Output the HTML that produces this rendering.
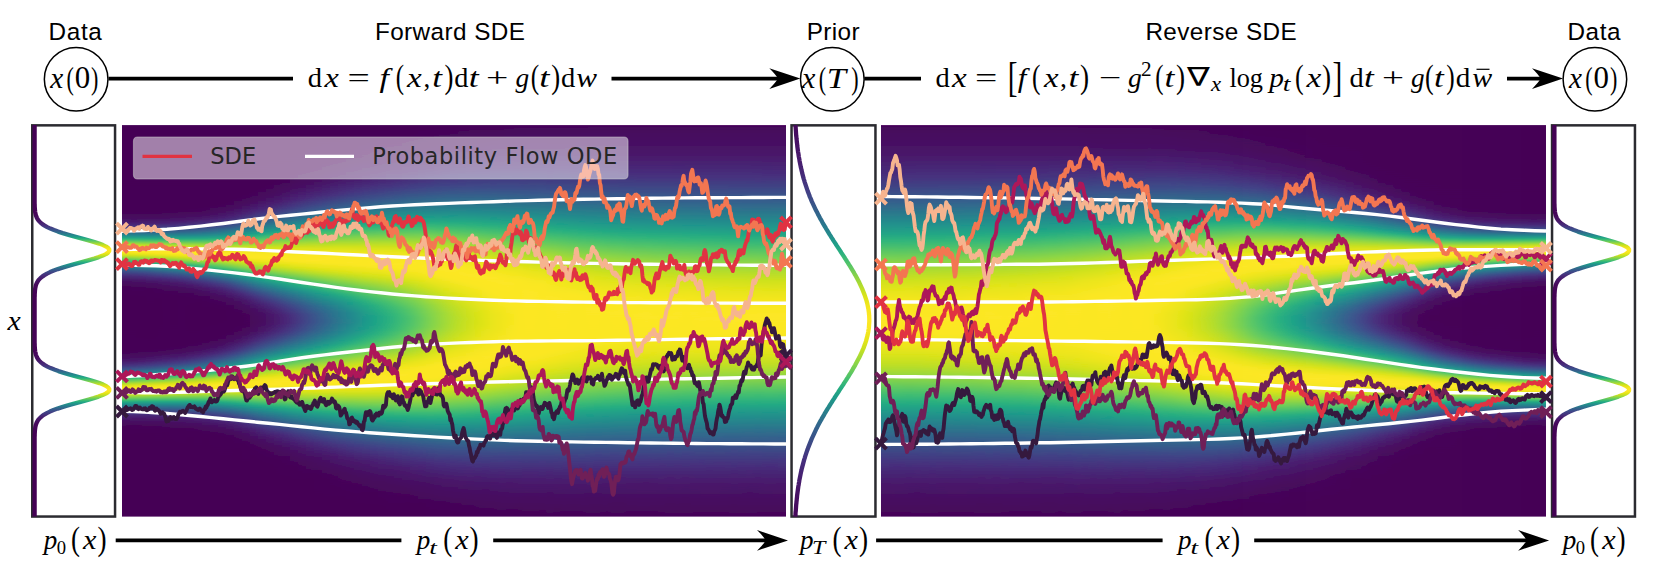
<!DOCTYPE html>
<html><head><meta charset="utf-8"><title>Score-based generative modeling through SDEs</title><style>html,body{margin:0;padding:0;background:#fff}
svg{display:block}
text{fill:#000}
.hv{font-family:"Liberation Sans",sans-serif;font-size:24.3px}
.dj{font-family:"DejaVu Sans",sans-serif;font-size:22.5px;fill:#262626}
.r{font-family:"Liberation Serif",serif}
.dv{font-family:"DejaVu Serif","DejaVu Sans",serif}
.ds{font-family:"DejaVu Sans",sans-serif}
.i{font-family:"Liberation Serif",serif;font-style:italic}</style></head><body>
<svg width="1668" height="580" viewBox="0 0 1668 580">
<defs>
<linearGradient id="h0" x1="0" y1="0" x2="0" y2="1"><stop offset="0" stop-color="#440154"/><stop offset="0.22" stop-color="#440256"/><stop offset="0.235" stop-color="#460a5d"/><stop offset="0.25" stop-color="#482071"/><stop offset="0.26" stop-color="#443a83"/><stop offset="0.276" stop-color="#2c728e"/><stop offset="0.286" stop-color="#1f9f88"/><stop offset="0.291" stop-color="#34b679"/><stop offset="0.296" stop-color="#60ca60"/><stop offset="0.301" stop-color="#95d840"/><stop offset="0.306" stop-color="#c8e020"/><stop offset="0.311" stop-color="#eae51a"/><stop offset="0.317" stop-color="#fbe723"/><stop offset="0.322" stop-color="#fde725"/><stop offset="0.327" stop-color="#efe51c"/><stop offset="0.332" stop-color="#d0e11c"/><stop offset="0.337" stop-color="#a0da39"/><stop offset="0.342" stop-color="#6ccd5a"/><stop offset="0.347" stop-color="#3bbb75"/><stop offset="0.352" stop-color="#20a386"/><stop offset="0.357" stop-color="#228d8d"/><stop offset="0.373" stop-color="#3c4f8a"/><stop offset="0.383" stop-color="#472e7c"/><stop offset="0.393" stop-color="#48186a"/><stop offset="0.408" stop-color="#46075a"/><stop offset="0.439" stop-color="#440154"/><stop offset="0.577" stop-color="#440256"/><stop offset="0.592" stop-color="#460b5e"/><stop offset="0.608" stop-color="#482374"/><stop offset="0.618" stop-color="#423f85"/><stop offset="0.633" stop-color="#2a788e"/><stop offset="0.638" stop-color="#218f8d"/><stop offset="0.643" stop-color="#21a685"/><stop offset="0.648" stop-color="#3fbc73"/><stop offset="0.654" stop-color="#70cf57"/><stop offset="0.659" stop-color="#a5db36"/><stop offset="0.664" stop-color="#d2e21b"/><stop offset="0.669" stop-color="#f1e51d"/><stop offset="0.674" stop-color="#fde725"/><stop offset="0.679" stop-color="#fbe723"/><stop offset="0.684" stop-color="#e7e419"/><stop offset="0.689" stop-color="#c2df23"/><stop offset="0.694" stop-color="#90d743"/><stop offset="0.7" stop-color="#5cc863"/><stop offset="0.705" stop-color="#2fb47c"/><stop offset="0.71" stop-color="#1e9d89"/><stop offset="0.72" stop-color="#2d718e"/><stop offset="0.73" stop-color="#3e4989"/><stop offset="0.74" stop-color="#472a7a"/><stop offset="0.756" stop-color="#470e61"/><stop offset="0.776" stop-color="#440256"/><stop offset="1" stop-color="#440154"/></linearGradient>
<linearGradient id="h1" x1="0" y1="0" x2="0" y2="1"><stop offset="0" stop-color="#440154"/><stop offset="0.22" stop-color="#440256"/><stop offset="0.235" stop-color="#460a5d"/><stop offset="0.25" stop-color="#482071"/><stop offset="0.26" stop-color="#443a83"/><stop offset="0.276" stop-color="#2c728e"/><stop offset="0.286" stop-color="#1f9f88"/><stop offset="0.291" stop-color="#34b679"/><stop offset="0.296" stop-color="#60ca60"/><stop offset="0.301" stop-color="#95d840"/><stop offset="0.306" stop-color="#c8e020"/><stop offset="0.311" stop-color="#eae51a"/><stop offset="0.317" stop-color="#fbe723"/><stop offset="0.322" stop-color="#fde725"/><stop offset="0.327" stop-color="#efe51c"/><stop offset="0.332" stop-color="#d0e11c"/><stop offset="0.337" stop-color="#a0da39"/><stop offset="0.342" stop-color="#6ccd5a"/><stop offset="0.347" stop-color="#3bbb75"/><stop offset="0.352" stop-color="#20a386"/><stop offset="0.357" stop-color="#228d8d"/><stop offset="0.373" stop-color="#3c4f8a"/><stop offset="0.383" stop-color="#472e7c"/><stop offset="0.393" stop-color="#48186a"/><stop offset="0.408" stop-color="#46075a"/><stop offset="0.439" stop-color="#440154"/><stop offset="0.577" stop-color="#440256"/><stop offset="0.592" stop-color="#460b5e"/><stop offset="0.608" stop-color="#482374"/><stop offset="0.618" stop-color="#423f85"/><stop offset="0.633" stop-color="#2a788e"/><stop offset="0.638" stop-color="#218f8d"/><stop offset="0.643" stop-color="#21a685"/><stop offset="0.648" stop-color="#3fbc73"/><stop offset="0.654" stop-color="#70cf57"/><stop offset="0.659" stop-color="#a5db36"/><stop offset="0.664" stop-color="#d2e21b"/><stop offset="0.669" stop-color="#f1e51d"/><stop offset="0.674" stop-color="#fde725"/><stop offset="0.679" stop-color="#fbe723"/><stop offset="0.684" stop-color="#e7e419"/><stop offset="0.689" stop-color="#c2df23"/><stop offset="0.694" stop-color="#90d743"/><stop offset="0.7" stop-color="#5cc863"/><stop offset="0.705" stop-color="#2fb47c"/><stop offset="0.71" stop-color="#1e9d89"/><stop offset="0.72" stop-color="#2d718e"/><stop offset="0.73" stop-color="#3e4989"/><stop offset="0.74" stop-color="#472a7a"/><stop offset="0.756" stop-color="#470e61"/><stop offset="0.776" stop-color="#440256"/><stop offset="1" stop-color="#440154"/></linearGradient>
<linearGradient id="h2" x1="0" y1="0" x2="0" y2="1"><stop offset="0" stop-color="#440154"/><stop offset="0.22" stop-color="#440256"/><stop offset="0.235" stop-color="#460a5d"/><stop offset="0.25" stop-color="#481f70"/><stop offset="0.26" stop-color="#443983"/><stop offset="0.271" stop-color="#365d8d"/><stop offset="0.281" stop-color="#24878e"/><stop offset="0.286" stop-color="#1f9e89"/><stop offset="0.291" stop-color="#31b57b"/><stop offset="0.296" stop-color="#5ec962"/><stop offset="0.301" stop-color="#93d741"/><stop offset="0.306" stop-color="#c5e021"/><stop offset="0.311" stop-color="#e7e419"/><stop offset="0.317" stop-color="#fbe723"/><stop offset="0.322" stop-color="#fde725"/><stop offset="0.327" stop-color="#efe51c"/><stop offset="0.332" stop-color="#d2e21b"/><stop offset="0.337" stop-color="#a2da37"/><stop offset="0.342" stop-color="#6ece58"/><stop offset="0.347" stop-color="#3dbc74"/><stop offset="0.352" stop-color="#21a585"/><stop offset="0.357" stop-color="#218e8d"/><stop offset="0.373" stop-color="#3c508b"/><stop offset="0.383" stop-color="#472f7d"/><stop offset="0.393" stop-color="#48186a"/><stop offset="0.408" stop-color="#46075a"/><stop offset="0.439" stop-color="#440154"/><stop offset="0.577" stop-color="#440256"/><stop offset="0.597" stop-color="#471164"/><stop offset="0.613" stop-color="#46307e"/><stop offset="0.623" stop-color="#3b528b"/><stop offset="0.638" stop-color="#21908d"/><stop offset="0.643" stop-color="#22a785"/><stop offset="0.648" stop-color="#42be71"/><stop offset="0.654" stop-color="#73d056"/><stop offset="0.659" stop-color="#a8db34"/><stop offset="0.664" stop-color="#d5e21a"/><stop offset="0.669" stop-color="#f1e51d"/><stop offset="0.674" stop-color="#fde725"/><stop offset="0.679" stop-color="#fbe723"/><stop offset="0.684" stop-color="#e5e419"/><stop offset="0.689" stop-color="#c0df25"/><stop offset="0.694" stop-color="#8ed645"/><stop offset="0.7" stop-color="#58c765"/><stop offset="0.705" stop-color="#2eb37c"/><stop offset="0.71" stop-color="#1e9c89"/><stop offset="0.72" stop-color="#2d708e"/><stop offset="0.73" stop-color="#3f4889"/><stop offset="0.74" stop-color="#482979"/><stop offset="0.756" stop-color="#470e61"/><stop offset="0.771" stop-color="#450457"/><stop offset="0.827" stop-color="#440154"/><stop offset="1" stop-color="#440154"/></linearGradient>
<linearGradient id="h3" x1="0" y1="0" x2="0" y2="1"><stop offset="0" stop-color="#440154"/><stop offset="0.22" stop-color="#440256"/><stop offset="0.24" stop-color="#470e61"/><stop offset="0.255" stop-color="#472a7a"/><stop offset="0.266" stop-color="#3e4989"/><stop offset="0.281" stop-color="#25858e"/><stop offset="0.286" stop-color="#1e9c89"/><stop offset="0.291" stop-color="#2eb37c"/><stop offset="0.296" stop-color="#5ac864"/><stop offset="0.301" stop-color="#8ed645"/><stop offset="0.306" stop-color="#c0df25"/><stop offset="0.311" stop-color="#e5e419"/><stop offset="0.317" stop-color="#fbe723"/><stop offset="0.322" stop-color="#fde725"/><stop offset="0.327" stop-color="#f1e51d"/><stop offset="0.332" stop-color="#d5e21a"/><stop offset="0.337" stop-color="#aadc32"/><stop offset="0.342" stop-color="#75d054"/><stop offset="0.347" stop-color="#44bf70"/><stop offset="0.352" stop-color="#23a983"/><stop offset="0.357" stop-color="#20928c"/><stop offset="0.373" stop-color="#3a538b"/><stop offset="0.383" stop-color="#46327e"/><stop offset="0.398" stop-color="#471365"/><stop offset="0.414" stop-color="#450559"/><stop offset="0.444" stop-color="#440154"/><stop offset="0.572" stop-color="#440256"/><stop offset="0.587" stop-color="#46085c"/><stop offset="0.603" stop-color="#481b6d"/><stop offset="0.613" stop-color="#46337f"/><stop offset="0.623" stop-color="#3a548c"/><stop offset="0.633" stop-color="#287d8e"/><stop offset="0.638" stop-color="#20938c"/><stop offset="0.643" stop-color="#25ab82"/><stop offset="0.648" stop-color="#48c16e"/><stop offset="0.654" stop-color="#7ad151"/><stop offset="0.659" stop-color="#b0dd2f"/><stop offset="0.664" stop-color="#dae319"/><stop offset="0.669" stop-color="#f4e61e"/><stop offset="0.674" stop-color="#fde725"/><stop offset="0.679" stop-color="#f8e621"/><stop offset="0.684" stop-color="#e2e418"/><stop offset="0.689" stop-color="#bade28"/><stop offset="0.694" stop-color="#89d548"/><stop offset="0.7" stop-color="#54c568"/><stop offset="0.705" stop-color="#2cb17e"/><stop offset="0.71" stop-color="#1f9a8a"/><stop offset="0.72" stop-color="#2e6e8e"/><stop offset="0.73" stop-color="#3f4788"/><stop offset="0.74" stop-color="#482979"/><stop offset="0.751" stop-color="#481668"/><stop offset="0.766" stop-color="#450559"/><stop offset="0.797" stop-color="#440154"/><stop offset="1" stop-color="#440154"/></linearGradient>
<linearGradient id="h4" x1="0" y1="0" x2="0" y2="1"><stop offset="0" stop-color="#440154"/><stop offset="0.22" stop-color="#440256"/><stop offset="0.235" stop-color="#460a5d"/><stop offset="0.25" stop-color="#481f70"/><stop offset="0.26" stop-color="#443983"/><stop offset="0.271" stop-color="#365c8d"/><stop offset="0.281" stop-color="#25848e"/><stop offset="0.286" stop-color="#1e9b8a"/><stop offset="0.291" stop-color="#2db27d"/><stop offset="0.296" stop-color="#56c667"/><stop offset="0.301" stop-color="#8bd646"/><stop offset="0.306" stop-color="#bddf26"/><stop offset="0.311" stop-color="#e2e418"/><stop offset="0.317" stop-color="#f8e621"/><stop offset="0.322" stop-color="#fde725"/><stop offset="0.327" stop-color="#f4e61e"/><stop offset="0.332" stop-color="#dae319"/><stop offset="0.337" stop-color="#b2dd2d"/><stop offset="0.342" stop-color="#7fd34e"/><stop offset="0.347" stop-color="#4cc26c"/><stop offset="0.352" stop-color="#26ad81"/><stop offset="0.357" stop-color="#1f958b"/><stop offset="0.368" stop-color="#2f6b8e"/><stop offset="0.378" stop-color="#404588"/><stop offset="0.388" stop-color="#482878"/><stop offset="0.398" stop-color="#481467"/><stop offset="0.414" stop-color="#450559"/><stop offset="0.444" stop-color="#440154"/><stop offset="0.572" stop-color="#440256"/><stop offset="0.592" stop-color="#470e61"/><stop offset="0.603" stop-color="#481d6f"/><stop offset="0.613" stop-color="#453781"/><stop offset="0.623" stop-color="#38598c"/><stop offset="0.633" stop-color="#26828e"/><stop offset="0.638" stop-color="#1f988b"/><stop offset="0.643" stop-color="#29af7f"/><stop offset="0.648" stop-color="#50c46a"/><stop offset="0.654" stop-color="#84d44b"/><stop offset="0.659" stop-color="#b5de2b"/><stop offset="0.664" stop-color="#dfe318"/><stop offset="0.669" stop-color="#f6e620"/><stop offset="0.674" stop-color="#fde725"/><stop offset="0.679" stop-color="#f6e620"/><stop offset="0.684" stop-color="#dfe318"/><stop offset="0.689" stop-color="#b8de29"/><stop offset="0.694" stop-color="#84d44b"/><stop offset="0.7" stop-color="#52c569"/><stop offset="0.705" stop-color="#29af7f"/><stop offset="0.71" stop-color="#1f998a"/><stop offset="0.72" stop-color="#2e6e8e"/><stop offset="0.73" stop-color="#3f4788"/><stop offset="0.74" stop-color="#482979"/><stop offset="0.751" stop-color="#481668"/><stop offset="0.766" stop-color="#46075a"/><stop offset="0.791" stop-color="#440154"/><stop offset="1" stop-color="#440154"/></linearGradient>
<linearGradient id="h5" x1="0" y1="0" x2="0" y2="1"><stop offset="0" stop-color="#440154"/><stop offset="0.22" stop-color="#440256"/><stop offset="0.235" stop-color="#460a5d"/><stop offset="0.25" stop-color="#482071"/><stop offset="0.26" stop-color="#443983"/><stop offset="0.271" stop-color="#365c8d"/><stop offset="0.281" stop-color="#25848e"/><stop offset="0.286" stop-color="#1f9a8a"/><stop offset="0.291" stop-color="#2cb17e"/><stop offset="0.296" stop-color="#54c568"/><stop offset="0.301" stop-color="#86d549"/><stop offset="0.306" stop-color="#b8de29"/><stop offset="0.311" stop-color="#dfe318"/><stop offset="0.317" stop-color="#f6e620"/><stop offset="0.322" stop-color="#fde725"/><stop offset="0.327" stop-color="#f6e620"/><stop offset="0.332" stop-color="#dfe318"/><stop offset="0.337" stop-color="#bade28"/><stop offset="0.342" stop-color="#89d548"/><stop offset="0.347" stop-color="#54c568"/><stop offset="0.352" stop-color="#2cb17e"/><stop offset="0.357" stop-color="#1e9b8a"/><stop offset="0.368" stop-color="#2d708e"/><stop offset="0.378" stop-color="#3e4989"/><stop offset="0.388" stop-color="#472c7a"/><stop offset="0.403" stop-color="#471063"/><stop offset="0.419" stop-color="#450457"/><stop offset="0.5" stop-color="#440154"/><stop offset="0.572" stop-color="#440256"/><stop offset="0.587" stop-color="#460b5e"/><stop offset="0.603" stop-color="#482173"/><stop offset="0.613" stop-color="#443b84"/><stop offset="0.628" stop-color="#2c718e"/><stop offset="0.638" stop-color="#1e9d89"/><stop offset="0.643" stop-color="#2fb47c"/><stop offset="0.648" stop-color="#5ac864"/><stop offset="0.654" stop-color="#8ed645"/><stop offset="0.659" stop-color="#bddf26"/><stop offset="0.664" stop-color="#e2e418"/><stop offset="0.669" stop-color="#f8e621"/><stop offset="0.674" stop-color="#fde725"/><stop offset="0.679" stop-color="#f6e620"/><stop offset="0.684" stop-color="#dde318"/><stop offset="0.689" stop-color="#b2dd2d"/><stop offset="0.694" stop-color="#81d34d"/><stop offset="0.7" stop-color="#4ec36b"/><stop offset="0.705" stop-color="#28ae80"/><stop offset="0.71" stop-color="#1f988b"/><stop offset="0.72" stop-color="#2e6e8e"/><stop offset="0.73" stop-color="#3f4889"/><stop offset="0.74" stop-color="#472a7a"/><stop offset="0.751" stop-color="#481668"/><stop offset="0.766" stop-color="#46075a"/><stop offset="0.791" stop-color="#440154"/><stop offset="1" stop-color="#440154"/></linearGradient>
<linearGradient id="h6" x1="0" y1="0" x2="0" y2="1"><stop offset="0" stop-color="#440154"/><stop offset="0.22" stop-color="#440256"/><stop offset="0.235" stop-color="#460b5e"/><stop offset="0.25" stop-color="#482071"/><stop offset="0.26" stop-color="#443a83"/><stop offset="0.276" stop-color="#2d708e"/><stop offset="0.286" stop-color="#1f9a8a"/><stop offset="0.291" stop-color="#2ab07f"/><stop offset="0.296" stop-color="#52c569"/><stop offset="0.301" stop-color="#84d44b"/><stop offset="0.306" stop-color="#b5de2b"/><stop offset="0.311" stop-color="#dde318"/><stop offset="0.317" stop-color="#f4e61e"/><stop offset="0.322" stop-color="#fde725"/><stop offset="0.327" stop-color="#f8e621"/><stop offset="0.332" stop-color="#e5e419"/><stop offset="0.337" stop-color="#c2df23"/><stop offset="0.342" stop-color="#93d741"/><stop offset="0.347" stop-color="#5ec962"/><stop offset="0.352" stop-color="#34b679"/><stop offset="0.357" stop-color="#1fa188"/><stop offset="0.368" stop-color="#2b758e"/><stop offset="0.383" stop-color="#423f85"/><stop offset="0.393" stop-color="#482475"/><stop offset="0.403" stop-color="#471365"/><stop offset="0.419" stop-color="#450559"/><stop offset="0.449" stop-color="#440154"/><stop offset="0.567" stop-color="#440256"/><stop offset="0.582" stop-color="#46085c"/><stop offset="0.597" stop-color="#481b6d"/><stop offset="0.613" stop-color="#424086"/><stop offset="0.628" stop-color="#2a778e"/><stop offset="0.633" stop-color="#228d8d"/><stop offset="0.638" stop-color="#1fa287"/><stop offset="0.643" stop-color="#37b878"/><stop offset="0.648" stop-color="#63cb5f"/><stop offset="0.654" stop-color="#98d83e"/><stop offset="0.659" stop-color="#c5e021"/><stop offset="0.664" stop-color="#e7e419"/><stop offset="0.669" stop-color="#fbe723"/><stop offset="0.674" stop-color="#fde725"/><stop offset="0.679" stop-color="#f4e61e"/><stop offset="0.684" stop-color="#d8e219"/><stop offset="0.689" stop-color="#b0dd2f"/><stop offset="0.694" stop-color="#7fd34e"/><stop offset="0.7" stop-color="#4cc26c"/><stop offset="0.705" stop-color="#28ae80"/><stop offset="0.71" stop-color="#1f988b"/><stop offset="0.72" stop-color="#2e6e8e"/><stop offset="0.735" stop-color="#443983"/><stop offset="0.745" stop-color="#482071"/><stop offset="0.761" stop-color="#460b5e"/><stop offset="0.776" stop-color="#440256"/><stop offset="1" stop-color="#440154"/></linearGradient>
<linearGradient id="h7" x1="0" y1="0" x2="0" y2="1"><stop offset="0" stop-color="#440154"/><stop offset="0.214" stop-color="#440256"/><stop offset="0.235" stop-color="#460b5e"/><stop offset="0.25" stop-color="#482173"/><stop offset="0.26" stop-color="#443b84"/><stop offset="0.276" stop-color="#2d718e"/><stop offset="0.286" stop-color="#1f9a8a"/><stop offset="0.291" stop-color="#29af7f"/><stop offset="0.296" stop-color="#50c46a"/><stop offset="0.306" stop-color="#b0dd2f"/><stop offset="0.311" stop-color="#d8e219"/><stop offset="0.317" stop-color="#f4e61e"/><stop offset="0.322" stop-color="#fde725"/><stop offset="0.327" stop-color="#fbe723"/><stop offset="0.332" stop-color="#eae51a"/><stop offset="0.337" stop-color="#c8e020"/><stop offset="0.342" stop-color="#9dd93b"/><stop offset="0.347" stop-color="#69cd5b"/><stop offset="0.352" stop-color="#3dbc74"/><stop offset="0.357" stop-color="#21a685"/><stop offset="0.363" stop-color="#21918c"/><stop offset="0.378" stop-color="#39558c"/><stop offset="0.388" stop-color="#453581"/><stop offset="0.398" stop-color="#481d6f"/><stop offset="0.414" stop-color="#460a5d"/><stop offset="0.434" stop-color="#440256"/><stop offset="0.567" stop-color="#440256"/><stop offset="0.582" stop-color="#460a5d"/><stop offset="0.603" stop-color="#482979"/><stop offset="0.613" stop-color="#404688"/><stop offset="0.628" stop-color="#277e8e"/><stop offset="0.633" stop-color="#20928c"/><stop offset="0.638" stop-color="#22a884"/><stop offset="0.643" stop-color="#40bd72"/><stop offset="0.648" stop-color="#6ece58"/><stop offset="0.659" stop-color="#cde11d"/><stop offset="0.664" stop-color="#ece51b"/><stop offset="0.669" stop-color="#fbe723"/><stop offset="0.674" stop-color="#fde725"/><stop offset="0.679" stop-color="#f1e51d"/><stop offset="0.684" stop-color="#d5e21a"/><stop offset="0.689" stop-color="#addc30"/><stop offset="0.694" stop-color="#7ad151"/><stop offset="0.7" stop-color="#4ac16d"/><stop offset="0.705" stop-color="#27ad81"/><stop offset="0.71" stop-color="#1f978b"/><stop offset="0.72" stop-color="#2e6e8e"/><stop offset="0.735" stop-color="#443a83"/><stop offset="0.745" stop-color="#482173"/><stop offset="0.761" stop-color="#460b5e"/><stop offset="0.786" stop-color="#440154"/><stop offset="1" stop-color="#440154"/></linearGradient>
<linearGradient id="h8" x1="0" y1="0" x2="0" y2="1"><stop offset="0" stop-color="#440154"/><stop offset="0.214" stop-color="#440256"/><stop offset="0.23" stop-color="#46085c"/><stop offset="0.245" stop-color="#481a6c"/><stop offset="0.255" stop-color="#472e7c"/><stop offset="0.266" stop-color="#3d4d8a"/><stop offset="0.281" stop-color="#25848e"/><stop offset="0.286" stop-color="#1f998a"/><stop offset="0.291" stop-color="#29af7f"/><stop offset="0.296" stop-color="#4ec36b"/><stop offset="0.306" stop-color="#addc30"/><stop offset="0.311" stop-color="#d5e21a"/><stop offset="0.317" stop-color="#f1e51d"/><stop offset="0.322" stop-color="#fde725"/><stop offset="0.327" stop-color="#fde725"/><stop offset="0.332" stop-color="#efe51c"/><stop offset="0.337" stop-color="#d0e11c"/><stop offset="0.342" stop-color="#a5db36"/><stop offset="0.347" stop-color="#75d054"/><stop offset="0.352" stop-color="#46c06f"/><stop offset="0.357" stop-color="#25ac82"/><stop offset="0.363" stop-color="#1f968b"/><stop offset="0.378" stop-color="#365c8d"/><stop offset="0.388" stop-color="#443a83"/><stop offset="0.403" stop-color="#48186a"/><stop offset="0.424" stop-color="#450559"/><stop offset="0.454" stop-color="#440154"/><stop offset="0.562" stop-color="#440256"/><stop offset="0.577" stop-color="#46085c"/><stop offset="0.592" stop-color="#481a6c"/><stop offset="0.608" stop-color="#443b84"/><stop offset="0.623" stop-color="#2d708e"/><stop offset="0.633" stop-color="#1f998a"/><stop offset="0.638" stop-color="#28ae80"/><stop offset="0.643" stop-color="#4cc26c"/><stop offset="0.654" stop-color="#aadc32"/><stop offset="0.659" stop-color="#d5e21a"/><stop offset="0.664" stop-color="#efe51c"/><stop offset="0.669" stop-color="#fde725"/><stop offset="0.674" stop-color="#fde725"/><stop offset="0.679" stop-color="#efe51c"/><stop offset="0.684" stop-color="#d2e21b"/><stop offset="0.689" stop-color="#a8db34"/><stop offset="0.694" stop-color="#77d153"/><stop offset="0.7" stop-color="#48c16e"/><stop offset="0.705" stop-color="#26ad81"/><stop offset="0.71" stop-color="#1f978b"/><stop offset="0.72" stop-color="#2e6f8e"/><stop offset="0.735" stop-color="#443b84"/><stop offset="0.745" stop-color="#482374"/><stop offset="0.761" stop-color="#470d60"/><stop offset="0.776" stop-color="#450457"/><stop offset="0.832" stop-color="#440154"/><stop offset="1" stop-color="#440154"/></linearGradient>
<linearGradient id="h9" x1="0" y1="0" x2="0" y2="1"><stop offset="0" stop-color="#440154"/><stop offset="0.214" stop-color="#440256"/><stop offset="0.235" stop-color="#470e61"/><stop offset="0.245" stop-color="#481b6d"/><stop offset="0.26" stop-color="#433e85"/><stop offset="0.276" stop-color="#2c718e"/><stop offset="0.286" stop-color="#1f9a8a"/><stop offset="0.291" stop-color="#28ae80"/><stop offset="0.296" stop-color="#4cc26c"/><stop offset="0.306" stop-color="#aadc32"/><stop offset="0.311" stop-color="#d2e21b"/><stop offset="0.317" stop-color="#efe51c"/><stop offset="0.322" stop-color="#fde725"/><stop offset="0.327" stop-color="#fde725"/><stop offset="0.332" stop-color="#f1e51d"/><stop offset="0.337" stop-color="#d8e219"/><stop offset="0.342" stop-color="#b0dd2f"/><stop offset="0.347" stop-color="#81d34d"/><stop offset="0.352" stop-color="#52c569"/><stop offset="0.357" stop-color="#2db27d"/><stop offset="0.363" stop-color="#1e9d89"/><stop offset="0.373" stop-color="#2b748e"/><stop offset="0.388" stop-color="#424086"/><stop offset="0.403" stop-color="#481c6e"/><stop offset="0.419" stop-color="#460a5d"/><stop offset="0.439" stop-color="#440256"/><stop offset="0.562" stop-color="#440256"/><stop offset="0.577" stop-color="#460a5d"/><stop offset="0.592" stop-color="#481d6f"/><stop offset="0.608" stop-color="#414287"/><stop offset="0.623" stop-color="#2a768e"/><stop offset="0.633" stop-color="#1fa088"/><stop offset="0.638" stop-color="#2fb47c"/><stop offset="0.643" stop-color="#56c667"/><stop offset="0.648" stop-color="#86d549"/><stop offset="0.654" stop-color="#b5de2b"/><stop offset="0.659" stop-color="#dae319"/><stop offset="0.664" stop-color="#f4e61e"/><stop offset="0.669" stop-color="#fde725"/><stop offset="0.674" stop-color="#fbe723"/><stop offset="0.679" stop-color="#ece51b"/><stop offset="0.684" stop-color="#cde11d"/><stop offset="0.689" stop-color="#a5db36"/><stop offset="0.7" stop-color="#48c16e"/><stop offset="0.705" stop-color="#26ad81"/><stop offset="0.71" stop-color="#1f978b"/><stop offset="0.725" stop-color="#355e8d"/><stop offset="0.74" stop-color="#472f7d"/><stop offset="0.756" stop-color="#471365"/><stop offset="0.776" stop-color="#450457"/><stop offset="0.858" stop-color="#440154"/><stop offset="1" stop-color="#440154"/></linearGradient>
<linearGradient id="h10" x1="0" y1="0" x2="0" y2="1"><stop offset="0" stop-color="#440154"/><stop offset="0.209" stop-color="#440256"/><stop offset="0.225" stop-color="#46075a"/><stop offset="0.245" stop-color="#481d6f"/><stop offset="0.26" stop-color="#424186"/><stop offset="0.276" stop-color="#2c738e"/><stop offset="0.286" stop-color="#1e9b8a"/><stop offset="0.291" stop-color="#29af7f"/><stop offset="0.296" stop-color="#4cc26c"/><stop offset="0.306" stop-color="#a5db36"/><stop offset="0.311" stop-color="#d0e11c"/><stop offset="0.317" stop-color="#ece51b"/><stop offset="0.322" stop-color="#fbe723"/><stop offset="0.327" stop-color="#fde725"/><stop offset="0.332" stop-color="#f4e61e"/><stop offset="0.337" stop-color="#dfe318"/><stop offset="0.342" stop-color="#bade28"/><stop offset="0.352" stop-color="#60ca60"/><stop offset="0.357" stop-color="#37b878"/><stop offset="0.363" stop-color="#20a486"/><stop offset="0.368" stop-color="#21908d"/><stop offset="0.383" stop-color="#38598c"/><stop offset="0.398" stop-color="#472d7b"/><stop offset="0.408" stop-color="#481a6c"/><stop offset="0.429" stop-color="#450559"/><stop offset="0.47" stop-color="#440154"/><stop offset="0.557" stop-color="#440256"/><stop offset="0.577" stop-color="#470d60"/><stop offset="0.592" stop-color="#482374"/><stop offset="0.608" stop-color="#3e4989"/><stop offset="0.623" stop-color="#277e8e"/><stop offset="0.628" stop-color="#20928c"/><stop offset="0.633" stop-color="#21a685"/><stop offset="0.638" stop-color="#3aba76"/><stop offset="0.643" stop-color="#65cb5e"/><stop offset="0.654" stop-color="#c0df25"/><stop offset="0.659" stop-color="#e2e418"/><stop offset="0.664" stop-color="#f6e620"/><stop offset="0.669" stop-color="#fde725"/><stop offset="0.674" stop-color="#fbe723"/><stop offset="0.679" stop-color="#eae51a"/><stop offset="0.684" stop-color="#cae11f"/><stop offset="0.689" stop-color="#a2da37"/><stop offset="0.7" stop-color="#46c06f"/><stop offset="0.705" stop-color="#26ad81"/><stop offset="0.71" stop-color="#1f988b"/><stop offset="0.725" stop-color="#34608d"/><stop offset="0.74" stop-color="#46327e"/><stop offset="0.751" stop-color="#481c6e"/><stop offset="0.771" stop-color="#46075a"/><stop offset="0.802" stop-color="#440154"/><stop offset="1" stop-color="#440154"/></linearGradient>
<linearGradient id="h11" x1="0" y1="0" x2="0" y2="1"><stop offset="0" stop-color="#440154"/><stop offset="0.209" stop-color="#440256"/><stop offset="0.225" stop-color="#46085c"/><stop offset="0.24" stop-color="#48186a"/><stop offset="0.255" stop-color="#453781"/><stop offset="0.271" stop-color="#32658e"/><stop offset="0.281" stop-color="#23888e"/><stop offset="0.286" stop-color="#1e9c89"/><stop offset="0.291" stop-color="#2ab07f"/><stop offset="0.296" stop-color="#4cc26c"/><stop offset="0.306" stop-color="#a5db36"/><stop offset="0.311" stop-color="#cde11d"/><stop offset="0.317" stop-color="#eae51a"/><stop offset="0.322" stop-color="#f8e621"/><stop offset="0.327" stop-color="#fde725"/><stop offset="0.332" stop-color="#f8e621"/><stop offset="0.337" stop-color="#e5e419"/><stop offset="0.342" stop-color="#c5e021"/><stop offset="0.347" stop-color="#9dd93b"/><stop offset="0.352" stop-color="#6ece58"/><stop offset="0.357" stop-color="#44bf70"/><stop offset="0.363" stop-color="#26ad81"/><stop offset="0.368" stop-color="#1f988b"/><stop offset="0.383" stop-color="#34618d"/><stop offset="0.398" stop-color="#463480"/><stop offset="0.414" stop-color="#481769"/><stop offset="0.429" stop-color="#46085c"/><stop offset="0.454" stop-color="#440154"/><stop offset="0.551" stop-color="#440256"/><stop offset="0.567" stop-color="#46085c"/><stop offset="0.582" stop-color="#48186a"/><stop offset="0.592" stop-color="#482979"/><stop offset="0.608" stop-color="#3b528b"/><stop offset="0.623" stop-color="#24878e"/><stop offset="0.628" stop-color="#1e9b8a"/><stop offset="0.633" stop-color="#28ae80"/><stop offset="0.638" stop-color="#48c16e"/><stop offset="0.648" stop-color="#a0da39"/><stop offset="0.654" stop-color="#cae11f"/><stop offset="0.659" stop-color="#e7e419"/><stop offset="0.664" stop-color="#f8e621"/><stop offset="0.669" stop-color="#fde725"/><stop offset="0.674" stop-color="#f8e621"/><stop offset="0.679" stop-color="#e7e419"/><stop offset="0.684" stop-color="#c8e020"/><stop offset="0.689" stop-color="#a0da39"/><stop offset="0.7" stop-color="#48c16e"/><stop offset="0.705" stop-color="#28ae80"/><stop offset="0.71" stop-color="#1f9a8a"/><stop offset="0.72" stop-color="#2b748e"/><stop offset="0.735" stop-color="#414287"/><stop offset="0.745" stop-color="#482979"/><stop offset="0.761" stop-color="#471164"/><stop offset="0.781" stop-color="#450457"/><stop offset="0.863" stop-color="#440154"/><stop offset="1" stop-color="#440154"/></linearGradient>
<linearGradient id="h12" x1="0" y1="0" x2="0" y2="1"><stop offset="0" stop-color="#440154"/><stop offset="0.204" stop-color="#440256"/><stop offset="0.22" stop-color="#46075a"/><stop offset="0.235" stop-color="#481467"/><stop offset="0.25" stop-color="#472e7c"/><stop offset="0.266" stop-color="#38588c"/><stop offset="0.281" stop-color="#228b8d"/><stop offset="0.286" stop-color="#1f9e89"/><stop offset="0.291" stop-color="#2cb17e"/><stop offset="0.296" stop-color="#4ec36b"/><stop offset="0.306" stop-color="#a2da37"/><stop offset="0.311" stop-color="#cae11f"/><stop offset="0.317" stop-color="#e7e419"/><stop offset="0.322" stop-color="#f8e621"/><stop offset="0.327" stop-color="#fde725"/><stop offset="0.332" stop-color="#fbe723"/><stop offset="0.337" stop-color="#eae51a"/><stop offset="0.342" stop-color="#d0e11c"/><stop offset="0.347" stop-color="#aadc32"/><stop offset="0.357" stop-color="#54c568"/><stop offset="0.363" stop-color="#31b57b"/><stop offset="0.368" stop-color="#1fa187"/><stop offset="0.373" stop-color="#218f8d"/><stop offset="0.388" stop-color="#375b8d"/><stop offset="0.403" stop-color="#46307e"/><stop offset="0.419" stop-color="#481668"/><stop offset="0.439" stop-color="#450559"/><stop offset="0.48" stop-color="#440154"/><stop offset="0.551" stop-color="#450457"/><stop offset="0.572" stop-color="#471063"/><stop offset="0.587" stop-color="#482677"/><stop offset="0.603" stop-color="#3d4d8a"/><stop offset="0.618" stop-color="#277e8e"/><stop offset="0.623" stop-color="#21918c"/><stop offset="0.628" stop-color="#20a386"/><stop offset="0.633" stop-color="#34b679"/><stop offset="0.638" stop-color="#58c765"/><stop offset="0.648" stop-color="#addc30"/><stop offset="0.654" stop-color="#d2e21b"/><stop offset="0.659" stop-color="#ece51b"/><stop offset="0.664" stop-color="#fbe723"/><stop offset="0.669" stop-color="#fde725"/><stop offset="0.674" stop-color="#f6e620"/><stop offset="0.679" stop-color="#e5e419"/><stop offset="0.684" stop-color="#c5e021"/><stop offset="0.694" stop-color="#73d056"/><stop offset="0.7" stop-color="#4ac16d"/><stop offset="0.705" stop-color="#29af7f"/><stop offset="0.71" stop-color="#1e9c89"/><stop offset="0.72" stop-color="#2a778e"/><stop offset="0.735" stop-color="#3f4788"/><stop offset="0.751" stop-color="#482374"/><stop offset="0.771" stop-color="#460a5d"/><stop offset="0.802" stop-color="#440154"/><stop offset="1" stop-color="#440154"/></linearGradient>
<linearGradient id="h13" x1="0" y1="0" x2="0" y2="1"><stop offset="0" stop-color="#440154"/><stop offset="0.204" stop-color="#440256"/><stop offset="0.23" stop-color="#471164"/><stop offset="0.245" stop-color="#482878"/><stop offset="0.26" stop-color="#3d4d8a"/><stop offset="0.276" stop-color="#287d8e"/><stop offset="0.286" stop-color="#1fa188"/><stop offset="0.291" stop-color="#2eb37c"/><stop offset="0.296" stop-color="#50c46a"/><stop offset="0.306" stop-color="#a2da37"/><stop offset="0.311" stop-color="#c8e020"/><stop offset="0.317" stop-color="#e5e419"/><stop offset="0.322" stop-color="#f6e620"/><stop offset="0.327" stop-color="#fde725"/><stop offset="0.332" stop-color="#fbe723"/><stop offset="0.337" stop-color="#efe51c"/><stop offset="0.342" stop-color="#d8e219"/><stop offset="0.347" stop-color="#b8de29"/><stop offset="0.357" stop-color="#65cb5e"/><stop offset="0.363" stop-color="#3fbc73"/><stop offset="0.368" stop-color="#25ab82"/><stop offset="0.373" stop-color="#1f988b"/><stop offset="0.388" stop-color="#32658e"/><stop offset="0.403" stop-color="#443983"/><stop offset="0.419" stop-color="#481c6e"/><stop offset="0.439" stop-color="#46085c"/><stop offset="0.47" stop-color="#440154"/><stop offset="0.546" stop-color="#450457"/><stop offset="0.567" stop-color="#471063"/><stop offset="0.582" stop-color="#482576"/><stop offset="0.597" stop-color="#3f4889"/><stop offset="0.613" stop-color="#2a768e"/><stop offset="0.623" stop-color="#1f9a8a"/><stop offset="0.628" stop-color="#26ad81"/><stop offset="0.633" stop-color="#42be71"/><stop offset="0.643" stop-color="#93d741"/><stop offset="0.648" stop-color="#bade28"/><stop offset="0.654" stop-color="#dae319"/><stop offset="0.659" stop-color="#f1e51d"/><stop offset="0.664" stop-color="#fde725"/><stop offset="0.669" stop-color="#fde725"/><stop offset="0.674" stop-color="#f6e620"/><stop offset="0.679" stop-color="#e2e418"/><stop offset="0.684" stop-color="#c5e021"/><stop offset="0.694" stop-color="#73d056"/><stop offset="0.7" stop-color="#4cc26c"/><stop offset="0.705" stop-color="#2cb17e"/><stop offset="0.71" stop-color="#1f9f88"/><stop offset="0.72" stop-color="#297b8e"/><stop offset="0.735" stop-color="#3e4c8a"/><stop offset="0.751" stop-color="#482878"/><stop offset="0.766" stop-color="#471164"/><stop offset="0.786" stop-color="#450457"/><stop offset="0.868" stop-color="#440154"/><stop offset="1" stop-color="#440154"/></linearGradient>
<linearGradient id="h14" x1="0" y1="0" x2="0" y2="1"><stop offset="0" stop-color="#440154"/><stop offset="0.199" stop-color="#440256"/><stop offset="0.22" stop-color="#460b5e"/><stop offset="0.24" stop-color="#482475"/><stop offset="0.255" stop-color="#404588"/><stop offset="0.276" stop-color="#26818e"/><stop offset="0.281" stop-color="#20928c"/><stop offset="0.286" stop-color="#20a386"/><stop offset="0.291" stop-color="#31b57b"/><stop offset="0.296" stop-color="#52c569"/><stop offset="0.306" stop-color="#a2da37"/><stop offset="0.311" stop-color="#c5e021"/><stop offset="0.317" stop-color="#e2e418"/><stop offset="0.322" stop-color="#f4e61e"/><stop offset="0.327" stop-color="#fde725"/><stop offset="0.332" stop-color="#fde725"/><stop offset="0.337" stop-color="#f4e61e"/><stop offset="0.342" stop-color="#dfe318"/><stop offset="0.347" stop-color="#c2df23"/><stop offset="0.357" stop-color="#75d054"/><stop offset="0.363" stop-color="#50c46a"/><stop offset="0.368" stop-color="#2fb47c"/><stop offset="0.373" stop-color="#1fa287"/><stop offset="0.378" stop-color="#21918c"/><stop offset="0.393" stop-color="#34608d"/><stop offset="0.408" stop-color="#453781"/><stop offset="0.424" stop-color="#481b6d"/><stop offset="0.444" stop-color="#46085c"/><stop offset="0.475" stop-color="#440154"/><stop offset="0.541" stop-color="#450457"/><stop offset="0.562" stop-color="#471063"/><stop offset="0.582" stop-color="#472d7b"/><stop offset="0.597" stop-color="#3b528b"/><stop offset="0.613" stop-color="#26818e"/><stop offset="0.618" stop-color="#20928c"/><stop offset="0.623" stop-color="#20a486"/><stop offset="0.628" stop-color="#32b67a"/><stop offset="0.633" stop-color="#52c569"/><stop offset="0.643" stop-color="#a2da37"/><stop offset="0.648" stop-color="#c8e020"/><stop offset="0.654" stop-color="#e2e418"/><stop offset="0.659" stop-color="#f6e620"/><stop offset="0.664" stop-color="#fde725"/><stop offset="0.669" stop-color="#fde725"/><stop offset="0.674" stop-color="#f4e61e"/><stop offset="0.679" stop-color="#dfe318"/><stop offset="0.684" stop-color="#c2df23"/><stop offset="0.694" stop-color="#75d054"/><stop offset="0.7" stop-color="#4ec36b"/><stop offset="0.705" stop-color="#2eb37c"/><stop offset="0.71" stop-color="#1fa187"/><stop offset="0.72" stop-color="#277f8e"/><stop offset="0.74" stop-color="#414487"/><stop offset="0.756" stop-color="#482374"/><stop offset="0.776" stop-color="#460b5e"/><stop offset="0.797" stop-color="#440256"/><stop offset="1" stop-color="#440154"/></linearGradient>
<linearGradient id="h15" x1="0" y1="0" x2="0" y2="1"><stop offset="0" stop-color="#440154"/><stop offset="0.194" stop-color="#440256"/><stop offset="0.214" stop-color="#460b5e"/><stop offset="0.235" stop-color="#482173"/><stop offset="0.25" stop-color="#423f85"/><stop offset="0.266" stop-color="#31688e"/><stop offset="0.281" stop-color="#1f978b"/><stop offset="0.286" stop-color="#22a884"/><stop offset="0.291" stop-color="#37b878"/><stop offset="0.296" stop-color="#56c667"/><stop offset="0.306" stop-color="#a2da37"/><stop offset="0.311" stop-color="#c5e021"/><stop offset="0.317" stop-color="#dfe318"/><stop offset="0.322" stop-color="#f4e61e"/><stop offset="0.327" stop-color="#fde725"/><stop offset="0.332" stop-color="#fde725"/><stop offset="0.337" stop-color="#f6e620"/><stop offset="0.342" stop-color="#e7e419"/><stop offset="0.347" stop-color="#d0e11c"/><stop offset="0.352" stop-color="#b0dd2f"/><stop offset="0.363" stop-color="#63cb5f"/><stop offset="0.368" stop-color="#3fbc73"/><stop offset="0.373" stop-color="#26ad81"/><stop offset="0.378" stop-color="#1e9c89"/><stop offset="0.393" stop-color="#2e6d8e"/><stop offset="0.408" stop-color="#414487"/><stop offset="0.424" stop-color="#482475"/><stop offset="0.444" stop-color="#470d60"/><stop offset="0.47" stop-color="#440256"/><stop offset="0.526" stop-color="#440256"/><stop offset="0.551" stop-color="#470d60"/><stop offset="0.572" stop-color="#482576"/><stop offset="0.587" stop-color="#404588"/><stop offset="0.608" stop-color="#287d8e"/><stop offset="0.618" stop-color="#1f9e89"/><stop offset="0.623" stop-color="#28ae80"/><stop offset="0.628" stop-color="#42be71"/><stop offset="0.638" stop-color="#8ed645"/><stop offset="0.643" stop-color="#b2dd2d"/><stop offset="0.648" stop-color="#d2e21b"/><stop offset="0.654" stop-color="#eae51a"/><stop offset="0.659" stop-color="#f8e621"/><stop offset="0.664" stop-color="#fde725"/><stop offset="0.669" stop-color="#fbe723"/><stop offset="0.674" stop-color="#f1e51d"/><stop offset="0.679" stop-color="#dde318"/><stop offset="0.684" stop-color="#c2df23"/><stop offset="0.689" stop-color="#a0da39"/><stop offset="0.7" stop-color="#54c568"/><stop offset="0.705" stop-color="#34b679"/><stop offset="0.71" stop-color="#21a685"/><stop offset="0.715" stop-color="#1f958b"/><stop offset="0.73" stop-color="#31668e"/><stop offset="0.745" stop-color="#433e85"/><stop offset="0.761" stop-color="#482071"/><stop offset="0.781" stop-color="#460b5e"/><stop offset="0.802" stop-color="#440256"/><stop offset="1" stop-color="#440154"/></linearGradient>
<linearGradient id="h16" x1="0" y1="0" x2="0" y2="1"><stop offset="0" stop-color="#440154"/><stop offset="0.184" stop-color="#440256"/><stop offset="0.209" stop-color="#470d60"/><stop offset="0.23" stop-color="#482173"/><stop offset="0.245" stop-color="#433d84"/><stop offset="0.26" stop-color="#33628d"/><stop offset="0.276" stop-color="#218e8d"/><stop offset="0.281" stop-color="#1e9d89"/><stop offset="0.286" stop-color="#26ad81"/><stop offset="0.291" stop-color="#3dbc74"/><stop offset="0.301" stop-color="#81d34d"/><stop offset="0.311" stop-color="#c5e021"/><stop offset="0.317" stop-color="#dfe318"/><stop offset="0.322" stop-color="#f1e51d"/><stop offset="0.327" stop-color="#fbe723"/><stop offset="0.337" stop-color="#fbe723"/><stop offset="0.342" stop-color="#efe51c"/><stop offset="0.347" stop-color="#dae319"/><stop offset="0.352" stop-color="#bddf26"/><stop offset="0.363" stop-color="#7ad151"/><stop offset="0.368" stop-color="#56c667"/><stop offset="0.373" stop-color="#37b878"/><stop offset="0.378" stop-color="#23a983"/><stop offset="0.383" stop-color="#1f998a"/><stop offset="0.398" stop-color="#2e6d8e"/><stop offset="0.414" stop-color="#404688"/><stop offset="0.429" stop-color="#482677"/><stop offset="0.454" stop-color="#460b5e"/><stop offset="0.49" stop-color="#440154"/><stop offset="0.531" stop-color="#46075a"/><stop offset="0.551" stop-color="#481467"/><stop offset="0.572" stop-color="#46307e"/><stop offset="0.587" stop-color="#3a538b"/><stop offset="0.608" stop-color="#228b8d"/><stop offset="0.613" stop-color="#1e9b8a"/><stop offset="0.618" stop-color="#25ab82"/><stop offset="0.623" stop-color="#3aba76"/><stop offset="0.628" stop-color="#58c765"/><stop offset="0.638" stop-color="#a0da39"/><stop offset="0.643" stop-color="#c2df23"/><stop offset="0.648" stop-color="#dde318"/><stop offset="0.654" stop-color="#efe51c"/><stop offset="0.659" stop-color="#fbe723"/><stop offset="0.669" stop-color="#fbe723"/><stop offset="0.674" stop-color="#f1e51d"/><stop offset="0.679" stop-color="#dde318"/><stop offset="0.684" stop-color="#c2df23"/><stop offset="0.694" stop-color="#7fd34e"/><stop offset="0.7" stop-color="#5ac864"/><stop offset="0.705" stop-color="#3bbb75"/><stop offset="0.71" stop-color="#25ac82"/><stop offset="0.715" stop-color="#1e9c89"/><stop offset="0.73" stop-color="#2e6f8e"/><stop offset="0.751" stop-color="#443b84"/><stop offset="0.766" stop-color="#482071"/><stop offset="0.791" stop-color="#46085c"/><stop offset="0.832" stop-color="#440154"/><stop offset="1" stop-color="#440154"/></linearGradient>
<linearGradient id="h17" x1="0" y1="0" x2="0" y2="1"><stop offset="0" stop-color="#440154"/><stop offset="0.174" stop-color="#440256"/><stop offset="0.199" stop-color="#460a5d"/><stop offset="0.225" stop-color="#482374"/><stop offset="0.24" stop-color="#433d84"/><stop offset="0.26" stop-color="#2f6c8e"/><stop offset="0.276" stop-color="#1f958b"/><stop offset="0.281" stop-color="#20a486"/><stop offset="0.286" stop-color="#2eb37c"/><stop offset="0.291" stop-color="#46c06f"/><stop offset="0.301" stop-color="#89d548"/><stop offset="0.311" stop-color="#c8e020"/><stop offset="0.317" stop-color="#dfe318"/><stop offset="0.322" stop-color="#f1e51d"/><stop offset="0.327" stop-color="#fbe723"/><stop offset="0.337" stop-color="#fbe723"/><stop offset="0.342" stop-color="#f4e61e"/><stop offset="0.347" stop-color="#e2e418"/><stop offset="0.352" stop-color="#cde11d"/><stop offset="0.363" stop-color="#8ed645"/><stop offset="0.373" stop-color="#4cc26c"/><stop offset="0.378" stop-color="#32b67a"/><stop offset="0.383" stop-color="#22a785"/><stop offset="0.388" stop-color="#1f988b"/><stop offset="0.408" stop-color="#34618d"/><stop offset="0.429" stop-color="#463480"/><stop offset="0.449" stop-color="#481769"/><stop offset="0.475" stop-color="#46075a"/><stop offset="0.511" stop-color="#450457"/><stop offset="0.536" stop-color="#470e61"/><stop offset="0.557" stop-color="#482475"/><stop offset="0.577" stop-color="#3e4a89"/><stop offset="0.597" stop-color="#287d8e"/><stop offset="0.608" stop-color="#1f998a"/><stop offset="0.613" stop-color="#22a884"/><stop offset="0.618" stop-color="#34b679"/><stop offset="0.628" stop-color="#70cf57"/><stop offset="0.638" stop-color="#b2dd2d"/><stop offset="0.643" stop-color="#d0e11c"/><stop offset="0.648" stop-color="#e5e419"/><stop offset="0.654" stop-color="#f4e61e"/><stop offset="0.659" stop-color="#fde725"/><stop offset="0.669" stop-color="#fbe723"/><stop offset="0.674" stop-color="#efe51c"/><stop offset="0.679" stop-color="#dde318"/><stop offset="0.684" stop-color="#c5e021"/><stop offset="0.7" stop-color="#63cb5f"/><stop offset="0.705" stop-color="#44bf70"/><stop offset="0.71" stop-color="#2cb17e"/><stop offset="0.715" stop-color="#1fa287"/><stop offset="0.725" stop-color="#25858e"/><stop offset="0.745" stop-color="#3b518b"/><stop offset="0.766" stop-color="#482979"/><stop offset="0.786" stop-color="#471164"/><stop offset="0.812" stop-color="#450457"/><stop offset="0.924" stop-color="#440154"/><stop offset="1" stop-color="#440154"/></linearGradient>
<linearGradient id="h18" x1="0" y1="0" x2="0" y2="1"><stop offset="0" stop-color="#440154"/><stop offset="0.168" stop-color="#440256"/><stop offset="0.194" stop-color="#460b5e"/><stop offset="0.22" stop-color="#482475"/><stop offset="0.24" stop-color="#404688"/><stop offset="0.266" stop-color="#26828e"/><stop offset="0.276" stop-color="#1e9d89"/><stop offset="0.281" stop-color="#24aa83"/><stop offset="0.286" stop-color="#35b779"/><stop offset="0.296" stop-color="#6ece58"/><stop offset="0.306" stop-color="#addc30"/><stop offset="0.311" stop-color="#c8e020"/><stop offset="0.317" stop-color="#dfe318"/><stop offset="0.322" stop-color="#efe51c"/><stop offset="0.327" stop-color="#f8e621"/><stop offset="0.337" stop-color="#fde725"/><stop offset="0.342" stop-color="#f6e620"/><stop offset="0.347" stop-color="#eae51a"/><stop offset="0.352" stop-color="#d8e219"/><stop offset="0.357" stop-color="#c0df25"/><stop offset="0.373" stop-color="#63cb5f"/><stop offset="0.383" stop-color="#2eb37c"/><stop offset="0.388" stop-color="#21a585"/><stop offset="0.393" stop-color="#1f978b"/><stop offset="0.414" stop-color="#32648e"/><stop offset="0.434" stop-color="#443983"/><stop offset="0.449" stop-color="#482173"/><stop offset="0.475" stop-color="#460b5e"/><stop offset="0.505" stop-color="#46075a"/><stop offset="0.526" stop-color="#470e61"/><stop offset="0.551" stop-color="#482979"/><stop offset="0.572" stop-color="#3d4e8a"/><stop offset="0.597" stop-color="#228b8d"/><stop offset="0.603" stop-color="#1f998a"/><stop offset="0.608" stop-color="#22a785"/><stop offset="0.613" stop-color="#31b57b"/><stop offset="0.618" stop-color="#48c16e"/><stop offset="0.628" stop-color="#86d549"/><stop offset="0.638" stop-color="#c2df23"/><stop offset="0.643" stop-color="#dae319"/><stop offset="0.648" stop-color="#ece51b"/><stop offset="0.654" stop-color="#f8e621"/><stop offset="0.664" stop-color="#fde725"/><stop offset="0.669" stop-color="#f8e621"/><stop offset="0.674" stop-color="#efe51c"/><stop offset="0.679" stop-color="#dde318"/><stop offset="0.684" stop-color="#c5e021"/><stop offset="0.694" stop-color="#8bd646"/><stop offset="0.705" stop-color="#4ec36b"/><stop offset="0.71" stop-color="#34b679"/><stop offset="0.715" stop-color="#23a983"/><stop offset="0.72" stop-color="#1e9b8a"/><stop offset="0.74" stop-color="#31678e"/><stop offset="0.761" stop-color="#443b84"/><stop offset="0.781" stop-color="#481c6e"/><stop offset="0.807" stop-color="#46085c"/><stop offset="0.848" stop-color="#440154"/><stop offset="1" stop-color="#440154"/></linearGradient>
<linearGradient id="h19" x1="0" y1="0" x2="0" y2="1"><stop offset="0" stop-color="#440154"/><stop offset="0.158" stop-color="#440256"/><stop offset="0.189" stop-color="#470d60"/><stop offset="0.214" stop-color="#482576"/><stop offset="0.235" stop-color="#404688"/><stop offset="0.26" stop-color="#287d8e"/><stop offset="0.271" stop-color="#1f968b"/><stop offset="0.276" stop-color="#20a386"/><stop offset="0.281" stop-color="#2ab07f"/><stop offset="0.291" stop-color="#58c765"/><stop offset="0.306" stop-color="#b0dd2f"/><stop offset="0.311" stop-color="#cae11f"/><stop offset="0.317" stop-color="#dfe318"/><stop offset="0.322" stop-color="#efe51c"/><stop offset="0.327" stop-color="#f8e621"/><stop offset="0.337" stop-color="#fde725"/><stop offset="0.342" stop-color="#f8e621"/><stop offset="0.347" stop-color="#efe51c"/><stop offset="0.352" stop-color="#dfe318"/><stop offset="0.357" stop-color="#cae11f"/><stop offset="0.368" stop-color="#95d840"/><stop offset="0.378" stop-color="#5ac864"/><stop offset="0.388" stop-color="#2cb17e"/><stop offset="0.393" stop-color="#20a486"/><stop offset="0.398" stop-color="#1f978b"/><stop offset="0.419" stop-color="#31678e"/><stop offset="0.439" stop-color="#433d84"/><stop offset="0.46" stop-color="#482071"/><stop offset="0.48" stop-color="#471063"/><stop offset="0.5" stop-color="#460b5e"/><stop offset="0.526" stop-color="#481769"/><stop offset="0.546" stop-color="#472e7c"/><stop offset="0.567" stop-color="#3b528b"/><stop offset="0.592" stop-color="#228b8d"/><stop offset="0.597" stop-color="#1f988b"/><stop offset="0.603" stop-color="#21a585"/><stop offset="0.608" stop-color="#2db27d"/><stop offset="0.613" stop-color="#42be71"/><stop offset="0.628" stop-color="#98d83e"/><stop offset="0.633" stop-color="#b5de2b"/><stop offset="0.638" stop-color="#cde11d"/><stop offset="0.643" stop-color="#e2e418"/><stop offset="0.648" stop-color="#f1e51d"/><stop offset="0.654" stop-color="#fbe723"/><stop offset="0.664" stop-color="#fde725"/><stop offset="0.669" stop-color="#f8e621"/><stop offset="0.679" stop-color="#dde318"/><stop offset="0.684" stop-color="#c8e020"/><stop offset="0.7" stop-color="#73d056"/><stop offset="0.71" stop-color="#3bbb75"/><stop offset="0.715" stop-color="#28ae80"/><stop offset="0.72" stop-color="#1fa187"/><stop offset="0.73" stop-color="#23888e"/><stop offset="0.756" stop-color="#3c4f8a"/><stop offset="0.776" stop-color="#472c7a"/><stop offset="0.802" stop-color="#471164"/><stop offset="0.822" stop-color="#46075a"/><stop offset="0.868" stop-color="#440154"/><stop offset="1" stop-color="#440154"/></linearGradient>
<linearGradient id="h20" x1="0" y1="0" x2="0" y2="1"><stop offset="0" stop-color="#440154"/><stop offset="0.148" stop-color="#440256"/><stop offset="0.179" stop-color="#460b5e"/><stop offset="0.204" stop-color="#482071"/><stop offset="0.225" stop-color="#443b84"/><stop offset="0.25" stop-color="#2e6d8e"/><stop offset="0.271" stop-color="#1e9c89"/><stop offset="0.276" stop-color="#22a884"/><stop offset="0.281" stop-color="#31b57b"/><stop offset="0.286" stop-color="#46c06f"/><stop offset="0.301" stop-color="#98d83e"/><stop offset="0.311" stop-color="#cae11f"/><stop offset="0.317" stop-color="#dfe318"/><stop offset="0.327" stop-color="#f8e621"/><stop offset="0.337" stop-color="#fde725"/><stop offset="0.347" stop-color="#f4e61e"/><stop offset="0.352" stop-color="#e7e419"/><stop offset="0.357" stop-color="#d5e21a"/><stop offset="0.363" stop-color="#c0df25"/><stop offset="0.378" stop-color="#6ece58"/><stop offset="0.388" stop-color="#3aba76"/><stop offset="0.393" stop-color="#28ae80"/><stop offset="0.398" stop-color="#1fa287"/><stop offset="0.408" stop-color="#238a8d"/><stop offset="0.434" stop-color="#3a538b"/><stop offset="0.454" stop-color="#46307e"/><stop offset="0.475" stop-color="#481b6d"/><stop offset="0.5" stop-color="#471365"/><stop offset="0.521" stop-color="#481b6d"/><stop offset="0.541" stop-color="#46327e"/><stop offset="0.567" stop-color="#355f8d"/><stop offset="0.592" stop-color="#1f978b"/><stop offset="0.597" stop-color="#20a386"/><stop offset="0.603" stop-color="#29af7f"/><stop offset="0.613" stop-color="#54c568"/><stop offset="0.628" stop-color="#a8db34"/><stop offset="0.633" stop-color="#c2df23"/><stop offset="0.638" stop-color="#d8e219"/><stop offset="0.643" stop-color="#e7e419"/><stop offset="0.648" stop-color="#f4e61e"/><stop offset="0.659" stop-color="#fde725"/><stop offset="0.664" stop-color="#fde725"/><stop offset="0.674" stop-color="#ece51b"/><stop offset="0.679" stop-color="#dde318"/><stop offset="0.684" stop-color="#c8e020"/><stop offset="0.694" stop-color="#95d840"/><stop offset="0.705" stop-color="#5cc863"/><stop offset="0.715" stop-color="#2eb37c"/><stop offset="0.72" stop-color="#22a785"/><stop offset="0.725" stop-color="#1e9b8a"/><stop offset="0.745" stop-color="#2f6c8e"/><stop offset="0.771" stop-color="#443b84"/><stop offset="0.797" stop-color="#481a6c"/><stop offset="0.827" stop-color="#46075a"/><stop offset="0.878" stop-color="#440154"/><stop offset="1" stop-color="#440154"/></linearGradient>
<linearGradient id="h21" x1="0" y1="0" x2="0" y2="1"><stop offset="0" stop-color="#440154"/><stop offset="0.138" stop-color="#440256"/><stop offset="0.174" stop-color="#470d60"/><stop offset="0.199" stop-color="#482071"/><stop offset="0.225" stop-color="#414487"/><stop offset="0.255" stop-color="#277f8e"/><stop offset="0.266" stop-color="#1f958b"/><stop offset="0.271" stop-color="#1fa187"/><stop offset="0.276" stop-color="#27ad81"/><stop offset="0.281" stop-color="#37b878"/><stop offset="0.296" stop-color="#81d34d"/><stop offset="0.306" stop-color="#b5de2b"/><stop offset="0.311" stop-color="#cae11f"/><stop offset="0.317" stop-color="#dfe318"/><stop offset="0.327" stop-color="#f6e620"/><stop offset="0.332" stop-color="#fde725"/><stop offset="0.342" stop-color="#fde725"/><stop offset="0.352" stop-color="#ece51b"/><stop offset="0.357" stop-color="#dde318"/><stop offset="0.363" stop-color="#cae11f"/><stop offset="0.378" stop-color="#7fd34e"/><stop offset="0.388" stop-color="#4ac16d"/><stop offset="0.398" stop-color="#25ac82"/><stop offset="0.403" stop-color="#1fa188"/><stop offset="0.419" stop-color="#277e8e"/><stop offset="0.449" stop-color="#414487"/><stop offset="0.47" stop-color="#482979"/><stop offset="0.485" stop-color="#481d6f"/><stop offset="0.505" stop-color="#481c6e"/><stop offset="0.531" stop-color="#472f7d"/><stop offset="0.557" stop-color="#39568c"/><stop offset="0.582" stop-color="#238a8d"/><stop offset="0.592" stop-color="#1fa187"/><stop offset="0.597" stop-color="#27ad81"/><stop offset="0.603" stop-color="#37b878"/><stop offset="0.618" stop-color="#81d34d"/><stop offset="0.628" stop-color="#b5de2b"/><stop offset="0.633" stop-color="#cae11f"/><stop offset="0.638" stop-color="#dfe318"/><stop offset="0.648" stop-color="#f6e620"/><stop offset="0.654" stop-color="#fde725"/><stop offset="0.664" stop-color="#fde725"/><stop offset="0.674" stop-color="#ece51b"/><stop offset="0.679" stop-color="#dde318"/><stop offset="0.684" stop-color="#cae11f"/><stop offset="0.7" stop-color="#7fd34e"/><stop offset="0.71" stop-color="#4ac16d"/><stop offset="0.72" stop-color="#25ac82"/><stop offset="0.725" stop-color="#1fa188"/><stop offset="0.74" stop-color="#277e8e"/><stop offset="0.766" stop-color="#3e4c8a"/><stop offset="0.791" stop-color="#482576"/><stop offset="0.822" stop-color="#470d60"/><stop offset="0.858" stop-color="#440256"/><stop offset="1" stop-color="#440154"/></linearGradient>
<linearGradient id="h22" x1="0" y1="0" x2="0" y2="1"><stop offset="0" stop-color="#440154"/><stop offset="0.133" stop-color="#440256"/><stop offset="0.163" stop-color="#460b5e"/><stop offset="0.194" stop-color="#482173"/><stop offset="0.22" stop-color="#414287"/><stop offset="0.25" stop-color="#297b8e"/><stop offset="0.266" stop-color="#1e9b8a"/><stop offset="0.271" stop-color="#21a685"/><stop offset="0.276" stop-color="#2cb17e"/><stop offset="0.281" stop-color="#3dbc74"/><stop offset="0.296" stop-color="#86d549"/><stop offset="0.306" stop-color="#b8de29"/><stop offset="0.311" stop-color="#cde11d"/><stop offset="0.317" stop-color="#dfe318"/><stop offset="0.327" stop-color="#f6e620"/><stop offset="0.342" stop-color="#fde725"/><stop offset="0.347" stop-color="#f8e621"/><stop offset="0.357" stop-color="#e2e418"/><stop offset="0.363" stop-color="#d2e21b"/><stop offset="0.373" stop-color="#a8db34"/><stop offset="0.388" stop-color="#5cc863"/><stop offset="0.398" stop-color="#31b57b"/><stop offset="0.403" stop-color="#24aa83"/><stop offset="0.408" stop-color="#1f9f88"/><stop offset="0.429" stop-color="#2b748e"/><stop offset="0.46" stop-color="#424086"/><stop offset="0.485" stop-color="#482878"/><stop offset="0.505" stop-color="#482677"/><stop offset="0.526" stop-color="#463480"/><stop offset="0.551" stop-color="#375a8c"/><stop offset="0.582" stop-color="#1f948c"/><stop offset="0.587" stop-color="#1fa088"/><stop offset="0.592" stop-color="#25ab82"/><stop offset="0.597" stop-color="#32b67a"/><stop offset="0.608" stop-color="#5ec962"/><stop offset="0.623" stop-color="#aadc32"/><stop offset="0.633" stop-color="#d5e21a"/><stop offset="0.638" stop-color="#e5e419"/><stop offset="0.643" stop-color="#f1e51d"/><stop offset="0.654" stop-color="#fde725"/><stop offset="0.669" stop-color="#f6e620"/><stop offset="0.679" stop-color="#dde318"/><stop offset="0.684" stop-color="#cae11f"/><stop offset="0.7" stop-color="#84d44b"/><stop offset="0.715" stop-color="#3bbb75"/><stop offset="0.72" stop-color="#2ab07f"/><stop offset="0.725" stop-color="#21a585"/><stop offset="0.735" stop-color="#218f8d"/><stop offset="0.766" stop-color="#3a538b"/><stop offset="0.791" stop-color="#472c7a"/><stop offset="0.822" stop-color="#471164"/><stop offset="0.848" stop-color="#450559"/><stop offset="0.914" stop-color="#440154"/><stop offset="1" stop-color="#440154"/></linearGradient>
<linearGradient id="h23" x1="0" y1="0" x2="0" y2="1"><stop offset="0" stop-color="#440154"/><stop offset="0.123" stop-color="#440256"/><stop offset="0.158" stop-color="#470d60"/><stop offset="0.189" stop-color="#482374"/><stop offset="0.209" stop-color="#443a83"/><stop offset="0.235" stop-color="#32658e"/><stop offset="0.26" stop-color="#1f968b"/><stop offset="0.266" stop-color="#1fa188"/><stop offset="0.271" stop-color="#25ac82"/><stop offset="0.276" stop-color="#32b67a"/><stop offset="0.286" stop-color="#5ac864"/><stop offset="0.301" stop-color="#a2da37"/><stop offset="0.306" stop-color="#bade28"/><stop offset="0.311" stop-color="#cde11d"/><stop offset="0.317" stop-color="#dfe318"/><stop offset="0.327" stop-color="#f6e620"/><stop offset="0.342" stop-color="#fde725"/><stop offset="0.352" stop-color="#f4e61e"/><stop offset="0.363" stop-color="#dae319"/><stop offset="0.368" stop-color="#c8e020"/><stop offset="0.388" stop-color="#6ccd5a"/><stop offset="0.398" stop-color="#3fbc73"/><stop offset="0.408" stop-color="#22a884"/><stop offset="0.414" stop-color="#1f9e89"/><stop offset="0.434" stop-color="#2b758e"/><stop offset="0.465" stop-color="#404688"/><stop offset="0.485" stop-color="#463480"/><stop offset="0.505" stop-color="#46327e"/><stop offset="0.531" stop-color="#404688"/><stop offset="0.567" stop-color="#27808e"/><stop offset="0.582" stop-color="#1f9f88"/><stop offset="0.587" stop-color="#23a983"/><stop offset="0.597" stop-color="#40bd72"/><stop offset="0.613" stop-color="#86d549"/><stop offset="0.628" stop-color="#cae11f"/><stop offset="0.633" stop-color="#dae319"/><stop offset="0.638" stop-color="#eae51a"/><stop offset="0.648" stop-color="#fbe723"/><stop offset="0.664" stop-color="#fbe723"/><stop offset="0.674" stop-color="#eae51a"/><stop offset="0.679" stop-color="#dde318"/><stop offset="0.684" stop-color="#cde11d"/><stop offset="0.705" stop-color="#70cf57"/><stop offset="0.715" stop-color="#42be71"/><stop offset="0.725" stop-color="#24aa83"/><stop offset="0.73" stop-color="#1fa088"/><stop offset="0.751" stop-color="#2a768e"/><stop offset="0.781" stop-color="#424186"/><stop offset="0.807" stop-color="#482173"/><stop offset="0.837" stop-color="#470d60"/><stop offset="0.873" stop-color="#440256"/><stop offset="1" stop-color="#440154"/></linearGradient>
<linearGradient id="h24" x1="0" y1="0" x2="0" y2="1"><stop offset="0" stop-color="#440154"/><stop offset="0.112" stop-color="#440256"/><stop offset="0.158" stop-color="#471063"/><stop offset="0.189" stop-color="#482878"/><stop offset="0.214" stop-color="#3e4989"/><stop offset="0.25" stop-color="#24878e"/><stop offset="0.26" stop-color="#1e9b8a"/><stop offset="0.266" stop-color="#21a585"/><stop offset="0.271" stop-color="#29af7f"/><stop offset="0.281" stop-color="#4cc26c"/><stop offset="0.296" stop-color="#90d743"/><stop offset="0.311" stop-color="#d0e11c"/><stop offset="0.317" stop-color="#dfe318"/><stop offset="0.322" stop-color="#ece51b"/><stop offset="0.332" stop-color="#fbe723"/><stop offset="0.347" stop-color="#fbe723"/><stop offset="0.352" stop-color="#f6e620"/><stop offset="0.363" stop-color="#dfe318"/><stop offset="0.368" stop-color="#d0e11c"/><stop offset="0.378" stop-color="#a8db34"/><stop offset="0.398" stop-color="#4ec36b"/><stop offset="0.408" stop-color="#2ab07f"/><stop offset="0.414" stop-color="#22a785"/><stop offset="0.424" stop-color="#20928c"/><stop offset="0.454" stop-color="#34608d"/><stop offset="0.48" stop-color="#414487"/><stop offset="0.5" stop-color="#433e85"/><stop offset="0.521" stop-color="#3f4889"/><stop offset="0.546" stop-color="#31688e"/><stop offset="0.572" stop-color="#20938c"/><stop offset="0.577" stop-color="#1f9e89"/><stop offset="0.582" stop-color="#22a884"/><stop offset="0.592" stop-color="#3bbb75"/><stop offset="0.608" stop-color="#7cd250"/><stop offset="0.623" stop-color="#c0df25"/><stop offset="0.628" stop-color="#d2e21b"/><stop offset="0.633" stop-color="#e2e418"/><stop offset="0.643" stop-color="#f6e620"/><stop offset="0.659" stop-color="#fde725"/><stop offset="0.669" stop-color="#f4e61e"/><stop offset="0.679" stop-color="#dde318"/><stop offset="0.684" stop-color="#cde11d"/><stop offset="0.694" stop-color="#a5db36"/><stop offset="0.71" stop-color="#5ec962"/><stop offset="0.72" stop-color="#37b878"/><stop offset="0.725" stop-color="#28ae80"/><stop offset="0.73" stop-color="#20a486"/><stop offset="0.74" stop-color="#21908d"/><stop offset="0.771" stop-color="#38598c"/><stop offset="0.797" stop-color="#46337f"/><stop offset="0.827" stop-color="#481668"/><stop offset="0.863" stop-color="#46075a"/><stop offset="0.919" stop-color="#440154"/><stop offset="1" stop-color="#440154"/></linearGradient>
<linearGradient id="h25" x1="0" y1="0" x2="0" y2="1"><stop offset="0" stop-color="#440154"/><stop offset="0.112" stop-color="#450457"/><stop offset="0.148" stop-color="#470e61"/><stop offset="0.184" stop-color="#482878"/><stop offset="0.214" stop-color="#3c508b"/><stop offset="0.25" stop-color="#228c8d"/><stop offset="0.26" stop-color="#1fa088"/><stop offset="0.266" stop-color="#24aa83"/><stop offset="0.271" stop-color="#2eb37c"/><stop offset="0.286" stop-color="#67cc5c"/><stop offset="0.301" stop-color="#aadc32"/><stop offset="0.311" stop-color="#d0e11c"/><stop offset="0.317" stop-color="#dfe318"/><stop offset="0.332" stop-color="#fbe723"/><stop offset="0.347" stop-color="#fde725"/><stop offset="0.363" stop-color="#e5e419"/><stop offset="0.368" stop-color="#d8e219"/><stop offset="0.378" stop-color="#b2dd2d"/><stop offset="0.398" stop-color="#5cc863"/><stop offset="0.408" stop-color="#37b878"/><stop offset="0.419" stop-color="#21a585"/><stop offset="0.429" stop-color="#20928c"/><stop offset="0.46" stop-color="#32648e"/><stop offset="0.485" stop-color="#3d4e8a"/><stop offset="0.505" stop-color="#3e4c8a"/><stop offset="0.526" stop-color="#375a8c"/><stop offset="0.557" stop-color="#26828e"/><stop offset="0.572" stop-color="#1e9d89"/><stop offset="0.577" stop-color="#21a685"/><stop offset="0.587" stop-color="#38b977"/><stop offset="0.603" stop-color="#73d056"/><stop offset="0.618" stop-color="#b5de2b"/><stop offset="0.628" stop-color="#d8e219"/><stop offset="0.633" stop-color="#e5e419"/><stop offset="0.638" stop-color="#f1e51d"/><stop offset="0.648" stop-color="#fde725"/><stop offset="0.664" stop-color="#fbe723"/><stop offset="0.674" stop-color="#eae51a"/><stop offset="0.679" stop-color="#dde318"/><stop offset="0.684" stop-color="#cde11d"/><stop offset="0.694" stop-color="#a8db34"/><stop offset="0.715" stop-color="#50c46a"/><stop offset="0.725" stop-color="#2db27d"/><stop offset="0.73" stop-color="#23a983"/><stop offset="0.735" stop-color="#1f9f88"/><stop offset="0.756" stop-color="#29798e"/><stop offset="0.786" stop-color="#3f4788"/><stop offset="0.817" stop-color="#482374"/><stop offset="0.858" stop-color="#460a5d"/><stop offset="0.909" stop-color="#440154"/><stop offset="1" stop-color="#440154"/></linearGradient>
<linearGradient id="h26" x1="0" y1="0" x2="0" y2="1"><stop offset="0" stop-color="#440154"/><stop offset="0.107" stop-color="#450457"/><stop offset="0.138" stop-color="#470d60"/><stop offset="0.168" stop-color="#481f70"/><stop offset="0.199" stop-color="#424086"/><stop offset="0.235" stop-color="#2a768e"/><stop offset="0.255" stop-color="#1f9a8a"/><stop offset="0.26" stop-color="#20a486"/><stop offset="0.266" stop-color="#27ad81"/><stop offset="0.276" stop-color="#44bf70"/><stop offset="0.291" stop-color="#81d34d"/><stop offset="0.306" stop-color="#c0df25"/><stop offset="0.317" stop-color="#dfe318"/><stop offset="0.332" stop-color="#fbe723"/><stop offset="0.347" stop-color="#fde725"/><stop offset="0.363" stop-color="#eae51a"/><stop offset="0.368" stop-color="#dde318"/><stop offset="0.378" stop-color="#bddf26"/><stop offset="0.398" stop-color="#69cd5b"/><stop offset="0.408" stop-color="#42be71"/><stop offset="0.419" stop-color="#27ad81"/><stop offset="0.429" stop-color="#1e9c89"/><stop offset="0.46" stop-color="#2d708e"/><stop offset="0.48" stop-color="#365d8d"/><stop offset="0.5" stop-color="#38588c"/><stop offset="0.521" stop-color="#34618d"/><stop offset="0.546" stop-color="#287d8e"/><stop offset="0.567" stop-color="#1e9d89"/><stop offset="0.572" stop-color="#21a585"/><stop offset="0.577" stop-color="#28ae80"/><stop offset="0.587" stop-color="#44bf70"/><stop offset="0.608" stop-color="#95d840"/><stop offset="0.623" stop-color="#d0e11c"/><stop offset="0.633" stop-color="#eae51a"/><stop offset="0.638" stop-color="#f4e61e"/><stop offset="0.648" stop-color="#fde725"/><stop offset="0.659" stop-color="#fde725"/><stop offset="0.669" stop-color="#f4e61e"/><stop offset="0.679" stop-color="#dde318"/><stop offset="0.684" stop-color="#d0e11c"/><stop offset="0.7" stop-color="#95d840"/><stop offset="0.715" stop-color="#56c667"/><stop offset="0.725" stop-color="#32b67a"/><stop offset="0.73" stop-color="#26ad81"/><stop offset="0.735" stop-color="#20a386"/><stop offset="0.745" stop-color="#21918c"/><stop offset="0.781" stop-color="#39558c"/><stop offset="0.812" stop-color="#472d7b"/><stop offset="0.848" stop-color="#471164"/><stop offset="0.888" stop-color="#450457"/><stop offset="1" stop-color="#440154"/></linearGradient>
<linearGradient id="h27" x1="0" y1="0" x2="0" y2="1"><stop offset="0" stop-color="#440154"/><stop offset="0.097" stop-color="#450457"/><stop offset="0.138" stop-color="#471063"/><stop offset="0.179" stop-color="#472d7b"/><stop offset="0.209" stop-color="#3a548c"/><stop offset="0.245" stop-color="#228c8d"/><stop offset="0.255" stop-color="#1f9f88"/><stop offset="0.26" stop-color="#22a785"/><stop offset="0.266" stop-color="#2ab07f"/><stop offset="0.276" stop-color="#4ac16d"/><stop offset="0.296" stop-color="#9bd93c"/><stop offset="0.311" stop-color="#d0e11c"/><stop offset="0.317" stop-color="#dfe318"/><stop offset="0.327" stop-color="#f4e61e"/><stop offset="0.337" stop-color="#fde725"/><stop offset="0.352" stop-color="#fbe723"/><stop offset="0.368" stop-color="#e2e418"/><stop offset="0.373" stop-color="#d5e21a"/><stop offset="0.383" stop-color="#b2dd2d"/><stop offset="0.403" stop-color="#63cb5f"/><stop offset="0.414" stop-color="#3fbc73"/><stop offset="0.424" stop-color="#26ad81"/><stop offset="0.434" stop-color="#1e9c89"/><stop offset="0.465" stop-color="#2b748e"/><stop offset="0.485" stop-color="#31668e"/><stop offset="0.505" stop-color="#32648e"/><stop offset="0.531" stop-color="#2b748e"/><stop offset="0.562" stop-color="#1e9d89"/><stop offset="0.572" stop-color="#27ad81"/><stop offset="0.582" stop-color="#40bd72"/><stop offset="0.597" stop-color="#77d153"/><stop offset="0.613" stop-color="#b5de2b"/><stop offset="0.623" stop-color="#d5e21a"/><stop offset="0.633" stop-color="#ece51b"/><stop offset="0.638" stop-color="#f6e620"/><stop offset="0.654" stop-color="#fde725"/><stop offset="0.664" stop-color="#f8e621"/><stop offset="0.674" stop-color="#eae51a"/><stop offset="0.684" stop-color="#d0e11c"/><stop offset="0.694" stop-color="#addc30"/><stop offset="0.715" stop-color="#5ac864"/><stop offset="0.725" stop-color="#37b878"/><stop offset="0.73" stop-color="#29af7f"/><stop offset="0.74" stop-color="#1f9e89"/><stop offset="0.766" stop-color="#2c728e"/><stop offset="0.797" stop-color="#404588"/><stop offset="0.827" stop-color="#482374"/><stop offset="0.863" stop-color="#470d60"/><stop offset="0.909" stop-color="#440256"/><stop offset="1" stop-color="#440154"/></linearGradient>
<linearGradient id="h28" x1="0" y1="0" x2="0" y2="1"><stop offset="0" stop-color="#440154"/><stop offset="0.092" stop-color="#450457"/><stop offset="0.138" stop-color="#471365"/><stop offset="0.179" stop-color="#46327e"/><stop offset="0.214" stop-color="#34618d"/><stop offset="0.245" stop-color="#21918c"/><stop offset="0.255" stop-color="#1fa287"/><stop offset="0.26" stop-color="#25ab82"/><stop offset="0.271" stop-color="#3dbc74"/><stop offset="0.291" stop-color="#89d548"/><stop offset="0.306" stop-color="#c2df23"/><stop offset="0.311" stop-color="#d2e21b"/><stop offset="0.322" stop-color="#eae51a"/><stop offset="0.337" stop-color="#fde725"/><stop offset="0.352" stop-color="#fbe723"/><stop offset="0.363" stop-color="#efe51c"/><stop offset="0.373" stop-color="#dae319"/><stop offset="0.383" stop-color="#bade28"/><stop offset="0.398" stop-color="#84d44b"/><stop offset="0.414" stop-color="#4cc26c"/><stop offset="0.424" stop-color="#2fb47c"/><stop offset="0.434" stop-color="#21a585"/><stop offset="0.449" stop-color="#21908d"/><stop offset="0.475" stop-color="#2a768e"/><stop offset="0.5" stop-color="#2e6f8e"/><stop offset="0.521" stop-color="#2a778e"/><stop offset="0.541" stop-color="#238a8d"/><stop offset="0.557" stop-color="#1f9e89"/><stop offset="0.567" stop-color="#27ad81"/><stop offset="0.577" stop-color="#3dbc74"/><stop offset="0.587" stop-color="#5ec962"/><stop offset="0.608" stop-color="#aadc32"/><stop offset="0.618" stop-color="#cde11d"/><stop offset="0.628" stop-color="#e7e419"/><stop offset="0.643" stop-color="#fbe723"/><stop offset="0.659" stop-color="#fde725"/><stop offset="0.674" stop-color="#eae51a"/><stop offset="0.684" stop-color="#d0e11c"/><stop offset="0.7" stop-color="#9bd93c"/><stop offset="0.72" stop-color="#4cc26c"/><stop offset="0.73" stop-color="#2eb37c"/><stop offset="0.735" stop-color="#24aa83"/><stop offset="0.745" stop-color="#1f988b"/><stop offset="0.776" stop-color="#31678e"/><stop offset="0.807" stop-color="#433d84"/><stop offset="0.842" stop-color="#481b6d"/><stop offset="0.888" stop-color="#46075a"/><stop offset="0.965" stop-color="#440154"/><stop offset="1" stop-color="#440154"/></linearGradient>
<linearGradient id="h29" x1="0" y1="0" x2="0" y2="1"><stop offset="0" stop-color="#440154"/><stop offset="0.087" stop-color="#450457"/><stop offset="0.133" stop-color="#471365"/><stop offset="0.174" stop-color="#46327e"/><stop offset="0.209" stop-color="#355e8d"/><stop offset="0.245" stop-color="#1f948c"/><stop offset="0.255" stop-color="#21a585"/><stop offset="0.266" stop-color="#32b67a"/><stop offset="0.276" stop-color="#52c569"/><stop offset="0.301" stop-color="#b2dd2d"/><stop offset="0.311" stop-color="#d2e21b"/><stop offset="0.322" stop-color="#eae51a"/><stop offset="0.337" stop-color="#fde725"/><stop offset="0.357" stop-color="#f8e621"/><stop offset="0.373" stop-color="#dfe318"/><stop offset="0.378" stop-color="#d2e21b"/><stop offset="0.393" stop-color="#a0da39"/><stop offset="0.414" stop-color="#58c765"/><stop offset="0.429" stop-color="#2fb47c"/><stop offset="0.439" stop-color="#21a685"/><stop offset="0.454" stop-color="#20938c"/><stop offset="0.48" stop-color="#277e8e"/><stop offset="0.505" stop-color="#297b8e"/><stop offset="0.531" stop-color="#23898e"/><stop offset="0.551" stop-color="#1fa088"/><stop offset="0.562" stop-color="#27ad81"/><stop offset="0.572" stop-color="#3bbb75"/><stop offset="0.587" stop-color="#6ccd5a"/><stop offset="0.613" stop-color="#c5e021"/><stop offset="0.623" stop-color="#dfe318"/><stop offset="0.638" stop-color="#f8e621"/><stop offset="0.648" stop-color="#fde725"/><stop offset="0.664" stop-color="#f8e621"/><stop offset="0.679" stop-color="#dde318"/><stop offset="0.689" stop-color="#c0df25"/><stop offset="0.705" stop-color="#89d548"/><stop offset="0.72" stop-color="#50c46a"/><stop offset="0.73" stop-color="#31b57b"/><stop offset="0.74" stop-color="#20a486"/><stop offset="0.751" stop-color="#20938c"/><stop offset="0.786" stop-color="#365d8d"/><stop offset="0.817" stop-color="#453781"/><stop offset="0.848" stop-color="#481c6e"/><stop offset="0.888" stop-color="#46085c"/><stop offset="0.96" stop-color="#440154"/><stop offset="1" stop-color="#440154"/></linearGradient>
<linearGradient id="h30" x1="0" y1="0" x2="0" y2="1"><stop offset="0" stop-color="#440154"/><stop offset="0.077" stop-color="#450457"/><stop offset="0.133" stop-color="#481668"/><stop offset="0.168" stop-color="#46307e"/><stop offset="0.204" stop-color="#375b8d"/><stop offset="0.24" stop-color="#21908d"/><stop offset="0.25" stop-color="#1fa088"/><stop offset="0.26" stop-color="#2ab07f"/><stop offset="0.276" stop-color="#56c667"/><stop offset="0.296" stop-color="#a0da39"/><stop offset="0.311" stop-color="#d2e21b"/><stop offset="0.322" stop-color="#eae51a"/><stop offset="0.332" stop-color="#f8e621"/><stop offset="0.352" stop-color="#fde725"/><stop offset="0.368" stop-color="#ece51b"/><stop offset="0.378" stop-color="#d8e219"/><stop offset="0.388" stop-color="#bade28"/><stop offset="0.414" stop-color="#65cb5e"/><stop offset="0.429" stop-color="#3aba76"/><stop offset="0.439" stop-color="#27ad81"/><stop offset="0.454" stop-color="#1e9c89"/><stop offset="0.48" stop-color="#23888e"/><stop offset="0.505" stop-color="#25858e"/><stop offset="0.531" stop-color="#20938c"/><stop offset="0.546" stop-color="#1fa287"/><stop offset="0.557" stop-color="#28ae80"/><stop offset="0.572" stop-color="#48c16e"/><stop offset="0.587" stop-color="#77d153"/><stop offset="0.608" stop-color="#bddf26"/><stop offset="0.618" stop-color="#d8e219"/><stop offset="0.623" stop-color="#e5e419"/><stop offset="0.638" stop-color="#f8e621"/><stop offset="0.648" stop-color="#fde725"/><stop offset="0.664" stop-color="#f6e620"/><stop offset="0.669" stop-color="#f1e51d"/><stop offset="0.679" stop-color="#dde318"/><stop offset="0.689" stop-color="#c2df23"/><stop offset="0.715" stop-color="#67cc5c"/><stop offset="0.725" stop-color="#44bf70"/><stop offset="0.735" stop-color="#29af7f"/><stop offset="0.745" stop-color="#1f9f88"/><stop offset="0.776" stop-color="#2d708e"/><stop offset="0.812" stop-color="#424086"/><stop offset="0.853" stop-color="#481b6d"/><stop offset="0.894" stop-color="#46085c"/><stop offset="0.97" stop-color="#440154"/><stop offset="1" stop-color="#440154"/></linearGradient>
<linearGradient id="h31" x1="0" y1="0" x2="0" y2="1"><stop offset="0" stop-color="#440154"/><stop offset="0.082" stop-color="#450559"/><stop offset="0.133" stop-color="#48186a"/><stop offset="0.174" stop-color="#443983"/><stop offset="0.209" stop-color="#31668e"/><stop offset="0.245" stop-color="#1f9a8a"/><stop offset="0.255" stop-color="#25ab82"/><stop offset="0.266" stop-color="#3aba76"/><stop offset="0.286" stop-color="#7fd34e"/><stop offset="0.306" stop-color="#c2df23"/><stop offset="0.311" stop-color="#d2e21b"/><stop offset="0.322" stop-color="#e7e419"/><stop offset="0.327" stop-color="#f1e51d"/><stop offset="0.342" stop-color="#fde725"/><stop offset="0.357" stop-color="#fbe723"/><stop offset="0.373" stop-color="#e7e419"/><stop offset="0.383" stop-color="#d0e11c"/><stop offset="0.398" stop-color="#a5db36"/><stop offset="0.424" stop-color="#54c568"/><stop offset="0.439" stop-color="#31b57b"/><stop offset="0.454" stop-color="#21a585"/><stop offset="0.48" stop-color="#20928c"/><stop offset="0.5" stop-color="#218f8d"/><stop offset="0.526" stop-color="#1f988b"/><stop offset="0.541" stop-color="#21a585"/><stop offset="0.557" stop-color="#32b67a"/><stop offset="0.567" stop-color="#48c16e"/><stop offset="0.592" stop-color="#95d840"/><stop offset="0.608" stop-color="#c5e021"/><stop offset="0.618" stop-color="#dde318"/><stop offset="0.633" stop-color="#f6e620"/><stop offset="0.648" stop-color="#fde725"/><stop offset="0.664" stop-color="#f6e620"/><stop offset="0.679" stop-color="#dde318"/><stop offset="0.689" stop-color="#c2df23"/><stop offset="0.715" stop-color="#69cd5b"/><stop offset="0.73" stop-color="#38b977"/><stop offset="0.74" stop-color="#24aa83"/><stop offset="0.751" stop-color="#1f9a8a"/><stop offset="0.786" stop-color="#32658e"/><stop offset="0.822" stop-color="#443983"/><stop offset="0.863" stop-color="#48186a"/><stop offset="0.909" stop-color="#46075a"/><stop offset="0.985" stop-color="#440154"/><stop offset="1" stop-color="#440154"/></linearGradient>
<linearGradient id="h32" x1="0" y1="0" x2="0" y2="1"><stop offset="0" stop-color="#440154"/><stop offset="0.082" stop-color="#46075a"/><stop offset="0.133" stop-color="#481b6d"/><stop offset="0.168" stop-color="#453882"/><stop offset="0.204" stop-color="#33638d"/><stop offset="0.24" stop-color="#1f958b"/><stop offset="0.25" stop-color="#21a585"/><stop offset="0.26" stop-color="#31b57b"/><stop offset="0.276" stop-color="#5cc863"/><stop offset="0.301" stop-color="#b5de2b"/><stop offset="0.311" stop-color="#d2e21b"/><stop offset="0.322" stop-color="#e7e419"/><stop offset="0.337" stop-color="#fbe723"/><stop offset="0.357" stop-color="#fbe723"/><stop offset="0.368" stop-color="#f1e51d"/><stop offset="0.378" stop-color="#e2e418"/><stop offset="0.388" stop-color="#cae11f"/><stop offset="0.419" stop-color="#70cf57"/><stop offset="0.434" stop-color="#48c16e"/><stop offset="0.449" stop-color="#2cb17e"/><stop offset="0.465" stop-color="#20a486"/><stop offset="0.495" stop-color="#1f988b"/><stop offset="0.521" stop-color="#1f9e89"/><stop offset="0.536" stop-color="#23a983"/><stop offset="0.551" stop-color="#34b679"/><stop offset="0.562" stop-color="#48c16e"/><stop offset="0.577" stop-color="#70cf57"/><stop offset="0.603" stop-color="#bddf26"/><stop offset="0.613" stop-color="#d8e219"/><stop offset="0.628" stop-color="#f1e51d"/><stop offset="0.638" stop-color="#fbe723"/><stop offset="0.659" stop-color="#fbe723"/><stop offset="0.674" stop-color="#e7e419"/><stop offset="0.684" stop-color="#d0e11c"/><stop offset="0.7" stop-color="#a2da37"/><stop offset="0.725" stop-color="#4ac16d"/><stop offset="0.74" stop-color="#25ac82"/><stop offset="0.751" stop-color="#1e9c89"/><stop offset="0.781" stop-color="#2d708e"/><stop offset="0.822" stop-color="#433d84"/><stop offset="0.858" stop-color="#481d6f"/><stop offset="0.899" stop-color="#460b5e"/><stop offset="0.945" stop-color="#440256"/><stop offset="1" stop-color="#440154"/></linearGradient>
<linearGradient id="h33" x1="0" y1="0" x2="0" y2="1"><stop offset="0" stop-color="#440154"/><stop offset="0.077" stop-color="#46075a"/><stop offset="0.123" stop-color="#48186a"/><stop offset="0.153" stop-color="#472d7b"/><stop offset="0.189" stop-color="#3b528b"/><stop offset="0.235" stop-color="#21908d"/><stop offset="0.245" stop-color="#1fa088"/><stop offset="0.255" stop-color="#28ae80"/><stop offset="0.266" stop-color="#3fbc73"/><stop offset="0.291" stop-color="#93d741"/><stop offset="0.306" stop-color="#c2df23"/><stop offset="0.317" stop-color="#dde318"/><stop offset="0.332" stop-color="#f6e620"/><stop offset="0.347" stop-color="#fde725"/><stop offset="0.357" stop-color="#fde725"/><stop offset="0.373" stop-color="#ece51b"/><stop offset="0.383" stop-color="#dae319"/><stop offset="0.393" stop-color="#c2df23"/><stop offset="0.424" stop-color="#6ece58"/><stop offset="0.439" stop-color="#48c16e"/><stop offset="0.46" stop-color="#29af7f"/><stop offset="0.485" stop-color="#1fa287"/><stop offset="0.511" stop-color="#1fa287"/><stop offset="0.531" stop-color="#26ad81"/><stop offset="0.546" stop-color="#37b878"/><stop offset="0.567" stop-color="#60ca60"/><stop offset="0.603" stop-color="#c5e021"/><stop offset="0.613" stop-color="#dde318"/><stop offset="0.623" stop-color="#efe51c"/><stop offset="0.638" stop-color="#fde725"/><stop offset="0.654" stop-color="#fde725"/><stop offset="0.669" stop-color="#efe51c"/><stop offset="0.679" stop-color="#dae319"/><stop offset="0.689" stop-color="#c2df23"/><stop offset="0.715" stop-color="#6ece58"/><stop offset="0.73" stop-color="#3fbc73"/><stop offset="0.74" stop-color="#27ad81"/><stop offset="0.751" stop-color="#1f9f88"/><stop offset="0.781" stop-color="#2c728e"/><stop offset="0.822" stop-color="#424086"/><stop offset="0.858" stop-color="#482071"/><stop offset="0.899" stop-color="#470d60"/><stop offset="0.939" stop-color="#450457"/><stop offset="1" stop-color="#440154"/></linearGradient>
<linearGradient id="h34" x1="0" y1="0" x2="0" y2="1"><stop offset="0" stop-color="#440154"/><stop offset="0.077" stop-color="#46085c"/><stop offset="0.128" stop-color="#481c6e"/><stop offset="0.168" stop-color="#433e85"/><stop offset="0.209" stop-color="#2e6f8e"/><stop offset="0.24" stop-color="#1f9a8a"/><stop offset="0.25" stop-color="#23a983"/><stop offset="0.26" stop-color="#35b779"/><stop offset="0.276" stop-color="#60ca60"/><stop offset="0.301" stop-color="#b5de2b"/><stop offset="0.311" stop-color="#d0e11c"/><stop offset="0.322" stop-color="#e7e419"/><stop offset="0.342" stop-color="#fde725"/><stop offset="0.363" stop-color="#fbe723"/><stop offset="0.383" stop-color="#dfe318"/><stop offset="0.393" stop-color="#cae11f"/><stop offset="0.429" stop-color="#6ccd5a"/><stop offset="0.444" stop-color="#4ac16d"/><stop offset="0.465" stop-color="#2eb37c"/><stop offset="0.49" stop-color="#23a983"/><stop offset="0.516" stop-color="#25ac82"/><stop offset="0.536" stop-color="#34b679"/><stop offset="0.557" stop-color="#56c667"/><stop offset="0.582" stop-color="#95d840"/><stop offset="0.597" stop-color="#c0df25"/><stop offset="0.608" stop-color="#d8e219"/><stop offset="0.623" stop-color="#f1e51d"/><stop offset="0.638" stop-color="#fde725"/><stop offset="0.654" stop-color="#fde725"/><stop offset="0.669" stop-color="#ece51b"/><stop offset="0.679" stop-color="#dae319"/><stop offset="0.689" stop-color="#c2df23"/><stop offset="0.715" stop-color="#70cf57"/><stop offset="0.73" stop-color="#40bd72"/><stop offset="0.74" stop-color="#29af7f"/><stop offset="0.751" stop-color="#1fa188"/><stop offset="0.776" stop-color="#287c8e"/><stop offset="0.822" stop-color="#414487"/><stop offset="0.858" stop-color="#482374"/><stop offset="0.909" stop-color="#460a5d"/><stop offset="0.98" stop-color="#440154"/><stop offset="1" stop-color="#440154"/></linearGradient>
<linearGradient id="h35" x1="0" y1="0" x2="0" y2="1"><stop offset="0" stop-color="#440154"/><stop offset="0.071" stop-color="#46085c"/><stop offset="0.112" stop-color="#481769"/><stop offset="0.153" stop-color="#46327e"/><stop offset="0.189" stop-color="#38598c"/><stop offset="0.235" stop-color="#1f948c"/><stop offset="0.245" stop-color="#1fa287"/><stop offset="0.255" stop-color="#2cb17e"/><stop offset="0.271" stop-color="#54c568"/><stop offset="0.301" stop-color="#b5de2b"/><stop offset="0.311" stop-color="#d0e11c"/><stop offset="0.322" stop-color="#e5e419"/><stop offset="0.337" stop-color="#f8e621"/><stop offset="0.357" stop-color="#fde725"/><stop offset="0.368" stop-color="#f8e621"/><stop offset="0.383" stop-color="#e5e419"/><stop offset="0.393" stop-color="#d0e11c"/><stop offset="0.424" stop-color="#86d549"/><stop offset="0.434" stop-color="#6ccd5a"/><stop offset="0.454" stop-color="#46c06f"/><stop offset="0.475" stop-color="#31b57b"/><stop offset="0.495" stop-color="#2ab07f"/><stop offset="0.516" stop-color="#2eb37c"/><stop offset="0.536" stop-color="#40bd72"/><stop offset="0.557" stop-color="#63cb5f"/><stop offset="0.597" stop-color="#c5e021"/><stop offset="0.608" stop-color="#dde318"/><stop offset="0.628" stop-color="#f8e621"/><stop offset="0.648" stop-color="#fde725"/><stop offset="0.664" stop-color="#f4e61e"/><stop offset="0.679" stop-color="#dae319"/><stop offset="0.689" stop-color="#c2df23"/><stop offset="0.715" stop-color="#70cf57"/><stop offset="0.735" stop-color="#35b779"/><stop offset="0.745" stop-color="#24aa83"/><stop offset="0.756" stop-color="#1e9b8a"/><stop offset="0.791" stop-color="#2f6b8e"/><stop offset="0.832" stop-color="#443b84"/><stop offset="0.873" stop-color="#481b6d"/><stop offset="0.919" stop-color="#46085c"/><stop offset="1" stop-color="#440154"/></linearGradient>
<linearGradient id="h36" x1="0" y1="0" x2="0" y2="1"><stop offset="0" stop-color="#440154"/><stop offset="0.071" stop-color="#46085c"/><stop offset="0.123" stop-color="#481d6f"/><stop offset="0.158" stop-color="#443983"/><stop offset="0.199" stop-color="#31678e"/><stop offset="0.235" stop-color="#1f968b"/><stop offset="0.245" stop-color="#20a486"/><stop offset="0.255" stop-color="#2eb37c"/><stop offset="0.271" stop-color="#54c568"/><stop offset="0.296" stop-color="#a5db36"/><stop offset="0.311" stop-color="#d0e11c"/><stop offset="0.322" stop-color="#e5e419"/><stop offset="0.337" stop-color="#f8e621"/><stop offset="0.357" stop-color="#fde725"/><stop offset="0.368" stop-color="#f8e621"/><stop offset="0.383" stop-color="#e7e419"/><stop offset="0.398" stop-color="#cde11d"/><stop offset="0.439" stop-color="#6ece58"/><stop offset="0.465" stop-color="#46c06f"/><stop offset="0.485" stop-color="#38b977"/><stop offset="0.505" stop-color="#37b878"/><stop offset="0.521" stop-color="#3dbc74"/><stop offset="0.546" stop-color="#5cc863"/><stop offset="0.567" stop-color="#86d549"/><stop offset="0.592" stop-color="#c2df23"/><stop offset="0.608" stop-color="#dfe318"/><stop offset="0.613" stop-color="#eae51a"/><stop offset="0.623" stop-color="#f6e620"/><stop offset="0.638" stop-color="#fde725"/><stop offset="0.654" stop-color="#fbe723"/><stop offset="0.669" stop-color="#ece51b"/><stop offset="0.679" stop-color="#d8e219"/><stop offset="0.689" stop-color="#c0df25"/><stop offset="0.72" stop-color="#63cb5f"/><stop offset="0.735" stop-color="#37b878"/><stop offset="0.745" stop-color="#25ab82"/><stop offset="0.756" stop-color="#1e9d89"/><stop offset="0.791" stop-color="#2e6d8e"/><stop offset="0.832" stop-color="#433e85"/><stop offset="0.873" stop-color="#481d6f"/><stop offset="0.924" stop-color="#46085c"/><stop offset="1" stop-color="#440154"/></linearGradient>
<linearGradient id="h37" x1="0" y1="0" x2="0" y2="1"><stop offset="0" stop-color="#440154"/><stop offset="0.071" stop-color="#460a5d"/><stop offset="0.123" stop-color="#482071"/><stop offset="0.158" stop-color="#433d84"/><stop offset="0.204" stop-color="#2d708e"/><stop offset="0.235" stop-color="#1f978b"/><stop offset="0.245" stop-color="#21a585"/><stop offset="0.255" stop-color="#2fb47c"/><stop offset="0.271" stop-color="#56c667"/><stop offset="0.301" stop-color="#b2dd2d"/><stop offset="0.311" stop-color="#cde11d"/><stop offset="0.322" stop-color="#e2e418"/><stop offset="0.337" stop-color="#f6e620"/><stop offset="0.352" stop-color="#fde725"/><stop offset="0.368" stop-color="#fbe723"/><stop offset="0.388" stop-color="#e5e419"/><stop offset="0.403" stop-color="#cae11f"/><stop offset="0.444" stop-color="#73d056"/><stop offset="0.47" stop-color="#50c46a"/><stop offset="0.495" stop-color="#42be71"/><stop offset="0.521" stop-color="#4cc26c"/><stop offset="0.541" stop-color="#63cb5f"/><stop offset="0.572" stop-color="#9dd93b"/><stop offset="0.592" stop-color="#cae11f"/><stop offset="0.608" stop-color="#e5e419"/><stop offset="0.618" stop-color="#f4e61e"/><stop offset="0.638" stop-color="#fde725"/><stop offset="0.654" stop-color="#fbe723"/><stop offset="0.669" stop-color="#eae51a"/><stop offset="0.679" stop-color="#d8e219"/><stop offset="0.689" stop-color="#c0df25"/><stop offset="0.72" stop-color="#63cb5f"/><stop offset="0.735" stop-color="#38b977"/><stop offset="0.745" stop-color="#25ac82"/><stop offset="0.756" stop-color="#1f9e89"/><stop offset="0.791" stop-color="#2e6f8e"/><stop offset="0.832" stop-color="#424086"/><stop offset="0.878" stop-color="#481c6e"/><stop offset="0.934" stop-color="#46075a"/><stop offset="1" stop-color="#440154"/></linearGradient>
<linearGradient id="h38" x1="0" y1="0" x2="0" y2="1"><stop offset="0" stop-color="#440154"/><stop offset="0.066" stop-color="#460a5d"/><stop offset="0.123" stop-color="#482173"/><stop offset="0.163" stop-color="#414487"/><stop offset="0.214" stop-color="#277e8e"/><stop offset="0.24" stop-color="#1fa088"/><stop offset="0.25" stop-color="#27ad81"/><stop offset="0.26" stop-color="#3bbb75"/><stop offset="0.276" stop-color="#65cb5e"/><stop offset="0.306" stop-color="#c0df25"/><stop offset="0.317" stop-color="#d8e219"/><stop offset="0.327" stop-color="#eae51a"/><stop offset="0.337" stop-color="#f6e620"/><stop offset="0.352" stop-color="#fde725"/><stop offset="0.373" stop-color="#f8e621"/><stop offset="0.383" stop-color="#efe51c"/><stop offset="0.398" stop-color="#dae319"/><stop offset="0.419" stop-color="#b5de2b"/><stop offset="0.449" stop-color="#7ad151"/><stop offset="0.47" stop-color="#60ca60"/><stop offset="0.49" stop-color="#54c568"/><stop offset="0.511" stop-color="#56c667"/><stop offset="0.536" stop-color="#6ccd5a"/><stop offset="0.557" stop-color="#8ed645"/><stop offset="0.592" stop-color="#d2e21b"/><stop offset="0.603" stop-color="#e5e419"/><stop offset="0.618" stop-color="#f6e620"/><stop offset="0.633" stop-color="#fde725"/><stop offset="0.654" stop-color="#f8e621"/><stop offset="0.669" stop-color="#e7e419"/><stop offset="0.679" stop-color="#d5e21a"/><stop offset="0.694" stop-color="#b0dd2f"/><stop offset="0.725" stop-color="#54c568"/><stop offset="0.74" stop-color="#2fb47c"/><stop offset="0.751" stop-color="#21a685"/><stop offset="0.766" stop-color="#20928c"/><stop offset="0.817" stop-color="#3a538b"/><stop offset="0.858" stop-color="#472d7b"/><stop offset="0.899" stop-color="#481467"/><stop offset="0.95" stop-color="#450559"/><stop offset="1" stop-color="#440154"/></linearGradient>
<linearGradient id="h39" x1="0" y1="0" x2="0" y2="1"><stop offset="0" stop-color="#440256"/><stop offset="0.061" stop-color="#460a5d"/><stop offset="0.112" stop-color="#481d6f"/><stop offset="0.158" stop-color="#424186"/><stop offset="0.209" stop-color="#29798e"/><stop offset="0.235" stop-color="#1f9a8a"/><stop offset="0.245" stop-color="#22a785"/><stop offset="0.26" stop-color="#3bbb75"/><stop offset="0.281" stop-color="#73d056"/><stop offset="0.306" stop-color="#bddf26"/><stop offset="0.322" stop-color="#dde318"/><stop offset="0.327" stop-color="#e7e419"/><stop offset="0.342" stop-color="#f8e621"/><stop offset="0.363" stop-color="#fde725"/><stop offset="0.383" stop-color="#f4e61e"/><stop offset="0.398" stop-color="#e2e418"/><stop offset="0.414" stop-color="#cae11f"/><stop offset="0.449" stop-color="#8bd646"/><stop offset="0.47" stop-color="#73d056"/><stop offset="0.495" stop-color="#67cc5c"/><stop offset="0.516" stop-color="#6ccd5a"/><stop offset="0.541" stop-color="#86d549"/><stop offset="0.572" stop-color="#b8de29"/><stop offset="0.587" stop-color="#d2e21b"/><stop offset="0.603" stop-color="#eae51a"/><stop offset="0.623" stop-color="#fbe723"/><stop offset="0.648" stop-color="#fbe723"/><stop offset="0.659" stop-color="#f4e61e"/><stop offset="0.674" stop-color="#dde318"/><stop offset="0.684" stop-color="#c8e020"/><stop offset="0.71" stop-color="#81d34d"/><stop offset="0.73" stop-color="#46c06f"/><stop offset="0.745" stop-color="#27ad81"/><stop offset="0.756" stop-color="#1fa088"/><stop offset="0.786" stop-color="#29798e"/><stop offset="0.832" stop-color="#404688"/><stop offset="0.868" stop-color="#482677"/><stop offset="0.914" stop-color="#471063"/><stop offset="0.965" stop-color="#450457"/><stop offset="1" stop-color="#440154"/></linearGradient>
<linearGradient id="h40" x1="0" y1="0" x2="0" y2="1"><stop offset="0" stop-color="#440256"/><stop offset="0.056" stop-color="#460a5d"/><stop offset="0.107" stop-color="#481c6e"/><stop offset="0.148" stop-color="#443a83"/><stop offset="0.194" stop-color="#30698e"/><stop offset="0.235" stop-color="#1e9b8a"/><stop offset="0.245" stop-color="#22a884"/><stop offset="0.26" stop-color="#3bbb75"/><stop offset="0.281" stop-color="#73d056"/><stop offset="0.311" stop-color="#c5e021"/><stop offset="0.322" stop-color="#dae319"/><stop offset="0.337" stop-color="#f1e51d"/><stop offset="0.352" stop-color="#fde725"/><stop offset="0.378" stop-color="#fbe723"/><stop offset="0.398" stop-color="#eae51a"/><stop offset="0.414" stop-color="#d5e21a"/><stop offset="0.46" stop-color="#90d743"/><stop offset="0.475" stop-color="#84d44b"/><stop offset="0.495" stop-color="#7cd250"/><stop offset="0.516" stop-color="#81d34d"/><stop offset="0.541" stop-color="#98d83e"/><stop offset="0.582" stop-color="#d5e21a"/><stop offset="0.597" stop-color="#eae51a"/><stop offset="0.618" stop-color="#fbe723"/><stop offset="0.643" stop-color="#fbe723"/><stop offset="0.659" stop-color="#f1e51d"/><stop offset="0.674" stop-color="#dae319"/><stop offset="0.689" stop-color="#b8de29"/><stop offset="0.715" stop-color="#70cf57"/><stop offset="0.735" stop-color="#3aba76"/><stop offset="0.751" stop-color="#22a785"/><stop offset="0.766" stop-color="#20938c"/><stop offset="0.817" stop-color="#38588c"/><stop offset="0.863" stop-color="#472d7b"/><stop offset="0.909" stop-color="#471365"/><stop offset="0.96" stop-color="#450559"/><stop offset="1" stop-color="#440256"/></linearGradient>
<linearGradient id="h41" x1="0" y1="0" x2="0" y2="1"><stop offset="0" stop-color="#440256"/><stop offset="0.066" stop-color="#470d60"/><stop offset="0.123" stop-color="#482878"/><stop offset="0.168" stop-color="#3c4f8a"/><stop offset="0.22" stop-color="#23888e"/><stop offset="0.24" stop-color="#1fa187"/><stop offset="0.25" stop-color="#28ae80"/><stop offset="0.266" stop-color="#46c06f"/><stop offset="0.296" stop-color="#9bd93c"/><stop offset="0.317" stop-color="#cde11d"/><stop offset="0.332" stop-color="#e7e419"/><stop offset="0.347" stop-color="#f8e621"/><stop offset="0.368" stop-color="#fde725"/><stop offset="0.383" stop-color="#fbe723"/><stop offset="0.408" stop-color="#e5e419"/><stop offset="0.429" stop-color="#cae11f"/><stop offset="0.46" stop-color="#a2da37"/><stop offset="0.48" stop-color="#93d741"/><stop offset="0.505" stop-color="#90d743"/><stop offset="0.516" stop-color="#93d741"/><stop offset="0.551" stop-color="#b5de2b"/><stop offset="0.572" stop-color="#d2e21b"/><stop offset="0.592" stop-color="#eae51a"/><stop offset="0.613" stop-color="#fbe723"/><stop offset="0.643" stop-color="#fbe723"/><stop offset="0.654" stop-color="#f4e61e"/><stop offset="0.669" stop-color="#dfe318"/><stop offset="0.684" stop-color="#c0df25"/><stop offset="0.694" stop-color="#a8db34"/><stop offset="0.725" stop-color="#52c569"/><stop offset="0.74" stop-color="#2fb47c"/><stop offset="0.751" stop-color="#22a785"/><stop offset="0.766" stop-color="#1f948c"/><stop offset="0.817" stop-color="#375a8c"/><stop offset="0.863" stop-color="#472f7d"/><stop offset="0.909" stop-color="#481467"/><stop offset="0.965" stop-color="#450559"/><stop offset="1" stop-color="#440256"/></linearGradient>
<linearGradient id="h42" x1="0" y1="0" x2="0" y2="1"><stop offset="0" stop-color="#440256"/><stop offset="0.061" stop-color="#470d60"/><stop offset="0.112" stop-color="#482374"/><stop offset="0.153" stop-color="#414287"/><stop offset="0.209" stop-color="#287d8e"/><stop offset="0.235" stop-color="#1e9b8a"/><stop offset="0.25" stop-color="#27ad81"/><stop offset="0.266" stop-color="#44bf70"/><stop offset="0.296" stop-color="#95d840"/><stop offset="0.301" stop-color="#a5db36"/><stop offset="0.322" stop-color="#d2e21b"/><stop offset="0.332" stop-color="#e5e419"/><stop offset="0.347" stop-color="#f6e620"/><stop offset="0.368" stop-color="#fde725"/><stop offset="0.388" stop-color="#fbe723"/><stop offset="0.419" stop-color="#e2e418"/><stop offset="0.444" stop-color="#c5e021"/><stop offset="0.449" stop-color="#bddf26"/><stop offset="0.48" stop-color="#a5db36"/><stop offset="0.505" stop-color="#a2da37"/><stop offset="0.521" stop-color="#a8db34"/><stop offset="0.567" stop-color="#d5e21a"/><stop offset="0.587" stop-color="#ece51b"/><stop offset="0.613" stop-color="#fde725"/><stop offset="0.638" stop-color="#fbe723"/><stop offset="0.659" stop-color="#eae51a"/><stop offset="0.674" stop-color="#d2e21b"/><stop offset="0.689" stop-color="#b0dd2f"/><stop offset="0.72" stop-color="#5ec962"/><stop offset="0.735" stop-color="#38b977"/><stop offset="0.751" stop-color="#22a785"/><stop offset="0.766" stop-color="#1f948c"/><stop offset="0.817" stop-color="#375b8d"/><stop offset="0.863" stop-color="#46307e"/><stop offset="0.909" stop-color="#481668"/><stop offset="0.965" stop-color="#450559"/><stop offset="1" stop-color="#440256"/></linearGradient>
<linearGradient id="h43" x1="0" y1="0" x2="0" y2="1"><stop offset="0" stop-color="#440256"/><stop offset="0.051" stop-color="#460b5e"/><stop offset="0.102" stop-color="#481f70"/><stop offset="0.143" stop-color="#443a83"/><stop offset="0.189" stop-color="#31678e"/><stop offset="0.23" stop-color="#1f948c"/><stop offset="0.245" stop-color="#22a785"/><stop offset="0.255" stop-color="#2eb37c"/><stop offset="0.271" stop-color="#50c46a"/><stop offset="0.301" stop-color="#a0da39"/><stop offset="0.317" stop-color="#c5e021"/><stop offset="0.332" stop-color="#dfe318"/><stop offset="0.347" stop-color="#f4e61e"/><stop offset="0.368" stop-color="#fde725"/><stop offset="0.393" stop-color="#fbe723"/><stop offset="0.429" stop-color="#dfe318"/><stop offset="0.465" stop-color="#bddf26"/><stop offset="0.49" stop-color="#b2dd2d"/><stop offset="0.516" stop-color="#b5de2b"/><stop offset="0.551" stop-color="#d0e11c"/><stop offset="0.577" stop-color="#eae51a"/><stop offset="0.608" stop-color="#fde725"/><stop offset="0.633" stop-color="#fbe723"/><stop offset="0.648" stop-color="#f1e51d"/><stop offset="0.664" stop-color="#dfe318"/><stop offset="0.679" stop-color="#c2df23"/><stop offset="0.715" stop-color="#67cc5c"/><stop offset="0.735" stop-color="#37b878"/><stop offset="0.751" stop-color="#22a785"/><stop offset="0.766" stop-color="#1f948c"/><stop offset="0.817" stop-color="#365c8d"/><stop offset="0.863" stop-color="#46327e"/><stop offset="0.914" stop-color="#481467"/><stop offset="0.97" stop-color="#450559"/><stop offset="1" stop-color="#440256"/></linearGradient>
<linearGradient id="h44" x1="0" y1="0" x2="0" y2="1"><stop offset="0" stop-color="#450457"/><stop offset="0.056" stop-color="#470d60"/><stop offset="0.102" stop-color="#481f70"/><stop offset="0.153" stop-color="#414487"/><stop offset="0.209" stop-color="#287d8e"/><stop offset="0.24" stop-color="#1fa188"/><stop offset="0.25" stop-color="#26ad81"/><stop offset="0.271" stop-color="#4cc26c"/><stop offset="0.301" stop-color="#9bd93c"/><stop offset="0.317" stop-color="#c0df25"/><stop offset="0.332" stop-color="#dde318"/><stop offset="0.357" stop-color="#f8e621"/><stop offset="0.378" stop-color="#fde725"/><stop offset="0.398" stop-color="#fbe723"/><stop offset="0.434" stop-color="#e2e418"/><stop offset="0.47" stop-color="#c8e020"/><stop offset="0.495" stop-color="#c0df25"/><stop offset="0.521" stop-color="#c5e021"/><stop offset="0.551" stop-color="#dae319"/><stop offset="0.582" stop-color="#f1e51d"/><stop offset="0.608" stop-color="#fde725"/><stop offset="0.633" stop-color="#fbe723"/><stop offset="0.654" stop-color="#eae51a"/><stop offset="0.669" stop-color="#d2e21b"/><stop offset="0.694" stop-color="#9bd93c"/><stop offset="0.725" stop-color="#4cc26c"/><stop offset="0.74" stop-color="#2db27d"/><stop offset="0.751" stop-color="#21a685"/><stop offset="0.766" stop-color="#20938c"/><stop offset="0.822" stop-color="#38588c"/><stop offset="0.868" stop-color="#472f7d"/><stop offset="0.914" stop-color="#481668"/><stop offset="0.965" stop-color="#46075a"/><stop offset="1" stop-color="#440256"/></linearGradient>
<linearGradient id="h45" x1="0" y1="0" x2="0" y2="1"><stop offset="0" stop-color="#450457"/><stop offset="0.061" stop-color="#470e61"/><stop offset="0.117" stop-color="#482979"/><stop offset="0.163" stop-color="#3d4e8a"/><stop offset="0.22" stop-color="#23888e"/><stop offset="0.24" stop-color="#1fa088"/><stop offset="0.255" stop-color="#2cb17e"/><stop offset="0.276" stop-color="#56c667"/><stop offset="0.311" stop-color="#b0dd2f"/><stop offset="0.327" stop-color="#d0e11c"/><stop offset="0.342" stop-color="#e7e419"/><stop offset="0.363" stop-color="#f8e621"/><stop offset="0.383" stop-color="#fde725"/><stop offset="0.403" stop-color="#fbe723"/><stop offset="0.439" stop-color="#e7e419"/><stop offset="0.47" stop-color="#d2e21b"/><stop offset="0.495" stop-color="#cde11d"/><stop offset="0.516" stop-color="#d0e11c"/><stop offset="0.531" stop-color="#d5e21a"/><stop offset="0.567" stop-color="#ece51b"/><stop offset="0.597" stop-color="#fde725"/><stop offset="0.628" stop-color="#fbe723"/><stop offset="0.648" stop-color="#ece51b"/><stop offset="0.664" stop-color="#d8e219"/><stop offset="0.679" stop-color="#bade28"/><stop offset="0.715" stop-color="#60ca60"/><stop offset="0.735" stop-color="#34b679"/><stop offset="0.751" stop-color="#21a585"/><stop offset="0.771" stop-color="#218e8d"/><stop offset="0.832" stop-color="#3d4e8a"/><stop offset="0.878" stop-color="#482979"/><stop offset="0.924" stop-color="#471365"/><stop offset="0.975" stop-color="#450559"/><stop offset="1" stop-color="#450457"/></linearGradient>
<linearGradient id="h46" x1="0" y1="0" x2="0" y2="1"><stop offset="0" stop-color="#450457"/><stop offset="0.056" stop-color="#470e61"/><stop offset="0.112" stop-color="#482677"/><stop offset="0.158" stop-color="#3e4a89"/><stop offset="0.22" stop-color="#23888e"/><stop offset="0.24" stop-color="#1f9f88"/><stop offset="0.255" stop-color="#2ab07f"/><stop offset="0.271" stop-color="#46c06f"/><stop offset="0.301" stop-color="#90d743"/><stop offset="0.322" stop-color="#c0df25"/><stop offset="0.337" stop-color="#dae319"/><stop offset="0.352" stop-color="#efe51c"/><stop offset="0.378" stop-color="#fde725"/><stop offset="0.408" stop-color="#fbe723"/><stop offset="0.429" stop-color="#f1e51d"/><stop offset="0.48" stop-color="#dae319"/><stop offset="0.505" stop-color="#d8e219"/><stop offset="0.541" stop-color="#e5e419"/><stop offset="0.577" stop-color="#f8e621"/><stop offset="0.608" stop-color="#fde725"/><stop offset="0.628" stop-color="#f8e621"/><stop offset="0.654" stop-color="#e2e418"/><stop offset="0.669" stop-color="#c8e020"/><stop offset="0.674" stop-color="#c0df25"/><stop offset="0.7" stop-color="#84d44b"/><stop offset="0.72" stop-color="#52c569"/><stop offset="0.74" stop-color="#29af7f"/><stop offset="0.756" stop-color="#1f9f88"/><stop offset="0.797" stop-color="#2c718e"/><stop offset="0.848" stop-color="#424086"/><stop offset="0.899" stop-color="#481d6f"/><stop offset="0.96" stop-color="#46085c"/><stop offset="1" stop-color="#450457"/></linearGradient>
<linearGradient id="h47" x1="0" y1="0" x2="0" y2="1"><stop offset="0" stop-color="#450457"/><stop offset="0.066" stop-color="#471164"/><stop offset="0.123" stop-color="#472e7c"/><stop offset="0.174" stop-color="#38598c"/><stop offset="0.23" stop-color="#20928c"/><stop offset="0.245" stop-color="#20a386"/><stop offset="0.255" stop-color="#28ae80"/><stop offset="0.276" stop-color="#4ec36b"/><stop offset="0.311" stop-color="#a2da37"/><stop offset="0.327" stop-color="#c5e021"/><stop offset="0.342" stop-color="#dde318"/><stop offset="0.363" stop-color="#f4e61e"/><stop offset="0.388" stop-color="#fde725"/><stop offset="0.419" stop-color="#fbe723"/><stop offset="0.475" stop-color="#e5e419"/><stop offset="0.511" stop-color="#e2e418"/><stop offset="0.551" stop-color="#f1e51d"/><stop offset="0.592" stop-color="#fde725"/><stop offset="0.618" stop-color="#fbe723"/><stop offset="0.638" stop-color="#efe51c"/><stop offset="0.654" stop-color="#dde318"/><stop offset="0.669" stop-color="#c2df23"/><stop offset="0.7" stop-color="#7fd34e"/><stop offset="0.72" stop-color="#4ec36b"/><stop offset="0.735" stop-color="#2fb47c"/><stop offset="0.751" stop-color="#20a386"/><stop offset="0.771" stop-color="#228c8d"/><stop offset="0.832" stop-color="#3c4f8a"/><stop offset="0.878" stop-color="#472a7a"/><stop offset="0.929" stop-color="#471164"/><stop offset="0.985" stop-color="#450559"/><stop offset="1" stop-color="#450457"/></linearGradient>
<linearGradient id="h48" x1="0" y1="0" x2="0" y2="1"><stop offset="0" stop-color="#450457"/><stop offset="0.061" stop-color="#471164"/><stop offset="0.107" stop-color="#482576"/><stop offset="0.153" stop-color="#404688"/><stop offset="0.214" stop-color="#26818e"/><stop offset="0.24" stop-color="#1e9d89"/><stop offset="0.255" stop-color="#27ad81"/><stop offset="0.276" stop-color="#4ac16d"/><stop offset="0.311" stop-color="#9dd93b"/><stop offset="0.322" stop-color="#b5de2b"/><stop offset="0.342" stop-color="#d8e219"/><stop offset="0.363" stop-color="#efe51c"/><stop offset="0.388" stop-color="#fde725"/><stop offset="0.429" stop-color="#fbe723"/><stop offset="0.485" stop-color="#eae51a"/><stop offset="0.526" stop-color="#ece51b"/><stop offset="0.582" stop-color="#fde725"/><stop offset="0.613" stop-color="#fbe723"/><stop offset="0.633" stop-color="#efe51c"/><stop offset="0.654" stop-color="#d8e219"/><stop offset="0.669" stop-color="#bddf26"/><stop offset="0.689" stop-color="#90d743"/><stop offset="0.725" stop-color="#3fbc73"/><stop offset="0.74" stop-color="#26ad81"/><stop offset="0.756" stop-color="#1e9c89"/><stop offset="0.802" stop-color="#2f6c8e"/><stop offset="0.853" stop-color="#433d84"/><stop offset="0.909" stop-color="#481a6c"/><stop offset="0.965" stop-color="#46085c"/><stop offset="1" stop-color="#450457"/></linearGradient>
<linearGradient id="h49" x1="0" y1="0" x2="0" y2="1"><stop offset="0" stop-color="#450457"/><stop offset="0.061" stop-color="#471164"/><stop offset="0.112" stop-color="#482878"/><stop offset="0.163" stop-color="#3c4f8a"/><stop offset="0.225" stop-color="#228b8d"/><stop offset="0.245" stop-color="#1fa188"/><stop offset="0.26" stop-color="#2cb17e"/><stop offset="0.281" stop-color="#52c569"/><stop offset="0.317" stop-color="#a2da37"/><stop offset="0.337" stop-color="#cae11f"/><stop offset="0.352" stop-color="#e2e418"/><stop offset="0.373" stop-color="#f4e61e"/><stop offset="0.398" stop-color="#fde725"/><stop offset="0.439" stop-color="#fbe723"/><stop offset="0.48" stop-color="#f1e51d"/><stop offset="0.521" stop-color="#f1e51d"/><stop offset="0.577" stop-color="#fde725"/><stop offset="0.608" stop-color="#fbe723"/><stop offset="0.633" stop-color="#ece51b"/><stop offset="0.648" stop-color="#dae319"/><stop offset="0.664" stop-color="#c0df25"/><stop offset="0.689" stop-color="#8bd646"/><stop offset="0.72" stop-color="#46c06f"/><stop offset="0.735" stop-color="#2cb17e"/><stop offset="0.751" stop-color="#1fa188"/><stop offset="0.781" stop-color="#27808e"/><stop offset="0.842" stop-color="#404688"/><stop offset="0.888" stop-color="#482576"/><stop offset="0.939" stop-color="#471063"/><stop offset="0.991" stop-color="#450559"/><stop offset="1" stop-color="#450457"/></linearGradient>
<linearGradient id="h50" x1="0" y1="0" x2="0" y2="1"><stop offset="0" stop-color="#450559"/><stop offset="0.056" stop-color="#471063"/><stop offset="0.112" stop-color="#482878"/><stop offset="0.163" stop-color="#3c4f8a"/><stop offset="0.225" stop-color="#238a8d"/><stop offset="0.245" stop-color="#1fa088"/><stop offset="0.26" stop-color="#29af7f"/><stop offset="0.281" stop-color="#4ec36b"/><stop offset="0.317" stop-color="#9dd93b"/><stop offset="0.337" stop-color="#c5e021"/><stop offset="0.352" stop-color="#dde318"/><stop offset="0.378" stop-color="#f4e61e"/><stop offset="0.403" stop-color="#fde725"/><stop offset="0.449" stop-color="#fbe723"/><stop offset="0.495" stop-color="#f4e61e"/><stop offset="0.577" stop-color="#fde725"/><stop offset="0.603" stop-color="#fbe723"/><stop offset="0.628" stop-color="#ece51b"/><stop offset="0.648" stop-color="#d5e21a"/><stop offset="0.669" stop-color="#b2dd2d"/><stop offset="0.705" stop-color="#63cb5f"/><stop offset="0.725" stop-color="#38b977"/><stop offset="0.74" stop-color="#24aa83"/><stop offset="0.756" stop-color="#1f9a8a"/><stop offset="0.807" stop-color="#31668e"/><stop offset="0.858" stop-color="#443983"/><stop offset="0.914" stop-color="#48186a"/><stop offset="0.985" stop-color="#450559"/><stop offset="1" stop-color="#450457"/></linearGradient>
<linearGradient id="h51" x1="0" y1="0" x2="0" y2="1"><stop offset="0" stop-color="#450559"/><stop offset="0.056" stop-color="#471063"/><stop offset="0.107" stop-color="#482576"/><stop offset="0.158" stop-color="#3e4a89"/><stop offset="0.225" stop-color="#23898e"/><stop offset="0.245" stop-color="#1f9f88"/><stop offset="0.26" stop-color="#28ae80"/><stop offset="0.276" stop-color="#40bd72"/><stop offset="0.296" stop-color="#6ccd5a"/><stop offset="0.332" stop-color="#b8de29"/><stop offset="0.352" stop-color="#d8e219"/><stop offset="0.373" stop-color="#efe51c"/><stop offset="0.398" stop-color="#fbe723"/><stop offset="0.465" stop-color="#fbe723"/><stop offset="0.541" stop-color="#fbe723"/><stop offset="0.597" stop-color="#fbe723"/><stop offset="0.628" stop-color="#eae51a"/><stop offset="0.648" stop-color="#d0e11c"/><stop offset="0.674" stop-color="#a2da37"/><stop offset="0.715" stop-color="#4ac16d"/><stop offset="0.735" stop-color="#27ad81"/><stop offset="0.751" stop-color="#1f9e89"/><stop offset="0.797" stop-color="#2e6f8e"/><stop offset="0.853" stop-color="#433d84"/><stop offset="0.909" stop-color="#481b6d"/><stop offset="0.975" stop-color="#46075a"/><stop offset="1" stop-color="#450457"/></linearGradient>
<linearGradient id="h52" x1="0" y1="0" x2="0" y2="1"><stop offset="0" stop-color="#450559"/><stop offset="0.066" stop-color="#471365"/><stop offset="0.128" stop-color="#46327e"/><stop offset="0.179" stop-color="#365c8d"/><stop offset="0.235" stop-color="#20928c"/><stop offset="0.25" stop-color="#1fa287"/><stop offset="0.266" stop-color="#2db27d"/><stop offset="0.286" stop-color="#52c569"/><stop offset="0.327" stop-color="#a8db34"/><stop offset="0.342" stop-color="#c5e021"/><stop offset="0.357" stop-color="#dae319"/><stop offset="0.368" stop-color="#e7e419"/><stop offset="0.393" stop-color="#f8e621"/><stop offset="0.424" stop-color="#fde725"/><stop offset="0.592" stop-color="#fbe723"/><stop offset="0.613" stop-color="#f1e51d"/><stop offset="0.638" stop-color="#dae319"/><stop offset="0.648" stop-color="#cde11d"/><stop offset="0.679" stop-color="#93d741"/><stop offset="0.715" stop-color="#46c06f"/><stop offset="0.73" stop-color="#2cb17e"/><stop offset="0.745" stop-color="#1fa187"/><stop offset="0.776" stop-color="#26828e"/><stop offset="0.837" stop-color="#3e4989"/><stop offset="0.888" stop-color="#482576"/><stop offset="0.95" stop-color="#470d60"/><stop offset="1" stop-color="#450457"/></linearGradient>
<linearGradient id="h53" x1="0" y1="0" x2="0" y2="1"><stop offset="0" stop-color="#450559"/><stop offset="0.061" stop-color="#471164"/><stop offset="0.117" stop-color="#472c7a"/><stop offset="0.174" stop-color="#39568c"/><stop offset="0.235" stop-color="#20928c"/><stop offset="0.255" stop-color="#21a685"/><stop offset="0.271" stop-color="#32b67a"/><stop offset="0.301" stop-color="#6ece58"/><stop offset="0.327" stop-color="#a5db36"/><stop offset="0.352" stop-color="#d0e11c"/><stop offset="0.373" stop-color="#e7e419"/><stop offset="0.398" stop-color="#f8e621"/><stop offset="0.429" stop-color="#fde725"/><stop offset="0.587" stop-color="#fbe723"/><stop offset="0.608" stop-color="#f4e61e"/><stop offset="0.633" stop-color="#dde318"/><stop offset="0.654" stop-color="#c0df25"/><stop offset="0.689" stop-color="#77d153"/><stop offset="0.715" stop-color="#42be71"/><stop offset="0.73" stop-color="#2ab07f"/><stop offset="0.745" stop-color="#1fa188"/><stop offset="0.776" stop-color="#26828e"/><stop offset="0.837" stop-color="#3e4989"/><stop offset="0.888" stop-color="#482576"/><stop offset="0.95" stop-color="#470d60"/><stop offset="1" stop-color="#450457"/></linearGradient>
<linearGradient id="h54" x1="0" y1="0" x2="0" y2="1"><stop offset="0" stop-color="#450559"/><stop offset="0.061" stop-color="#471164"/><stop offset="0.117" stop-color="#472c7a"/><stop offset="0.168" stop-color="#3b528b"/><stop offset="0.235" stop-color="#21908d"/><stop offset="0.255" stop-color="#21a585"/><stop offset="0.271" stop-color="#2fb47c"/><stop offset="0.296" stop-color="#5ec962"/><stop offset="0.327" stop-color="#a0da39"/><stop offset="0.357" stop-color="#d2e21b"/><stop offset="0.378" stop-color="#eae51a"/><stop offset="0.408" stop-color="#fbe723"/><stop offset="0.582" stop-color="#fbe723"/><stop offset="0.603" stop-color="#f4e61e"/><stop offset="0.628" stop-color="#dfe318"/><stop offset="0.643" stop-color="#cae11f"/><stop offset="0.664" stop-color="#a8db34"/><stop offset="0.705" stop-color="#54c568"/><stop offset="0.72" stop-color="#37b878"/><stop offset="0.735" stop-color="#24aa83"/><stop offset="0.751" stop-color="#1f9a8a"/><stop offset="0.802" stop-color="#31688e"/><stop offset="0.858" stop-color="#443983"/><stop offset="0.909" stop-color="#481b6d"/><stop offset="0.97" stop-color="#46085c"/><stop offset="1" stop-color="#450457"/></linearGradient>
<linearGradient id="h55" x1="0" y1="0" x2="0" y2="1"><stop offset="0" stop-color="#450559"/><stop offset="0.061" stop-color="#471164"/><stop offset="0.123" stop-color="#472e7c"/><stop offset="0.174" stop-color="#39558c"/><stop offset="0.235" stop-color="#218f8d"/><stop offset="0.255" stop-color="#20a386"/><stop offset="0.271" stop-color="#2eb37c"/><stop offset="0.291" stop-color="#50c46a"/><stop offset="0.332" stop-color="#a5db36"/><stop offset="0.352" stop-color="#c8e020"/><stop offset="0.373" stop-color="#dfe318"/><stop offset="0.398" stop-color="#f4e61e"/><stop offset="0.439" stop-color="#fde725"/><stop offset="0.577" stop-color="#fbe723"/><stop offset="0.603" stop-color="#f1e51d"/><stop offset="0.628" stop-color="#dae319"/><stop offset="0.648" stop-color="#bddf26"/><stop offset="0.664" stop-color="#a2da37"/><stop offset="0.705" stop-color="#50c46a"/><stop offset="0.725" stop-color="#2db27d"/><stop offset="0.74" stop-color="#20a386"/><stop offset="0.761" stop-color="#218f8d"/><stop offset="0.827" stop-color="#3b518b"/><stop offset="0.883" stop-color="#482878"/><stop offset="0.945" stop-color="#470e61"/><stop offset="1" stop-color="#450559"/></linearGradient>
<linearGradient id="h56" x1="0" y1="0" x2="0" y2="1"><stop offset="0" stop-color="#450559"/><stop offset="0.056" stop-color="#471063"/><stop offset="0.112" stop-color="#482878"/><stop offset="0.168" stop-color="#3b518b"/><stop offset="0.235" stop-color="#218e8d"/><stop offset="0.255" stop-color="#1fa287"/><stop offset="0.271" stop-color="#2cb17e"/><stop offset="0.286" stop-color="#44bf70"/><stop offset="0.327" stop-color="#95d840"/><stop offset="0.357" stop-color="#cae11f"/><stop offset="0.378" stop-color="#e2e418"/><stop offset="0.403" stop-color="#f4e61e"/><stop offset="0.444" stop-color="#fde725"/><stop offset="0.572" stop-color="#fbe723"/><stop offset="0.603" stop-color="#efe51c"/><stop offset="0.628" stop-color="#d8e219"/><stop offset="0.648" stop-color="#bade28"/><stop offset="0.674" stop-color="#8bd646"/><stop offset="0.71" stop-color="#42be71"/><stop offset="0.73" stop-color="#25ac82"/><stop offset="0.745" stop-color="#1e9d89"/><stop offset="0.791" stop-color="#2d708e"/><stop offset="0.853" stop-color="#433d84"/><stop offset="0.909" stop-color="#481b6d"/><stop offset="0.98" stop-color="#46075a"/><stop offset="1" stop-color="#450559"/></linearGradient>
<linearGradient id="h57" x1="0" y1="0" x2="0" y2="1"><stop offset="0" stop-color="#450559"/><stop offset="0.056" stop-color="#471063"/><stop offset="0.112" stop-color="#482878"/><stop offset="0.168" stop-color="#3c508b"/><stop offset="0.235" stop-color="#228d8d"/><stop offset="0.255" stop-color="#1fa188"/><stop offset="0.271" stop-color="#29af7f"/><stop offset="0.301" stop-color="#5cc863"/><stop offset="0.342" stop-color="#addc30"/><stop offset="0.368" stop-color="#d2e21b"/><stop offset="0.393" stop-color="#eae51a"/><stop offset="0.419" stop-color="#f8e621"/><stop offset="0.46" stop-color="#fde725"/><stop offset="0.567" stop-color="#fbe723"/><stop offset="0.597" stop-color="#efe51c"/><stop offset="0.623" stop-color="#d8e219"/><stop offset="0.638" stop-color="#c5e021"/><stop offset="0.669" stop-color="#90d743"/><stop offset="0.71" stop-color="#3fbc73"/><stop offset="0.73" stop-color="#24aa83"/><stop offset="0.751" stop-color="#1f968b"/><stop offset="0.812" stop-color="#365d8d"/><stop offset="0.863" stop-color="#463480"/><stop offset="0.924" stop-color="#481668"/><stop offset="0.991" stop-color="#450559"/><stop offset="1" stop-color="#450559"/></linearGradient>
<linearGradient id="h58" x1="0" y1="0" x2="0" y2="1"><stop offset="0" stop-color="#450559"/><stop offset="0.056" stop-color="#471063"/><stop offset="0.117" stop-color="#472a7a"/><stop offset="0.174" stop-color="#3a548c"/><stop offset="0.24" stop-color="#21918c"/><stop offset="0.26" stop-color="#20a486"/><stop offset="0.281" stop-color="#35b779"/><stop offset="0.322" stop-color="#81d34d"/><stop offset="0.352" stop-color="#bade28"/><stop offset="0.373" stop-color="#d5e21a"/><stop offset="0.398" stop-color="#ece51b"/><stop offset="0.434" stop-color="#fbe723"/><stop offset="0.562" stop-color="#fbe723"/><stop offset="0.597" stop-color="#ece51b"/><stop offset="0.623" stop-color="#d5e21a"/><stop offset="0.648" stop-color="#b0dd2f"/><stop offset="0.669" stop-color="#8bd646"/><stop offset="0.705" stop-color="#46c06f"/><stop offset="0.725" stop-color="#27ad81"/><stop offset="0.74" stop-color="#1f9f88"/><stop offset="0.786" stop-color="#2c738e"/><stop offset="0.848" stop-color="#423f85"/><stop offset="0.904" stop-color="#481d6f"/><stop offset="0.97" stop-color="#46085c"/><stop offset="1" stop-color="#450559"/></linearGradient>
<linearGradient id="h59" x1="0" y1="0" x2="0" y2="1"><stop offset="0" stop-color="#450559"/><stop offset="0.071" stop-color="#481668"/><stop offset="0.133" stop-color="#463480"/><stop offset="0.189" stop-color="#34618d"/><stop offset="0.245" stop-color="#1f948c"/><stop offset="0.266" stop-color="#22a884"/><stop offset="0.281" stop-color="#34b679"/><stop offset="0.301" stop-color="#56c667"/><stop offset="0.342" stop-color="#a5db36"/><stop offset="0.373" stop-color="#d2e21b"/><stop offset="0.398" stop-color="#eae51a"/><stop offset="0.439" stop-color="#fbe723"/><stop offset="0.557" stop-color="#fbe723"/><stop offset="0.597" stop-color="#eae51a"/><stop offset="0.618" stop-color="#d8e219"/><stop offset="0.638" stop-color="#bddf26"/><stop offset="0.669" stop-color="#86d549"/><stop offset="0.71" stop-color="#3aba76"/><stop offset="0.73" stop-color="#22a785"/><stop offset="0.751" stop-color="#20938c"/><stop offset="0.817" stop-color="#38588c"/><stop offset="0.873" stop-color="#472e7c"/><stop offset="0.924" stop-color="#481668"/><stop offset="0.991" stop-color="#450559"/><stop offset="1" stop-color="#450559"/></linearGradient>
<linearGradient id="h60" x1="0" y1="0" x2="0" y2="1"><stop offset="0" stop-color="#450559"/><stop offset="0.071" stop-color="#481668"/><stop offset="0.133" stop-color="#463480"/><stop offset="0.189" stop-color="#34608d"/><stop offset="0.245" stop-color="#20938c"/><stop offset="0.266" stop-color="#22a785"/><stop offset="0.281" stop-color="#31b57b"/><stop offset="0.322" stop-color="#7ad151"/><stop offset="0.357" stop-color="#bade28"/><stop offset="0.378" stop-color="#d5e21a"/><stop offset="0.403" stop-color="#eae51a"/><stop offset="0.419" stop-color="#f4e61e"/><stop offset="0.47" stop-color="#fde725"/><stop offset="0.551" stop-color="#fbe723"/><stop offset="0.597" stop-color="#e7e419"/><stop offset="0.618" stop-color="#d5e21a"/><stop offset="0.643" stop-color="#b0dd2f"/><stop offset="0.679" stop-color="#70cf57"/><stop offset="0.705" stop-color="#40bd72"/><stop offset="0.725" stop-color="#25ab82"/><stop offset="0.74" stop-color="#1e9d89"/><stop offset="0.791" stop-color="#2e6d8e"/><stop offset="0.848" stop-color="#423f85"/><stop offset="0.894" stop-color="#482374"/><stop offset="0.95" stop-color="#470d60"/><stop offset="1" stop-color="#450559"/></linearGradient>
<linearGradient id="h61" x1="0" y1="0" x2="0" y2="1"><stop offset="0" stop-color="#450559"/><stop offset="0.071" stop-color="#481668"/><stop offset="0.133" stop-color="#463480"/><stop offset="0.189" stop-color="#34608d"/><stop offset="0.25" stop-color="#1f978b"/><stop offset="0.266" stop-color="#21a585"/><stop offset="0.286" stop-color="#37b878"/><stop offset="0.311" stop-color="#63cb5f"/><stop offset="0.342" stop-color="#9dd93b"/><stop offset="0.373" stop-color="#cae11f"/><stop offset="0.388" stop-color="#dde318"/><stop offset="0.424" stop-color="#f4e61e"/><stop offset="0.47" stop-color="#fde725"/><stop offset="0.546" stop-color="#fbe723"/><stop offset="0.582" stop-color="#efe51c"/><stop offset="0.613" stop-color="#d8e219"/><stop offset="0.633" stop-color="#bddf26"/><stop offset="0.659" stop-color="#93d741"/><stop offset="0.7" stop-color="#46c06f"/><stop offset="0.72" stop-color="#28ae80"/><stop offset="0.735" stop-color="#1fa188"/><stop offset="0.776" stop-color="#297a8e"/><stop offset="0.842" stop-color="#414287"/><stop offset="0.894" stop-color="#482173"/><stop offset="0.96" stop-color="#460b5e"/><stop offset="1" stop-color="#450559"/></linearGradient>
<linearGradient id="h62" x1="0" y1="0" x2="0" y2="1"><stop offset="0" stop-color="#450559"/><stop offset="0.071" stop-color="#481668"/><stop offset="0.138" stop-color="#453781"/><stop offset="0.189" stop-color="#355f8d"/><stop offset="0.25" stop-color="#1f968b"/><stop offset="0.271" stop-color="#23a983"/><stop offset="0.296" stop-color="#44bf70"/><stop offset="0.337" stop-color="#90d743"/><stop offset="0.368" stop-color="#c2df23"/><stop offset="0.388" stop-color="#dae319"/><stop offset="0.414" stop-color="#ece51b"/><stop offset="0.449" stop-color="#fbe723"/><stop offset="0.546" stop-color="#fbe723"/><stop offset="0.592" stop-color="#e7e419"/><stop offset="0.613" stop-color="#d5e21a"/><stop offset="0.638" stop-color="#b2dd2d"/><stop offset="0.684" stop-color="#60ca60"/><stop offset="0.705" stop-color="#3bbb75"/><stop offset="0.725" stop-color="#23a983"/><stop offset="0.745" stop-color="#1f958b"/><stop offset="0.812" stop-color="#375b8d"/><stop offset="0.868" stop-color="#46307e"/><stop offset="0.919" stop-color="#481769"/><stop offset="0.991" stop-color="#450559"/><stop offset="1" stop-color="#450559"/></linearGradient>
<linearGradient id="h63" x1="0" y1="0" x2="0" y2="1"><stop offset="0" stop-color="#450559"/><stop offset="0.071" stop-color="#481668"/><stop offset="0.138" stop-color="#453781"/><stop offset="0.194" stop-color="#33638d"/><stop offset="0.25" stop-color="#1f958b"/><stop offset="0.271" stop-color="#22a884"/><stop offset="0.291" stop-color="#3aba76"/><stop offset="0.332" stop-color="#84d44b"/><stop offset="0.352" stop-color="#a8db34"/><stop offset="0.378" stop-color="#cde11d"/><stop offset="0.403" stop-color="#e5e419"/><stop offset="0.434" stop-color="#f6e620"/><stop offset="0.48" stop-color="#fde725"/><stop offset="0.541" stop-color="#fbe723"/><stop offset="0.577" stop-color="#efe51c"/><stop offset="0.608" stop-color="#d8e219"/><stop offset="0.628" stop-color="#c0df25"/><stop offset="0.664" stop-color="#84d44b"/><stop offset="0.7" stop-color="#42be71"/><stop offset="0.72" stop-color="#26ad81"/><stop offset="0.735" stop-color="#1f9f88"/><stop offset="0.781" stop-color="#2b748e"/><stop offset="0.842" stop-color="#424186"/><stop offset="0.899" stop-color="#481f70"/><stop offset="0.965" stop-color="#460a5d"/><stop offset="1" stop-color="#450559"/></linearGradient>
<linearGradient id="h64" x1="0" y1="0" x2="0" y2="1"><stop offset="0" stop-color="#450559"/><stop offset="0.071" stop-color="#481668"/><stop offset="0.123" stop-color="#472d7b"/><stop offset="0.179" stop-color="#39558c"/><stop offset="0.245" stop-color="#21908d"/><stop offset="0.266" stop-color="#1fa287"/><stop offset="0.281" stop-color="#2ab07f"/><stop offset="0.306" stop-color="#52c569"/><stop offset="0.347" stop-color="#9dd93b"/><stop offset="0.378" stop-color="#cae11f"/><stop offset="0.403" stop-color="#e5e419"/><stop offset="0.429" stop-color="#f4e61e"/><stop offset="0.475" stop-color="#fde725"/><stop offset="0.541" stop-color="#fbe723"/><stop offset="0.587" stop-color="#e7e419"/><stop offset="0.613" stop-color="#d0e11c"/><stop offset="0.638" stop-color="#addc30"/><stop offset="0.679" stop-color="#65cb5e"/><stop offset="0.705" stop-color="#38b977"/><stop offset="0.72" stop-color="#25ac82"/><stop offset="0.735" stop-color="#1f9e89"/><stop offset="0.786" stop-color="#2e6f8e"/><stop offset="0.848" stop-color="#433e85"/><stop offset="0.899" stop-color="#481f70"/><stop offset="0.965" stop-color="#460a5d"/><stop offset="1" stop-color="#450559"/></linearGradient>
<linearGradient id="h65" x1="0" y1="0" x2="0" y2="1"><stop offset="0" stop-color="#450559"/><stop offset="0.071" stop-color="#481668"/><stop offset="0.123" stop-color="#472d7b"/><stop offset="0.179" stop-color="#39558c"/><stop offset="0.245" stop-color="#218f8d"/><stop offset="0.266" stop-color="#1fa287"/><stop offset="0.286" stop-color="#2fb47c"/><stop offset="0.322" stop-color="#6ccd5a"/><stop offset="0.347" stop-color="#9bd93c"/><stop offset="0.383" stop-color="#d0e11c"/><stop offset="0.414" stop-color="#eae51a"/><stop offset="0.454" stop-color="#fbe723"/><stop offset="0.541" stop-color="#fbe723"/><stop offset="0.582" stop-color="#eae51a"/><stop offset="0.608" stop-color="#d2e21b"/><stop offset="0.628" stop-color="#bade28"/><stop offset="0.664" stop-color="#7fd34e"/><stop offset="0.7" stop-color="#3fbc73"/><stop offset="0.72" stop-color="#25ab82"/><stop offset="0.74" stop-color="#1f988b"/><stop offset="0.802" stop-color="#33628d"/><stop offset="0.863" stop-color="#46337f"/><stop offset="0.919" stop-color="#481769"/><stop offset="0.991" stop-color="#450559"/><stop offset="1" stop-color="#450559"/></linearGradient>
<linearGradient id="h66" x1="0" y1="0" x2="0" y2="1"><stop offset="0" stop-color="#450559"/><stop offset="0.071" stop-color="#481668"/><stop offset="0.128" stop-color="#472f7d"/><stop offset="0.184" stop-color="#38598c"/><stop offset="0.25" stop-color="#20938c"/><stop offset="0.271" stop-color="#21a685"/><stop offset="0.291" stop-color="#35b779"/><stop offset="0.332" stop-color="#7cd250"/><stop offset="0.363" stop-color="#b2dd2d"/><stop offset="0.388" stop-color="#d2e21b"/><stop offset="0.408" stop-color="#e5e419"/><stop offset="0.439" stop-color="#f6e620"/><stop offset="0.485" stop-color="#fde725"/><stop offset="0.536" stop-color="#fbe723"/><stop offset="0.572" stop-color="#efe51c"/><stop offset="0.603" stop-color="#d8e219"/><stop offset="0.623" stop-color="#c0df25"/><stop offset="0.664" stop-color="#7cd250"/><stop offset="0.7" stop-color="#3dbc74"/><stop offset="0.72" stop-color="#24aa83"/><stop offset="0.74" stop-color="#1f978b"/><stop offset="0.802" stop-color="#34618d"/><stop offset="0.858" stop-color="#453581"/><stop offset="0.919" stop-color="#481769"/><stop offset="0.991" stop-color="#450559"/><stop offset="1" stop-color="#450559"/></linearGradient>
<linearGradient id="h67" x1="0" y1="0" x2="0" y2="1"><stop offset="0" stop-color="#450559"/><stop offset="0.071" stop-color="#481668"/><stop offset="0.128" stop-color="#472f7d"/><stop offset="0.184" stop-color="#38598c"/><stop offset="0.25" stop-color="#20928c"/><stop offset="0.271" stop-color="#21a585"/><stop offset="0.286" stop-color="#2eb37c"/><stop offset="0.306" stop-color="#4ec36b"/><stop offset="0.352" stop-color="#a0da39"/><stop offset="0.378" stop-color="#c5e021"/><stop offset="0.393" stop-color="#d8e219"/><stop offset="0.429" stop-color="#f1e51d"/><stop offset="0.48" stop-color="#fde725"/><stop offset="0.536" stop-color="#fbe723"/><stop offset="0.567" stop-color="#f1e51d"/><stop offset="0.592" stop-color="#dfe318"/><stop offset="0.618" stop-color="#c5e021"/><stop offset="0.643" stop-color="#a0da39"/><stop offset="0.694" stop-color="#44bf70"/><stop offset="0.715" stop-color="#27ad81"/><stop offset="0.735" stop-color="#1e9c89"/><stop offset="0.791" stop-color="#30698e"/><stop offset="0.853" stop-color="#443983"/><stop offset="0.914" stop-color="#48186a"/><stop offset="0.991" stop-color="#450559"/><stop offset="1" stop-color="#450559"/></linearGradient>
<linearGradient id="h68" x1="0" y1="0" x2="0" y2="1"><stop offset="0" stop-color="#450559"/><stop offset="0.071" stop-color="#481668"/><stop offset="0.128" stop-color="#472f7d"/><stop offset="0.184" stop-color="#38598c"/><stop offset="0.25" stop-color="#20928c"/><stop offset="0.271" stop-color="#20a486"/><stop offset="0.286" stop-color="#2db27d"/><stop offset="0.311" stop-color="#54c568"/><stop offset="0.352" stop-color="#9dd93b"/><stop offset="0.383" stop-color="#cae11f"/><stop offset="0.408" stop-color="#e2e418"/><stop offset="0.449" stop-color="#f8e621"/><stop offset="0.49" stop-color="#fde725"/><stop offset="0.536" stop-color="#fbe723"/><stop offset="0.582" stop-color="#e7e419"/><stop offset="0.608" stop-color="#d0e11c"/><stop offset="0.633" stop-color="#addc30"/><stop offset="0.654" stop-color="#8bd646"/><stop offset="0.7" stop-color="#3aba76"/><stop offset="0.72" stop-color="#23a983"/><stop offset="0.74" stop-color="#1f968b"/><stop offset="0.807" stop-color="#365c8d"/><stop offset="0.863" stop-color="#46337f"/><stop offset="0.919" stop-color="#481769"/><stop offset="0.991" stop-color="#450559"/><stop offset="1" stop-color="#450559"/></linearGradient>
<linearGradient id="h69" x1="0" y1="0" x2="0" y2="1"><stop offset="0" stop-color="#450559"/><stop offset="0.071" stop-color="#481668"/><stop offset="0.128" stop-color="#472f7d"/><stop offset="0.184" stop-color="#38598c"/><stop offset="0.25" stop-color="#20928c"/><stop offset="0.271" stop-color="#20a486"/><stop offset="0.291" stop-color="#32b67a"/><stop offset="0.332" stop-color="#77d153"/><stop offset="0.363" stop-color="#addc30"/><stop offset="0.393" stop-color="#d5e21a"/><stop offset="0.419" stop-color="#eae51a"/><stop offset="0.46" stop-color="#fbe723"/><stop offset="0.536" stop-color="#fbe723"/><stop offset="0.577" stop-color="#eae51a"/><stop offset="0.603" stop-color="#d2e21b"/><stop offset="0.623" stop-color="#bade28"/><stop offset="0.633" stop-color="#addc30"/><stop offset="0.679" stop-color="#5cc863"/><stop offset="0.705" stop-color="#32b67a"/><stop offset="0.72" stop-color="#22a884"/><stop offset="0.74" stop-color="#1f958b"/><stop offset="0.807" stop-color="#365c8d"/><stop offset="0.868" stop-color="#472f7d"/><stop offset="0.924" stop-color="#481668"/><stop offset="0.985" stop-color="#46075a"/><stop offset="1" stop-color="#450559"/></linearGradient>
<linearGradient id="h70" x1="0" y1="0" x2="0" y2="1"><stop offset="0" stop-color="#450559"/><stop offset="0.071" stop-color="#481668"/><stop offset="0.128" stop-color="#472f7d"/><stop offset="0.184" stop-color="#38588c"/><stop offset="0.25" stop-color="#21918c"/><stop offset="0.271" stop-color="#20a386"/><stop offset="0.286" stop-color="#2cb17e"/><stop offset="0.301" stop-color="#40bd72"/><stop offset="0.347" stop-color="#93d741"/><stop offset="0.383" stop-color="#c8e020"/><stop offset="0.408" stop-color="#e2e418"/><stop offset="0.449" stop-color="#f8e621"/><stop offset="0.49" stop-color="#fde725"/><stop offset="0.536" stop-color="#fbe723"/><stop offset="0.572" stop-color="#ece51b"/><stop offset="0.597" stop-color="#d8e219"/><stop offset="0.623" stop-color="#bade28"/><stop offset="0.659" stop-color="#7fd34e"/><stop offset="0.7" stop-color="#38b977"/><stop offset="0.715" stop-color="#26ad81"/><stop offset="0.73" stop-color="#1f9f88"/><stop offset="0.781" stop-color="#2d718e"/><stop offset="0.842" stop-color="#424086"/><stop offset="0.899" stop-color="#481f70"/><stop offset="0.965" stop-color="#460a5d"/><stop offset="1" stop-color="#450559"/></linearGradient>
<linearGradient id="h71" x1="0" y1="0" x2="0" y2="1"><stop offset="0" stop-color="#450559"/><stop offset="0.071" stop-color="#481668"/><stop offset="0.128" stop-color="#472f7d"/><stop offset="0.184" stop-color="#38588c"/><stop offset="0.25" stop-color="#21918c"/><stop offset="0.271" stop-color="#20a386"/><stop offset="0.291" stop-color="#31b57b"/><stop offset="0.317" stop-color="#5ac864"/><stop offset="0.363" stop-color="#aadc32"/><stop offset="0.393" stop-color="#d2e21b"/><stop offset="0.419" stop-color="#e7e419"/><stop offset="0.444" stop-color="#f6e620"/><stop offset="0.48" stop-color="#fde725"/><stop offset="0.536" stop-color="#fbe723"/><stop offset="0.572" stop-color="#ece51b"/><stop offset="0.597" stop-color="#d8e219"/><stop offset="0.618" stop-color="#c0df25"/><stop offset="0.664" stop-color="#75d054"/><stop offset="0.7" stop-color="#37b878"/><stop offset="0.72" stop-color="#22a785"/><stop offset="0.74" stop-color="#1f948c"/><stop offset="0.807" stop-color="#365c8d"/><stop offset="0.868" stop-color="#472f7d"/><stop offset="0.924" stop-color="#481668"/><stop offset="0.985" stop-color="#46075a"/><stop offset="1" stop-color="#450559"/></linearGradient>
<linearGradient id="h72" x1="0" y1="0" x2="0" y2="1"><stop offset="0" stop-color="#450559"/><stop offset="0.071" stop-color="#481668"/><stop offset="0.133" stop-color="#46327e"/><stop offset="0.189" stop-color="#365c8d"/><stop offset="0.255" stop-color="#1f948c"/><stop offset="0.276" stop-color="#22a785"/><stop offset="0.296" stop-color="#37b878"/><stop offset="0.342" stop-color="#86d549"/><stop offset="0.378" stop-color="#c0df25"/><stop offset="0.398" stop-color="#d8e219"/><stop offset="0.434" stop-color="#f1e51d"/><stop offset="0.465" stop-color="#fbe723"/><stop offset="0.536" stop-color="#fbe723"/><stop offset="0.567" stop-color="#efe51c"/><stop offset="0.592" stop-color="#dae319"/><stop offset="0.618" stop-color="#bddf26"/><stop offset="0.643" stop-color="#98d83e"/><stop offset="0.689" stop-color="#46c06f"/><stop offset="0.71" stop-color="#29af7f"/><stop offset="0.73" stop-color="#1f9e89"/><stop offset="0.781" stop-color="#2d718e"/><stop offset="0.842" stop-color="#424086"/><stop offset="0.899" stop-color="#481f70"/><stop offset="0.965" stop-color="#460a5d"/><stop offset="1" stop-color="#450559"/></linearGradient>
<linearGradient id="h73" x1="0" y1="0" x2="0" y2="1"><stop offset="0" stop-color="#450559"/><stop offset="0.071" stop-color="#481668"/><stop offset="0.133" stop-color="#46327e"/><stop offset="0.189" stop-color="#365c8d"/><stop offset="0.255" stop-color="#1f948c"/><stop offset="0.276" stop-color="#22a785"/><stop offset="0.291" stop-color="#2fb47c"/><stop offset="0.317" stop-color="#58c765"/><stop offset="0.368" stop-color="#b0dd2f"/><stop offset="0.393" stop-color="#d0e11c"/><stop offset="0.419" stop-color="#e7e419"/><stop offset="0.439" stop-color="#f4e61e"/><stop offset="0.48" stop-color="#fde725"/><stop offset="0.531" stop-color="#fbe723"/><stop offset="0.577" stop-color="#e7e419"/><stop offset="0.603" stop-color="#d0e11c"/><stop offset="0.633" stop-color="#a8db34"/><stop offset="0.679" stop-color="#56c667"/><stop offset="0.705" stop-color="#2fb47c"/><stop offset="0.72" stop-color="#21a685"/><stop offset="0.74" stop-color="#20938c"/><stop offset="0.812" stop-color="#39568c"/><stop offset="0.868" stop-color="#472f7d"/><stop offset="0.919" stop-color="#481769"/><stop offset="0.985" stop-color="#46075a"/><stop offset="1" stop-color="#450559"/></linearGradient>
<linearGradient id="h74" x1="0" y1="0" x2="0" y2="1"><stop offset="0" stop-color="#450559"/><stop offset="0.071" stop-color="#481668"/><stop offset="0.133" stop-color="#46327e"/><stop offset="0.189" stop-color="#375b8d"/><stop offset="0.255" stop-color="#1f948c"/><stop offset="0.276" stop-color="#21a685"/><stop offset="0.296" stop-color="#35b779"/><stop offset="0.337" stop-color="#7ad151"/><stop offset="0.357" stop-color="#9dd93b"/><stop offset="0.388" stop-color="#cae11f"/><stop offset="0.414" stop-color="#e2e418"/><stop offset="0.454" stop-color="#f8e621"/><stop offset="0.495" stop-color="#fde725"/><stop offset="0.531" stop-color="#fbe723"/><stop offset="0.577" stop-color="#e7e419"/><stop offset="0.603" stop-color="#d0e11c"/><stop offset="0.628" stop-color="#addc30"/><stop offset="0.664" stop-color="#70cf57"/><stop offset="0.694" stop-color="#3bbb75"/><stop offset="0.715" stop-color="#24aa83"/><stop offset="0.735" stop-color="#1f988b"/><stop offset="0.797" stop-color="#33638d"/><stop offset="0.858" stop-color="#453581"/><stop offset="0.919" stop-color="#481769"/><stop offset="0.985" stop-color="#46075a"/><stop offset="1" stop-color="#450559"/></linearGradient>
<linearGradient id="h75" x1="0" y1="0" x2="0" y2="1"><stop offset="0" stop-color="#450559"/><stop offset="0.071" stop-color="#481668"/><stop offset="0.133" stop-color="#46327e"/><stop offset="0.189" stop-color="#375b8d"/><stop offset="0.255" stop-color="#20938c"/><stop offset="0.276" stop-color="#21a685"/><stop offset="0.291" stop-color="#2eb37c"/><stop offset="0.311" stop-color="#4cc26c"/><stop offset="0.357" stop-color="#9dd93b"/><stop offset="0.383" stop-color="#c2df23"/><stop offset="0.403" stop-color="#dae319"/><stop offset="0.439" stop-color="#f1e51d"/><stop offset="0.475" stop-color="#fde725"/><stop offset="0.531" stop-color="#fbe723"/><stop offset="0.572" stop-color="#eae51a"/><stop offset="0.597" stop-color="#d2e21b"/><stop offset="0.618" stop-color="#bade28"/><stop offset="0.633" stop-color="#a5db36"/><stop offset="0.679" stop-color="#54c568"/><stop offset="0.705" stop-color="#2eb37c"/><stop offset="0.72" stop-color="#21a585"/><stop offset="0.745" stop-color="#218f8d"/><stop offset="0.817" stop-color="#3b528b"/><stop offset="0.873" stop-color="#472c7a"/><stop offset="0.924" stop-color="#481668"/><stop offset="0.985" stop-color="#46075a"/><stop offset="1" stop-color="#450559"/></linearGradient>
<linearGradient id="h76" x1="0" y1="0" x2="0" y2="1"><stop offset="0" stop-color="#450559"/><stop offset="0.071" stop-color="#481668"/><stop offset="0.133" stop-color="#46327e"/><stop offset="0.189" stop-color="#375b8d"/><stop offset="0.255" stop-color="#20938c"/><stop offset="0.276" stop-color="#21a585"/><stop offset="0.296" stop-color="#34b679"/><stop offset="0.337" stop-color="#77d153"/><stop offset="0.368" stop-color="#addc30"/><stop offset="0.393" stop-color="#cde11d"/><stop offset="0.419" stop-color="#e5e419"/><stop offset="0.454" stop-color="#f8e621"/><stop offset="0.495" stop-color="#fde725"/><stop offset="0.531" stop-color="#fbe723"/><stop offset="0.572" stop-color="#eae51a"/><stop offset="0.597" stop-color="#d2e21b"/><stop offset="0.623" stop-color="#b2dd2d"/><stop offset="0.659" stop-color="#77d153"/><stop offset="0.694" stop-color="#3aba76"/><stop offset="0.715" stop-color="#24aa83"/><stop offset="0.735" stop-color="#1f978b"/><stop offset="0.802" stop-color="#355f8d"/><stop offset="0.863" stop-color="#46327e"/><stop offset="0.919" stop-color="#481769"/><stop offset="0.985" stop-color="#46075a"/><stop offset="1" stop-color="#450559"/></linearGradient>
<linearGradient id="h77" x1="0" y1="0" x2="0" y2="1"><stop offset="0" stop-color="#450559"/><stop offset="0.071" stop-color="#481668"/><stop offset="0.133" stop-color="#46327e"/><stop offset="0.189" stop-color="#375b8d"/><stop offset="0.255" stop-color="#20928c"/><stop offset="0.276" stop-color="#21a585"/><stop offset="0.291" stop-color="#2db27d"/><stop offset="0.311" stop-color="#4ac16d"/><stop offset="0.357" stop-color="#9bd93c"/><stop offset="0.388" stop-color="#c8e020"/><stop offset="0.414" stop-color="#e2e418"/><stop offset="0.454" stop-color="#f8e621"/><stop offset="0.495" stop-color="#fde725"/><stop offset="0.531" stop-color="#fbe723"/><stop offset="0.567" stop-color="#ece51b"/><stop offset="0.592" stop-color="#d8e219"/><stop offset="0.613" stop-color="#c0df25"/><stop offset="0.648" stop-color="#89d548"/><stop offset="0.694" stop-color="#3aba76"/><stop offset="0.715" stop-color="#23a983"/><stop offset="0.735" stop-color="#1f978b"/><stop offset="0.802" stop-color="#355e8d"/><stop offset="0.863" stop-color="#46327e"/><stop offset="0.919" stop-color="#481769"/><stop offset="0.985" stop-color="#46075a"/><stop offset="1" stop-color="#450559"/></linearGradient>
<linearGradient id="h78" x1="0" y1="0" x2="0" y2="1"><stop offset="0" stop-color="#450559"/><stop offset="0.071" stop-color="#481668"/><stop offset="0.133" stop-color="#46327e"/><stop offset="0.189" stop-color="#375b8d"/><stop offset="0.255" stop-color="#20928c"/><stop offset="0.276" stop-color="#20a486"/><stop offset="0.296" stop-color="#32b67a"/><stop offset="0.327" stop-color="#65cb5e"/><stop offset="0.373" stop-color="#b2dd2d"/><stop offset="0.398" stop-color="#d2e21b"/><stop offset="0.424" stop-color="#e7e419"/><stop offset="0.454" stop-color="#f8e621"/><stop offset="0.495" stop-color="#fde725"/><stop offset="0.531" stop-color="#fbe723"/><stop offset="0.567" stop-color="#ece51b"/><stop offset="0.592" stop-color="#d8e219"/><stop offset="0.618" stop-color="#b8de29"/><stop offset="0.633" stop-color="#a2da37"/><stop offset="0.684" stop-color="#4ac16d"/><stop offset="0.705" stop-color="#2cb17e"/><stop offset="0.725" stop-color="#1fa088"/><stop offset="0.766" stop-color="#287c8e"/><stop offset="0.837" stop-color="#414287"/><stop offset="0.894" stop-color="#482173"/><stop offset="0.96" stop-color="#460b5e"/><stop offset="1" stop-color="#450559"/></linearGradient>
<linearGradient id="h79" x1="0" y1="0" x2="0" y2="1"><stop offset="0" stop-color="#450559"/><stop offset="0.071" stop-color="#481668"/><stop offset="0.133" stop-color="#46327e"/><stop offset="0.194" stop-color="#355e8d"/><stop offset="0.26" stop-color="#1f978b"/><stop offset="0.281" stop-color="#23a983"/><stop offset="0.296" stop-color="#32b67a"/><stop offset="0.337" stop-color="#75d054"/><stop offset="0.368" stop-color="#aadc32"/><stop offset="0.398" stop-color="#d2e21b"/><stop offset="0.424" stop-color="#e7e419"/><stop offset="0.454" stop-color="#f8e621"/><stop offset="0.495" stop-color="#fde725"/><stop offset="0.531" stop-color="#fbe723"/><stop offset="0.562" stop-color="#efe51c"/><stop offset="0.587" stop-color="#dae319"/><stop offset="0.613" stop-color="#c0df25"/><stop offset="0.659" stop-color="#75d054"/><stop offset="0.694" stop-color="#38b977"/><stop offset="0.715" stop-color="#22a884"/><stop offset="0.735" stop-color="#1f968b"/><stop offset="0.802" stop-color="#355e8d"/><stop offset="0.863" stop-color="#46327e"/><stop offset="0.919" stop-color="#481769"/><stop offset="0.985" stop-color="#46075a"/><stop offset="1" stop-color="#450559"/></linearGradient>
<linearGradient id="h80" x1="0" y1="0" x2="0" y2="1"><stop offset="0" stop-color="#450559"/><stop offset="0.071" stop-color="#481668"/><stop offset="0.133" stop-color="#46327e"/><stop offset="0.194" stop-color="#355e8d"/><stop offset="0.26" stop-color="#1f968b"/><stop offset="0.281" stop-color="#23a983"/><stop offset="0.301" stop-color="#38b977"/><stop offset="0.347" stop-color="#86d549"/><stop offset="0.383" stop-color="#c0df25"/><stop offset="0.414" stop-color="#dfe318"/><stop offset="0.449" stop-color="#f6e620"/><stop offset="0.485" stop-color="#fde725"/><stop offset="0.531" stop-color="#fbe723"/><stop offset="0.562" stop-color="#efe51c"/><stop offset="0.587" stop-color="#dae319"/><stop offset="0.613" stop-color="#bddf26"/><stop offset="0.638" stop-color="#98d83e"/><stop offset="0.684" stop-color="#48c16e"/><stop offset="0.705" stop-color="#2cb17e"/><stop offset="0.72" stop-color="#20a386"/><stop offset="0.745" stop-color="#228d8d"/><stop offset="0.822" stop-color="#3d4e8a"/><stop offset="0.878" stop-color="#482979"/><stop offset="0.939" stop-color="#471063"/><stop offset="1" stop-color="#450559"/></linearGradient>
<linearGradient id="h81" x1="0" y1="0" x2="0" y2="1"><stop offset="0" stop-color="#450559"/><stop offset="0.071" stop-color="#481668"/><stop offset="0.138" stop-color="#463480"/><stop offset="0.194" stop-color="#355e8d"/><stop offset="0.26" stop-color="#1f968b"/><stop offset="0.281" stop-color="#22a884"/><stop offset="0.301" stop-color="#38b977"/><stop offset="0.332" stop-color="#6ccd5a"/><stop offset="0.368" stop-color="#a8db34"/><stop offset="0.393" stop-color="#cae11f"/><stop offset="0.419" stop-color="#e5e419"/><stop offset="0.449" stop-color="#f6e620"/><stop offset="0.485" stop-color="#fde725"/><stop offset="0.531" stop-color="#fbe723"/><stop offset="0.562" stop-color="#efe51c"/><stop offset="0.587" stop-color="#dae319"/><stop offset="0.613" stop-color="#bddf26"/><stop offset="0.638" stop-color="#98d83e"/><stop offset="0.689" stop-color="#3fbc73"/><stop offset="0.71" stop-color="#26ad81"/><stop offset="0.725" stop-color="#1f9f88"/><stop offset="0.776" stop-color="#2c728e"/><stop offset="0.842" stop-color="#423f85"/><stop offset="0.904" stop-color="#481c6e"/><stop offset="0.975" stop-color="#46085c"/><stop offset="1" stop-color="#450559"/></linearGradient>
<linearGradient id="h82" x1="0" y1="0" x2="0" y2="1"><stop offset="0" stop-color="#450559"/><stop offset="0.071" stop-color="#481668"/><stop offset="0.128" stop-color="#472e7c"/><stop offset="0.189" stop-color="#375a8c"/><stop offset="0.255" stop-color="#20928c"/><stop offset="0.276" stop-color="#20a386"/><stop offset="0.296" stop-color="#31b57b"/><stop offset="0.322" stop-color="#58c765"/><stop offset="0.368" stop-color="#a8db34"/><stop offset="0.393" stop-color="#cae11f"/><stop offset="0.419" stop-color="#e2e418"/><stop offset="0.444" stop-color="#f4e61e"/><stop offset="0.485" stop-color="#fde725"/><stop offset="0.531" stop-color="#fbe723"/><stop offset="0.557" stop-color="#f1e51d"/><stop offset="0.587" stop-color="#dae319"/><stop offset="0.613" stop-color="#bddf26"/><stop offset="0.633" stop-color="#a0da39"/><stop offset="0.679" stop-color="#50c46a"/><stop offset="0.7" stop-color="#31b57b"/><stop offset="0.715" stop-color="#22a884"/><stop offset="0.735" stop-color="#1f958b"/><stop offset="0.807" stop-color="#375a8c"/><stop offset="0.868" stop-color="#472e7c"/><stop offset="0.924" stop-color="#481668"/><stop offset="0.985" stop-color="#46075a"/><stop offset="1" stop-color="#450559"/></linearGradient>
<linearGradient id="h83" x1="0" y1="0" x2="0" y2="1"><stop offset="0" stop-color="#450559"/><stop offset="0.071" stop-color="#481668"/><stop offset="0.128" stop-color="#472e7c"/><stop offset="0.189" stop-color="#375a8c"/><stop offset="0.255" stop-color="#20928c"/><stop offset="0.276" stop-color="#20a386"/><stop offset="0.296" stop-color="#31b57b"/><stop offset="0.337" stop-color="#73d056"/><stop offset="0.373" stop-color="#b0dd2f"/><stop offset="0.398" stop-color="#d0e11c"/><stop offset="0.424" stop-color="#e7e419"/><stop offset="0.449" stop-color="#f6e620"/><stop offset="0.485" stop-color="#fde725"/><stop offset="0.531" stop-color="#fbe723"/><stop offset="0.557" stop-color="#f1e51d"/><stop offset="0.587" stop-color="#dae319"/><stop offset="0.613" stop-color="#bddf26"/><stop offset="0.628" stop-color="#a8db34"/><stop offset="0.674" stop-color="#58c765"/><stop offset="0.7" stop-color="#31b57b"/><stop offset="0.715" stop-color="#22a884"/><stop offset="0.735" stop-color="#1f958b"/><stop offset="0.807" stop-color="#375a8c"/><stop offset="0.868" stop-color="#472e7c"/><stop offset="0.924" stop-color="#481668"/><stop offset="0.985" stop-color="#46075a"/><stop offset="1" stop-color="#450559"/></linearGradient>
<linearGradient id="h84" x1="0" y1="0" x2="0" y2="1"><stop offset="0" stop-color="#450559"/><stop offset="0.071" stop-color="#481668"/><stop offset="0.128" stop-color="#472e7c"/><stop offset="0.189" stop-color="#375a8c"/><stop offset="0.255" stop-color="#20928c"/><stop offset="0.276" stop-color="#20a386"/><stop offset="0.296" stop-color="#31b57b"/><stop offset="0.337" stop-color="#73d056"/><stop offset="0.373" stop-color="#b0dd2f"/><stop offset="0.398" stop-color="#d0e11c"/><stop offset="0.424" stop-color="#e7e419"/><stop offset="0.449" stop-color="#f6e620"/><stop offset="0.485" stop-color="#fde725"/><stop offset="0.531" stop-color="#fbe723"/><stop offset="0.557" stop-color="#f1e51d"/><stop offset="0.587" stop-color="#dae319"/><stop offset="0.613" stop-color="#bddf26"/><stop offset="0.659" stop-color="#73d056"/><stop offset="0.689" stop-color="#3fbc73"/><stop offset="0.71" stop-color="#25ac82"/><stop offset="0.73" stop-color="#1f9a8a"/><stop offset="0.791" stop-color="#31668e"/><stop offset="0.853" stop-color="#453882"/><stop offset="0.919" stop-color="#481769"/><stop offset="0.985" stop-color="#46075a"/><stop offset="1" stop-color="#450559"/></linearGradient>
<linearGradient id="h85" x1="0" y1="0" x2="0" y2="1"><stop offset="0" stop-color="#450559"/><stop offset="0.071" stop-color="#481668"/><stop offset="0.128" stop-color="#472e7c"/><stop offset="0.189" stop-color="#375a8c"/><stop offset="0.255" stop-color="#20928c"/><stop offset="0.276" stop-color="#20a386"/><stop offset="0.296" stop-color="#31b57b"/><stop offset="0.337" stop-color="#73d056"/><stop offset="0.373" stop-color="#b0dd2f"/><stop offset="0.403" stop-color="#d5e21a"/><stop offset="0.429" stop-color="#eae51a"/><stop offset="0.449" stop-color="#f6e620"/><stop offset="0.485" stop-color="#fde725"/><stop offset="0.531" stop-color="#fbe723"/><stop offset="0.557" stop-color="#f1e51d"/><stop offset="0.587" stop-color="#dae319"/><stop offset="0.613" stop-color="#bddf26"/><stop offset="0.659" stop-color="#73d056"/><stop offset="0.689" stop-color="#3fbc73"/><stop offset="0.71" stop-color="#25ac82"/><stop offset="0.73" stop-color="#1f9a8a"/><stop offset="0.791" stop-color="#31668e"/><stop offset="0.853" stop-color="#453882"/><stop offset="0.919" stop-color="#481769"/><stop offset="0.985" stop-color="#46075a"/><stop offset="1" stop-color="#450559"/></linearGradient>
<linearGradient id="h86" x1="0" y1="0" x2="0" y2="1"><stop offset="0" stop-color="#450559"/><stop offset="0.071" stop-color="#481668"/><stop offset="0.128" stop-color="#472e7c"/><stop offset="0.189" stop-color="#375a8c"/><stop offset="0.255" stop-color="#20928c"/><stop offset="0.276" stop-color="#20a386"/><stop offset="0.296" stop-color="#31b57b"/><stop offset="0.337" stop-color="#73d056"/><stop offset="0.373" stop-color="#b0dd2f"/><stop offset="0.403" stop-color="#d5e21a"/><stop offset="0.429" stop-color="#eae51a"/><stop offset="0.449" stop-color="#f6e620"/><stop offset="0.485" stop-color="#fde725"/><stop offset="0.531" stop-color="#fbe723"/><stop offset="0.557" stop-color="#f1e51d"/><stop offset="0.587" stop-color="#dae319"/><stop offset="0.613" stop-color="#bddf26"/><stop offset="0.659" stop-color="#73d056"/><stop offset="0.689" stop-color="#3fbc73"/><stop offset="0.71" stop-color="#25ac82"/><stop offset="0.73" stop-color="#1f9a8a"/><stop offset="0.791" stop-color="#31668e"/><stop offset="0.853" stop-color="#453882"/><stop offset="0.919" stop-color="#481769"/><stop offset="0.985" stop-color="#46075a"/><stop offset="1" stop-color="#450559"/></linearGradient>
<clipPath id="cl"><rect x="122" y="125.1" width="664" height="391.7"/></clipPath>
<filter id="bl" x="-5%" y="-5%" width="110%" height="110%"><feGaussianBlur stdDeviation="5 0"/></filter>
<g id="heat"><g clip-path="url(#cl)"><g filter="url(#bl)"><rect x="106" y="125.1" width="8.5" height="391.7" fill="url(#h0)"/><rect x="114" y="125.1" width="8.5" height="391.7" fill="url(#h1)"/><rect x="122" y="125.1" width="8.5" height="391.7" fill="url(#h2)"/><rect x="130" y="125.1" width="8.5" height="391.7" fill="url(#h3)"/><rect x="138" y="125.1" width="8.5" height="391.7" fill="url(#h4)"/><rect x="146" y="125.1" width="8.5" height="391.7" fill="url(#h5)"/><rect x="154" y="125.1" width="8.5" height="391.7" fill="url(#h6)"/><rect x="162" y="125.1" width="8.5" height="391.7" fill="url(#h7)"/><rect x="170" y="125.1" width="8.5" height="391.7" fill="url(#h8)"/><rect x="178" y="125.1" width="8.5" height="391.7" fill="url(#h9)"/><rect x="186" y="125.1" width="8.5" height="391.7" fill="url(#h10)"/><rect x="194" y="125.1" width="8.5" height="391.7" fill="url(#h11)"/><rect x="202" y="125.1" width="8.5" height="391.7" fill="url(#h12)"/><rect x="210" y="125.1" width="8.5" height="391.7" fill="url(#h13)"/><rect x="218" y="125.1" width="8.5" height="391.7" fill="url(#h14)"/><rect x="226" y="125.1" width="8.5" height="391.7" fill="url(#h15)"/><rect x="234" y="125.1" width="8.5" height="391.7" fill="url(#h16)"/><rect x="242" y="125.1" width="8.5" height="391.7" fill="url(#h17)"/><rect x="250" y="125.1" width="8.5" height="391.7" fill="url(#h18)"/><rect x="258" y="125.1" width="8.5" height="391.7" fill="url(#h19)"/><rect x="266" y="125.1" width="8.5" height="391.7" fill="url(#h20)"/><rect x="274" y="125.1" width="8.5" height="391.7" fill="url(#h21)"/><rect x="282" y="125.1" width="8.5" height="391.7" fill="url(#h22)"/><rect x="290" y="125.1" width="8.5" height="391.7" fill="url(#h23)"/><rect x="298" y="125.1" width="8.5" height="391.7" fill="url(#h24)"/><rect x="306" y="125.1" width="8.5" height="391.7" fill="url(#h25)"/><rect x="314" y="125.1" width="8.5" height="391.7" fill="url(#h26)"/><rect x="322" y="125.1" width="8.5" height="391.7" fill="url(#h27)"/><rect x="330" y="125.1" width="8.5" height="391.7" fill="url(#h28)"/><rect x="338" y="125.1" width="8.5" height="391.7" fill="url(#h29)"/><rect x="346" y="125.1" width="8.5" height="391.7" fill="url(#h30)"/><rect x="354" y="125.1" width="8.5" height="391.7" fill="url(#h31)"/><rect x="362" y="125.1" width="8.5" height="391.7" fill="url(#h32)"/><rect x="370" y="125.1" width="8.5" height="391.7" fill="url(#h33)"/><rect x="378" y="125.1" width="8.5" height="391.7" fill="url(#h34)"/><rect x="386" y="125.1" width="8.5" height="391.7" fill="url(#h35)"/><rect x="394" y="125.1" width="8.5" height="391.7" fill="url(#h36)"/><rect x="402" y="125.1" width="8.5" height="391.7" fill="url(#h37)"/><rect x="410" y="125.1" width="8.5" height="391.7" fill="url(#h38)"/><rect x="418" y="125.1" width="8.5" height="391.7" fill="url(#h39)"/><rect x="426" y="125.1" width="8.5" height="391.7" fill="url(#h40)"/><rect x="434" y="125.1" width="8.5" height="391.7" fill="url(#h41)"/><rect x="442" y="125.1" width="8.5" height="391.7" fill="url(#h42)"/><rect x="450" y="125.1" width="8.5" height="391.7" fill="url(#h43)"/><rect x="458" y="125.1" width="8.5" height="391.7" fill="url(#h44)"/><rect x="466" y="125.1" width="8.5" height="391.7" fill="url(#h45)"/><rect x="474" y="125.1" width="8.5" height="391.7" fill="url(#h46)"/><rect x="482" y="125.1" width="8.5" height="391.7" fill="url(#h47)"/><rect x="490" y="125.1" width="8.5" height="391.7" fill="url(#h48)"/><rect x="498" y="125.1" width="8.5" height="391.7" fill="url(#h49)"/><rect x="506" y="125.1" width="8.5" height="391.7" fill="url(#h50)"/><rect x="514" y="125.1" width="8.5" height="391.7" fill="url(#h51)"/><rect x="522" y="125.1" width="8.5" height="391.7" fill="url(#h52)"/><rect x="530" y="125.1" width="8.5" height="391.7" fill="url(#h53)"/><rect x="538" y="125.1" width="8.5" height="391.7" fill="url(#h54)"/><rect x="546" y="125.1" width="8.5" height="391.7" fill="url(#h55)"/><rect x="554" y="125.1" width="8.5" height="391.7" fill="url(#h56)"/><rect x="562" y="125.1" width="8.5" height="391.7" fill="url(#h57)"/><rect x="570" y="125.1" width="8.5" height="391.7" fill="url(#h58)"/><rect x="578" y="125.1" width="8.5" height="391.7" fill="url(#h59)"/><rect x="586" y="125.1" width="8.5" height="391.7" fill="url(#h60)"/><rect x="594" y="125.1" width="8.5" height="391.7" fill="url(#h61)"/><rect x="602" y="125.1" width="8.5" height="391.7" fill="url(#h62)"/><rect x="610" y="125.1" width="8.5" height="391.7" fill="url(#h63)"/><rect x="618" y="125.1" width="8.5" height="391.7" fill="url(#h64)"/><rect x="626" y="125.1" width="8.5" height="391.7" fill="url(#h65)"/><rect x="634" y="125.1" width="8.5" height="391.7" fill="url(#h66)"/><rect x="642" y="125.1" width="8.5" height="391.7" fill="url(#h67)"/><rect x="650" y="125.1" width="8.5" height="391.7" fill="url(#h68)"/><rect x="658" y="125.1" width="8.5" height="391.7" fill="url(#h69)"/><rect x="666" y="125.1" width="8.5" height="391.7" fill="url(#h70)"/><rect x="674" y="125.1" width="8.5" height="391.7" fill="url(#h71)"/><rect x="682" y="125.1" width="8.5" height="391.7" fill="url(#h72)"/><rect x="690" y="125.1" width="8.5" height="391.7" fill="url(#h73)"/><rect x="698" y="125.1" width="8.5" height="391.7" fill="url(#h74)"/><rect x="706" y="125.1" width="8.5" height="391.7" fill="url(#h75)"/><rect x="714" y="125.1" width="8.5" height="391.7" fill="url(#h76)"/><rect x="722" y="125.1" width="8.5" height="391.7" fill="url(#h77)"/><rect x="730" y="125.1" width="8.5" height="391.7" fill="url(#h78)"/><rect x="738" y="125.1" width="8.5" height="391.7" fill="url(#h79)"/><rect x="746" y="125.1" width="8.5" height="391.7" fill="url(#h80)"/><rect x="754" y="125.1" width="8.5" height="391.7" fill="url(#h81)"/><rect x="762" y="125.1" width="8.5" height="391.7" fill="url(#h82)"/><rect x="770" y="125.1" width="8.5" height="391.7" fill="url(#h83)"/><rect x="778" y="125.1" width="8.5" height="391.7" fill="url(#h84)"/><rect x="786" y="125.1" width="8.5" height="391.7" fill="url(#h85)"/><rect x="794" y="125.1" width="8.5" height="391.7" fill="url(#h86)"/></g></g></g>
<linearGradient id="g0" gradientUnits="userSpaceOnUse" x1="0" y1="125.1" x2="0" y2="516.8"><stop offset="0.0000" stop-color="#440154"/><stop offset="0.2259" stop-color="#450457"/><stop offset="0.2451" stop-color="#481769"/><stop offset="0.2566" stop-color="#472f7d"/><stop offset="0.2681" stop-color="#3a548c"/><stop offset="0.2834" stop-color="#20938c"/><stop offset="0.2872" stop-color="#21a585"/><stop offset="0.2910" stop-color="#34b679"/><stop offset="0.2949" stop-color="#54c568"/><stop offset="0.3025" stop-color="#a2da37"/><stop offset="0.3064" stop-color="#c8e020"/><stop offset="0.3102" stop-color="#e2e418"/><stop offset="0.3140" stop-color="#f6e620"/><stop offset="0.3178" stop-color="#fde725"/><stop offset="0.3217" stop-color="#fde725"/><stop offset="0.3255" stop-color="#f4e61e"/><stop offset="0.3293" stop-color="#e2e418"/><stop offset="0.3332" stop-color="#c5e021"/><stop offset="0.3408" stop-color="#7ad151"/><stop offset="0.3447" stop-color="#52c569"/><stop offset="0.3485" stop-color="#32b67a"/><stop offset="0.3523" stop-color="#20a486"/><stop offset="0.3561" stop-color="#20928c"/><stop offset="0.3715" stop-color="#3a538b"/><stop offset="0.3829" stop-color="#472e7c"/><stop offset="0.3944" stop-color="#481769"/><stop offset="0.4098" stop-color="#46075a"/><stop offset="0.4366" stop-color="#440154"/><stop offset="0.5782" stop-color="#450457"/><stop offset="0.5974" stop-color="#471164"/><stop offset="0.6127" stop-color="#472f7d"/><stop offset="0.6242" stop-color="#39558c"/><stop offset="0.6395" stop-color="#1f948c"/><stop offset="0.6433" stop-color="#21a685"/><stop offset="0.6472" stop-color="#35b779"/><stop offset="0.6548" stop-color="#7fd34e"/><stop offset="0.6625" stop-color="#cae11f"/><stop offset="0.6663" stop-color="#e5e419"/><stop offset="0.6702" stop-color="#f6e620"/><stop offset="0.6740" stop-color="#fde725"/><stop offset="0.6778" stop-color="#fde725"/><stop offset="0.6816" stop-color="#f4e61e"/><stop offset="0.6855" stop-color="#dfe318"/><stop offset="0.6893" stop-color="#c2df23"/><stop offset="0.6970" stop-color="#75d054"/><stop offset="0.7046" stop-color="#2fb47c"/><stop offset="0.7085" stop-color="#1fa287"/><stop offset="0.7161" stop-color="#26818e"/><stop offset="0.7314" stop-color="#404588"/><stop offset="0.7467" stop-color="#481c6e"/><stop offset="0.7621" stop-color="#46085c"/><stop offset="0.7889" stop-color="#440154"/><stop offset="0.9995" stop-color="#440154"/></linearGradient>
<linearGradient id="gT" gradientUnits="userSpaceOnUse" x1="0" y1="125.1" x2="0" y2="516.8"><stop offset="0.0000" stop-color="#46085c"/><stop offset="0.0919" stop-color="#481c6e"/><stop offset="0.1685" stop-color="#433e85"/><stop offset="0.2566" stop-color="#29798e"/><stop offset="0.3064" stop-color="#1fa088"/><stop offset="0.3293" stop-color="#2db27d"/><stop offset="0.3561" stop-color="#54c568"/><stop offset="0.4098" stop-color="#b2dd2d"/><stop offset="0.4366" stop-color="#dae319"/><stop offset="0.4634" stop-color="#f4e61e"/><stop offset="0.4902" stop-color="#fde725"/><stop offset="0.5170" stop-color="#fbe723"/><stop offset="0.5476" stop-color="#e7e419"/><stop offset="0.5706" stop-color="#cae11f"/><stop offset="0.6051" stop-color="#90d743"/><stop offset="0.6472" stop-color="#46c06f"/><stop offset="0.6702" stop-color="#28ae80"/><stop offset="0.6931" stop-color="#1e9c89"/><stop offset="0.7697" stop-color="#33638d"/><stop offset="0.8540" stop-color="#46307e"/><stop offset="0.9344" stop-color="#471365"/><stop offset="0.9995" stop-color="#46075a"/></linearGradient>
<linearGradient id="g1" gradientUnits="userSpaceOnUse" x1="0" y1="125.1" x2="0" y2="516.8"><stop offset="0.0000" stop-color="#440154"/><stop offset="0.2259" stop-color="#450457"/><stop offset="0.2451" stop-color="#481769"/><stop offset="0.2566" stop-color="#472f7d"/><stop offset="0.2681" stop-color="#3a548c"/><stop offset="0.2834" stop-color="#20938c"/><stop offset="0.2872" stop-color="#21a585"/><stop offset="0.2910" stop-color="#34b679"/><stop offset="0.2949" stop-color="#54c568"/><stop offset="0.3025" stop-color="#a2da37"/><stop offset="0.3064" stop-color="#c8e020"/><stop offset="0.3102" stop-color="#e2e418"/><stop offset="0.3140" stop-color="#f6e620"/><stop offset="0.3178" stop-color="#fde725"/><stop offset="0.3217" stop-color="#fde725"/><stop offset="0.3255" stop-color="#f4e61e"/><stop offset="0.3293" stop-color="#e2e418"/><stop offset="0.3332" stop-color="#c5e021"/><stop offset="0.3408" stop-color="#7ad151"/><stop offset="0.3447" stop-color="#52c569"/><stop offset="0.3485" stop-color="#32b67a"/><stop offset="0.3523" stop-color="#20a486"/><stop offset="0.3561" stop-color="#20928c"/><stop offset="0.3715" stop-color="#3a538b"/><stop offset="0.3829" stop-color="#472e7c"/><stop offset="0.3944" stop-color="#481769"/><stop offset="0.4098" stop-color="#46075a"/><stop offset="0.4366" stop-color="#440154"/><stop offset="0.5782" stop-color="#450457"/><stop offset="0.5974" stop-color="#471164"/><stop offset="0.6127" stop-color="#472f7d"/><stop offset="0.6242" stop-color="#39558c"/><stop offset="0.6395" stop-color="#1f948c"/><stop offset="0.6433" stop-color="#21a685"/><stop offset="0.6472" stop-color="#35b779"/><stop offset="0.6548" stop-color="#7fd34e"/><stop offset="0.6625" stop-color="#cae11f"/><stop offset="0.6663" stop-color="#e5e419"/><stop offset="0.6702" stop-color="#f6e620"/><stop offset="0.6740" stop-color="#fde725"/><stop offset="0.6778" stop-color="#fde725"/><stop offset="0.6816" stop-color="#f4e61e"/><stop offset="0.6855" stop-color="#dfe318"/><stop offset="0.6893" stop-color="#c2df23"/><stop offset="0.6970" stop-color="#75d054"/><stop offset="0.7046" stop-color="#2fb47c"/><stop offset="0.7085" stop-color="#1fa287"/><stop offset="0.7161" stop-color="#26818e"/><stop offset="0.7314" stop-color="#404588"/><stop offset="0.7467" stop-color="#481c6e"/><stop offset="0.7621" stop-color="#46085c"/><stop offset="0.7889" stop-color="#440154"/><stop offset="0.9995" stop-color="#440154"/></linearGradient>
</defs>
<use href="#heat"/>
<use href="#heat" transform="translate(1668.18 0) scale(-1.00151 1)"/>
<path d="M122.0,231.2 133.3,230.9 144.5,230.5 155.8,229.9 167.0,229.3 178.3,228.4 189.5,227.3 200.8,226.1 212.0,224.8 223.3,223.5 234.5,222.0 245.8,220.5 257.1,219.0 268.3,217.6 279.6,216.4 290.8,215.2 302.1,214.1 313.3,213.0 324.6,211.8 335.8,210.7 347.1,209.6 358.3,208.6 369.6,207.7 380.8,206.8 392.1,206.0 403.4,205.4 414.6,204.8 425.9,204.3 437.1,203.8 448.4,203.4 459.6,202.9 470.9,202.5 482.1,202.1 493.4,201.7 504.6,201.3 515.9,200.9 527.2,200.6 538.4,200.3 549.7,200.0 560.9,199.8 572.2,199.5 583.4,199.3 594.7,199.1 605.9,198.9 617.2,198.7 628.4,198.6 639.7,198.4 650.9,198.3 662.2,198.1 673.5,198.0 684.7,197.9 696.0,197.8 707.2,197.8 718.5,197.7 729.7,197.6 741.0,197.6 752.2,197.5 763.5,197.5 774.7,197.4 786.0,197.4" fill="none" stroke="#fff" stroke-width="3.4"/>
<path d="M122.0,249.5 133.3,249.2 144.5,249.0 155.8,248.9 167.0,248.8 178.3,248.8 189.5,248.8 200.8,248.9 212.0,249.0 223.3,249.1 234.5,249.2 245.8,249.5 257.1,250.0 268.3,250.6 279.6,251.1 290.8,251.7 302.1,252.2 313.3,252.8 324.6,253.3 335.8,253.9 347.1,254.5 358.3,255.0 369.6,255.6 380.8,256.2 392.1,256.8 403.4,257.3 414.6,257.8 425.9,258.3 437.1,258.8 448.4,259.2 459.6,259.6 470.9,260.0 482.1,260.4 493.4,260.8 504.6,261.2 515.9,261.5 527.2,261.8 538.4,262.1 549.7,262.4 560.9,262.7 572.2,263.0 583.4,263.2 594.7,263.4 605.9,263.6 617.2,263.8 628.4,264.0 639.7,264.1 650.9,264.3 662.2,264.4 673.5,264.5 684.7,264.7 696.0,264.8 707.2,264.9 718.5,264.9 729.7,265.0 741.0,265.1 752.2,265.2 763.5,265.2 774.7,265.3 786.0,265.3" fill="none" stroke="#fff" stroke-width="3.4"/>
<path d="M122.0,265.3 133.3,265.4 144.5,265.5 155.8,265.8 167.0,266.3 178.3,267.0 189.5,268.1 200.8,269.2 212.0,270.4 223.3,271.6 234.5,272.9 245.8,274.3 257.1,275.8 268.3,277.4 279.6,279.0 290.8,280.8 302.1,282.5 313.3,284.1 324.6,285.8 335.8,287.4 347.1,288.9 358.3,290.3 369.6,291.6 380.8,292.8 392.1,294.0 403.4,295.0 414.6,295.9 425.9,296.7 437.1,297.4 448.4,298.1 459.6,298.7 470.9,299.2 482.1,299.7 493.4,300.2 504.6,300.6 515.9,300.9 527.2,301.2 538.4,301.4 549.7,301.6 560.9,301.8 572.2,302.0 583.4,302.1 594.7,302.2 605.9,302.4 617.2,302.5 628.4,302.6 639.7,302.6 650.9,302.7 662.2,302.8 673.5,302.9 684.7,302.9 696.0,303.0 707.2,303.0 718.5,303.1 729.7,303.1 741.0,303.2 752.2,303.2 763.5,303.2 774.7,303.3 786.0,303.3" fill="none" stroke="#fff" stroke-width="3.4"/>
<path d="M122.0,376.7 133.3,376.1 144.5,375.5 155.8,374.8 167.0,374.0 178.3,373.1 189.5,372.2 200.8,371.2 212.0,370.0 223.3,368.8 234.5,367.5 245.8,366.2 257.1,364.7 268.3,363.0 279.6,361.3 290.8,359.5 302.1,357.8 313.3,356.3 324.6,354.9 335.8,353.5 347.1,352.3 358.3,351.0 369.6,349.8 380.8,348.5 392.1,347.3 403.4,346.2 414.6,345.4 425.9,344.6 437.1,344.0 448.4,343.4 459.6,342.9 470.9,342.5 482.1,342.1 493.4,341.7 504.6,341.4 515.9,341.2 527.2,341.1 538.4,341.0 549.7,340.9 560.9,340.8 572.2,340.7 583.4,340.7 594.7,340.6 605.9,340.4 617.2,340.3 628.4,340.1 639.7,339.9 650.9,339.8 662.2,339.6 673.5,339.4 684.7,339.2 696.0,339.1 707.2,338.9 718.5,338.8 729.7,338.6 741.0,338.5 752.2,338.4 763.5,338.2 774.7,338.1 786.0,338.0" fill="none" stroke="#fff" stroke-width="3.4"/>
<path d="M122.0,392.3 133.3,392.6 144.5,392.8 155.8,392.7 167.0,392.6 178.3,392.3 189.5,392.0 200.8,391.6 212.0,391.2 223.3,390.8 234.5,390.5 245.8,390.2 257.1,389.8 268.3,389.5 279.6,389.1 290.8,388.8 302.1,388.4 313.3,388.0 324.6,387.5 335.8,387.1 347.1,386.6 358.3,386.1 369.6,385.7 380.8,385.3 392.1,384.9 403.4,384.5 414.6,384.2 425.9,383.8 437.1,383.5 448.4,383.2 459.6,382.9 470.9,382.6 482.1,382.3 493.4,382.0 504.6,381.8 515.9,381.5 527.2,381.3 538.4,381.1 549.7,380.9 560.9,380.7 572.2,380.5 583.4,380.3 594.7,380.1 605.9,379.9 617.2,379.7 628.4,379.6 639.7,379.4 650.9,379.2 662.2,379.1 673.5,378.9 684.7,378.7 696.0,378.6 707.2,378.4 718.5,378.2 729.7,378.0 741.0,377.8 752.2,377.6 763.5,377.4 774.7,377.2 786.0,377.0" fill="none" stroke="#fff" stroke-width="3.4"/>
<path d="M122.0,411.2 133.3,411.5 144.5,412.0 155.8,412.7 167.0,413.5 178.3,414.5 189.5,415.5 200.8,416.5 212.0,417.6 223.3,418.7 234.5,419.9 245.8,421.0 257.1,422.2 268.3,423.3 279.6,424.4 290.8,425.6 302.1,426.7 313.3,427.9 324.6,429.1 335.8,430.1 347.1,431.0 358.3,431.9 369.6,432.7 380.8,433.5 392.1,434.3 403.4,435.0 414.6,435.7 425.9,436.4 437.1,437.1 448.4,437.7 459.6,438.3 470.9,438.9 482.1,439.4 493.4,439.9 504.6,440.4 515.9,440.7 527.2,441.0 538.4,441.3 549.7,441.5 560.9,441.7 572.2,441.9 583.4,442.1 594.7,442.2 605.9,442.4 617.2,442.5 628.4,442.7 639.7,442.9 650.9,443.0 662.2,443.1 673.5,443.3 684.7,443.4 696.0,443.5 707.2,443.6 718.5,443.6 729.7,443.7 741.0,443.8 752.2,443.9 763.5,443.9 774.7,444.0 786.0,444.0" fill="none" stroke="#fff" stroke-width="3.4"/>
<path d="M881.0,196.5 892.3,196.6 903.5,196.7 914.8,196.8 926.1,196.9 937.4,197.0 948.6,197.2 959.9,197.3 971.2,197.5 982.4,197.6 993.7,197.8 1005.0,197.9 1016.3,198.1 1027.5,198.3 1038.8,198.5 1050.1,198.7 1061.3,198.9 1072.6,199.1 1083.9,199.3 1095.2,199.6 1106.4,199.8 1117.7,200.1 1129.0,200.4 1140.2,200.6 1151.5,200.8 1162.8,201.0 1174.1,201.2 1185.3,201.4 1196.6,201.7 1207.9,201.9 1219.1,202.3 1230.4,202.7 1241.7,203.1 1252.9,203.7 1264.2,204.3 1275.5,205.2 1286.8,206.6 1298.0,207.8 1309.3,208.8 1320.6,209.8 1331.8,210.7 1343.1,211.6 1354.4,212.5 1365.7,213.5 1376.9,214.6 1388.2,215.9 1399.5,217.3 1410.7,218.8 1422.0,220.3 1433.3,221.8 1444.6,223.2 1455.8,224.6 1467.1,225.8 1478.4,227.1 1489.6,228.2 1500.9,229.1 1512.2,229.7 1523.5,230.3 1534.7,230.7 1546.0,231.0" fill="none" stroke="#fff" stroke-width="3.4"/>
<path d="M881.0,264.8 892.3,264.8 903.5,264.8 914.8,264.8 926.1,264.7 937.4,264.7 948.6,264.7 959.9,264.6 971.2,264.6 982.4,264.5 993.7,264.5 1005.0,264.4 1016.3,264.3 1027.5,264.3 1038.8,264.2 1050.1,264.0 1061.3,263.8 1072.6,263.5 1083.9,263.2 1095.2,262.9 1106.4,262.5 1117.7,262.1 1129.0,261.7 1140.2,261.3 1151.5,261.0 1162.8,260.6 1174.1,260.2 1185.3,259.9 1196.6,259.5 1207.9,259.1 1219.1,258.7 1230.4,258.3 1241.7,257.9 1252.9,257.5 1264.2,257.1 1275.5,256.6 1286.8,256.2 1298.0,255.7 1309.3,255.1 1320.6,254.5 1331.8,253.8 1343.1,253.2 1354.4,252.6 1365.7,252.1 1376.9,251.7 1388.2,251.3 1399.5,250.9 1410.7,250.5 1422.0,250.2 1433.3,250.0 1444.6,249.8 1455.8,249.7 1467.1,249.7 1478.4,249.7 1489.6,249.7 1500.9,249.7 1512.2,249.7 1523.5,249.7 1534.7,249.7 1546.0,249.7" fill="none" stroke="#fff" stroke-width="3.4"/>
<path d="M881.0,302.0 892.3,302.0 903.5,302.0 914.8,302.0 926.1,302.0 937.4,302.0 948.6,302.0 959.9,302.0 971.2,302.0 982.4,302.0 993.7,302.0 1005.0,302.0 1016.3,302.0 1027.5,302.0 1038.8,302.0 1050.1,302.0 1061.3,301.9 1072.6,301.8 1083.9,301.6 1095.2,301.4 1106.4,301.3 1117.7,301.1 1129.0,300.9 1140.2,300.7 1151.5,300.5 1162.8,300.3 1174.1,300.1 1185.3,299.9 1196.6,299.7 1207.9,299.4 1219.1,298.9 1230.4,298.3 1241.7,297.4 1252.9,296.5 1264.2,295.1 1275.5,293.4 1286.8,291.7 1298.0,290.1 1309.3,288.5 1320.6,287.0 1331.8,285.5 1343.1,284.0 1354.4,282.7 1365.7,281.3 1376.9,279.8 1388.2,278.2 1399.5,276.4 1410.7,274.7 1422.0,273.1 1433.3,271.6 1444.6,270.1 1455.8,268.8 1467.1,267.8 1478.4,266.9 1489.6,266.1 1500.9,265.4 1512.2,264.8 1523.5,264.2 1534.7,263.7 1546.0,263.3" fill="none" stroke="#fff" stroke-width="3.4"/>
<path d="M881.0,339.5 892.3,339.6 903.5,339.7 914.8,339.7 926.1,339.8 937.4,339.9 948.6,340.0 959.9,340.1 971.2,340.2 982.4,340.3 993.7,340.4 1005.0,340.5 1016.3,340.6 1027.5,340.7 1038.8,340.8 1050.1,341.0 1061.3,341.1 1072.6,341.2 1083.9,341.3 1095.2,341.5 1106.4,341.6 1117.7,341.7 1129.0,341.9 1140.2,342.1 1151.5,342.2 1162.8,342.4 1174.1,342.6 1185.3,342.7 1196.6,343.0 1207.9,343.2 1219.1,343.6 1230.4,344.1 1241.7,344.8 1252.9,345.5 1264.2,346.4 1275.5,347.5 1286.8,348.6 1298.0,349.9 1309.3,351.2 1320.6,352.7 1331.8,354.2 1343.1,355.8 1354.4,357.5 1365.7,359.2 1376.9,360.9 1388.2,362.6 1399.5,364.4 1410.7,366.0 1422.0,367.6 1433.3,369.0 1444.6,370.4 1455.8,371.7 1467.1,373.0 1478.4,374.3 1489.6,375.4 1500.9,376.3 1512.2,377.0 1523.5,377.6 1534.7,378.0 1546.0,378.3" fill="none" stroke="#fff" stroke-width="3.4"/>
<path d="M881.0,376.5 892.3,376.6 903.5,376.7 914.8,376.8 926.1,376.9 937.4,377.0 948.6,377.1 959.9,377.2 971.2,377.4 982.4,377.5 993.7,377.7 1005.0,377.8 1016.3,378.0 1027.5,378.2 1038.8,378.4 1050.1,378.6 1061.3,378.8 1072.6,379.0 1083.9,379.2 1095.2,379.5 1106.4,379.7 1117.7,380.0 1129.0,380.3 1140.2,380.6 1151.5,380.8 1162.8,381.1 1174.1,381.4 1185.3,381.7 1196.6,382.0 1207.9,382.3 1219.1,382.7 1230.4,383.2 1241.7,383.8 1252.9,384.4 1264.2,385.1 1275.5,385.7 1286.8,386.3 1298.0,386.9 1309.3,387.5 1320.6,388.1 1331.8,388.7 1343.1,389.3 1354.4,389.8 1365.7,390.3 1376.9,390.7 1388.2,391.1 1399.5,391.5 1410.7,391.8 1422.0,392.1 1433.3,392.3 1444.6,392.6 1455.8,392.8 1467.1,392.9 1478.4,393.1 1489.6,393.3 1500.9,393.4 1512.2,393.5 1523.5,393.7 1534.7,393.7 1546.0,393.8" fill="none" stroke="#fff" stroke-width="3.4"/>
<path d="M881.0,444.5 892.3,444.4 903.5,444.4 914.8,444.3 926.1,444.2 937.4,444.1 948.6,444.0 959.9,443.9 971.2,443.7 982.4,443.6 993.7,443.5 1005.0,443.3 1016.3,443.2 1027.5,443.0 1038.8,442.8 1050.1,442.7 1061.3,442.5 1072.6,442.2 1083.9,442.0 1095.2,441.7 1106.4,441.5 1117.7,441.2 1129.0,441.0 1140.2,440.7 1151.5,440.5 1162.8,440.3 1174.1,440.1 1185.3,439.9 1196.6,439.6 1207.9,439.4 1219.1,439.0 1230.4,438.5 1241.7,437.9 1252.9,437.2 1264.2,436.3 1275.5,435.3 1286.8,434.1 1298.0,433.0 1309.3,431.7 1320.6,430.5 1331.8,429.2 1343.1,428.1 1354.4,427.0 1365.7,425.9 1376.9,424.8 1388.2,423.7 1399.5,422.5 1410.7,421.4 1422.0,420.1 1433.3,418.7 1444.6,417.2 1455.8,415.8 1467.1,414.5 1478.4,413.3 1489.6,412.2 1500.9,411.3 1512.2,410.6 1523.5,410.1 1534.7,409.6 1546.0,409.3" fill="none" stroke="#fff" stroke-width="3.4"/>
<path d="M122.0,411.5 122.7,412.2 123.3,412.2 124.0,411.7 124.7,410.7 125.3,409.5 126.0,409.2 126.7,410.2 127.3,410.0 128.0,409.2 128.6,409.1 129.3,408.8 130.0,408.9 130.6,408.3 131.3,409.1 132.0,410.0 132.6,409.7 133.3,409.6 134.0,408.4 134.6,407.3 135.3,405.9 136.0,406.0 136.6,406.1 137.3,407.4 138.0,409.0 138.6,409.2 139.3,407.9 139.9,407.6 140.6,408.4 141.3,409.0 141.9,408.9 142.6,409.4 143.3,409.4 143.9,408.6 144.6,409.3 145.3,408.4 145.9,409.1 146.6,410.2 147.3,410.2 147.9,409.8 148.6,409.4 149.3,408.6 149.9,407.6 150.6,407.4 151.2,408.2 151.9,406.2 152.6,406.4 153.2,406.7 153.9,407.7 154.6,410.3 155.2,410.8 155.9,409.0 156.6,408.6 157.2,409.4 157.9,409.7 158.6,410.4 159.2,410.9 159.9,412.2 160.6,413.8 161.2,412.9 161.9,412.8 162.5,412.3 163.2,413.4 163.9,413.4 164.5,414.7 165.2,416.3 165.9,419.2 166.5,421.5 167.2,421.2 167.9,420.5 168.5,421.0 169.2,418.9 169.9,417.9 170.5,417.0 171.2,418.2 171.8,418.7 172.5,418.4 173.2,417.3 173.8,417.1 174.5,418.7 175.2,419.0 175.8,419.1 176.5,419.0 177.2,417.8 177.8,416.6 178.5,413.8 179.2,413.1 179.8,411.9 180.5,412.6 181.2,412.2 181.8,411.3 182.5,411.4 183.1,410.8 183.8,411.9 184.5,412.1 185.1,412.9 185.8,411.3 186.5,410.7 187.1,408.9 187.8,407.1 188.5,406.6 189.1,405.2 189.8,404.9 190.5,407.1 191.1,406.8 191.8,406.6 192.5,407.2 193.1,407.4 193.8,406.9 194.4,406.4 195.1,407.6 195.8,408.8 196.4,408.7 197.1,409.5 197.8,410.0 198.4,409.1 199.1,409.3 199.8,408.5 200.4,409.9 201.1,410.4 201.8,411.5 202.4,411.4 203.1,412.3 203.8,410.2 204.4,409.1 205.1,409.3 205.7,406.5 206.4,407.6 207.1,405.3 207.7,405.3 208.4,402.5 209.1,401.3 209.7,400.4 210.4,398.4 211.1,400.4 211.7,402.3 212.4,401.8 213.1,400.6 213.7,400.4 214.4,400.1 215.1,401.4 215.7,401.1 216.4,401.5 217.0,401.0 217.7,399.4 218.4,396.5 219.0,396.4 219.7,395.0 220.4,394.9 221.0,393.8 221.7,392.6 222.4,391.9 223.0,391.6 223.7,391.6 224.4,390.8 225.0,388.8 225.7,385.8 226.4,384.0 227.0,385.5 227.7,383.7 228.3,380.6 229.0,379.1 229.7,379.4 230.3,378.4 231.0,379.1 231.7,378.7 232.3,376.5 233.0,377.7 233.7,378.2 234.3,379.1 235.0,377.7 235.7,377.7 236.3,377.9 237.0,379.4 237.7,380.2 238.3,380.1 239.0,383.6 239.6,384.5 240.3,386.7 241.0,388.1 241.6,389.2 242.3,389.6 243.0,391.1 243.6,391.3 244.3,392.5 245.0,394.1 245.6,397.6 246.3,400.4 247.0,400.6 247.6,399.2 248.3,396.3 249.0,397.0 249.6,397.8 250.3,396.6 250.9,395.8 251.6,394.9 252.3,393.9 252.9,393.5 253.6,391.1 254.3,391.8 254.9,388.3 255.6,388.1 256.3,387.2 256.9,388.4 257.6,391.6 258.3,394.0 258.9,392.3 259.6,389.0 260.3,389.3 260.9,387.4 261.6,388.0 262.2,390.2 262.9,389.3 263.6,386.8 264.2,386.2 264.9,385.1 265.6,385.8 266.2,388.3 266.9,390.5 267.6,391.5 268.2,393.4 268.9,394.0 269.6,392.9 270.2,394.2 270.9,393.9 271.5,394.2 272.2,393.1 272.9,393.3 273.5,392.9 274.2,392.3 274.9,392.8 275.5,391.8 276.2,391.8 276.9,391.3 277.5,393.3 278.2,391.4 278.9,393.4 279.5,393.9 280.2,394.0 280.9,391.8 281.5,391.6 282.2,394.2 282.8,395.2 283.5,396.5 284.2,397.4 284.8,399.5 285.5,398.9 286.2,394.8 286.8,394.6 287.5,393.5 288.2,391.2 288.8,392.5 289.5,396.0 290.2,397.4 290.8,396.6 291.5,396.4 292.2,398.1 292.8,398.3 293.5,398.5 294.1,399.5 294.8,400.1 295.5,401.3 296.1,401.8 296.8,402.5 297.5,401.4 298.1,403.1 298.8,402.1 299.5,404.7 300.1,403.4 300.8,404.6 301.5,403.9 302.1,401.9 302.8,404.1 303.5,407.1 304.1,407.5 304.8,409.9 305.4,411.0 306.1,406.3 306.8,405.9 307.4,406.1 308.1,408.0 308.8,407.2 309.4,407.4 310.1,407.2 310.8,409.0 311.4,408.2 312.1,405.8 312.8,405.2 313.4,403.1 314.1,402.3 314.8,400.5 315.4,402.7 316.1,404.9 316.7,405.9 317.4,406.7 318.1,404.8 318.7,402.8 319.4,400.3 320.1,398.7 320.7,397.7 321.4,400.5 322.1,401.5 322.7,401.7 323.4,399.9 324.1,399.0 324.7,401.7 325.4,404.0 326.1,405.2 326.7,404.8 327.4,402.8 328.0,401.7 328.7,403.8 329.4,403.3 330.0,402.9 330.7,401.2 331.4,400.4 332.0,398.6 332.7,399.9 333.4,400.7 334.0,402.4 334.7,401.3 335.4,403.1 336.0,408.1 336.7,408.5 337.4,406.5 338.0,405.6 338.7,406.3 339.3,407.3 340.0,410.9 340.7,415.6 341.3,414.7 342.0,413.8 342.7,411.5 343.3,412.2 344.0,409.7 344.7,408.8 345.3,412.0 346.0,412.5 346.7,415.5 347.3,418.3 348.0,418.9 348.7,420.2 349.3,424.4 350.0,423.9 350.6,421.7 351.3,418.1 352.0,417.6 352.6,419.3 353.3,421.0 354.0,420.3 354.6,421.7 355.3,422.1 356.0,422.7 356.6,421.6 357.3,422.4 358.0,423.9 358.6,424.8 359.3,425.5 359.9,426.4 360.6,425.2 361.3,425.6 361.9,429.6 362.6,430.1 363.3,427.7 363.9,421.7 364.6,420.6 365.3,415.8 365.9,412.2 366.6,413.5 367.3,415.3 367.9,415.0 368.6,411.7 369.3,412.0 369.9,411.1 370.6,412.2 371.2,416.7 371.9,419.8 372.6,420.5 373.2,419.6 373.9,417.9 374.6,417.7 375.2,414.6 375.9,416.1 376.6,413.6 377.2,415.0 377.9,415.1 378.6,415.4 379.2,412.8 379.9,412.7 380.6,412.4 381.2,413.8 381.9,412.9 382.5,410.2 383.2,405.6 383.9,407.8 384.5,407.2 385.2,406.3 385.9,405.0 386.5,398.0 387.2,393.8 387.9,392.2 388.5,392.5 389.2,392.0 389.9,394.5 390.5,396.0 391.2,394.5 391.9,395.2 392.5,397.8 393.2,398.3 393.8,394.2 394.5,396.3 395.2,397.8 395.8,400.4 396.5,398.8 397.2,398.2 397.8,396.2 398.5,402.3 399.2,402.4 399.8,404.5 400.5,401.7 401.2,399.7 401.8,396.3 402.5,397.0 403.2,402.4 403.8,402.0 404.5,405.2 405.1,405.8 405.8,405.3 406.5,406.4 407.1,408.3 407.8,409.9 408.5,407.9 409.1,405.1 409.8,402.5 410.5,398.8 411.1,394.4 411.8,394.2 412.5,395.6 413.1,392.9 413.8,392.9 414.5,392.1 415.1,389.4 415.8,389.6 416.4,387.9 417.1,392.2 417.8,392.9 418.4,394.6 419.1,393.7 419.8,389.8 420.4,391.4 421.1,391.5 421.8,394.0 422.4,394.8 423.1,395.7 423.8,399.9 424.4,402.9 425.1,406.3 425.8,405.4 426.4,406.1 427.1,401.6 427.7,401.8 428.4,399.9 429.1,397.8 429.7,399.1 430.4,403.0 431.1,399.8 431.7,397.4 432.4,392.9 433.1,389.3 433.7,389.4 434.4,389.5 435.1,391.4 435.7,394.3 436.4,393.8 437.1,394.5 437.7,392.4 438.4,390.1 439.0,387.6 439.7,393.3 440.4,394.4 441.0,395.6 441.7,395.7 442.4,396.6 443.0,398.5 443.7,405.2 444.4,406.4 445.0,405.6 445.7,405.8 446.4,403.8 447.0,406.8 447.7,410.8 448.4,412.5 449.0,413.6 449.7,414.6 450.3,420.3 451.0,418.8 451.7,422.8 452.3,424.4 453.0,430.3 453.7,433.8 454.3,437.2 455.0,437.2 455.7,435.5 456.3,439.3 457.0,441.8 457.7,442.5 458.3,442.4 459.0,439.1 459.6,439.1 460.3,438.4 461.0,437.8 461.6,436.0 462.3,432.2 463.0,429.7 463.6,428.1 464.3,430.8 465.0,436.0 465.6,437.5 466.3,438.6 467.0,440.0 467.6,440.8 468.3,441.1 469.0,445.7 469.6,447.6 470.3,452.1 470.9,454.0 471.6,458.1 472.3,460.9 472.9,461.6 473.6,458.9 474.3,458.5 474.9,457.6 475.6,456.1 476.3,455.3 476.9,451.7 477.6,452.5 478.3,449.6 478.9,448.1 479.6,448.4 480.3,444.8 480.9,445.1 481.6,444.9 482.2,445.1 482.9,445.0 483.6,445.7 484.2,442.9 484.9,442.4 485.6,440.4 486.2,440.4 486.9,436.8 487.6,436.1 488.2,436.8 488.9,437.7 489.6,438.0 490.2,438.5 490.9,433.7 491.6,433.6 492.2,434.5 492.9,435.1 493.5,435.3 494.2,432.9 494.9,432.1 495.5,434.2 496.2,436.6 496.9,437.9 497.5,434.1 498.2,432.4 498.9,433.6 499.5,434.9 500.2,434.9 500.9,429.4 501.5,429.5 502.2,428.1 502.9,423.0 503.5,423.2 504.2,418.3 504.8,412.6 505.5,408.5 506.2,409.2 506.8,407.9 507.5,408.8 508.2,412.6 508.8,415.7 509.5,414.1 510.2,412.6 510.8,410.4 511.5,409.2 512.2,409.3 512.8,409.3 513.5,408.8 514.2,410.4 514.8,408.1 515.5,406.8 516.1,407.4 516.8,406.9 517.5,408.4 518.1,407.9 518.8,406.1 519.5,405.4 520.1,403.3 520.8,399.8 521.5,401.3 522.1,400.5 522.8,401.7 523.5,398.7 524.1,399.3 524.8,398.8 525.5,397.1 526.1,392.3 526.8,392.2 527.4,394.5 528.1,395.9 528.8,394.3 529.4,394.5 530.1,394.4 530.8,388.0 531.4,387.4 532.1,389.3 532.8,391.7 533.4,396.9 534.1,401.1 534.8,402.8 535.4,404.1 536.1,406.0 536.8,405.7 537.4,406.8 538.1,409.7 538.7,413.5 539.4,410.5 540.1,407.8 540.7,407.0 541.4,409.0 542.1,407.3 542.7,408.9 543.4,405.9 544.1,404.8 544.7,402.8 545.4,403.2 546.1,405.0 546.7,403.9 547.4,404.5 548.1,407.9 548.7,406.4 549.4,403.0 550.0,405.4 550.7,408.6 551.4,412.6 552.0,413.2 552.7,417.4 553.4,416.8 554.0,419.2 554.7,415.7 555.4,413.1 556.0,412.3 556.7,411.3 557.4,412.7 558.0,412.9 558.7,409.3 559.3,409.0 560.0,406.4 560.7,406.7 561.3,403.1 562.0,399.8 562.7,399.7 563.3,401.3 564.0,403.3 564.7,400.9 565.3,398.7 566.0,398.4 566.7,394.7 567.3,390.4 568.0,389.3 568.7,390.8 569.3,388.7 570.0,385.1 570.6,381.2 571.3,380.8 572.0,376.4 572.6,374.4 573.3,375.4 574.0,378.1 574.6,379.8 575.3,383.0 576.0,381.9 576.6,381.9 577.3,379.5 578.0,383.4 578.6,383.7 579.3,382.8 580.0,381.3 580.6,380.0 581.3,381.0 581.9,378.1 582.6,377.2 583.3,376.8 583.9,380.9 584.6,380.0 585.3,377.9 585.9,377.5 586.6,381.5 587.3,379.1 587.9,377.3 588.6,377.6 589.3,377.7 589.9,378.3 590.6,377.3 591.3,380.7 591.9,383.6 592.6,383.6 593.2,384.4 593.9,379.6 594.6,379.9 595.2,378.6 595.9,377.8 596.6,378.3 597.2,377.4 597.9,375.7 598.6,378.5 599.2,378.4 599.9,380.0 600.6,378.9 601.2,378.5 601.9,373.7 602.6,378.1 603.2,380.8 603.9,382.4 604.5,385.8 605.2,384.8 605.9,382.7 606.5,380.6 607.2,379.0 607.9,376.9 608.5,378.7 609.2,375.0 609.9,377.4 610.5,375.3 611.2,377.9 611.9,379.7 612.5,378.8 613.2,378.0 613.9,376.5 614.5,376.9 615.2,375.2 615.8,373.8 616.5,374.0 617.2,375.2 617.8,377.5 618.5,378.7 619.2,375.2 619.8,374.7 620.5,371.7 621.2,369.7 621.8,368.2 622.5,369.2 623.2,371.3 623.8,372.9 624.5,372.2 625.2,370.8 625.8,376.2 626.5,378.6 627.1,380.6 627.8,382.7 628.5,384.8 629.1,384.3 629.8,385.7 630.5,390.9 631.1,395.2 631.8,399.9 632.5,405.1 633.1,403.0 633.8,403.0 634.5,402.5 635.1,407.4 635.8,404.9 636.5,403.7 637.1,400.8 637.8,400.4 638.4,401.5 639.1,404.9 639.8,401.9 640.4,401.9 641.1,398.9 641.8,395.6 642.4,394.9 643.1,391.4 643.8,385.7 644.4,384.8 645.1,381.1 645.8,378.8 646.4,377.4 647.1,377.8 647.7,381.8 648.4,381.6 649.1,378.7 649.7,375.4 650.4,372.8 651.1,369.1 651.7,370.0 652.4,368.1 653.1,364.1 653.7,364.9 654.4,364.8 655.1,364.2 655.7,364.2 656.4,364.5 657.1,364.8 657.7,366.5 658.4,367.7 659.0,367.8 659.7,368.9 660.4,365.7 661.0,366.8 661.7,368.1 662.4,370.3 663.0,368.9 663.7,371.4 664.4,369.3 665.0,363.7 665.7,358.2 666.4,356.7 667.0,356.6 667.7,354.5 668.4,354.4 669.0,352.8 669.7,354.3 670.3,353.6 671.0,353.0 671.7,355.0 672.3,359.8 673.0,358.8 673.7,358.9 674.3,357.6 675.0,359.3 675.7,356.7 676.3,356.5 677.0,356.4 677.7,354.0 678.3,351.7 679.0,351.7 679.7,349.5 680.3,349.8 681.0,353.1 681.6,357.6 682.3,360.5 683.0,357.9 683.6,357.1 684.3,359.7 685.0,363.7 685.6,365.9 686.3,366.2 687.0,368.2 687.6,368.2 688.3,366.0 689.0,364.7 689.6,367.7 690.3,368.3 691.0,371.7 691.6,371.7 692.3,375.4 692.9,374.9 693.6,376.0 694.3,381.4 694.9,383.3 695.6,382.6 696.3,383.5 696.9,384.9 697.6,386.1 698.3,383.8 698.9,382.3 699.6,386.1 700.3,390.8 700.9,392.3 701.6,396.0 702.3,397.0 702.9,402.8 703.6,404.0 704.2,409.5 704.9,415.5 705.6,418.8 706.2,420.9 706.9,423.3 707.6,428.8 708.2,429.0 708.9,430.4 709.6,432.0 710.2,433.3 710.9,432.3 711.6,432.2 712.2,433.2 712.9,434.5 713.6,434.5 714.2,431.4 714.9,430.1 715.5,428.5 716.2,422.5 716.9,418.5 717.5,416.4 718.2,411.1 718.9,408.1 719.5,404.6 720.2,407.1 720.9,411.4 721.5,415.8 722.2,415.2 722.9,416.9 723.5,417.3 724.2,417.5 724.9,422.0 725.5,419.9 726.2,421.6 726.8,418.8 727.5,418.8 728.2,415.9 728.8,412.4 729.5,409.8 730.2,407.8 730.8,405.3 731.5,404.4 732.2,403.6 732.8,397.8 733.5,398.8 734.2,397.2 734.8,396.7 735.5,395.4 736.2,397.9 736.8,395.7 737.5,393.9 738.1,391.8 738.8,392.4 739.5,385.8 740.1,385.8 740.8,382.6 741.5,379.9 742.1,381.2 742.8,379.3 743.5,374.3 744.1,371.7 744.8,372.5 745.5,373.5 746.1,370.0 746.8,366.9 747.4,366.0 748.1,362.5 748.8,365.0 749.4,365.2 750.1,365.4 750.8,365.6 751.4,368.0 752.1,369.4 752.8,369.0 753.4,367.6 754.1,369.7 754.8,367.2 755.4,366.6 756.1,366.4 756.8,364.8 757.4,366.0 758.1,359.7 758.7,356.9 759.4,353.3 760.1,355.1 760.7,355.4 761.4,346.0 762.1,339.0 762.7,335.7 763.4,332.9 764.1,329.8 764.7,325.6 765.4,323.0 766.1,321.0 766.7,318.4 767.4,322.4 768.1,320.0 768.7,323.3 769.4,323.1 770.0,326.0 770.7,327.6 771.4,328.3 772.0,332.2 772.7,331.3 773.4,330.1 774.0,328.2 774.7,331.4 775.4,335.3 776.0,338.7 776.7,338.0 777.4,338.1 778.0,336.8 778.7,336.0 779.4,340.2 780.0,345.5 780.7,346.9 781.3,345.1 782.0,343.8 782.7,344.4 783.3,344.5 784.0,348.8 784.7,350.5 785.3,354.4 786.0,355.6" fill="none" stroke="#35193e" stroke-width="3.9" stroke-linejoin="round"/>
<path d="M122.0,392.8 122.7,392.7 123.3,393.1 124.0,392.8 124.7,392.7 125.3,393.2 126.0,392.3 126.7,392.0 127.3,392.0 128.0,391.0 128.6,391.0 129.3,390.3 130.0,391.2 130.6,392.0 131.3,391.8 132.0,390.6 132.6,389.4 133.3,390.0 134.0,390.9 134.6,391.8 135.3,392.9 136.0,392.2 136.6,391.7 137.3,391.2 138.0,391.3 138.6,389.3 139.3,390.0 139.9,391.1 140.6,390.8 141.3,389.8 141.9,390.0 142.6,389.1 143.3,386.9 143.9,387.1 144.6,387.4 145.3,387.3 145.9,389.6 146.6,390.2 147.3,390.3 147.9,390.3 148.6,389.3 149.3,388.9 149.9,389.2 150.6,389.2 151.2,388.7 151.9,390.1 152.6,390.4 153.2,391.0 153.9,391.0 154.6,391.1 155.2,391.3 155.9,390.8 156.6,391.6 157.2,390.8 157.9,390.5 158.6,390.4 159.2,390.5 159.9,391.4 160.6,392.2 161.2,391.7 161.9,392.0 162.5,392.5 163.2,392.4 163.9,391.6 164.5,392.1 165.2,391.3 165.9,392.2 166.5,392.2 167.2,391.3 167.9,390.1 168.5,388.8 169.2,390.0 169.9,388.2 170.5,389.2 171.2,390.0 171.8,389.8 172.5,389.0 173.2,389.3 173.8,391.1 174.5,389.7 175.2,389.4 175.8,388.7 176.5,387.0 177.2,386.5 177.8,384.8 178.5,386.2 179.2,385.6 179.8,388.4 180.5,387.0 181.2,384.9 181.8,383.4 182.5,382.8 183.1,383.7 183.8,384.1 184.5,384.9 185.1,386.3 185.8,387.8 186.5,387.9 187.1,389.6 187.8,391.0 188.5,391.3 189.1,391.1 189.8,390.4 190.5,388.1 191.1,388.5 191.8,387.4 192.5,389.8 193.1,391.2 193.8,390.8 194.4,389.3 195.1,388.5 195.8,388.5 196.4,389.2 197.1,389.6 197.8,391.1 198.4,389.5 199.1,388.2 199.8,385.5 200.4,386.7 201.1,387.8 201.8,387.7 202.4,388.4 203.1,388.5 203.8,385.6 204.4,386.0 205.1,386.1 205.7,388.0 206.4,391.0 207.1,389.5 207.7,389.3 208.4,388.4 209.1,388.0 209.7,387.7 210.4,388.9 211.1,388.7 211.7,391.7 212.4,391.8 213.1,393.0 213.7,394.6 214.4,395.4 215.1,394.4 215.7,394.0 216.4,394.4 217.0,395.0 217.7,395.2 218.4,391.6 219.0,389.6 219.7,388.3 220.4,387.7 221.0,388.2 221.7,389.3 222.4,389.0 223.0,388.2 223.7,387.6 224.4,388.3 225.0,384.4 225.7,383.8 226.4,381.8 227.0,380.5 227.7,379.0 228.3,377.4 229.0,378.0 229.7,377.5 230.3,378.5 231.0,376.2 231.7,377.6 232.3,377.6 233.0,377.6 233.7,377.9 234.3,378.4 235.0,378.9 235.7,378.6 236.3,378.3 237.0,377.4 237.7,375.3 238.3,376.6 239.0,377.9 239.6,381.4 240.3,386.2 241.0,389.8 241.6,391.0 242.3,390.2 243.0,389.0 243.6,387.9 244.3,389.8 245.0,390.1 245.6,391.8 246.3,393.1 247.0,395.0 247.6,396.9 248.3,395.6 249.0,394.3 249.6,393.6 250.3,395.7 250.9,395.2 251.6,395.0 252.3,393.6 252.9,391.8 253.6,391.0 254.3,393.7 254.9,392.0 255.6,393.0 256.3,393.0 256.9,391.4 257.6,390.9 258.3,390.2 258.9,389.1 259.6,391.2 260.3,388.2 260.9,388.9 261.6,390.9 262.2,392.0 262.9,392.7 263.6,393.9 264.2,393.9 264.9,395.2 265.6,396.3 266.2,393.7 266.9,395.6 267.6,398.7 268.2,401.0 268.9,403.1 269.6,402.1 270.2,402.1 270.9,401.2 271.5,399.2 272.2,400.0 272.9,399.5 273.5,401.3 274.2,400.5 274.9,400.7 275.5,399.8 276.2,397.2 276.9,395.5 277.5,397.5 278.2,395.6 278.9,393.7 279.5,393.0 280.2,395.0 280.9,397.3 281.5,395.7 282.2,392.3 282.8,390.4 283.5,391.9 284.2,391.1 284.8,393.2 285.5,394.1 286.2,393.7 286.8,393.8 287.5,394.5 288.2,395.6 288.8,392.7 289.5,393.2 290.2,391.8 290.8,390.7 291.5,391.3 292.2,392.7 292.8,392.4 293.5,391.4 294.1,390.8 294.8,393.9 295.5,397.2 296.1,398.8 296.8,400.5 297.5,398.6 298.1,395.9 298.8,393.2 299.5,390.4 300.1,389.5 300.8,389.4 301.5,388.4 302.1,384.6 302.8,383.9 303.5,381.8 304.1,383.1 304.8,380.8 305.4,377.7 306.1,373.7 306.8,370.9 307.4,368.3 308.1,367.8 308.8,370.0 309.4,372.5 310.1,374.2 310.8,369.9 311.4,366.7 312.1,365.3 312.8,366.4 313.4,368.5 314.1,369.0 314.8,370.5 315.4,369.9 316.1,367.5 316.7,370.8 317.4,374.2 318.1,375.5 318.7,377.8 319.4,377.9 320.1,380.8 320.7,381.5 321.4,380.2 322.1,380.3 322.7,380.1 323.4,381.7 324.1,383.8 324.7,385.0 325.4,384.6 326.1,377.4 326.7,377.5 327.4,374.5 328.0,375.6 328.7,378.0 329.4,379.2 330.0,379.5 330.7,378.7 331.4,378.3 332.0,376.9 332.7,376.2 333.4,374.9 334.0,377.2 334.7,376.6 335.4,377.3 336.0,376.2 336.7,375.6 337.4,375.3 338.0,376.5 338.7,378.9 339.3,379.6 340.0,379.2 340.7,378.2 341.3,382.1 342.0,380.7 342.7,380.2 343.3,381.8 344.0,383.1 344.7,382.6 345.3,381.3 346.0,384.5 346.7,384.6 347.3,383.9 348.0,382.7 348.7,379.6 349.3,377.0 350.0,379.2 350.6,381.1 351.3,381.9 352.0,378.5 352.6,375.2 353.3,373.4 354.0,370.3 354.6,371.5 355.3,374.6 356.0,381.1 356.6,384.2 357.3,383.6 358.0,381.8 358.6,373.7 359.3,370.5 359.9,368.4 360.6,369.8 361.3,371.0 361.9,371.8 362.6,372.2 363.3,373.5 363.9,376.8 364.6,374.2 365.3,370.9 365.9,366.5 366.6,368.4 367.3,371.3 367.9,371.8 368.6,368.7 369.3,367.3 369.9,366.1 370.6,365.1 371.2,365.1 371.9,365.9 372.6,366.4 373.2,368.9 373.9,370.9 374.6,370.1 375.2,370.5 375.9,369.0 376.6,371.7 377.2,371.5 377.9,373.7 378.6,373.2 379.2,370.1 379.9,369.6 380.6,368.0 381.2,368.8 381.9,370.4 382.5,365.2 383.2,364.0 383.9,363.1 384.5,363.9 385.2,361.7 385.9,363.9 386.5,363.0 387.2,364.7 387.9,365.8 388.5,369.2 389.2,369.4 389.9,370.1 390.5,370.8 391.2,371.4 391.9,370.9 392.5,369.8 393.2,370.8 393.8,369.9 394.5,366.8 395.2,363.8 395.8,364.4 396.5,369.4 397.2,367.1 397.8,365.5 398.5,365.3 399.2,358.9 399.8,357.7 400.5,353.1 401.2,354.7 401.8,352.5 402.5,350.0 403.2,349.3 403.8,349.0 404.5,346.3 405.1,342.8 405.8,338.3 406.5,338.0 407.1,338.1 407.8,339.1 408.5,337.1 409.1,337.4 409.8,338.7 410.5,339.4 411.1,338.7 411.8,338.7 412.5,339.4 413.1,341.0 413.8,340.9 414.5,340.4 415.1,341.7 415.8,342.4 416.4,339.4 417.1,338.4 417.8,335.5 418.4,337.2 419.1,338.3 419.8,335.2 420.4,337.4 421.1,339.5 421.8,340.0 422.4,342.7 423.1,347.3 423.8,345.7 424.4,348.9 425.1,349.0 425.8,348.9 426.4,350.8 427.1,350.0 427.7,350.4 428.4,349.6 429.1,348.8 429.7,347.9 430.4,344.0 431.1,341.0 431.7,342.6 432.4,341.8 433.1,340.2 433.7,333.8 434.4,332.1 435.1,335.3 435.7,339.3 436.4,341.1 437.1,343.8 437.7,346.2 438.4,347.9 439.0,349.7 439.7,351.1 440.4,348.9 441.0,349.8 441.7,349.4 442.4,350.7 443.0,352.4 443.7,356.8 444.4,361.1 445.0,364.7 445.7,365.7 446.4,367.4 447.0,368.7 447.7,372.8 448.4,374.4 449.0,370.6 449.7,373.4 450.3,374.4 451.0,373.6 451.7,376.0 452.3,376.4 453.0,382.1 453.7,380.3 454.3,374.0 455.0,372.8 455.7,371.6 456.3,375.9 457.0,375.2 457.7,372.8 458.3,375.1 459.0,374.7 459.6,374.0 460.3,368.2 461.0,369.3 461.6,372.6 462.3,369.3 463.0,372.2 463.6,369.7 464.3,371.8 465.0,368.8 465.6,366.3 466.3,367.2 467.0,367.1 467.6,365.0 468.3,366.5 469.0,366.3 469.6,363.5 470.3,366.3 470.9,366.8 471.6,368.7 472.3,375.0 472.9,374.9 473.6,373.2 474.3,371.3 474.9,371.4 475.6,373.8 476.3,378.8 476.9,380.0 477.6,383.4 478.3,386.1 478.9,383.8 479.6,383.2 480.3,381.6 480.9,386.7 481.6,388.5 482.2,388.2 482.9,384.5 483.6,383.9 484.2,382.4 484.9,382.2 485.6,380.1 486.2,376.2 486.9,376.9 487.6,376.9 488.2,374.0 488.9,375.9 489.6,375.6 490.2,376.3 490.9,375.9 491.6,372.6 492.2,367.6 492.9,363.6 493.5,364.1 494.2,366.2 494.9,364.9 495.5,366.4 496.2,363.3 496.9,359.7 497.5,357.3 498.2,354.4 498.9,357.6 499.5,356.5 500.2,354.2 500.9,356.7 501.5,354.9 502.2,352.9 502.9,346.9 503.5,349.0 504.2,350.4 504.8,350.5 505.5,352.8 506.2,355.7 506.8,353.1 507.5,351.9 508.2,348.4 508.8,347.6 509.5,350.7 510.2,352.8 510.8,352.7 511.5,357.0 512.2,359.9 512.8,357.6 513.5,358.0 514.2,357.3 514.8,356.7 515.5,356.7 516.1,361.4 516.8,358.5 517.5,358.7 518.1,361.6 518.8,363.7 519.5,361.5 520.1,360.1 520.8,361.7 521.5,364.1 522.1,364.2 522.8,362.6 523.5,366.1 524.1,369.1 524.8,370.3 525.5,371.1 526.1,373.6 526.8,376.2 527.4,377.7 528.1,377.2 528.8,380.2 529.4,385.9 530.1,388.7 530.8,392.9 531.4,398.0 532.1,402.3 532.8,410.2 533.4,409.5 534.1,410.2 534.8,410.6 535.4,412.6 536.1,417.7 536.8,417.7 537.4,415.9 538.1,417.7 538.7,420.5 539.4,427.4 540.1,429.6 540.7,429.2 541.4,430.5 542.1,429.4 542.7,427.0 543.4,434.6 544.1,436.7 544.7,439.5 545.4,438.5 546.1,439.7 546.7,437.2 547.4,439.7 548.1,437.1 548.7,433.9 549.4,434.6 550.0,436.5 550.7,438.6 551.4,440.4 552.0,439.8 552.7,435.7 553.4,435.9 554.0,436.9 554.7,437.1 555.4,436.8 556.0,436.0 556.7,436.0 557.4,437.7 558.0,436.4 558.7,436.7 559.3,442.7 560.0,441.7 560.7,442.2 561.3,443.1 562.0,445.6 562.7,449.6 563.3,450.0 564.0,453.9 564.7,450.9 565.3,446.8 566.0,445.4 566.7,443.4 567.3,445.3 568.0,451.5 568.7,457.3 569.3,463.0 570.0,468.9 570.6,475.4 571.3,480.9 572.0,484.2 572.6,480.8 573.3,477.7 574.0,475.2 574.6,473.1 575.3,470.8 576.0,470.0 576.6,470.9 577.3,470.1 578.0,471.5 578.6,474.5 579.3,474.3 580.0,474.4 580.6,469.8 581.3,475.1 581.9,478.5 582.6,478.6 583.3,476.1 583.9,476.8 584.6,474.6 585.3,473.1 585.9,476.2 586.6,477.4 587.3,478.1 587.9,480.7 588.6,477.3 589.3,475.4 589.9,471.4 590.6,469.7 591.3,474.6 591.9,478.0 592.6,486.0 593.2,486.9 593.9,491.6 594.6,490.5 595.2,490.8 595.9,485.6 596.6,480.4 597.2,478.3 597.9,479.0 598.6,474.4 599.2,476.2 599.9,472.2 600.6,472.5 601.2,471.1 601.9,473.0 602.6,469.1 603.2,474.0 603.9,476.8 604.5,476.6 605.2,474.0 605.9,469.7 606.5,467.6 607.2,470.7 607.9,473.3 608.5,473.4 609.2,474.1 609.9,478.7 610.5,480.0 611.2,482.4 611.9,488.5 612.5,493.4 613.2,494.8 613.9,493.2 614.5,486.1 615.2,480.2 615.8,476.7 616.5,476.8 617.2,478.7 617.8,480.5 618.5,479.8 619.2,476.6 619.8,471.0 620.5,463.9 621.2,463.9 621.8,462.7 622.5,463.1 623.2,463.4 623.8,462.2 624.5,462.7 625.2,462.6 625.8,461.5 626.5,456.8 627.1,456.1 627.8,454.0 628.5,451.6 629.1,451.4 629.8,455.9 630.5,454.1 631.1,456.2 631.8,458.1 632.5,459.4 633.1,454.1 633.8,454.8 634.5,453.6 635.1,451.5 635.8,449.7 636.5,447.0 637.1,443.7 637.8,439.5 638.4,439.7 639.1,434.1 639.8,428.3 640.4,426.0 641.1,424.1 641.8,422.5 642.4,416.2 643.1,418.6 643.8,419.8 644.4,424.4 645.1,422.1 645.8,422.8 646.4,420.8 647.1,414.1 647.7,411.0 648.4,413.0 649.1,414.7 649.7,413.5 650.4,414.3 651.1,414.0 651.7,414.6 652.4,413.5 653.1,413.4 653.7,416.1 654.4,414.4 655.1,413.7 655.7,419.0 656.4,425.2 657.1,427.0 657.7,426.0 658.4,428.8 659.0,431.9 659.7,430.3 660.4,429.3 661.0,427.0 661.7,425.9 662.4,426.1 663.0,422.6 663.7,419.5 664.4,416.9 665.0,422.9 665.7,428.7 666.4,430.2 667.0,430.3 667.7,430.1 668.4,428.3 669.0,428.5 669.7,430.2 670.3,435.7 671.0,439.0 671.7,437.7 672.3,431.9 673.0,424.2 673.7,420.3 674.3,417.0 675.0,420.2 675.7,419.9 676.3,421.9 677.0,419.0 677.7,413.7 678.3,410.5 679.0,410.1 679.7,415.1 680.3,422.2 681.0,425.8 681.6,430.3 682.3,430.8 683.0,431.4 683.6,431.9 684.3,436.0 685.0,438.8 685.6,441.0 686.3,442.0 687.0,444.6 687.6,445.2 688.3,442.0 689.0,441.1 689.6,438.0 690.3,433.9 691.0,432.7 691.6,429.8 692.3,425.2 692.9,424.1 693.6,420.6 694.3,418.6 694.9,412.3 695.6,414.2 696.3,410.1 696.9,411.0 697.6,407.0 698.3,401.4 698.9,397.1 699.6,394.3 700.3,392.9 700.9,394.9 701.6,394.0 702.3,394.0 702.9,391.0 703.6,392.5 704.2,393.7 704.9,394.8 705.6,394.7 706.2,394.1 706.9,392.9 707.6,393.1 708.2,393.4 708.9,393.6 709.6,396.3 710.2,391.5 710.9,389.2 711.6,390.5 712.2,385.1 712.9,383.4 713.6,383.4 714.2,377.7 714.9,379.6 715.5,371.9 716.2,372.5 716.9,374.4 717.5,370.9 718.2,365.0 718.9,358.9 719.5,355.3 720.2,355.8 720.9,354.4 721.5,352.8 722.2,353.8 722.9,350.0 723.5,349.6 724.2,350.9 724.9,348.4 725.5,351.1 726.2,353.5 726.8,352.7 727.5,355.1 728.2,355.8 728.8,355.7 729.5,357.8 730.2,357.6 730.8,362.0 731.5,360.8 732.2,361.7 732.8,360.4 733.5,362.1 734.2,361.5 734.8,360.8 735.5,357.0 736.2,356.6 736.8,355.2 737.5,359.1 738.1,361.5 738.8,364.1 739.5,362.6 740.1,361.5 740.8,357.1 741.5,357.7 742.1,357.5 742.8,355.9 743.5,354.3 744.1,355.7 744.8,354.2 745.5,351.4 746.1,352.8 746.8,351.4 747.4,350.5 748.1,348.1 748.8,342.4 749.4,342.2 750.1,339.7 750.8,341.3 751.4,342.7 752.1,344.2 752.8,343.7 753.4,343.7 754.1,342.7 754.8,343.4 755.4,339.5 756.1,339.4 756.8,343.1 757.4,348.0 758.1,355.6 758.7,360.8 759.4,365.7 760.1,369.6 760.7,369.5 761.4,371.3 762.1,374.4 762.7,374.1 763.4,376.1 764.1,375.4 764.7,376.1 765.4,377.5 766.1,377.4 766.7,377.4 767.4,383.2 768.1,385.1 768.7,383.8 769.4,385.2 770.0,384.8 770.7,382.0 771.4,378.3 772.0,377.2 772.7,378.5 773.4,378.5 774.0,377.9 774.7,377.9 775.4,378.1 776.0,373.4 776.7,375.2 777.4,375.3 778.0,373.3 778.7,370.2 779.4,369.0 780.0,366.9 780.7,363.8 781.3,362.8 782.0,369.0 782.7,367.3 783.3,364.3 784.0,364.7 784.7,366.3 785.3,366.4 786.0,363.3" fill="none" stroke="#701f57" stroke-width="3.9" stroke-linejoin="round"/>
<path d="M122.0,376.3 122.7,375.9 123.3,375.1 124.0,375.3 124.7,375.1 125.3,375.3 126.0,374.3 126.7,374.5 127.3,374.2 128.0,374.0 128.6,373.8 129.3,373.5 130.0,372.5 130.6,371.5 131.3,371.8 132.0,371.9 132.6,372.1 133.3,372.6 134.0,373.9 134.6,374.6 135.3,374.9 136.0,374.1 136.6,373.2 137.3,372.5 138.0,372.5 138.6,372.9 139.3,373.1 139.9,373.3 140.6,373.5 141.3,373.9 141.9,374.5 142.6,375.4 143.3,375.4 143.9,374.5 144.6,374.8 145.3,375.2 145.9,375.7 146.6,376.0 147.3,378.1 147.9,377.2 148.6,376.3 149.3,375.3 149.9,373.7 150.6,373.7 151.2,375.8 151.9,376.9 152.6,377.0 153.2,376.8 153.9,376.6 154.6,377.2 155.2,376.9 155.9,376.0 156.6,375.5 157.2,375.8 157.9,376.4 158.6,376.8 159.2,374.8 159.9,374.8 160.6,376.4 161.2,377.5 161.9,377.6 162.5,377.2 163.2,378.0 163.9,376.9 164.5,376.5 165.2,375.0 165.9,375.2 166.5,376.7 167.2,374.9 167.9,375.2 168.5,373.8 169.2,371.3 169.9,369.7 170.5,369.3 171.2,370.3 171.8,369.4 172.5,371.0 173.2,373.6 173.8,374.1 174.5,374.1 175.2,373.7 175.8,372.3 176.5,372.0 177.2,371.1 177.8,371.4 178.5,373.6 179.2,374.5 179.8,375.0 180.5,376.2 181.2,373.9 181.8,371.8 182.5,370.9 183.1,370.9 183.8,372.1 184.5,372.4 185.1,374.9 185.8,376.6 186.5,377.1 187.1,376.0 187.8,375.7 188.5,375.9 189.1,374.8 189.8,375.2 190.5,376.4 191.1,375.6 191.8,376.3 192.5,376.3 193.1,374.8 193.8,374.1 194.4,372.0 195.1,371.7 195.8,369.6 196.4,369.9 197.1,369.3 197.8,369.7 198.4,369.5 199.1,368.2 199.8,370.6 200.4,369.7 201.1,371.4 201.8,371.9 202.4,373.7 203.1,375.3 203.8,375.2 204.4,374.9 205.1,372.3 205.7,372.1 206.4,371.2 207.1,369.8 207.7,368.1 208.4,367.0 209.1,368.0 209.7,365.5 210.4,365.1 211.1,363.9 211.7,365.8 212.4,365.9 213.1,366.8 213.7,366.4 214.4,367.2 215.1,368.5 215.7,368.5 216.4,369.2 217.0,368.8 217.7,370.0 218.4,371.9 219.0,372.1 219.7,374.6 220.4,372.7 221.0,370.5 221.7,368.7 222.4,368.7 223.0,369.4 223.7,369.8 224.4,370.3 225.0,371.4 225.7,370.7 226.4,368.2 227.0,367.1 227.7,370.5 228.3,369.8 229.0,370.1 229.7,371.8 230.3,371.4 231.0,370.0 231.7,369.5 232.3,369.9 233.0,370.4 233.7,368.0 234.3,368.3 235.0,367.5 235.7,368.3 236.3,370.1 237.0,370.0 237.7,368.8 238.3,369.9 239.0,373.6 239.6,375.0 240.3,375.4 241.0,378.7 241.6,378.3 242.3,380.4 243.0,380.3 243.6,380.6 244.3,381.3 245.0,382.6 245.6,382.2 246.3,382.1 247.0,380.3 247.6,380.5 248.3,379.1 249.0,378.6 249.6,376.0 250.3,374.4 250.9,375.5 251.6,375.7 252.3,377.0 252.9,377.2 253.6,375.3 254.3,371.5 254.9,372.4 255.6,373.1 256.3,375.1 256.9,372.1 257.6,369.5 258.3,366.2 258.9,365.3 259.6,366.6 260.3,367.6 260.9,367.9 261.6,369.0 262.2,370.0 262.9,369.5 263.6,369.0 264.2,368.0 264.9,363.7 265.6,361.5 266.2,362.0 266.9,360.9 267.6,362.2 268.2,363.8 268.9,365.4 269.6,368.2 270.2,368.5 270.9,366.8 271.5,364.4 272.2,365.1 272.9,365.1 273.5,364.1 274.2,366.4 274.9,368.2 275.5,365.5 276.2,366.7 276.9,367.6 277.5,366.9 278.2,368.7 278.9,366.9 279.5,367.1 280.2,367.3 280.9,368.1 281.5,369.4 282.2,367.6 282.8,366.9 283.5,368.1 284.2,370.5 284.8,372.0 285.5,374.6 286.2,374.3 286.8,372.2 287.5,371.3 288.2,371.7 288.8,371.7 289.5,373.5 290.2,376.8 290.8,375.9 291.5,376.6 292.2,379.3 292.8,379.3 293.5,377.5 294.1,375.4 294.8,375.7 295.5,376.4 296.1,376.3 296.8,376.9 297.5,379.7 298.1,381.9 298.8,379.1 299.5,378.1 300.1,377.2 300.8,377.3 301.5,376.2 302.1,373.8 302.8,372.5 303.5,369.4 304.1,369.2 304.8,369.5 305.4,371.9 306.1,372.0 306.8,372.6 307.4,371.6 308.1,370.6 308.8,372.5 309.4,372.7 310.1,374.7 310.8,375.0 311.4,378.8 312.1,379.4 312.8,380.1 313.4,379.8 314.1,380.2 314.8,381.3 315.4,381.8 316.1,384.5 316.7,385.7 317.4,385.0 318.1,384.9 318.7,382.6 319.4,380.5 320.1,379.2 320.7,378.0 321.4,378.5 322.1,379.8 322.7,379.6 323.4,376.6 324.1,372.3 324.7,370.5 325.4,369.3 326.1,370.2 326.7,368.6 327.4,367.0 328.0,366.7 328.7,364.8 329.4,363.5 330.0,365.5 330.7,368.1 331.4,369.1 332.0,368.0 332.7,363.7 333.4,363.1 334.0,364.7 334.7,366.9 335.4,368.7 336.0,370.3 336.7,371.5 337.4,371.9 338.0,372.7 338.7,373.1 339.3,370.6 340.0,367.7 340.7,363.3 341.3,361.3 342.0,364.2 342.7,367.3 343.3,368.5 344.0,371.6 344.7,372.9 345.3,371.5 346.0,369.7 346.7,368.3 347.3,371.7 348.0,369.7 348.7,372.3 349.3,375.1 350.0,375.3 350.6,375.4 351.3,373.2 352.0,371.9 352.6,370.6 353.3,369.6 354.0,370.2 354.6,372.9 355.3,374.3 356.0,376.5 356.6,375.9 357.3,375.4 358.0,372.4 358.6,374.3 359.3,375.9 359.9,375.2 360.6,376.8 361.3,373.8 361.9,372.4 362.6,374.0 363.3,371.7 363.9,370.5 364.6,366.7 365.3,361.7 365.9,358.6 366.6,357.0 367.3,359.0 367.9,360.3 368.6,361.2 369.3,360.7 369.9,357.4 370.6,356.8 371.2,351.9 371.9,346.6 372.6,345.6 373.2,344.8 373.9,346.3 374.6,351.8 375.2,357.1 375.9,356.4 376.6,355.4 377.2,353.2 377.9,354.3 378.6,355.6 379.2,359.2 379.9,360.9 380.6,359.5 381.2,359.7 381.9,357.2 382.5,358.1 383.2,359.3 383.9,361.2 384.5,359.0 385.2,361.6 385.9,364.1 386.5,364.2 387.2,364.4 387.9,361.3 388.5,362.7 389.2,360.9 389.9,362.2 390.5,364.8 391.2,370.1 391.9,371.8 392.5,373.5 393.2,371.2 393.8,369.0 394.5,371.0 395.2,372.9 395.8,371.4 396.5,371.4 397.2,372.4 397.8,377.6 398.5,382.3 399.2,386.0 399.8,383.0 400.5,382.4 401.2,383.1 401.8,385.6 402.5,386.6 403.2,386.8 403.8,389.1 404.5,392.1 405.1,393.1 405.8,392.0 406.5,396.6 407.1,394.2 407.8,395.9 408.5,396.5 409.1,392.6 409.8,391.5 410.5,389.5 411.1,389.7 411.8,388.7 412.5,390.4 413.1,388.4 413.8,384.8 414.5,384.7 415.1,383.4 415.8,382.0 416.4,386.0 417.1,383.7 417.8,383.7 418.4,383.3 419.1,380.5 419.8,374.5 420.4,378.3 421.1,379.6 421.8,382.0 422.4,383.1 423.1,384.0 423.8,382.5 424.4,383.6 425.1,388.3 425.8,391.3 426.4,394.9 427.1,391.9 427.7,392.4 428.4,388.9 429.1,390.6 429.7,390.2 430.4,391.7 431.1,392.8 431.7,393.6 432.4,392.1 433.1,394.1 433.7,390.6 434.4,387.8 435.1,388.1 435.7,388.4 436.4,389.7 437.1,391.2 437.7,390.6 438.4,391.1 439.0,390.8 439.7,390.7 440.4,383.9 441.0,382.8 441.7,381.9 442.4,380.8 443.0,380.5 443.7,379.9 444.4,382.1 445.0,384.9 445.7,379.2 446.4,376.9 447.0,379.7 447.7,380.3 448.4,383.0 449.0,384.0 449.7,382.3 450.3,378.5 451.0,376.7 451.7,377.1 452.3,377.3 453.0,379.4 453.7,383.7 454.3,382.6 455.0,383.9 455.7,387.3 456.3,391.6 457.0,390.1 457.7,393.5 458.3,392.4 459.0,390.4 459.6,385.0 460.3,385.0 461.0,382.4 461.6,386.4 462.3,387.9 463.0,390.2 463.6,387.8 464.3,391.1 465.0,391.0 465.6,392.6 466.3,390.4 467.0,393.8 467.6,394.8 468.3,391.7 469.0,389.8 469.6,389.1 470.3,391.6 470.9,391.9 471.6,395.2 472.3,393.1 472.9,391.4 473.6,391.8 474.3,389.0 474.9,389.9 475.6,393.2 476.3,394.5 476.9,393.7 477.6,398.0 478.3,397.8 478.9,399.8 479.6,400.6 480.3,401.7 480.9,401.3 481.6,405.4 482.2,411.7 482.9,412.2 483.6,416.0 484.2,414.1 484.9,411.5 485.6,412.1 486.2,413.8 486.9,417.4 487.6,420.1 488.2,422.2 488.9,427.0 489.6,432.3 490.2,431.9 490.9,427.0 491.6,428.5 492.2,427.8 492.9,427.8 493.5,426.8 494.2,430.5 494.9,431.0 495.5,431.0 496.2,426.3 496.9,423.0 497.5,420.7 498.2,419.2 498.9,419.5 499.5,418.5 500.2,422.7 500.9,421.1 501.5,418.2 502.2,417.9 502.9,415.0 503.5,417.5 504.2,419.5 504.8,418.7 505.5,421.5 506.2,421.2 506.8,422.2 507.5,420.9 508.2,416.4 508.8,414.3 509.5,413.6 510.2,415.4 510.8,418.4 511.5,413.5 512.2,409.4 512.8,404.1 513.5,406.2 514.2,405.3 514.8,404.6 515.5,402.7 516.1,404.8 516.8,404.8 517.5,406.0 518.1,401.0 518.8,402.2 519.5,401.4 520.1,402.3 520.8,403.6 521.5,402.0 522.1,400.2 522.8,401.4 523.5,401.6 524.1,400.7 524.8,399.2 525.5,396.8 526.1,395.6 526.8,395.1 527.4,394.3 528.1,397.4 528.8,393.2 529.4,391.0 530.1,393.6 530.8,392.5 531.4,389.4 532.1,391.5 532.8,391.6 533.4,387.9 534.1,388.6 534.8,385.7 535.4,382.3 536.1,382.2 536.8,381.8 537.4,380.5 538.1,378.5 538.7,375.5 539.4,375.0 540.1,374.8 540.7,375.2 541.4,373.6 542.1,370.8 542.7,370.1 543.4,371.2 544.1,377.7 544.7,382.2 545.4,383.7 546.1,386.5 546.7,382.6 547.4,382.6 548.1,380.8 548.7,382.4 549.4,384.1 550.0,383.5 550.7,385.9 551.4,384.7 552.0,384.5 552.7,385.1 553.4,392.3 554.0,391.6 554.7,390.7 555.4,388.3 556.0,391.7 556.7,389.1 557.4,386.5 558.0,388.2 558.7,387.2 559.3,393.8 560.0,398.0 560.7,399.3 561.3,399.6 562.0,398.8 562.7,398.5 563.3,401.6 564.0,405.4 564.7,407.7 565.3,409.9 566.0,410.1 566.7,412.4 567.3,409.9 568.0,410.0 568.7,413.0 569.3,416.4 570.0,417.2 570.6,415.8 571.3,417.4 572.0,418.8 572.6,410.9 573.3,405.9 574.0,402.2 574.6,401.8 575.3,396.2 576.0,394.5 576.6,392.0 577.3,396.4 578.0,395.7 578.6,394.1 579.3,391.5 580.0,392.4 580.6,391.7 581.3,387.6 581.9,387.2 582.6,383.4 583.3,380.1 583.9,375.9 584.6,371.7 585.3,368.5 585.9,364.5 586.6,364.4 587.3,365.1 587.9,362.4 588.6,357.9 589.3,357.1 589.9,351.5 590.6,345.5 591.3,345.1 591.9,344.8 592.6,349.1 593.2,351.1 593.9,353.1 594.6,356.6 595.2,360.0 595.9,358.7 596.6,357.3 597.2,354.7 597.9,353.0 598.6,355.5 599.2,358.0 599.9,357.1 600.6,355.9 601.2,354.9 601.9,357.1 602.6,355.9 603.2,358.4 603.9,356.5 604.5,357.1 605.2,360.6 605.9,362.5 606.5,359.2 607.2,356.4 607.9,357.1 608.5,355.0 609.2,351.9 609.9,351.1 610.5,350.8 611.2,353.5 611.9,357.6 612.5,359.9 613.2,362.4 613.9,363.2 614.5,361.2 615.2,359.2 615.8,361.2 616.5,356.8 617.2,358.6 617.8,358.6 618.5,357.8 619.2,357.7 619.8,357.4 620.5,359.7 621.2,358.7 621.8,359.2 622.5,358.8 623.2,363.0 623.8,364.1 624.5,361.4 625.2,358.6 625.8,354.4 626.5,351.2 627.1,350.9 627.8,356.4 628.5,357.1 629.1,362.8 629.8,367.8 630.5,369.5 631.1,372.7 631.8,374.9 632.5,378.0 633.1,381.5 633.8,378.3 634.5,379.8 635.1,377.6 635.8,380.1 636.5,380.1 637.1,383.5 637.8,385.9 638.4,390.4 639.1,387.9 639.8,383.3 640.4,381.7 641.1,381.7 641.8,383.6 642.4,376.2 643.1,376.8 643.8,381.3 644.4,382.9 645.1,387.5 645.8,397.2 646.4,403.3 647.1,402.3 647.7,403.8 648.4,405.4 649.1,402.2 649.7,397.7 650.4,394.2 651.1,391.2 651.7,389.0 652.4,387.9 653.1,384.7 653.7,385.6 654.4,382.9 655.1,377.7 655.7,378.7 656.4,380.6 657.1,381.0 657.7,378.8 658.4,375.1 659.0,377.0 659.7,373.5 660.4,373.0 661.0,371.6 661.7,367.5 662.4,368.4 663.0,359.3 663.7,357.9 664.4,359.5 665.0,361.4 665.7,364.0 666.4,365.5 667.0,365.2 667.7,370.0 668.4,370.5 669.0,372.3 669.7,373.8 670.3,375.7 671.0,379.7 671.7,382.8 672.3,384.0 673.0,384.5 673.7,387.8 674.3,387.1 675.0,387.6 675.7,387.8 676.3,384.1 677.0,382.3 677.7,378.5 678.3,373.2 679.0,374.6 679.7,372.6 680.3,372.8 681.0,369.3 681.6,369.4 682.3,368.5 683.0,368.4 683.6,370.2 684.3,366.5 685.0,364.8 685.6,362.4 686.3,353.5 687.0,348.8 687.6,347.1 688.3,346.9 689.0,343.8 689.6,343.9 690.3,342.3 691.0,336.7 691.6,335.8 692.3,336.9 692.9,335.9 693.6,331.9 694.3,333.8 694.9,335.9 695.6,335.7 696.3,336.4 696.9,336.6 697.6,341.4 698.3,346.2 698.9,345.9 699.6,343.4 700.3,337.4 700.9,337.1 701.6,338.6 702.3,336.4 702.9,340.6 703.6,339.4 704.2,338.7 704.9,341.5 705.6,344.5 706.2,347.4 706.9,350.8 707.6,354.2 708.2,358.1 708.9,360.1 709.6,360.9 710.2,360.9 710.9,363.7 711.6,366.0 712.2,363.1 712.9,363.2 713.6,363.3 714.2,362.7 714.9,362.8 715.5,362.9 716.2,362.8 716.9,362.3 717.5,361.2 718.2,363.1 718.9,360.1 719.5,359.4 720.2,361.2 720.9,358.6 721.5,350.0 722.2,346.1 722.9,342.0 723.5,340.8 724.2,343.5 724.9,345.3 725.5,345.3 726.2,347.3 726.8,348.1 727.5,347.8 728.2,347.8 728.8,347.7 729.5,345.7 730.2,344.1 730.8,343.0 731.5,342.0 732.2,339.2 732.8,343.7 733.5,343.6 734.2,343.8 734.8,342.8 735.5,342.3 736.2,342.1 736.8,341.2 737.5,338.9 738.1,340.1 738.8,338.4 739.5,338.8 740.1,332.6 740.8,328.4 741.5,331.6 742.1,333.2 742.8,334.0 743.5,335.0 744.1,332.3 744.8,332.1 745.5,326.3 746.1,324.1 746.8,322.2 747.4,323.7 748.1,327.0 748.8,325.0 749.4,328.0 750.1,326.5 750.8,325.2 751.4,322.4 752.1,326.6 752.8,326.6 753.4,325.4 754.1,324.7 754.8,324.2 755.4,330.0 756.1,332.8 756.8,339.6 757.4,341.3 758.1,338.3 758.7,339.7 759.4,337.9 760.1,337.2 760.7,341.4 761.4,341.5 762.1,341.7 762.7,337.4 763.4,330.9 764.1,330.4 764.7,328.3 765.4,331.3 766.1,332.3 766.7,332.5 767.4,334.9 768.1,336.8 768.7,336.4 769.4,339.2 770.0,340.1 770.7,342.9 771.4,341.3 772.0,342.2 772.7,344.3 773.4,345.0 774.0,346.0 774.7,348.1 775.4,351.4 776.0,351.6 776.7,352.3 777.4,355.5 778.0,356.2 778.7,352.9 779.4,352.5 780.0,354.9 780.7,354.9 781.3,358.5 782.0,359.3 782.7,360.6 783.3,359.4 784.0,358.6 784.7,358.3 785.3,359.6 786.0,361.9" fill="none" stroke="#ad1759" stroke-width="3.9" stroke-linejoin="round"/>
<path d="M122.0,264.2 122.7,263.6 123.3,264.3 124.0,264.5 124.7,264.9 125.3,265.0 126.0,265.7 126.7,264.8 127.3,264.6 128.0,263.5 128.6,264.7 129.3,263.6 130.0,264.5 130.6,265.2 131.3,266.1 132.0,266.0 132.6,265.7 133.3,263.8 134.0,262.1 134.6,262.6 135.3,261.7 136.0,263.0 136.6,263.0 137.3,263.4 138.0,264.0 138.6,264.9 139.3,264.8 139.9,263.6 140.6,261.8 141.3,261.2 141.9,261.4 142.6,262.4 143.3,262.7 143.9,262.0 144.6,260.4 145.3,260.7 145.9,261.3 146.6,260.8 147.3,261.4 147.9,262.6 148.6,262.8 149.3,263.2 149.9,263.0 150.6,260.8 151.2,260.4 151.9,260.5 152.6,261.5 153.2,261.1 153.9,260.5 154.6,260.0 155.2,259.9 155.9,260.3 156.6,260.3 157.2,260.6 157.9,260.4 158.6,260.8 159.2,261.2 159.9,261.2 160.6,262.5 161.2,260.1 161.9,259.9 162.5,260.3 163.2,261.2 163.9,260.3 164.5,260.3 165.2,261.4 165.9,262.0 166.5,261.5 167.2,262.6 167.9,262.4 168.5,264.2 169.2,264.2 169.9,266.2 170.5,266.0 171.2,264.6 171.8,263.9 172.5,263.1 173.2,263.4 173.8,264.1 174.5,263.1 175.2,263.5 175.8,262.8 176.5,263.2 177.2,265.4 177.8,264.2 178.5,266.0 179.2,267.7 179.8,265.9 180.5,263.9 181.2,262.4 181.8,263.8 182.5,264.6 183.1,265.3 183.8,266.1 184.5,265.6 185.1,266.5 185.8,267.5 186.5,269.6 187.1,268.9 187.8,269.4 188.5,268.9 189.1,268.2 189.8,270.2 190.5,271.5 191.1,271.3 191.8,271.8 192.5,270.3 193.1,268.9 193.8,270.2 194.4,270.5 195.1,271.8 195.8,272.6 196.4,275.9 197.1,277.2 197.8,276.1 198.4,274.3 199.1,272.4 199.8,272.3 200.4,272.0 201.1,273.2 201.8,272.6 202.4,272.3 203.1,271.1 203.8,270.0 204.4,268.8 205.1,268.9 205.7,268.4 206.4,266.6 207.1,263.4 207.7,261.8 208.4,261.6 209.1,258.1 209.7,257.3 210.4,257.0 211.1,256.3 211.7,254.8 212.4,256.0 213.1,257.3 213.7,256.6 214.4,259.1 215.1,260.4 215.7,258.3 216.4,259.0 217.0,256.2 217.7,255.0 218.4,253.1 219.0,253.0 219.7,251.8 220.4,252.8 221.0,255.5 221.7,257.3 222.4,257.9 223.0,259.5 223.7,257.7 224.4,258.8 225.0,258.0 225.7,258.5 226.4,258.2 227.0,258.9 227.7,259.4 228.3,258.2 229.0,257.2 229.7,258.0 230.3,258.4 231.0,257.3 231.7,255.9 232.3,254.8 233.0,255.2 233.7,256.2 234.3,258.0 235.0,258.6 235.7,259.4 236.3,257.5 237.0,253.9 237.7,254.4 238.3,254.4 239.0,256.2 239.6,257.4 240.3,259.4 241.0,258.4 241.6,258.8 242.3,258.7 243.0,257.3 243.6,256.0 244.3,256.7 245.0,257.8 245.6,258.9 246.3,261.7 247.0,261.7 247.6,262.5 248.3,262.5 249.0,263.6 249.6,263.5 250.3,263.3 250.9,266.7 251.6,265.2 252.3,266.0 252.9,268.0 253.6,270.0 254.3,271.2 254.9,272.7 255.6,273.5 256.3,273.3 256.9,273.6 257.6,273.1 258.3,272.2 258.9,272.6 259.6,271.3 260.3,271.5 260.9,271.4 261.6,272.4 262.2,273.9 262.9,274.4 263.6,272.5 264.2,269.9 264.9,267.6 265.6,266.9 266.2,267.6 266.9,269.6 267.6,269.8 268.2,270.7 268.9,268.6 269.6,266.2 270.2,265.5 270.9,265.2 271.5,262.5 272.2,260.5 272.9,261.6 273.5,260.9 274.2,257.9 274.9,259.9 275.5,260.2 276.2,259.6 276.9,260.6 277.5,258.0 278.2,259.5 278.9,257.1 279.5,256.0 280.2,255.8 280.9,253.9 281.5,255.1 282.2,251.9 282.8,250.7 283.5,250.4 284.2,249.5 284.8,248.2 285.5,246.1 286.2,248.4 286.8,248.1 287.5,248.1 288.2,248.1 288.8,247.1 289.5,247.1 290.2,247.8 290.8,247.1 291.5,244.8 292.2,242.6 292.8,239.3 293.5,239.2 294.1,236.5 294.8,240.0 295.5,241.9 296.1,243.0 296.8,240.6 297.5,238.5 298.1,237.5 298.8,235.8 299.5,234.9 300.1,234.3 300.8,236.8 301.5,235.5 302.1,235.4 302.8,232.3 303.5,232.2 304.1,233.1 304.8,232.1 305.4,231.1 306.1,232.4 306.8,232.2 307.4,232.6 308.1,227.8 308.8,229.3 309.4,231.2 310.1,229.2 310.8,226.6 311.4,228.0 312.1,225.9 312.8,223.7 313.4,223.2 314.1,222.9 314.8,224.8 315.4,225.1 316.1,227.0 316.7,229.3 317.4,229.0 318.1,224.4 318.7,224.3 319.4,223.8 320.1,221.1 320.7,223.1 321.4,220.2 322.1,225.2 322.7,224.6 323.4,227.1 324.1,225.6 324.7,222.6 325.4,221.3 326.1,220.7 326.7,219.8 327.4,221.7 328.0,221.3 328.7,224.2 329.4,227.4 330.0,227.4 330.7,226.0 331.4,223.6 332.0,225.6 332.7,226.8 333.4,225.6 334.0,222.4 334.7,223.9 335.4,220.8 336.0,220.3 336.7,219.0 337.4,216.1 338.0,215.2 338.7,213.5 339.3,215.2 340.0,220.0 340.7,220.3 341.3,223.2 342.0,225.2 342.7,224.0 343.3,220.5 344.0,221.8 344.7,221.5 345.3,221.8 346.0,221.4 346.7,220.0 347.3,219.3 348.0,219.2 348.7,220.4 349.3,217.7 350.0,215.6 350.6,215.5 351.3,212.1 352.0,209.1 352.6,210.9 353.3,215.9 354.0,217.2 354.6,216.6 355.3,218.5 356.0,215.7 356.6,215.0 357.3,218.6 358.0,220.5 358.6,218.1 359.3,216.0 359.9,218.3 360.6,218.0 361.3,216.2 361.9,217.5 362.6,219.0 363.3,218.4 363.9,221.2 364.6,220.5 365.3,218.0 365.9,215.4 366.6,217.0 367.3,218.6 367.9,222.3 368.6,223.4 369.3,225.4 369.9,224.7 370.6,223.5 371.2,219.8 371.9,217.0 372.6,217.7 373.2,222.6 373.9,220.7 374.6,218.7 375.2,218.7 375.9,217.2 376.6,216.3 377.2,218.3 377.9,219.8 378.6,220.2 379.2,221.5 379.9,222.6 380.6,221.8 381.2,221.6 381.9,223.5 382.5,226.6 383.2,228.6 383.9,227.4 384.5,226.7 385.2,226.3 385.9,223.4 386.5,222.0 387.2,225.6 387.9,230.0 388.5,234.3 389.2,235.7 389.9,233.7 390.5,232.1 391.2,229.1 391.9,226.0 392.5,223.5 393.2,221.4 393.8,222.0 394.5,217.9 395.2,216.3 395.8,216.1 396.5,219.5 397.2,221.3 397.8,221.0 398.5,222.8 399.2,221.6 399.8,218.3 400.5,220.8 401.2,221.7 401.8,225.6 402.5,226.6 403.2,226.7 403.8,225.5 404.5,221.9 405.1,222.7 405.8,222.1 406.5,222.4 407.1,221.6 407.8,218.5 408.5,216.4 409.1,217.2 409.8,221.3 410.5,220.7 411.1,223.1 411.8,226.0 412.5,225.5 413.1,222.7 413.8,219.5 414.5,220.6 415.1,222.6 415.8,221.1 416.4,218.3 417.1,216.8 417.8,219.7 418.4,219.2 419.1,219.2 419.8,220.2 420.4,217.7 421.1,218.5 421.8,220.7 422.4,220.3 423.1,220.9 423.8,222.9 424.4,226.2 425.1,230.1 425.8,235.8 426.4,241.0 427.1,241.4 427.7,241.6 428.4,244.7 429.1,249.4 429.7,253.5 430.4,251.2 431.1,252.2 431.7,253.8 432.4,255.3 433.1,258.7 433.7,262.4 434.4,267.0 435.1,264.9 435.7,265.2 436.4,265.6 437.1,264.2 437.7,266.0 438.4,265.3 439.0,263.1 439.7,262.8 440.4,264.5 441.0,262.1 441.7,261.7 442.4,258.6 443.0,255.0 443.7,253.2 444.4,254.8 445.0,253.1 445.7,250.1 446.4,254.8 447.0,257.1 447.7,259.0 448.4,256.7 449.0,259.2 449.7,260.6 450.3,265.0 451.0,268.0 451.7,266.1 452.3,260.8 453.0,256.9 453.7,254.9 454.3,252.6 455.0,252.5 455.7,247.8 456.3,245.3 457.0,246.6 457.7,252.1 458.3,251.0 459.0,253.5 459.6,258.5 460.3,259.3 461.0,262.5 461.6,258.1 462.3,256.7 463.0,251.8 463.6,251.1 464.3,253.2 465.0,254.7 465.6,259.3 466.3,260.4 467.0,258.2 467.6,256.7 468.3,253.4 469.0,253.7 469.6,258.4 470.3,257.5 470.9,258.4 471.6,257.0 472.3,259.0 472.9,260.0 473.6,260.0 474.3,256.7 474.9,256.4 475.6,260.9 476.3,263.6 476.9,267.5 477.6,268.3 478.3,265.6 478.9,268.7 479.6,271.7 480.3,273.0 480.9,273.6 481.6,272.8 482.2,270.5 482.9,271.1 483.6,272.4 484.2,268.8 484.9,267.6 485.6,263.9 486.2,261.8 486.9,263.0 487.6,263.9 488.2,265.6 488.9,268.5 489.6,269.3 490.2,266.8 490.9,265.4 491.6,267.5 492.2,267.0 492.9,265.8 493.5,265.5 494.2,266.4 494.9,267.1 495.5,268.3 496.2,266.5 496.9,264.5 497.5,263.6 498.2,262.8 498.9,258.9 499.5,258.0 500.2,254.6 500.9,256.5 501.5,258.2 502.2,261.5 502.9,262.6 503.5,262.0 504.2,263.8 504.8,264.3 505.5,265.2 506.2,260.7 506.8,254.1 507.5,250.4 508.2,251.1 508.8,249.9 509.5,252.5 510.2,254.5 510.8,247.2 511.5,243.1 512.2,237.5 512.8,234.2 513.5,229.6 514.2,227.7 514.8,231.0 515.5,233.5 516.1,233.1 516.8,229.8 517.5,229.6 518.1,229.6 518.8,233.1 519.5,233.5 520.1,234.4 520.8,232.1 521.5,234.8 522.1,239.9 522.8,240.2 523.5,236.3 524.1,239.4 524.8,238.7 525.5,233.0 526.1,230.7 526.8,231.7 527.4,233.3 528.1,238.1 528.8,241.6 529.4,243.2 530.1,240.1 530.8,238.1 531.4,239.7 532.1,242.7 532.8,243.4 533.4,244.9 534.1,248.7 534.8,247.4 535.4,247.2 536.1,249.0 536.8,250.6 537.4,250.8 538.1,248.5 538.7,252.7 539.4,252.7 540.1,255.4 540.7,256.1 541.4,257.5 542.1,261.2 542.7,260.9 543.4,263.6 544.1,264.5 544.7,264.5 545.4,266.4 546.1,265.6 546.7,267.9 547.4,267.5 548.1,265.3 548.7,265.1 549.4,265.9 550.0,266.3 550.7,268.3 551.4,271.5 552.0,272.5 552.7,274.4 553.4,272.4 554.0,273.2 554.7,276.3 555.4,279.0 556.0,279.9 556.7,277.5 557.4,274.7 558.0,274.1 558.7,272.3 559.3,271.1 560.0,275.3 560.7,274.9 561.3,279.5 562.0,276.3 562.7,276.3 563.3,273.0 564.0,272.1 564.7,269.8 565.3,269.6 566.0,270.1 566.7,269.5 567.3,270.6 568.0,271.7 568.7,269.7 569.3,270.4 570.0,272.2 570.6,273.9 571.3,280.6 572.0,277.2 572.6,277.0 573.3,273.8 574.0,272.3 574.6,269.2 575.3,273.8 576.0,272.9 576.6,276.4 577.3,279.1 578.0,277.2 578.6,277.5 579.3,279.5 580.0,280.1 580.6,279.4 581.3,279.8 581.9,276.5 582.6,275.4 583.3,277.4 583.9,278.4 584.6,275.6 585.3,274.2 585.9,275.8 586.6,278.0 587.3,283.3 587.9,285.1 588.6,287.2 589.3,286.6 589.9,287.5 590.6,290.5 591.3,286.7 591.9,288.1 592.6,288.6 593.2,292.0 593.9,297.1 594.6,298.7 595.2,296.5 595.9,295.1 596.6,295.0 597.2,302.9 597.9,299.2 598.6,301.4 599.2,301.5 599.9,304.8 600.6,306.0 601.2,304.1 601.9,309.7 602.6,308.5 603.2,309.1 603.9,305.3 604.5,300.8 605.2,297.9 605.9,297.8 606.5,299.7 607.2,298.0 607.9,297.8 608.5,294.6 609.2,292.4 609.9,292.6 610.5,294.6 611.2,294.4 611.9,293.9 612.5,294.3 613.2,294.1 613.9,291.8 614.5,294.0 615.2,292.2 615.8,293.6 616.5,293.4 617.2,294.2 617.8,288.9 618.5,292.2 619.2,291.7 619.8,287.3 620.5,285.4 621.2,287.7 621.8,287.2 622.5,282.3 623.2,279.7 623.8,279.3 624.5,273.8 625.2,269.4 625.8,267.0 626.5,270.2 627.1,269.7 627.8,271.7 628.5,269.8 629.1,268.5 629.8,271.3 630.5,273.2 631.1,267.9 631.8,265.1 632.5,262.1 633.1,259.8 633.8,261.3 634.5,263.8 635.1,263.4 635.8,262.1 636.5,261.2 637.1,261.4 637.8,260.0 638.4,260.7 639.1,261.5 639.8,264.8 640.4,266.7 641.1,265.2 641.8,268.3 642.4,275.2 643.1,281.1 643.8,279.8 644.4,281.9 645.1,281.9 645.8,282.2 646.4,282.9 647.1,282.7 647.7,284.3 648.4,283.0 649.1,283.5 649.7,284.8 650.4,288.2 651.1,289.5 651.7,292.5 652.4,290.3 653.1,290.8 653.7,287.6 654.4,281.1 655.1,277.3 655.7,275.6 656.4,273.4 657.1,273.6 657.7,278.4 658.4,278.0 659.0,275.6 659.7,271.5 660.4,268.8 661.0,267.1 661.7,264.3 662.4,262.1 663.0,265.1 663.7,268.9 664.4,268.1 665.0,268.6 665.7,269.6 666.4,266.8 667.0,267.6 667.7,267.3 668.4,267.8 669.0,266.4 669.7,260.9 670.3,255.7 671.0,257.1 671.7,258.4 672.3,259.6 673.0,260.5 673.7,263.4 674.3,261.6 675.0,263.0 675.7,260.9 676.3,262.2 677.0,268.5 677.7,267.6 678.3,268.1 679.0,265.4 679.7,265.8 680.3,269.4 681.0,269.4 681.6,268.1 682.3,268.3 683.0,269.8 683.6,267.9 684.3,264.9 685.0,269.8 685.6,273.4 686.3,275.1 687.0,273.8 687.6,273.2 688.3,273.2 689.0,271.4 689.6,274.5 690.3,276.8 691.0,277.3 691.6,275.1 692.3,271.7 692.9,271.7 693.6,272.1 694.3,270.8 694.9,266.7 695.6,266.3 696.3,267.8 696.9,271.2 697.6,270.9 698.3,267.5 698.9,265.9 699.6,265.4 700.3,260.6 700.9,258.5 701.6,258.0 702.3,259.5 702.9,260.1 703.6,256.0 704.2,251.8 704.9,250.0 705.6,252.5 706.2,257.6 706.9,263.1 707.6,265.2 708.2,267.0 708.9,271.4 709.6,268.3 710.2,265.2 710.9,259.1 711.6,257.3 712.2,257.1 712.9,254.2 713.6,257.1 714.2,255.5 714.9,255.1 715.5,253.9 716.2,253.4 716.9,257.4 717.5,256.7 718.2,256.5 718.9,251.9 719.5,251.0 720.2,250.6 720.9,251.4 721.5,249.8 722.2,249.9 722.9,252.0 723.5,251.8 724.2,251.5 724.9,251.2 725.5,256.6 726.2,259.1 726.8,260.3 727.5,262.0 728.2,262.8 728.8,262.9 729.5,265.2 730.2,266.3 730.8,267.2 731.5,267.6 732.2,269.6 732.8,271.1 733.5,267.0 734.2,264.7 734.8,264.8 735.5,261.5 736.2,262.0 736.8,259.0 737.5,260.0 738.1,255.5 738.8,251.3 739.5,250.2 740.1,255.1 740.8,254.0 741.5,250.2 742.1,250.9 742.8,250.4 743.5,253.4 744.1,249.7 744.8,246.5 745.5,244.0 746.1,242.4 746.8,240.1 747.4,240.7 748.1,236.4 748.8,231.6 749.4,228.8 750.1,228.2 750.8,228.0 751.4,224.8 752.1,219.5 752.8,220.1 753.4,219.7 754.1,223.8 754.8,221.2 755.4,224.9 756.1,222.3 756.8,221.7 757.4,219.6 758.1,218.7 758.7,218.6 759.4,220.1 760.1,222.6 760.7,223.4 761.4,226.5 762.1,227.1 762.7,228.0 763.4,231.2 764.1,232.7 764.7,233.3 765.4,232.6 766.1,231.4 766.7,231.3 767.4,229.3 768.1,232.3 768.7,235.3 769.4,237.5 770.0,235.9 770.7,234.9 771.4,237.0 772.0,240.3 772.7,241.8 773.4,239.5 774.0,235.8 774.7,237.1 775.4,233.4 776.0,233.6 776.7,235.2 777.4,232.5 778.0,234.2 778.7,232.0 779.4,229.8 780.0,226.2 780.7,223.7 781.3,227.3 782.0,226.7 782.7,229.5 783.3,228.4 784.0,230.0 784.7,229.5 785.3,225.3 786.0,222.4" fill="none" stroke="#e13342" stroke-width="3.9" stroke-linejoin="round"/>
<path d="M122.0,247.2 122.7,247.7 123.3,247.6 124.0,247.8 124.7,248.3 125.3,247.5 126.0,246.8 126.7,246.9 127.3,247.5 128.0,247.0 128.6,247.4 129.3,247.7 130.0,247.7 130.6,247.9 131.3,247.6 132.0,246.8 132.6,245.4 133.3,245.2 134.0,245.4 134.6,246.8 135.3,246.4 136.0,246.4 136.6,246.7 137.3,247.8 138.0,248.3 138.6,248.8 139.3,250.2 139.9,250.0 140.6,249.6 141.3,248.2 141.9,248.2 142.6,247.7 143.3,248.8 143.9,248.5 144.6,248.8 145.3,249.0 145.9,249.4 146.6,247.5 147.3,248.2 147.9,248.1 148.6,248.4 149.3,247.9 149.9,247.6 150.6,246.7 151.2,245.4 151.9,246.2 152.6,246.7 153.2,245.2 153.9,245.1 154.6,246.6 155.2,246.9 155.9,245.9 156.6,247.0 157.2,246.3 157.9,245.8 158.6,244.9 159.2,244.1 159.9,244.5 160.6,244.6 161.2,244.5 161.9,245.2 162.5,246.5 163.2,246.4 163.9,246.8 164.5,247.0 165.2,247.3 165.9,248.3 166.5,247.6 167.2,248.6 167.9,248.8 168.5,248.6 169.2,248.7 169.9,248.9 170.5,249.2 171.2,248.9 171.8,248.6 172.5,248.1 173.2,250.2 173.8,251.0 174.5,250.8 175.2,250.6 175.8,250.6 176.5,249.4 177.2,248.1 177.8,249.2 178.5,248.6 179.2,248.6 179.8,247.1 180.5,246.7 181.2,247.9 181.8,247.6 182.5,248.0 183.1,248.5 183.8,248.0 184.5,248.6 185.1,248.5 185.8,249.6 186.5,249.6 187.1,252.4 187.8,252.3 188.5,252.1 189.1,252.8 189.8,251.7 190.5,251.0 191.1,249.8 191.8,249.5 192.5,249.6 193.1,249.7 193.8,249.8 194.4,248.8 195.1,249.0 195.8,248.4 196.4,247.7 197.1,248.8 197.8,250.6 198.4,251.8 199.1,251.9 199.8,253.5 200.4,253.2 201.1,253.6 201.8,254.1 202.4,254.0 203.1,254.6 203.8,254.7 204.4,257.6 205.1,257.0 205.7,255.5 206.4,255.5 207.1,254.6 207.7,254.9 208.4,252.6 209.1,251.2 209.7,254.5 210.4,253.6 211.1,252.2 211.7,250.4 212.4,250.5 213.1,247.7 213.7,247.5 214.4,246.9 215.1,248.0 215.7,248.3 216.4,247.5 217.0,246.8 217.7,245.2 218.4,247.7 219.0,246.7 219.7,246.6 220.4,248.8 221.0,248.9 221.7,249.6 222.4,248.7 223.0,248.2 223.7,246.7 224.4,244.2 225.0,244.7 225.7,243.3 226.4,240.8 227.0,239.0 227.7,238.6 228.3,237.4 229.0,238.2 229.7,238.8 230.3,241.2 231.0,240.9 231.7,242.0 232.3,239.6 233.0,238.4 233.7,238.1 234.3,239.3 235.0,240.0 235.7,240.0 236.3,238.1 237.0,236.3 237.7,236.0 238.3,237.5 239.0,239.6 239.6,241.8 240.3,243.3 241.0,239.9 241.6,238.2 242.3,236.9 243.0,236.7 243.6,238.2 244.3,239.3 245.0,239.1 245.6,238.7 246.3,239.7 247.0,238.6 247.6,237.8 248.3,238.1 249.0,237.9 249.6,239.4 250.3,240.6 250.9,242.6 251.6,242.4 252.3,241.2 252.9,241.3 253.6,238.7 254.3,239.9 254.9,240.7 255.6,240.7 256.3,241.0 256.9,243.4 257.6,244.0 258.3,244.7 258.9,247.2 259.6,247.5 260.3,248.0 260.9,247.2 261.6,245.8 262.2,245.6 262.9,245.7 263.6,247.3 264.2,244.8 264.9,243.5 265.6,243.1 266.2,241.3 266.9,241.0 267.6,240.2 268.2,240.4 268.9,241.0 269.6,242.5 270.2,242.1 270.9,239.4 271.5,237.4 272.2,237.3 272.9,239.2 273.5,236.9 274.2,237.6 274.9,235.2 275.5,235.3 276.2,234.8 276.9,235.6 277.5,237.3 278.2,238.0 278.9,235.4 279.5,234.6 280.2,235.2 280.9,234.3 281.5,234.2 282.2,233.1 282.8,236.3 283.5,237.2 284.2,236.6 284.8,235.7 285.5,233.9 286.2,232.7 286.8,233.2 287.5,232.7 288.2,234.0 288.8,235.7 289.5,234.1 290.2,234.9 290.8,237.3 291.5,240.1 292.2,236.7 292.8,234.0 293.5,235.0 294.1,234.9 294.8,233.6 295.5,234.5 296.1,234.8 296.8,233.0 297.5,234.4 298.1,234.7 298.8,236.0 299.5,237.5 300.1,237.8 300.8,235.8 301.5,232.4 302.1,228.5 302.8,226.3 303.5,226.7 304.1,226.9 304.8,229.2 305.4,228.3 306.1,224.1 306.8,224.4 307.4,224.6 308.1,222.8 308.8,219.8 309.4,221.0 310.1,221.7 310.8,221.1 311.4,220.9 312.1,221.6 312.8,221.0 313.4,219.4 314.1,219.7 314.8,219.3 315.4,220.0 316.1,217.9 316.7,222.2 317.4,221.0 318.1,220.6 318.7,218.5 319.4,219.4 320.1,217.4 320.7,218.4 321.4,218.0 322.1,220.1 322.7,217.7 323.4,216.7 324.1,215.0 324.7,217.6 325.4,214.3 326.1,213.8 326.7,211.8 327.4,211.4 328.0,212.8 328.7,213.4 329.4,214.4 330.0,214.2 330.7,212.7 331.4,212.1 332.0,210.3 332.7,210.8 333.4,211.3 334.0,211.3 334.7,212.3 335.4,212.2 336.0,213.6 336.7,216.4 337.4,212.8 338.0,214.3 338.7,214.6 339.3,214.6 340.0,212.6 340.7,213.0 341.3,214.7 342.0,215.4 342.7,214.8 343.3,215.2 344.0,215.4 344.7,216.7 345.3,216.8 346.0,215.0 346.7,214.2 347.3,215.5 348.0,217.8 348.7,217.6 349.3,218.5 350.0,215.2 350.6,212.3 351.3,211.7 352.0,211.1 352.6,211.0 353.3,206.1 354.0,205.0 354.6,202.8 355.3,202.8 356.0,203.8 356.6,205.7 357.3,204.1 358.0,208.2 358.6,206.7 359.3,208.9 359.9,212.0 360.6,212.6 361.3,213.6 361.9,211.8 362.6,213.2 363.3,213.2 363.9,211.4 364.6,213.2 365.3,212.2 365.9,210.9 366.6,213.1 367.3,215.3 367.9,219.7 368.6,222.3 369.3,220.1 369.9,219.7 370.6,217.6 371.2,217.4 371.9,216.4 372.6,218.0 373.2,220.2 373.9,219.2 374.6,217.5 375.2,218.5 375.9,219.8 376.6,220.7 377.2,222.2 377.9,222.2 378.6,221.7 379.2,217.8 379.9,220.1 380.6,218.3 381.2,217.4 381.9,212.7 382.5,215.4 383.2,220.8 383.9,218.7 384.5,222.4 385.2,224.0 385.9,224.0 386.5,222.4 387.2,225.9 387.9,227.3 388.5,228.6 389.2,229.1 389.9,228.6 390.5,232.4 391.2,232.0 391.9,236.1 392.5,233.3 393.2,232.2 393.8,229.3 394.5,232.7 395.2,230.4 395.8,228.4 396.5,229.9 397.2,230.9 397.8,236.9 398.5,242.5 399.2,245.7 399.8,246.9 400.5,242.1 401.2,238.5 401.8,237.4 402.5,238.2 403.2,238.8 403.8,240.4 404.5,241.2 405.1,244.0 405.8,244.9 406.5,245.4 407.1,246.1 407.8,249.9 408.5,250.2 409.1,252.0 409.8,247.8 410.5,249.5 411.1,250.3 411.8,251.9 412.5,252.0 413.1,252.6 413.8,255.2 414.5,255.0 415.1,252.4 415.8,251.9 416.4,254.0 417.1,254.8 417.8,253.3 418.4,251.0 419.1,249.9 419.8,246.8 420.4,247.0 421.1,243.6 421.8,242.3 422.4,239.8 423.1,242.3 423.8,244.5 424.4,242.9 425.1,245.1 425.8,246.6 426.4,242.9 427.1,240.6 427.7,240.2 428.4,238.6 429.1,242.4 429.7,244.4 430.4,247.0 431.1,245.5 431.7,242.9 432.4,243.1 433.1,245.9 433.7,247.9 434.4,246.9 435.1,243.2 435.7,240.6 436.4,239.8 437.1,239.1 437.7,239.3 438.4,238.0 439.0,238.8 439.7,238.7 440.4,240.8 441.0,242.1 441.7,240.8 442.4,242.9 443.0,242.7 443.7,240.9 444.4,237.9 445.0,235.0 445.7,232.7 446.4,228.4 447.0,230.0 447.7,233.7 448.4,233.9 449.0,236.5 449.7,237.4 450.3,238.3 451.0,238.1 451.7,238.6 452.3,241.0 453.0,237.5 453.7,240.2 454.3,241.6 455.0,238.8 455.7,241.4 456.3,241.3 457.0,241.7 457.7,242.3 458.3,243.3 459.0,243.3 459.6,243.4 460.3,243.0 461.0,246.5 461.6,251.5 462.3,252.0 463.0,251.7 463.6,250.7 464.3,249.4 465.0,247.4 465.6,247.3 466.3,253.5 467.0,257.7 467.6,254.7 468.3,251.4 469.0,249.6 469.6,250.0 470.3,251.3 470.9,250.5 471.6,248.1 472.3,248.5 472.9,249.2 473.6,248.5 474.3,248.0 474.9,250.5 475.6,251.4 476.3,248.5 476.9,249.0 477.6,246.8 478.3,251.2 478.9,251.5 479.6,250.6 480.3,250.0 480.9,253.1 481.6,248.6 482.2,249.9 482.9,255.0 483.6,252.6 484.2,253.0 484.9,251.5 485.6,254.4 486.2,250.2 486.9,246.1 487.6,243.8 488.2,244.7 488.9,246.0 489.6,246.6 490.2,246.7 490.9,247.1 491.6,248.0 492.2,246.1 492.9,244.6 493.5,248.5 494.2,250.3 494.9,249.0 495.5,247.2 496.2,247.0 496.9,244.7 497.5,247.9 498.2,246.4 498.9,244.7 499.5,247.2 500.2,240.9 500.9,242.5 501.5,240.2 502.2,240.4 502.9,239.1 503.5,237.9 504.2,237.4 504.8,235.5 505.5,234.4 506.2,232.9 506.8,234.3 507.5,233.2 508.2,233.8 508.8,228.0 509.5,226.6 510.2,224.9 510.8,225.4 511.5,229.7 512.2,231.3 512.8,227.6 513.5,226.4 514.2,219.5 514.8,221.3 515.5,223.0 516.1,220.0 516.8,218.1 517.5,216.2 518.1,221.7 518.8,222.3 519.5,226.3 520.1,227.6 520.8,224.2 521.5,221.4 522.1,223.2 522.8,223.0 523.5,222.0 524.1,219.5 524.8,215.8 525.5,215.7 526.1,215.1 526.8,213.5 527.4,213.9 528.1,219.3 528.8,223.0 529.4,222.2 530.1,220.3 530.8,219.8 531.4,222.1 532.1,223.0 532.8,222.9 533.4,225.1 534.1,229.9 534.8,238.0 535.4,238.8 536.1,238.6 536.8,242.4 537.4,242.7 538.1,241.2 538.7,244.6 539.4,245.5 540.1,243.9 540.7,238.4 541.4,237.9 542.1,236.3 542.7,239.0 543.4,236.6 544.1,234.0 544.7,228.6 545.4,225.5 546.1,222.1 546.7,221.1 547.4,222.1 548.1,219.8 548.7,216.2 549.4,217.6 550.0,215.7 550.7,213.9 551.4,213.0 552.0,213.1 552.7,212.2 553.4,209.1 554.0,207.2 554.7,201.4 555.4,196.9 556.0,194.0 556.7,192.8 557.4,191.8 558.0,190.8 558.7,189.6 559.3,189.3 560.0,187.9 560.7,190.5 561.3,194.1 562.0,193.6 562.7,196.0 563.3,196.2 564.0,196.1 564.7,192.1 565.3,192.3 566.0,194.6 566.7,201.3 567.3,201.3 568.0,200.9 568.7,201.1 569.3,204.1 570.0,209.0 570.6,204.9 571.3,198.9 572.0,200.8 572.6,201.6 573.3,199.9 574.0,199.8 574.6,199.4 575.3,193.3 576.0,192.2 576.6,192.9 577.3,189.3 578.0,186.7 578.6,187.6 579.3,185.6 580.0,180.5 580.6,176.8 581.3,174.4 581.9,177.0 582.6,175.2 583.3,176.6 583.9,170.6 584.6,167.3 585.3,165.0 585.9,166.3 586.6,170.3 587.3,176.3 587.9,179.6 588.6,177.8 589.3,174.5 589.9,172.4 590.6,170.2 591.3,165.8 591.9,163.2 592.6,160.6 593.2,163.3 593.9,166.4 594.6,169.0 595.2,168.9 595.9,168.3 596.6,166.0 597.2,166.2 597.9,169.0 598.6,174.4 599.2,174.6 599.9,183.2 600.6,185.1 601.2,191.6 601.9,197.4 602.6,196.1 603.2,198.0 603.9,202.3 604.5,198.5 605.2,201.6 605.9,202.3 606.5,204.1 607.2,207.8 607.9,205.4 608.5,207.7 609.2,207.5 609.9,209.6 610.5,213.0 611.2,220.3 611.9,217.9 612.5,216.5 613.2,214.9 613.9,211.9 614.5,210.0 615.2,211.1 615.8,208.8 616.5,208.2 617.2,205.6 617.8,209.7 618.5,204.9 619.2,203.6 619.8,203.8 620.5,208.2 621.2,211.8 621.8,214.8 622.5,221.4 623.2,221.7 623.8,216.0 624.5,209.4 625.2,208.5 625.8,207.8 626.5,204.4 627.1,199.6 627.8,194.9 628.5,198.9 629.1,197.8 629.8,196.5 630.5,197.5 631.1,203.1 631.8,206.1 632.5,201.8 633.1,199.8 633.8,196.4 634.5,195.7 635.1,194.8 635.8,195.6 636.5,194.6 637.1,195.2 637.8,196.5 638.4,196.1 639.1,197.1 639.8,200.4 640.4,204.6 641.1,208.8 641.8,210.7 642.4,206.3 643.1,205.2 643.8,204.8 644.4,206.6 645.1,204.9 645.8,202.1 646.4,197.9 647.1,200.2 647.7,201.5 648.4,201.3 649.1,205.2 649.7,208.1 650.4,210.6 651.1,208.8 651.7,208.2 652.4,209.5 653.1,212.7 653.7,213.8 654.4,218.4 655.1,218.8 655.7,217.7 656.4,214.9 657.1,215.4 657.7,217.1 658.4,218.8 659.0,222.9 659.7,220.9 660.4,219.9 661.0,221.4 661.7,223.5 662.4,219.8 663.0,216.3 663.7,217.8 664.4,218.4 665.0,219.6 665.7,214.7 666.4,217.6 667.0,217.8 667.7,218.8 668.4,216.3 669.0,212.7 669.7,211.0 670.3,212.4 671.0,217.4 671.7,216.2 672.3,217.7 673.0,216.9 673.7,216.9 674.3,211.6 675.0,208.0 675.7,207.3 676.3,204.2 677.0,198.2 677.7,196.5 678.3,198.0 679.0,195.6 679.7,191.0 680.3,188.9 681.0,185.3 681.6,186.0 682.3,183.1 683.0,178.3 683.6,175.8 684.3,181.0 685.0,182.3 685.6,184.4 686.3,185.3 687.0,184.5 687.6,188.6 688.3,191.4 689.0,192.4 689.6,187.6 690.3,182.0 691.0,173.8 691.6,171.9 692.3,169.8 692.9,173.8 693.6,179.3 694.3,181.5 694.9,180.4 695.6,179.9 696.3,181.1 696.9,178.2 697.6,177.7 698.3,177.4 698.9,179.8 699.6,184.6 700.3,183.5 700.9,183.2 701.6,187.7 702.3,192.9 702.9,192.5 703.6,191.4 704.2,188.2 704.9,184.3 705.6,180.5 706.2,182.7 706.9,186.0 707.6,191.1 708.2,195.4 708.9,199.1 709.6,200.7 710.2,201.5 710.9,208.1 711.6,208.9 712.2,211.6 712.9,216.3 713.6,215.3 714.2,215.1 714.9,215.0 715.5,210.5 716.2,206.4 716.9,206.0 717.5,211.1 718.2,214.5 718.9,214.7 719.5,213.0 720.2,207.9 720.9,207.6 721.5,208.3 722.2,205.4 722.9,205.7 723.5,205.7 724.2,205.2 724.9,203.5 725.5,200.7 726.2,198.6 726.8,200.5 727.5,204.2 728.2,206.9 728.8,206.8 729.5,206.5 730.2,213.8 730.8,213.0 731.5,218.1 732.2,219.6 732.8,221.8 733.5,223.1 734.2,226.4 734.8,227.3 735.5,226.8 736.2,227.4 736.8,226.4 737.5,231.1 738.1,236.4 738.8,230.5 739.5,227.8 740.1,227.4 740.8,226.8 741.5,227.1 742.1,227.5 742.8,227.8 743.5,227.7 744.1,228.5 744.8,226.9 745.5,227.2 746.1,225.7 746.8,227.4 747.4,225.1 748.1,226.3 748.8,229.5 749.4,230.5 750.1,228.2 750.8,227.3 751.4,226.4 752.1,224.5 752.8,226.3 753.4,226.7 754.1,222.1 754.8,223.4 755.4,223.3 756.1,222.8 756.8,228.7 757.4,230.3 758.1,229.1 758.7,226.5 759.4,225.9 760.1,225.5 760.7,225.7 761.4,225.1 762.1,226.3 762.7,233.9 763.4,236.2 764.1,241.5 764.7,243.0 765.4,244.1 766.1,243.2 766.7,245.0 767.4,247.6 768.1,250.8 768.7,253.5 769.4,252.8 770.0,255.3 770.7,258.0 771.4,260.3 772.0,260.7 772.7,260.5 773.4,263.5 774.0,262.2 774.7,260.8 775.4,261.8 776.0,265.9 776.7,268.3 777.4,267.9 778.0,267.5 778.7,267.7 779.4,269.3 780.0,269.6 780.7,264.2 781.3,259.9 782.0,253.6 782.7,256.8 783.3,260.7 784.0,264.4 784.7,263.7 785.3,264.0 786.0,261.8" fill="none" stroke="#f37651" stroke-width="3.9" stroke-linejoin="round"/>
<path d="M122.0,228.6 122.7,228.8 123.3,229.8 124.0,230.6 124.7,230.9 125.3,230.9 126.0,230.4 126.7,230.5 127.3,231.2 128.0,230.6 128.6,229.3 129.3,228.9 130.0,227.8 130.6,228.0 131.3,227.9 132.0,228.5 132.6,228.7 133.3,229.1 134.0,230.8 134.6,230.0 135.3,228.9 136.0,228.7 136.6,228.3 137.3,227.9 138.0,227.3 138.6,228.2 139.3,228.9 139.9,227.4 140.6,226.9 141.3,226.2 141.9,226.4 142.6,225.6 143.3,226.0 143.9,228.4 144.6,228.8 145.3,228.9 145.9,229.0 146.6,229.1 147.3,228.4 147.9,226.9 148.6,228.2 149.3,228.6 149.9,228.7 150.6,230.3 151.2,230.6 151.9,229.4 152.6,228.5 153.2,228.2 153.9,227.6 154.6,226.6 155.2,228.2 155.9,230.0 156.6,230.9 157.2,230.6 157.9,230.3 158.6,230.9 159.2,230.0 159.9,230.8 160.6,231.2 161.2,233.0 161.9,234.2 162.5,233.7 163.2,233.8 163.9,236.0 164.5,236.5 165.2,237.4 165.9,237.6 166.5,238.5 167.2,239.0 167.9,238.9 168.5,238.6 169.2,239.1 169.9,240.7 170.5,241.5 171.2,240.1 171.8,241.1 172.5,240.8 173.2,239.9 173.8,240.7 174.5,240.8 175.2,241.0 175.8,240.7 176.5,241.2 177.2,241.6 177.8,241.2 178.5,243.1 179.2,243.6 179.8,246.0 180.5,247.3 181.2,248.7 181.8,249.5 182.5,250.8 183.1,251.0 183.8,250.7 184.5,252.2 185.1,250.5 185.8,250.2 186.5,250.2 187.1,249.1 187.8,251.3 188.5,253.0 189.1,254.9 189.8,254.4 190.5,255.4 191.1,254.3 191.8,254.7 192.5,255.5 193.1,256.2 193.8,258.0 194.4,258.8 195.1,257.6 195.8,258.1 196.4,258.2 197.1,256.8 197.8,258.0 198.4,260.1 199.1,259.2 199.8,258.4 200.4,256.9 201.1,257.2 201.8,257.9 202.4,258.6 203.1,257.8 203.8,255.9 204.4,253.2 205.1,250.1 205.7,248.4 206.4,246.1 207.1,245.6 207.7,246.3 208.4,247.2 209.1,246.6 209.7,244.8 210.4,244.4 211.1,246.0 211.7,246.2 212.4,246.5 213.1,245.5 213.7,244.8 214.4,244.1 215.1,242.7 215.7,243.9 216.4,242.6 217.0,243.0 217.7,241.3 218.4,242.5 219.0,243.1 219.7,242.0 220.4,241.9 221.0,241.3 221.7,242.1 222.4,243.5 223.0,247.0 223.7,245.6 224.4,246.3 225.0,245.1 225.7,244.5 226.4,244.8 227.0,244.4 227.7,243.9 228.3,241.9 229.0,241.0 229.7,241.3 230.3,244.0 231.0,242.2 231.7,240.9 232.3,238.9 233.0,237.5 233.7,236.8 234.3,237.0 235.0,238.8 235.7,238.9 236.3,236.0 237.0,234.6 237.7,232.3 238.3,232.6 239.0,233.7 239.6,234.1 240.3,234.7 241.0,234.7 241.6,231.6 242.3,227.1 243.0,224.4 243.6,223.6 244.3,225.7 245.0,225.8 245.6,225.7 246.3,225.2 247.0,224.9 247.6,223.6 248.3,220.7 249.0,222.8 249.6,224.0 250.3,225.5 250.9,224.4 251.6,224.6 252.3,222.5 252.9,220.2 253.6,220.2 254.3,219.5 254.9,220.6 255.6,223.4 256.3,224.5 256.9,227.8 257.6,228.0 258.3,229.7 258.9,228.5 259.6,228.9 260.3,230.0 260.9,230.9 261.6,231.2 262.2,226.1 262.9,224.2 263.6,221.5 264.2,221.2 264.9,220.8 265.6,219.6 266.2,218.6 266.9,217.0 267.6,217.2 268.2,215.2 268.9,213.4 269.6,209.0 270.2,209.5 270.9,209.7 271.5,213.1 272.2,213.7 272.9,215.2 273.5,215.5 274.2,217.0 274.9,216.9 275.5,218.6 276.2,220.1 276.9,222.3 277.5,225.5 278.2,224.6 278.9,226.0 279.5,225.7 280.2,222.7 280.9,223.8 281.5,224.0 282.2,228.5 282.8,228.9 283.5,230.2 284.2,230.4 284.8,227.6 285.5,227.6 286.2,225.5 286.8,227.3 287.5,230.3 288.2,230.3 288.8,227.5 289.5,227.1 290.2,226.7 290.8,227.8 291.5,227.8 292.2,226.8 292.8,226.8 293.5,226.0 294.1,230.2 294.8,231.8 295.5,232.2 296.1,233.7 296.8,232.2 297.5,232.3 298.1,231.6 298.8,230.7 299.5,231.0 300.1,234.4 300.8,234.9 301.5,232.0 302.1,230.0 302.8,231.0 303.5,230.6 304.1,231.3 304.8,231.6 305.4,230.8 306.1,228.4 306.8,225.8 307.4,223.4 308.1,223.2 308.8,222.4 309.4,225.5 310.1,226.7 310.8,226.6 311.4,228.4 312.1,228.2 312.8,230.0 313.4,231.5 314.1,232.0 314.8,230.9 315.4,230.2 316.1,232.9 316.7,232.2 317.4,230.6 318.1,229.0 318.7,230.3 319.4,235.1 320.1,236.0 320.7,239.7 321.4,241.5 322.1,241.2 322.7,240.7 323.4,237.0 324.1,237.6 324.7,237.5 325.4,235.7 326.1,237.2 326.7,238.5 327.4,240.5 328.0,239.3 328.7,238.6 329.4,237.1 330.0,237.0 330.7,239.3 331.4,236.4 332.0,237.0 332.7,236.6 333.4,238.5 334.0,238.8 334.7,237.6 335.4,237.8 336.0,235.1 336.7,232.4 337.4,230.8 338.0,228.6 338.7,227.4 339.3,223.8 340.0,229.1 340.7,233.2 341.3,235.0 342.0,232.8 342.7,227.9 343.3,226.1 344.0,225.5 344.7,229.3 345.3,231.4 346.0,229.9 346.7,231.2 347.3,233.2 348.0,231.7 348.7,233.2 349.3,232.0 350.0,229.6 350.6,226.5 351.3,226.3 352.0,228.1 352.6,226.3 353.3,223.7 354.0,227.2 354.6,223.7 355.3,226.6 356.0,223.4 356.6,223.6 357.3,227.9 358.0,226.6 358.6,225.7 359.3,229.3 359.9,228.1 360.6,228.5 361.3,229.2 361.9,232.6 362.6,235.3 363.3,236.0 363.9,235.4 364.6,235.8 365.3,236.6 365.9,239.7 366.6,240.4 367.3,245.2 367.9,244.4 368.6,246.6 369.3,250.6 369.9,254.1 370.6,256.3 371.2,255.9 371.9,255.1 372.6,254.8 373.2,255.7 373.9,257.6 374.6,257.8 375.2,258.5 375.9,259.5 376.6,260.9 377.2,259.2 377.9,260.5 378.6,259.8 379.2,259.7 379.9,267.8 380.6,267.8 381.2,267.9 381.9,266.1 382.5,264.7 383.2,261.1 383.9,261.9 384.5,261.5 385.2,264.2 385.9,260.3 386.5,260.7 387.2,263.0 387.9,259.6 388.5,262.6 389.2,261.8 389.9,265.5 390.5,269.4 391.2,270.2 391.9,272.2 392.5,272.6 393.2,275.7 393.8,279.5 394.5,279.9 395.2,280.8 395.8,282.3 396.5,285.6 397.2,282.0 397.8,282.2 398.5,280.3 399.2,280.2 399.8,281.6 400.5,281.6 401.2,283.1 401.8,278.1 402.5,274.7 403.2,270.9 403.8,271.9 404.5,272.0 405.1,271.0 405.8,266.0 406.5,263.7 407.1,261.1 407.8,260.7 408.5,259.8 409.1,261.8 409.8,262.6 410.5,258.9 411.1,257.8 411.8,254.4 412.5,254.2 413.1,255.2 413.8,253.9 414.5,257.1 415.1,257.9 415.8,254.3 416.4,251.9 417.1,248.5 417.8,245.1 418.4,245.8 419.1,246.6 419.8,247.2 420.4,247.9 421.1,247.3 421.8,244.5 422.4,243.4 423.1,242.5 423.8,237.4 424.4,239.0 425.1,243.7 425.8,246.6 426.4,248.3 427.1,257.9 427.7,260.7 428.4,263.5 429.1,269.6 429.7,274.3 430.4,276.2 431.1,275.8 431.7,272.2 432.4,273.4 433.1,268.3 433.7,268.6 434.4,269.7 435.1,266.4 435.7,269.0 436.4,263.8 437.1,262.4 437.7,257.2 438.4,253.9 439.0,250.2 439.7,254.2 440.4,255.8 441.0,258.6 441.7,259.2 442.4,258.8 443.0,256.6 443.7,252.8 444.4,251.7 445.0,251.0 445.7,251.0 446.4,249.2 447.0,249.1 447.7,252.0 448.4,252.8 449.0,257.0 449.7,258.6 450.3,257.9 451.0,256.4 451.7,256.3 452.3,257.7 453.0,258.5 453.7,261.2 454.3,258.0 455.0,253.5 455.7,255.4 456.3,256.5 457.0,258.6 457.7,265.2 458.3,266.9 459.0,265.4 459.6,264.7 460.3,262.6 461.0,264.0 461.6,259.8 462.3,255.0 463.0,249.5 463.6,249.7 464.3,250.3 465.0,246.1 465.6,246.4 466.3,243.7 467.0,245.2 467.6,242.9 468.3,243.0 469.0,240.2 469.6,238.6 470.3,239.1 470.9,239.9 471.6,238.4 472.3,235.4 472.9,239.8 473.6,242.5 474.3,242.3 474.9,242.3 475.6,238.4 476.3,238.2 476.9,242.6 477.6,243.5 478.3,247.5 478.9,245.3 479.6,247.0 480.3,245.2 480.9,246.1 481.6,250.2 482.2,255.3 482.9,255.9 483.6,252.6 484.2,249.1 484.9,248.4 485.6,245.6 486.2,249.8 486.9,249.5 487.6,249.0 488.2,246.9 488.9,247.4 489.6,243.8 490.2,244.9 490.9,245.7 491.6,245.1 492.2,240.8 492.9,241.9 493.5,240.5 494.2,239.8 494.9,241.5 495.5,241.8 496.2,244.8 496.9,242.7 497.5,243.2 498.2,242.9 498.9,242.4 499.5,242.2 500.2,243.3 500.9,247.5 501.5,249.2 502.2,246.4 502.9,247.2 503.5,249.8 504.2,250.7 504.8,250.9 505.5,250.8 506.2,251.5 506.8,250.3 507.5,252.4 508.2,250.0 508.8,255.0 509.5,255.5 510.2,254.3 510.8,257.9 511.5,259.4 512.2,261.3 512.8,258.9 513.5,263.7 514.2,265.2 514.8,260.4 515.5,262.9 516.1,264.9 516.8,264.5 517.5,263.9 518.1,259.2 518.8,259.3 519.5,257.7 520.1,256.0 520.8,257.4 521.5,255.6 522.1,252.1 522.8,249.1 523.5,248.7 524.1,250.3 524.8,248.6 525.5,246.5 526.1,248.2 526.8,247.8 527.4,247.8 528.1,252.7 528.8,249.8 529.4,247.8 530.1,241.1 530.8,239.1 531.4,239.9 532.1,242.8 532.8,241.8 533.4,246.5 534.1,250.6 534.8,250.5 535.4,255.2 536.1,254.3 536.8,252.2 537.4,251.8 538.1,247.8 538.7,251.9 539.4,256.4 540.1,257.0 540.7,258.9 541.4,260.5 542.1,266.4 542.7,266.9 543.4,266.0 544.1,262.2 544.7,261.7 545.4,257.6 546.1,259.0 546.7,262.9 547.4,267.1 548.1,268.2 548.7,272.7 549.4,273.0 550.0,273.3 550.7,273.9 551.4,268.1 552.0,263.0 552.7,265.7 553.4,265.4 554.0,263.3 554.7,263.5 555.4,262.3 556.0,259.1 556.7,257.5 557.4,257.5 558.0,257.9 558.7,259.8 559.3,257.4 560.0,257.9 560.7,262.8 561.3,264.1 562.0,267.5 562.7,269.3 563.3,268.4 564.0,270.5 564.7,268.1 565.3,267.5 566.0,271.3 566.7,277.0 567.3,278.1 568.0,278.5 568.7,278.2 569.3,279.2 570.0,272.1 570.6,268.1 571.3,265.3 572.0,264.8 572.6,261.8 573.3,262.1 574.0,263.0 574.6,259.5 575.3,255.0 576.0,249.6 576.6,248.7 577.3,253.1 578.0,259.1 578.6,261.4 579.3,260.8 580.0,259.2 580.6,260.2 581.3,260.1 581.9,261.1 582.6,263.3 583.3,264.3 583.9,264.3 584.6,262.7 585.3,262.0 585.9,262.3 586.6,261.5 587.3,258.4 587.9,255.8 588.6,258.4 589.3,257.8 589.9,257.8 590.6,256.2 591.3,252.6 591.9,248.4 592.6,247.0 593.2,247.7 593.9,251.3 594.6,250.7 595.2,250.8 595.9,253.4 596.6,253.1 597.2,255.1 597.9,258.2 598.6,257.8 599.2,259.0 599.9,259.8 600.6,263.4 601.2,263.8 601.9,263.6 602.6,266.6 603.2,264.7 603.9,263.0 604.5,261.9 605.2,260.4 605.9,262.9 606.5,265.9 607.2,267.6 607.9,267.9 608.5,265.8 609.2,265.7 609.9,266.2 610.5,265.3 611.2,268.1 611.9,271.2 612.5,272.5 613.2,273.7 613.9,274.4 614.5,274.5 615.2,272.6 615.8,275.9 616.5,274.0 617.2,275.3 617.8,276.4 618.5,277.1 619.2,277.8 619.8,279.4 620.5,282.5 621.2,287.4 621.8,290.3 622.5,289.6 623.2,292.5 623.8,298.1 624.5,304.2 625.2,308.2 625.8,310.9 626.5,315.6 627.1,315.6 627.8,318.9 628.5,318.2 629.1,318.6 629.8,323.2 630.5,325.3 631.1,330.1 631.8,334.6 632.5,336.2 633.1,340.0 633.8,342.7 634.5,345.4 635.1,347.2 635.8,350.5 636.5,353.3 637.1,355.7 637.8,354.4 638.4,354.1 639.1,349.3 639.8,350.1 640.4,347.7 641.1,351.3 641.8,347.4 642.4,343.9 643.1,342.2 643.8,341.5 644.4,340.1 645.1,341.7 645.8,339.8 646.4,338.6 647.1,337.1 647.7,339.8 648.4,339.3 649.1,338.6 649.7,334.0 650.4,334.8 651.1,333.2 651.7,333.7 652.4,334.6 653.1,331.0 653.7,329.4 654.4,331.0 655.1,333.2 655.7,335.9 656.4,335.2 657.1,335.6 657.7,334.8 658.4,339.4 659.0,341.2 659.7,338.1 660.4,335.6 661.0,330.0 661.7,320.1 662.4,322.3 663.0,326.0 663.7,323.1 664.4,320.4 665.0,317.8 665.7,314.5 666.4,311.0 667.0,308.9 667.7,308.6 668.4,305.9 669.0,305.7 669.7,302.8 670.3,299.3 671.0,297.1 671.7,292.6 672.3,294.8 673.0,290.1 673.7,289.0 674.3,289.1 675.0,290.0 675.7,290.5 676.3,291.9 677.0,287.6 677.7,283.7 678.3,281.5 679.0,278.5 679.7,276.5 680.3,279.6 681.0,278.4 681.6,278.5 682.3,277.6 683.0,277.8 683.6,278.9 684.3,279.3 685.0,280.2 685.6,279.0 686.3,278.3 687.0,279.4 687.6,275.2 688.3,276.5 689.0,274.5 689.6,276.9 690.3,277.9 691.0,278.1 691.6,274.9 692.3,279.6 692.9,279.1 693.6,276.9 694.3,279.0 694.9,279.3 695.6,283.3 696.3,284.5 696.9,285.1 697.6,286.3 698.3,289.1 698.9,285.2 699.6,282.4 700.3,280.9 700.9,282.0 701.6,286.3 702.3,288.3 702.9,294.6 703.6,300.8 704.2,299.6 704.9,300.2 705.6,303.1 706.2,303.5 706.9,301.2 707.6,298.2 708.2,300.0 708.9,302.9 709.6,300.4 710.2,299.4 710.9,296.3 711.6,293.9 712.2,292.9 712.9,292.0 713.6,293.4 714.2,300.0 714.9,303.1 715.5,304.0 716.2,306.1 716.9,305.0 717.5,304.9 718.2,308.9 718.9,308.8 719.5,311.3 720.2,314.0 720.9,316.7 721.5,318.3 722.2,320.5 722.9,319.1 723.5,321.4 724.2,323.0 724.9,327.8 725.5,327.7 726.2,326.9 726.8,322.8 727.5,321.8 728.2,320.1 728.8,321.2 729.5,319.1 730.2,317.4 730.8,317.4 731.5,317.9 732.2,318.0 732.8,312.6 733.5,308.6 734.2,307.1 734.8,310.6 735.5,312.7 736.2,314.0 736.8,315.3 737.5,312.5 738.1,313.7 738.8,315.9 739.5,313.9 740.1,316.9 740.8,312.2 741.5,310.5 742.1,310.7 742.8,312.6 743.5,312.6 744.1,306.9 744.8,305.0 745.5,302.1 746.1,306.1 746.8,307.4 747.4,308.1 748.1,305.5 748.8,304.0 749.4,299.3 750.1,296.4 750.8,295.9 751.4,291.6 752.1,289.2 752.8,283.6 753.4,280.4 754.1,281.5 754.8,283.1 755.4,281.8 756.1,280.1 756.8,277.8 757.4,277.4 758.1,276.2 758.7,276.8 759.4,273.1 760.1,266.3 760.7,265.8 761.4,265.6 762.1,265.5 762.7,268.1 763.4,266.7 764.1,267.9 764.7,269.0 765.4,272.5 766.1,272.0 766.7,273.4 767.4,275.2 768.1,273.3 768.7,268.3 769.4,267.6 770.0,260.9 770.7,256.6 771.4,251.9 772.0,250.8 772.7,249.8 773.4,249.7 774.0,249.9 774.7,246.5 775.4,245.4 776.0,244.1 776.7,245.7 777.4,243.8 778.0,241.2 778.7,240.3 779.4,242.4 780.0,238.7 780.7,239.5 781.3,240.9 782.0,238.7 782.7,238.8 783.3,241.6 784.0,240.2 784.7,239.0 785.3,243.3 786.0,244.5" fill="none" stroke="#f6b48f" stroke-width="3.9" stroke-linejoin="round"/>
<path d="M881.0,443.6 881.7,441.0 882.3,438.1 883.0,434.8 883.7,432.8 884.3,430.6 885.0,428.1 885.7,423.7 886.3,422.6 887.0,421.3 887.7,420.8 888.3,419.4 889.0,421.9 889.7,421.4 890.3,421.9 891.0,420.8 891.7,419.3 892.3,416.4 893.0,415.2 893.6,416.9 894.3,421.7 895.0,424.7 895.6,427.9 896.3,430.7 897.0,435.4 897.6,432.6 898.3,428.4 899.0,427.1 899.6,421.6 900.3,419.0 901.0,416.5 901.6,415.4 902.3,413.9 903.0,417.1 903.6,421.8 904.3,418.0 905.0,416.1 905.6,417.7 906.3,424.1 907.0,426.3 907.6,426.3 908.3,428.4 909.0,431.4 909.6,432.3 910.3,435.3 911.0,442.9 911.6,440.8 912.3,437.8 913.0,443.0 913.6,447.5 914.3,443.3 914.9,442.3 915.6,441.8 916.3,443.2 916.9,440.9 917.6,438.2 918.3,434.0 918.9,433.0 919.6,432.0 920.3,435.3 920.9,435.9 921.6,431.3 922.3,431.0 922.9,431.6 923.6,430.1 924.3,430.9 924.9,430.8 925.6,432.8 926.3,431.3 926.9,433.7 927.6,431.7 928.3,434.6 928.9,431.1 929.6,426.5 930.3,427.5 930.9,427.9 931.6,428.6 932.3,430.2 932.9,430.8 933.6,429.4 934.3,429.9 934.9,432.1 935.6,435.2 936.3,442.4 936.9,442.0 937.6,442.8 938.2,442.2 938.9,439.1 939.6,434.9 940.2,433.3 940.9,436.7 941.6,436.1 942.2,438.0 942.9,432.2 943.6,428.4 944.2,421.5 944.9,414.5 945.6,409.6 946.2,405.5 946.9,407.7 947.6,406.1 948.2,406.9 948.9,409.2 949.6,410.9 950.2,410.4 950.9,409.2 951.6,406.2 952.2,404.2 952.9,403.0 953.6,403.5 954.2,405.1 954.9,402.6 955.6,400.4 956.2,398.3 956.9,393.8 957.6,391.0 958.2,389.0 958.9,394.1 959.5,395.9 960.2,396.0 960.9,397.2 961.5,392.2 962.2,390.0 962.9,390.5 963.5,393.4 964.2,394.9 964.9,394.3 965.5,391.3 966.2,390.4 966.9,388.6 967.5,389.4 968.2,391.1 968.9,394.7 969.5,395.3 970.2,400.7 970.9,401.1 971.5,398.8 972.2,396.9 972.9,398.9 973.5,406.0 974.2,411.7 974.9,411.6 975.5,412.3 976.2,412.4 976.9,411.3 977.5,412.4 978.2,412.9 978.9,414.9 979.5,413.3 980.2,415.1 980.8,416.0 981.5,417.0 982.2,414.3 982.8,414.9 983.5,411.3 984.2,409.6 984.8,407.2 985.5,406.0 986.2,404.9 986.8,406.1 987.5,406.4 988.2,407.6 988.8,406.4 989.5,405.7 990.2,404.8 990.8,410.3 991.5,411.8 992.2,417.5 992.8,417.6 993.5,417.9 994.2,419.9 994.8,415.5 995.5,417.9 996.2,419.3 996.8,418.4 997.5,414.9 998.2,418.9 998.8,416.3 999.5,411.7 1000.2,409.7 1000.8,410.1 1001.5,411.8 1002.2,417.8 1002.8,418.5 1003.5,421.8 1004.1,422.9 1004.8,426.1 1005.5,423.4 1006.1,426.1 1006.8,424.6 1007.5,426.1 1008.1,421.8 1008.8,425.4 1009.5,427.3 1010.1,429.2 1010.8,427.0 1011.5,429.3 1012.1,431.3 1012.8,430.5 1013.5,428.7 1014.1,429.6 1014.8,436.2 1015.5,439.7 1016.1,442.8 1016.8,443.4 1017.5,443.8 1018.1,446.3 1018.8,447.3 1019.5,451.4 1020.1,451.5 1020.8,453.4 1021.5,452.8 1022.1,456.6 1022.8,456.4 1023.5,455.7 1024.1,455.6 1024.8,452.6 1025.4,450.5 1026.1,452.3 1026.8,455.3 1027.4,455.3 1028.1,456.8 1028.8,457.6 1029.4,455.2 1030.1,450.6 1030.8,446.9 1031.4,447.9 1032.1,445.2 1032.8,441.1 1033.4,440.7 1034.1,442.4 1034.8,442.3 1035.4,441.1 1036.1,443.5 1036.8,438.9 1037.4,435.7 1038.1,429.2 1038.8,425.2 1039.4,421.0 1040.1,418.9 1040.8,415.1 1041.4,411.2 1042.1,408.8 1042.8,404.0 1043.4,407.8 1044.1,401.7 1044.8,399.3 1045.4,399.4 1046.1,396.3 1046.8,397.8 1047.4,397.0 1048.1,392.7 1048.7,385.5 1049.4,388.2 1050.1,388.3 1050.7,387.4 1051.4,389.4 1052.1,388.5 1052.7,391.3 1053.4,389.9 1054.1,390.2 1054.7,385.8 1055.4,384.2 1056.1,382.5 1056.7,383.9 1057.4,387.3 1058.1,389.6 1058.7,392.7 1059.4,397.6 1060.1,398.7 1060.7,394.6 1061.4,392.2 1062.1,390.8 1062.7,390.1 1063.4,389.2 1064.1,389.0 1064.7,388.1 1065.4,391.0 1066.1,388.6 1066.7,391.6 1067.4,394.2 1068.1,397.5 1068.7,399.7 1069.4,398.2 1070.0,395.2 1070.7,392.8 1071.4,386.5 1072.0,384.7 1072.7,383.6 1073.4,386.9 1074.0,387.3 1074.7,389.2 1075.4,390.7 1076.0,391.6 1076.7,393.3 1077.4,394.4 1078.0,394.5 1078.7,395.5 1079.4,394.1 1080.0,392.5 1080.7,390.7 1081.4,390.5 1082.0,389.4 1082.7,386.2 1083.4,385.8 1084.0,387.9 1084.7,389.4 1085.4,387.9 1086.0,386.4 1086.7,382.6 1087.4,380.6 1088.0,382.2 1088.7,380.4 1089.4,385.2 1090.0,387.4 1090.7,385.4 1091.4,384.7 1092.0,379.4 1092.7,375.5 1093.3,375.3 1094.0,375.6 1094.7,375.4 1095.3,372.1 1096.0,377.3 1096.7,379.7 1097.3,381.3 1098.0,382.6 1098.7,383.6 1099.3,383.1 1100.0,381.2 1100.7,376.6 1101.3,381.3 1102.0,381.5 1102.7,379.5 1103.3,377.4 1104.0,372.6 1104.7,374.0 1105.3,371.7 1106.0,373.6 1106.7,377.0 1107.3,377.8 1108.0,377.0 1108.7,372.0 1109.3,370.6 1110.0,367.7 1110.7,368.4 1111.3,365.5 1112.0,369.0 1112.7,373.0 1113.3,376.0 1114.0,373.0 1114.6,374.8 1115.3,376.5 1116.0,377.7 1116.6,375.7 1117.3,378.1 1118.0,383.2 1118.6,382.9 1119.3,388.2 1120.0,387.4 1120.6,388.0 1121.3,388.4 1122.0,384.3 1122.6,381.4 1123.3,377.6 1124.0,375.3 1124.6,378.2 1125.3,378.1 1126.0,374.7 1126.6,371.4 1127.3,369.1 1128.0,370.4 1128.6,368.0 1129.3,368.0 1130.0,366.6 1130.6,362.8 1131.3,367.9 1132.0,368.9 1132.6,368.9 1133.3,367.6 1134.0,368.3 1134.6,368.6 1135.3,366.8 1135.9,367.6 1136.6,366.6 1137.3,365.0 1137.9,362.2 1138.6,360.9 1139.3,359.9 1139.9,360.3 1140.6,360.8 1141.3,359.6 1141.9,357.5 1142.6,354.4 1143.3,355.6 1143.9,356.9 1144.6,357.3 1145.3,354.4 1145.9,356.7 1146.6,357.0 1147.3,352.1 1147.9,348.2 1148.6,343.8 1149.3,343.1 1149.9,347.4 1150.6,346.0 1151.3,348.0 1151.9,345.8 1152.6,347.1 1153.3,347.3 1153.9,345.3 1154.6,345.8 1155.3,346.6 1155.9,346.6 1156.6,345.4 1157.3,345.9 1157.9,344.8 1158.6,339.8 1159.2,336.6 1159.9,335.1 1160.6,336.5 1161.2,338.6 1161.9,344.2 1162.6,347.2 1163.2,354.7 1163.9,356.8 1164.6,355.3 1165.2,355.0 1165.9,355.2 1166.6,352.6 1167.2,354.3 1167.9,355.9 1168.6,358.9 1169.2,357.6 1169.9,357.7 1170.6,357.4 1171.2,362.4 1171.9,368.6 1172.6,374.1 1173.2,372.3 1173.9,370.8 1174.6,370.6 1175.2,374.8 1175.9,371.9 1176.6,371.8 1177.2,377.9 1177.9,380.2 1178.6,376.1 1179.2,375.4 1179.9,377.3 1180.5,379.5 1181.2,380.4 1181.9,380.8 1182.5,385.9 1183.2,386.4 1183.9,387.8 1184.5,387.1 1185.2,385.0 1185.9,386.7 1186.5,383.9 1187.2,381.9 1187.9,377.4 1188.5,375.6 1189.2,377.9 1189.9,381.0 1190.5,384.3 1191.2,388.2 1191.9,393.4 1192.5,399.7 1193.2,401.7 1193.9,403.1 1194.5,400.0 1195.2,398.1 1195.9,391.1 1196.5,390.1 1197.2,386.5 1197.9,386.8 1198.5,385.8 1199.2,387.3 1199.9,388.0 1200.5,384.6 1201.2,384.8 1201.9,387.9 1202.5,393.1 1203.2,391.7 1203.8,392.1 1204.5,391.8 1205.2,393.3 1205.8,396.2 1206.5,396.8 1207.2,396.2 1207.8,398.7 1208.5,401.4 1209.2,405.6 1209.8,405.9 1210.5,407.8 1211.2,406.7 1211.8,408.0 1212.5,408.2 1213.2,409.2 1213.8,408.2 1214.5,409.0 1215.2,407.5 1215.8,406.1 1216.5,405.7 1217.2,409.0 1217.8,406.6 1218.5,406.1 1219.2,405.9 1219.8,407.4 1220.5,406.6 1221.2,406.8 1221.8,407.1 1222.5,411.9 1223.2,415.7 1223.8,412.6 1224.5,413.4 1225.1,414.3 1225.8,410.6 1226.5,410.4 1227.1,410.1 1227.8,409.9 1228.5,411.0 1229.1,408.4 1229.8,409.5 1230.5,412.2 1231.1,412.7 1231.8,412.3 1232.5,410.4 1233.1,409.6 1233.8,413.0 1234.5,415.2 1235.1,419.4 1235.8,419.5 1236.5,422.9 1237.1,422.6 1237.8,420.6 1238.5,418.6 1239.1,418.7 1239.8,419.9 1240.5,421.5 1241.1,427.0 1241.8,429.5 1242.5,432.3 1243.1,434.9 1243.8,434.8 1244.5,434.7 1245.1,437.2 1245.8,441.5 1246.5,445.5 1247.1,449.3 1247.8,448.8 1248.4,449.8 1249.1,448.5 1249.8,443.7 1250.4,439.4 1251.1,432.0 1251.8,429.8 1252.4,434.1 1253.1,439.1 1253.8,440.4 1254.4,444.8 1255.1,445.1 1255.8,449.5 1256.4,447.2 1257.1,448.4 1257.8,450.5 1258.4,450.9 1259.1,456.0 1259.8,454.5 1260.4,452.6 1261.1,449.7 1261.8,447.8 1262.4,448.9 1263.1,448.9 1263.8,450.4 1264.4,452.0 1265.1,448.2 1265.8,447.1 1266.4,442.6 1267.1,440.9 1267.8,442.5 1268.4,444.0 1269.1,447.6 1269.7,446.6 1270.4,449.3 1271.1,450.5 1271.7,451.7 1272.4,452.9 1273.1,453.4 1273.7,454.2 1274.4,459.9 1275.1,459.9 1275.7,460.9 1276.4,460.2 1277.1,458.6 1277.7,459.4 1278.4,457.3 1279.1,459.2 1279.7,461.0 1280.4,461.9 1281.1,463.4 1281.7,461.6 1282.4,459.4 1283.1,459.0 1283.7,458.1 1284.4,460.6 1285.1,458.0 1285.7,458.4 1286.4,459.4 1287.1,461.1 1287.7,458.6 1288.4,457.0 1289.1,454.9 1289.7,451.6 1290.4,448.3 1291.1,445.3 1291.7,446.9 1292.4,446.0 1293.0,444.6 1293.7,444.8 1294.4,444.8 1295.0,445.7 1295.7,445.6 1296.4,445.9 1297.0,447.3 1297.7,444.6 1298.4,445.5 1299.0,446.8 1299.7,442.3 1300.4,439.7 1301.0,438.0 1301.7,438.8 1302.4,437.8 1303.0,436.5 1303.7,437.3 1304.4,440.3 1305.0,441.5 1305.7,443.2 1306.4,440.4 1307.0,434.5 1307.7,430.0 1308.4,427.6 1309.0,426.1 1309.7,426.9 1310.4,427.2 1311.0,429.9 1311.7,431.0 1312.4,434.2 1313.0,433.5 1313.7,432.8 1314.3,433.9 1315.0,433.6 1315.7,433.5 1316.3,430.0 1317.0,425.2 1317.7,425.5 1318.3,426.5 1319.0,423.1 1319.7,420.2 1320.3,417.3 1321.0,416.4 1321.7,414.3 1322.3,411.9 1323.0,412.5 1323.7,411.4 1324.3,412.2 1325.0,411.3 1325.7,411.8 1326.3,412.4 1327.0,412.7 1327.7,411.3 1328.3,412.4 1329.0,413.6 1329.7,411.2 1330.3,410.9 1331.0,410.2 1331.7,412.8 1332.3,414.2 1333.0,413.3 1333.7,413.5 1334.3,413.9 1335.0,412.9 1335.6,416.0 1336.3,414.6 1337.0,412.7 1337.6,413.3 1338.3,415.9 1339.0,415.3 1339.6,418.0 1340.3,419.6 1341.0,419.2 1341.6,422.1 1342.3,423.5 1343.0,423.4 1343.6,419.2 1344.3,417.6 1345.0,414.7 1345.6,413.1 1346.3,408.7 1347.0,410.8 1347.6,413.5 1348.3,417.7 1349.0,412.3 1349.6,413.8 1350.3,414.6 1351.0,412.4 1351.6,413.3 1352.3,414.7 1353.0,417.3 1353.6,415.9 1354.3,416.8 1355.0,417.3 1355.6,417.7 1356.3,416.9 1357.0,417.8 1357.6,419.0 1358.3,416.2 1358.9,418.1 1359.6,416.6 1360.3,416.7 1360.9,417.8 1361.6,417.0 1362.3,415.6 1362.9,414.8 1363.6,415.5 1364.3,414.4 1364.9,412.3 1365.6,411.0 1366.3,410.1 1366.9,408.6 1367.6,407.5 1368.3,409.1 1368.9,409.8 1369.6,408.2 1370.3,407.2 1370.9,405.9 1371.6,404.1 1372.3,401.7 1372.9,399.8 1373.6,399.7 1374.3,396.4 1374.9,394.5 1375.6,394.3 1376.3,395.2 1376.9,396.4 1377.6,396.2 1378.3,398.5 1378.9,401.4 1379.6,404.7 1380.2,403.4 1380.9,401.4 1381.6,401.9 1382.2,399.9 1382.9,397.8 1383.6,397.3 1384.2,397.5 1384.9,396.2 1385.6,396.2 1386.2,395.9 1386.9,395.0 1387.6,396.1 1388.2,395.9 1388.9,396.8 1389.6,394.9 1390.2,392.8 1390.9,391.9 1391.6,393.3 1392.2,393.2 1392.9,394.1 1393.6,393.2 1394.2,393.0 1394.9,395.1 1395.6,394.8 1396.2,398.4 1396.9,401.4 1397.6,401.7 1398.2,399.7 1398.9,399.6 1399.6,397.9 1400.2,395.8 1400.9,392.7 1401.6,394.8 1402.2,395.7 1402.9,396.3 1403.5,395.8 1404.2,395.8 1404.9,395.4 1405.5,396.1 1406.2,394.8 1406.9,390.7 1407.5,390.5 1408.2,389.7 1408.9,389.2 1409.5,391.0 1410.2,390.7 1410.9,387.9 1411.5,390.9 1412.2,391.3 1412.9,389.1 1413.5,388.5 1414.2,389.2 1414.9,388.2 1415.5,388.6 1416.2,391.2 1416.9,392.1 1417.5,392.0 1418.2,392.6 1418.9,392.6 1419.5,393.3 1420.2,392.4 1420.9,389.7 1421.5,387.0 1422.2,388.9 1422.9,389.0 1423.5,387.1 1424.2,386.5 1424.8,388.2 1425.5,391.5 1426.2,392.6 1426.8,394.9 1427.5,397.3 1428.2,397.3 1428.8,396.5 1429.5,396.2 1430.2,396.2 1430.8,395.1 1431.5,393.0 1432.2,392.6 1432.8,393.8 1433.5,394.7 1434.2,393.8 1434.8,395.1 1435.5,393.4 1436.2,393.2 1436.8,391.3 1437.5,392.1 1438.2,392.0 1438.8,390.7 1439.5,390.3 1440.2,393.1 1440.8,394.6 1441.5,395.5 1442.2,397.0 1442.8,394.8 1443.5,392.7 1444.2,389.2 1444.8,386.3 1445.5,385.3 1446.2,384.8 1446.8,385.2 1447.5,384.5 1448.1,386.3 1448.8,384.8 1449.5,383.6 1450.1,383.0 1450.8,380.7 1451.5,379.6 1452.1,379.8 1452.8,378.8 1453.5,379.5 1454.1,380.9 1454.8,381.0 1455.5,379.8 1456.1,381.0 1456.8,380.7 1457.5,381.7 1458.1,382.1 1458.8,384.1 1459.5,387.1 1460.1,389.8 1460.8,390.9 1461.5,390.1 1462.1,387.5 1462.8,385.0 1463.5,385.1 1464.1,386.4 1464.8,387.3 1465.5,388.4 1466.1,388.4 1466.8,388.0 1467.5,385.9 1468.1,386.2 1468.8,383.9 1469.4,384.6 1470.1,383.3 1470.8,382.9 1471.4,382.9 1472.1,383.0 1472.8,384.1 1473.4,384.2 1474.1,385.2 1474.8,386.7 1475.4,387.2 1476.1,388.1 1476.8,388.3 1477.4,388.6 1478.1,389.5 1478.8,388.5 1479.4,388.9 1480.1,386.3 1480.8,386.7 1481.4,387.5 1482.1,387.0 1482.8,386.8 1483.4,387.6 1484.1,387.9 1484.8,386.3 1485.4,385.7 1486.1,387.0 1486.8,386.2 1487.4,387.6 1488.1,389.3 1488.8,389.6 1489.4,390.8 1490.1,390.2 1490.7,390.5 1491.4,390.5 1492.1,392.0 1492.7,391.5 1493.4,391.8 1494.1,392.2 1494.7,393.3 1495.4,391.8 1496.1,391.0 1496.7,391.0 1497.4,391.0 1498.1,391.1 1498.7,391.2 1499.4,393.5 1500.1,394.4 1500.7,394.7 1501.4,394.2 1502.1,395.3 1502.7,396.6 1503.4,397.8 1504.1,397.5 1504.7,398.4 1505.4,399.8 1506.1,399.8 1506.7,398.3 1507.4,399.7 1508.1,400.4 1508.7,399.7 1509.4,399.3 1510.1,402.0 1510.7,402.3 1511.4,401.2 1512.1,400.7 1512.7,401.0 1513.4,400.4 1514.0,401.1 1514.7,402.4 1515.4,403.0 1516.0,402.7 1516.7,401.7 1517.4,399.8 1518.0,399.4 1518.7,398.8 1519.4,400.2 1520.0,399.7 1520.7,399.8 1521.4,398.8 1522.0,399.1 1522.7,398.4 1523.4,399.3 1524.0,399.3 1524.7,399.6 1525.4,398.0 1526.0,396.0 1526.7,395.6 1527.4,394.9 1528.0,396.5 1528.7,397.0 1529.4,396.9 1530.0,396.7 1530.7,395.3 1531.4,395.6 1532.0,394.9 1532.7,395.5 1533.4,396.1 1534.0,396.2 1534.7,395.8 1535.3,395.5 1536.0,395.4 1536.7,395.8 1537.3,395.6 1538.0,394.8 1538.7,395.8 1539.3,395.9 1540.0,396.1 1540.7,395.3 1541.3,396.0 1542.0,395.8 1542.7,396.2 1543.3,397.8 1544.0,398.0 1544.7,398.7 1545.3,398.8 1546.0,397.2" fill="none" stroke="#35193e" stroke-width="3.9" stroke-linejoin="round"/>
<path d="M881.0,378.3 881.7,377.3 882.3,375.8 883.0,376.4 883.7,377.4 884.3,378.8 885.0,378.4 885.7,381.8 886.3,384.4 887.0,385.2 887.7,385.2 888.3,385.3 889.0,387.3 889.7,396.2 890.3,398.4 891.0,402.4 891.7,402.5 892.3,401.6 893.0,400.9 893.6,402.2 894.3,406.5 895.0,411.5 895.6,413.5 896.3,413.1 897.0,411.4 897.6,418.5 898.3,419.3 899.0,419.8 899.6,425.5 900.3,426.1 901.0,429.1 901.6,433.3 902.3,437.0 903.0,443.7 903.6,444.2 904.3,444.1 905.0,444.8 905.6,446.7 906.3,448.7 907.0,452.0 907.6,450.5 908.3,445.6 909.0,445.3 909.6,444.0 910.3,444.6 911.0,448.7 911.6,448.1 912.3,447.0 913.0,441.5 913.6,439.7 914.3,437.3 914.9,435.6 915.6,434.9 916.3,428.6 916.9,424.8 917.6,423.1 918.3,425.2 918.9,420.8 919.6,417.7 920.3,418.1 920.9,413.6 921.6,410.6 922.3,413.5 922.9,418.4 923.6,417.5 924.3,414.0 924.9,410.1 925.6,405.6 926.3,399.5 926.9,394.4 927.6,393.1 928.3,394.1 928.9,395.6 929.6,394.6 930.3,389.7 930.9,390.2 931.6,390.4 932.3,389.6 932.9,389.2 933.6,389.7 934.3,390.0 934.9,390.8 935.6,394.1 936.3,396.8 936.9,392.4 937.6,387.0 938.2,380.7 938.9,374.6 939.6,370.7 940.2,367.5 940.9,366.3 941.6,365.5 942.2,363.2 942.9,362.8 943.6,359.8 944.2,358.9 944.9,358.0 945.6,354.5 946.2,353.9 946.9,350.8 947.6,349.1 948.2,343.7 948.9,342.4 949.6,347.2 950.2,351.5 950.9,356.9 951.6,357.7 952.2,358.5 952.9,356.5 953.6,358.1 954.2,357.8 954.9,360.3 955.6,359.6 956.2,361.3 956.9,365.2 957.6,365.5 958.2,360.7 958.9,355.9 959.5,356.9 960.2,354.5 960.9,354.1 961.5,348.1 962.2,346.0 962.9,345.1 963.5,342.0 964.2,339.2 964.9,336.5 965.5,334.0 966.2,334.3 966.9,331.0 967.5,336.6 968.2,336.6 968.9,335.5 969.5,337.4 970.2,332.7 970.9,327.1 971.5,322.0 972.2,331.7 972.9,344.3 973.5,350.7 974.2,351.4 974.9,350.7 975.5,350.6 976.2,351.7 976.9,352.1 977.5,356.9 978.2,358.7 978.9,363.0 979.5,363.0 980.2,361.7 980.8,357.7 981.5,357.4 982.2,357.2 982.8,362.5 983.5,368.2 984.2,372.5 984.8,370.7 985.5,367.6 986.2,362.8 986.8,356.6 987.5,356.2 988.2,358.7 988.8,361.4 989.5,363.5 990.2,365.6 990.8,366.0 991.5,371.5 992.2,375.0 992.8,378.5 993.5,377.8 994.2,379.3 994.8,380.4 995.5,385.8 996.2,389.2 996.8,388.6 997.5,386.3 998.2,386.4 998.8,386.4 999.5,385.6 1000.2,382.9 1000.8,381.6 1001.5,380.8 1002.2,376.9 1002.8,375.0 1003.5,371.8 1004.1,369.3 1004.8,367.3 1005.5,363.7 1006.1,362.3 1006.8,358.9 1007.5,361.3 1008.1,366.4 1008.8,367.4 1009.5,370.0 1010.1,371.1 1010.8,371.9 1011.5,376.0 1012.1,376.9 1012.8,375.6 1013.5,375.6 1014.1,376.9 1014.8,377.9 1015.5,374.9 1016.1,371.1 1016.8,370.0 1017.5,368.7 1018.1,364.4 1018.8,367.0 1019.5,368.9 1020.1,367.6 1020.8,362.6 1021.5,359.9 1022.1,358.1 1022.8,357.3 1023.5,355.0 1024.1,353.4 1024.8,354.5 1025.4,355.4 1026.1,352.0 1026.8,352.8 1027.4,352.8 1028.1,352.7 1028.8,352.7 1029.4,349.8 1030.1,349.2 1030.8,349.3 1031.4,349.6 1032.1,348.2 1032.8,351.8 1033.4,354.6 1034.1,354.1 1034.8,354.1 1035.4,357.3 1036.1,361.2 1036.8,359.3 1037.4,362.3 1038.1,363.3 1038.8,368.5 1039.4,370.3 1040.1,374.2 1040.8,377.6 1041.4,380.7 1042.1,384.6 1042.8,383.6 1043.4,385.7 1044.1,388.9 1044.8,387.3 1045.4,390.7 1046.1,386.6 1046.8,393.1 1047.4,391.4 1048.1,393.7 1048.7,395.3 1049.4,394.5 1050.1,390.8 1050.7,389.0 1051.4,390.0 1052.1,388.7 1052.7,388.8 1053.4,389.3 1054.1,392.1 1054.7,388.9 1055.4,388.6 1056.1,384.0 1056.7,385.8 1057.4,386.0 1058.1,383.0 1058.7,384.7 1059.4,385.2 1060.1,390.2 1060.7,389.2 1061.4,388.1 1062.1,387.3 1062.7,384.5 1063.4,381.7 1064.1,376.8 1064.7,374.0 1065.4,372.7 1066.1,377.8 1066.7,380.3 1067.4,381.6 1068.1,386.7 1068.7,389.5 1069.4,392.7 1070.0,395.4 1070.7,397.4 1071.4,400.2 1072.0,397.5 1072.7,396.3 1073.4,394.5 1074.0,398.0 1074.7,403.8 1075.4,405.9 1076.0,406.0 1076.7,410.2 1077.4,412.9 1078.0,417.3 1078.7,418.5 1079.4,414.8 1080.0,415.8 1080.7,417.7 1081.4,417.4 1082.0,414.4 1082.7,411.6 1083.4,412.7 1084.0,415.6 1084.7,413.3 1085.4,412.6 1086.0,405.5 1086.7,405.8 1087.4,409.0 1088.0,411.5 1088.7,408.7 1089.4,407.8 1090.0,404.6 1090.7,404.3 1091.4,400.7 1092.0,400.0 1092.7,398.5 1093.3,399.7 1094.0,400.9 1094.7,403.1 1095.3,404.0 1096.0,401.7 1096.7,399.2 1097.3,397.6 1098.0,398.2 1098.7,400.9 1099.3,401.2 1100.0,401.2 1100.7,399.4 1101.3,398.0 1102.0,396.7 1102.7,394.8 1103.3,398.0 1104.0,399.7 1104.7,397.1 1105.3,400.9 1106.0,398.5 1106.7,399.7 1107.3,398.1 1108.0,395.6 1108.7,396.0 1109.3,395.5 1110.0,395.0 1110.7,392.9 1111.3,391.8 1112.0,393.6 1112.7,399.3 1113.3,403.0 1114.0,404.9 1114.6,405.8 1115.3,407.6 1116.0,410.0 1116.6,408.8 1117.3,410.5 1118.0,411.5 1118.6,408.5 1119.3,404.9 1120.0,406.9 1120.6,407.3 1121.3,405.7 1122.0,404.5 1122.6,405.7 1123.3,405.4 1124.0,407.3 1124.6,404.9 1125.3,401.1 1126.0,400.3 1126.6,398.5 1127.3,397.2 1128.0,397.4 1128.6,398.1 1129.3,397.2 1130.0,395.9 1130.6,393.2 1131.3,388.8 1132.0,387.5 1132.6,384.4 1133.3,382.9 1134.0,381.3 1134.6,384.2 1135.3,385.1 1135.9,384.6 1136.6,385.9 1137.3,390.7 1137.9,394.6 1138.6,395.8 1139.3,394.3 1139.9,392.9 1140.6,393.7 1141.3,392.9 1141.9,393.2 1142.6,393.2 1143.3,389.7 1143.9,390.7 1144.6,390.5 1145.3,389.8 1145.9,387.7 1146.6,391.7 1147.3,396.3 1147.9,395.8 1148.6,401.4 1149.3,402.2 1149.9,403.9 1150.6,406.6 1151.3,405.9 1151.9,408.6 1152.6,408.5 1153.3,414.9 1153.9,418.1 1154.6,415.6 1155.3,417.4 1155.9,415.2 1156.6,420.3 1157.3,425.6 1157.9,430.6 1158.6,431.5 1159.2,433.8 1159.9,434.4 1160.6,434.5 1161.2,435.1 1161.9,436.8 1162.6,439.2 1163.2,437.3 1163.9,435.8 1164.6,434.2 1165.2,432.7 1165.9,425.5 1166.6,424.1 1167.2,428.5 1167.9,426.2 1168.6,424.3 1169.2,423.0 1169.9,424.2 1170.6,425.6 1171.2,425.6 1171.9,423.6 1172.6,425.5 1173.2,425.3 1173.9,425.2 1174.6,426.1 1175.2,430.8 1175.9,428.9 1176.6,427.9 1177.2,426.6 1177.9,427.3 1178.6,422.4 1179.2,422.6 1179.9,426.3 1180.5,427.5 1181.2,432.0 1181.9,426.4 1182.5,426.1 1183.2,428.7 1183.9,433.6 1184.5,435.0 1185.2,434.2 1185.9,436.6 1186.5,433.5 1187.2,434.1 1187.9,428.6 1188.5,428.6 1189.2,428.9 1189.9,435.4 1190.5,438.3 1191.2,437.1 1191.9,436.0 1192.5,433.3 1193.2,433.6 1193.9,433.9 1194.5,433.4 1195.2,434.3 1195.9,428.2 1196.5,428.6 1197.2,429.5 1197.9,427.9 1198.5,431.8 1199.2,428.9 1199.9,432.0 1200.5,432.5 1201.2,435.7 1201.9,439.6 1202.5,446.6 1203.2,448.8 1203.8,447.4 1204.5,440.4 1205.2,438.7 1205.8,434.3 1206.5,434.0 1207.2,433.7 1207.8,431.3 1208.5,432.5 1209.2,432.4 1209.8,432.5 1210.5,433.2 1211.2,433.7 1211.8,432.7 1212.5,434.0 1213.2,431.5 1213.8,429.8 1214.5,427.7 1215.2,427.6 1215.8,424.0 1216.5,424.8 1217.2,416.7 1217.8,414.6 1218.5,414.2 1219.2,415.4 1219.8,417.4 1220.5,414.9 1221.2,412.5 1221.8,414.0 1222.5,416.9 1223.2,409.3 1223.8,408.9 1224.5,410.0 1225.1,411.4 1225.8,413.1 1226.5,414.9 1227.1,416.6 1227.8,416.9 1228.5,415.7 1229.1,416.4 1229.8,413.3 1230.5,412.6 1231.1,411.5 1231.8,414.7 1232.5,418.9 1233.1,421.0 1233.8,423.3 1234.5,420.2 1235.1,421.4 1235.8,422.0 1236.5,421.9 1237.1,423.3 1237.8,418.9 1238.5,420.9 1239.1,420.5 1239.8,415.9 1240.5,416.9 1241.1,415.7 1241.8,416.8 1242.5,415.3 1243.1,414.1 1243.8,411.7 1244.5,409.4 1245.1,410.3 1245.8,411.6 1246.5,407.1 1247.1,406.7 1247.8,404.6 1248.4,400.5 1249.1,401.2 1249.8,402.4 1250.4,400.4 1251.1,399.1 1251.8,401.8 1252.4,400.4 1253.1,397.6 1253.8,393.6 1254.4,394.9 1255.1,399.3 1255.8,396.2 1256.4,394.0 1257.1,396.1 1257.8,398.4 1258.4,400.6 1259.1,399.3 1259.8,399.4 1260.4,392.3 1261.1,389.0 1261.8,384.1 1262.4,389.5 1263.1,389.7 1263.8,390.2 1264.4,389.1 1265.1,388.1 1265.8,382.3 1266.4,385.9 1267.1,384.9 1267.8,385.5 1268.4,382.7 1269.1,381.9 1269.7,381.6 1270.4,379.2 1271.1,378.4 1271.7,374.2 1272.4,373.4 1273.1,374.2 1273.7,374.4 1274.4,374.4 1275.1,373.4 1275.7,371.0 1276.4,370.3 1277.1,369.4 1277.7,368.8 1278.4,371.9 1279.1,369.2 1279.7,367.2 1280.4,368.1 1281.1,369.6 1281.7,368.9 1282.4,369.0 1283.1,372.1 1283.7,373.3 1284.4,373.7 1285.1,376.2 1285.7,379.6 1286.4,381.9 1287.1,383.5 1287.7,380.3 1288.4,376.0 1289.1,375.3 1289.7,379.7 1290.4,378.4 1291.1,376.1 1291.7,374.1 1292.4,375.1 1293.0,373.4 1293.7,374.1 1294.4,376.1 1295.0,376.0 1295.7,375.2 1296.4,374.0 1297.0,374.7 1297.7,374.4 1298.4,372.7 1299.0,371.7 1299.7,371.8 1300.4,376.6 1301.0,382.7 1301.7,381.4 1302.4,382.0 1303.0,384.4 1303.7,384.7 1304.4,385.4 1305.0,388.1 1305.7,393.8 1306.4,399.7 1307.0,402.3 1307.7,403.5 1308.4,400.1 1309.0,397.5 1309.7,393.6 1310.4,391.7 1311.0,393.2 1311.7,395.9 1312.4,398.4 1313.0,394.7 1313.7,395.7 1314.3,395.0 1315.0,396.7 1315.7,395.7 1316.3,398.5 1317.0,399.2 1317.7,401.8 1318.3,406.0 1319.0,406.2 1319.7,407.8 1320.3,409.1 1321.0,406.2 1321.7,405.8 1322.3,405.3 1323.0,404.8 1323.7,405.4 1324.3,407.0 1325.0,408.1 1325.7,408.5 1326.3,404.3 1327.0,403.5 1327.7,399.9 1328.3,399.6 1329.0,399.7 1329.7,400.8 1330.3,400.9 1331.0,402.1 1331.7,400.8 1332.3,402.4 1333.0,403.7 1333.7,403.7 1334.3,399.8 1335.0,399.5 1335.6,398.3 1336.3,399.9 1337.0,400.4 1337.6,401.6 1338.3,402.6 1339.0,400.6 1339.6,398.6 1340.3,399.6 1341.0,396.4 1341.6,397.9 1342.3,391.1 1343.0,392.3 1343.6,390.2 1344.3,391.7 1345.0,389.1 1345.6,388.5 1346.3,386.1 1347.0,382.4 1347.6,383.0 1348.3,383.5 1349.0,382.1 1349.6,385.2 1350.3,383.4 1351.0,385.3 1351.6,383.5 1352.3,382.0 1353.0,383.2 1353.6,382.6 1354.3,384.9 1355.0,381.3 1355.6,381.9 1356.3,381.2 1357.0,380.6 1357.6,381.7 1358.3,382.4 1358.9,381.9 1359.6,382.6 1360.3,381.7 1360.9,383.0 1361.6,384.9 1362.3,385.1 1362.9,384.8 1363.6,383.8 1364.3,384.7 1364.9,384.9 1365.6,383.3 1366.3,380.3 1366.9,377.9 1367.6,376.9 1368.3,377.8 1368.9,378.6 1369.6,377.7 1370.3,379.2 1370.9,380.5 1371.6,384.6 1372.3,384.9 1372.9,386.2 1373.6,386.4 1374.3,385.4 1374.9,386.8 1375.6,387.2 1376.3,386.5 1376.9,386.4 1377.6,383.4 1378.3,383.5 1378.9,383.6 1379.6,384.3 1380.2,383.8 1380.9,385.3 1381.6,385.4 1382.2,385.7 1382.9,386.8 1383.6,388.1 1384.2,389.0 1384.9,389.6 1385.6,390.8 1386.2,392.5 1386.9,391.0 1387.6,389.2 1388.2,387.7 1388.9,391.4 1389.6,392.1 1390.2,391.1 1390.9,391.2 1391.6,391.3 1392.2,389.6 1392.9,390.2 1393.6,389.7 1394.2,389.4 1394.9,392.5 1395.6,393.8 1396.2,394.3 1396.9,394.9 1397.6,395.4 1398.2,395.5 1398.9,393.4 1399.6,391.7 1400.2,394.5 1400.9,393.4 1401.6,395.0 1402.2,393.2 1402.9,395.2 1403.5,396.7 1404.2,398.2 1404.9,402.4 1405.5,402.6 1406.2,402.8 1406.9,401.7 1407.5,400.7 1408.2,400.0 1408.9,400.2 1409.5,401.1 1410.2,405.4 1410.9,403.1 1411.5,401.7 1412.2,400.2 1412.9,400.4 1413.5,401.8 1414.2,402.0 1414.9,402.5 1415.5,403.4 1416.2,408.5 1416.9,408.6 1417.5,407.9 1418.2,407.2 1418.9,407.9 1419.5,407.1 1420.2,406.2 1420.9,404.1 1421.5,404.2 1422.2,404.0 1422.9,403.6 1423.5,402.6 1424.2,403.8 1424.8,404.5 1425.5,405.6 1426.2,403.9 1426.8,403.3 1427.5,402.9 1428.2,402.7 1428.8,402.5 1429.5,401.6 1430.2,399.0 1430.8,396.8 1431.5,396.4 1432.2,392.6 1432.8,391.1 1433.5,390.5 1434.2,391.9 1434.8,391.6 1435.5,392.1 1436.2,394.4 1436.8,396.2 1437.5,396.1 1438.2,395.6 1438.8,397.8 1439.5,398.6 1440.2,397.9 1440.8,395.9 1441.5,394.6 1442.2,393.1 1442.8,392.5 1443.5,391.7 1444.2,389.4 1444.8,390.3 1445.5,391.4 1446.2,392.9 1446.8,393.4 1447.5,394.2 1448.1,396.2 1448.8,399.0 1449.5,397.7 1450.1,398.5 1450.8,397.0 1451.5,397.6 1452.1,398.3 1452.8,401.1 1453.5,402.9 1454.1,402.4 1454.8,404.3 1455.5,403.5 1456.1,403.7 1456.8,403.7 1457.5,404.1 1458.1,403.9 1458.8,404.2 1459.5,403.3 1460.1,403.0 1460.8,404.5 1461.5,405.2 1462.1,406.3 1462.8,406.3 1463.5,405.4 1464.1,405.6 1464.8,405.5 1465.5,407.5 1466.1,408.2 1466.8,408.0 1467.5,407.5 1468.1,408.6 1468.8,408.6 1469.4,409.3 1470.1,408.5 1470.8,408.4 1471.4,410.7 1472.1,410.8 1472.8,411.2 1473.4,412.5 1474.1,411.6 1474.8,412.7 1475.4,413.6 1476.1,413.4 1476.8,414.2 1477.4,413.1 1478.1,411.6 1478.8,413.3 1479.4,413.5 1480.1,414.4 1480.8,415.8 1481.4,416.3 1482.1,417.3 1482.8,417.8 1483.4,418.3 1484.1,416.7 1484.8,416.2 1485.4,415.2 1486.1,415.2 1486.8,415.9 1487.4,416.9 1488.1,417.3 1488.8,418.1 1489.4,417.5 1490.1,417.4 1490.7,419.3 1491.4,420.2 1492.1,420.7 1492.7,421.3 1493.4,421.2 1494.1,420.1 1494.7,420.6 1495.4,420.0 1496.1,418.3 1496.7,416.5 1497.4,416.0 1498.1,415.7 1498.7,415.1 1499.4,414.6 1500.1,416.0 1500.7,416.5 1501.4,418.0 1502.1,418.6 1502.7,420.1 1503.4,419.9 1504.1,419.6 1504.7,420.6 1505.4,419.3 1506.1,420.1 1506.7,420.9 1507.4,423.3 1508.1,423.6 1508.7,424.8 1509.4,425.3 1510.1,424.7 1510.7,422.9 1511.4,422.4 1512.1,424.4 1512.7,424.9 1513.4,424.6 1514.0,426.4 1514.7,426.1 1515.4,424.5 1516.0,423.2 1516.7,422.5 1517.4,423.2 1518.0,422.3 1518.7,422.6 1519.4,423.7 1520.0,422.5 1520.7,421.8 1521.4,419.0 1522.0,418.5 1522.7,416.4 1523.4,416.2 1524.0,417.8 1524.7,418.4 1525.4,418.5 1526.0,417.9 1526.7,418.3 1527.4,417.1 1528.0,416.7 1528.7,415.3 1529.4,414.4 1530.0,412.9 1530.7,412.6 1531.4,411.7 1532.0,412.2 1532.7,412.3 1533.4,412.7 1534.0,412.8 1534.7,411.2 1535.3,411.1 1536.0,412.1 1536.7,413.3 1537.3,411.7 1538.0,410.1 1538.7,410.6 1539.3,410.2 1540.0,411.0 1540.7,411.3 1541.3,412.6 1542.0,411.2 1542.7,410.9 1543.3,411.0 1544.0,411.2 1544.7,410.6 1545.3,411.5 1546.0,412.2" fill="none" stroke="#701f57" stroke-width="3.9" stroke-linejoin="round"/>
<path d="M881.0,333.1 881.7,335.4 882.3,336.3 883.0,339.6 883.7,339.6 884.3,339.9 885.0,340.0 885.7,340.4 886.3,341.9 887.0,340.7 887.7,337.4 888.3,337.7 889.0,341.8 889.7,349.0 890.3,348.0 891.0,341.9 891.7,340.2 892.3,335.9 893.0,329.8 893.6,328.6 894.3,326.4 895.0,323.9 895.6,320.9 896.3,319.9 897.0,316.7 897.6,307.8 898.3,304.8 899.0,299.9 899.6,305.0 900.3,308.0 901.0,309.2 901.6,311.8 902.3,312.3 903.0,313.5 903.6,317.5 904.3,316.3 905.0,318.5 905.6,317.8 906.3,319.3 907.0,321.8 907.6,318.4 908.3,319.6 909.0,316.6 909.6,317.1 910.3,317.5 911.0,321.3 911.6,322.9 912.3,321.7 913.0,321.5 913.6,323.1 914.3,319.1 914.9,319.6 915.6,320.5 916.3,321.1 916.9,317.3 917.6,315.7 918.3,312.5 918.9,309.8 919.6,307.2 920.3,305.8 920.9,303.9 921.6,300.4 922.3,301.2 922.9,300.6 923.6,295.5 924.3,292.7 924.9,292.6 925.6,290.1 926.3,291.9 926.9,294.9 927.6,300.5 928.3,299.6 928.9,294.7 929.6,290.5 930.3,289.8 930.9,290.9 931.6,287.7 932.3,286.3 932.9,288.6 933.6,286.7 934.3,291.9 934.9,293.3 935.6,295.8 936.3,295.7 936.9,295.8 937.6,297.5 938.2,300.4 938.9,304.2 939.6,303.6 940.2,301.7 940.9,300.6 941.6,300.8 942.2,303.3 942.9,300.0 943.6,299.6 944.2,298.4 944.9,296.9 945.6,298.8 946.2,294.7 946.9,292.0 947.6,291.8 948.2,292.6 948.9,288.6 949.6,292.1 950.2,290.6 950.9,287.6 951.6,287.9 952.2,291.9 952.9,293.3 953.6,295.3 954.2,299.1 954.9,300.0 955.6,303.9 956.2,306.6 956.9,306.9 957.6,310.4 958.2,308.9 958.9,311.0 959.5,312.0 960.2,309.8 960.9,307.7 961.5,307.5 962.2,309.8 962.9,313.6 963.5,316.2 964.2,322.0 964.9,325.6 965.5,323.3 966.2,320.5 966.9,319.8 967.5,317.6 968.2,315.7 968.9,314.5 969.5,314.8 970.2,316.2 970.9,315.2 971.5,312.7 972.2,312.2 972.9,311.5 973.5,314.2 974.2,312.4 974.9,310.7 975.5,309.2 976.2,313.2 976.9,309.4 977.5,306.3 978.2,300.7 978.9,294.4 979.5,292.7 980.2,289.3 980.8,287.8 981.5,281.4 982.2,282.2 982.8,285.1 983.5,282.3 984.2,280.8 984.8,278.2 985.5,275.5 986.2,268.3 986.8,265.2 987.5,264.9 988.2,262.7 988.8,257.0 989.5,252.8 990.2,249.7 990.8,249.8 991.5,246.9 992.2,241.7 992.8,240.1 993.5,238.5 994.2,238.5 994.8,236.1 995.5,234.9 996.2,231.8 996.8,223.7 997.5,221.7 998.2,221.0 998.8,218.9 999.5,219.0 1000.2,214.4 1000.8,213.9 1001.5,208.2 1002.2,207.2 1002.8,206.4 1003.5,207.6 1004.1,207.3 1004.8,209.7 1005.5,211.7 1006.1,212.2 1006.8,211.5 1007.5,209.5 1008.1,209.6 1008.8,204.1 1009.5,203.5 1010.1,198.3 1010.8,198.4 1011.5,200.8 1012.1,202.8 1012.8,199.6 1013.5,193.4 1014.1,187.4 1014.8,186.2 1015.5,185.2 1016.1,183.9 1016.8,183.9 1017.5,184.2 1018.1,182.7 1018.8,182.5 1019.5,176.6 1020.1,178.1 1020.8,178.7 1021.5,182.2 1022.1,186.1 1022.8,187.6 1023.5,188.5 1024.1,187.8 1024.8,185.4 1025.4,189.6 1026.1,193.5 1026.8,197.2 1027.4,198.4 1028.1,198.0 1028.8,201.6 1029.4,201.5 1030.1,207.6 1030.8,206.6 1031.4,203.2 1032.1,205.2 1032.8,206.6 1033.4,210.0 1034.1,211.5 1034.8,213.1 1035.4,211.5 1036.1,210.5 1036.8,207.3 1037.4,205.1 1038.1,207.0 1038.8,209.8 1039.4,208.0 1040.1,206.1 1040.8,204.3 1041.4,201.1 1042.1,199.3 1042.8,197.5 1043.4,195.6 1044.1,191.9 1044.8,187.4 1045.4,189.2 1046.1,194.3 1046.8,193.3 1047.4,196.8 1048.1,202.0 1048.7,202.1 1049.4,200.4 1050.1,200.7 1050.7,200.2 1051.4,198.6 1052.1,203.2 1052.7,209.6 1053.4,213.4 1054.1,214.1 1054.7,211.0 1055.4,210.5 1056.1,208.2 1056.7,211.4 1057.4,215.6 1058.1,216.7 1058.7,219.0 1059.4,220.8 1060.1,220.1 1060.7,216.5 1061.4,215.4 1062.1,214.9 1062.7,217.2 1063.4,218.3 1064.1,218.6 1064.7,219.6 1065.4,222.1 1066.1,221.9 1066.7,219.5 1067.4,221.8 1068.1,220.4 1068.7,220.9 1069.4,216.7 1070.0,216.3 1070.7,213.9 1071.4,214.5 1072.0,216.7 1072.7,212.6 1073.4,204.3 1074.0,200.2 1074.7,196.4 1075.4,194.1 1076.0,191.3 1076.7,188.7 1077.4,192.3 1078.0,190.1 1078.7,188.9 1079.4,188.0 1080.0,183.4 1080.7,183.6 1081.4,184.5 1082.0,184.1 1082.7,186.3 1083.4,189.0 1084.0,192.5 1084.7,195.5 1085.4,197.5 1086.0,197.8 1086.7,201.5 1087.4,202.7 1088.0,208.8 1088.7,205.5 1089.4,212.2 1090.0,216.4 1090.7,218.8 1091.4,218.4 1092.0,218.4 1092.7,217.6 1093.3,216.0 1094.0,219.7 1094.7,224.2 1095.3,228.0 1096.0,232.8 1096.7,229.7 1097.3,229.7 1098.0,229.6 1098.7,232.3 1099.3,231.1 1100.0,232.9 1100.7,234.4 1101.3,236.0 1102.0,237.1 1102.7,240.3 1103.3,242.9 1104.0,240.2 1104.7,243.6 1105.3,248.3 1106.0,246.3 1106.7,248.3 1107.3,247.4 1108.0,247.2 1108.7,245.2 1109.3,239.0 1110.0,236.8 1110.7,240.4 1111.3,245.6 1112.0,247.2 1112.7,249.1 1113.3,251.5 1114.0,252.9 1114.6,252.9 1115.3,254.6 1116.0,253.1 1116.6,253.1 1117.3,251.8 1118.0,250.0 1118.6,251.3 1119.3,250.6 1120.0,255.3 1120.6,260.5 1121.3,266.9 1122.0,266.9 1122.6,264.7 1123.3,261.5 1124.0,263.5 1124.6,262.6 1125.3,266.5 1126.0,269.4 1126.6,273.4 1127.3,273.2 1128.0,274.0 1128.6,275.8 1129.3,280.1 1130.0,279.2 1130.6,282.2 1131.3,281.5 1132.0,284.1 1132.6,285.1 1133.3,285.3 1134.0,288.3 1134.6,292.8 1135.3,295.0 1135.9,298.6 1136.6,295.8 1137.3,295.0 1137.9,292.1 1138.6,290.8 1139.3,287.0 1139.9,285.1 1140.6,284.5 1141.3,280.7 1141.9,277.2 1142.6,276.6 1143.3,278.3 1143.9,278.3 1144.6,274.9 1145.3,275.1 1145.9,273.0 1146.6,274.3 1147.3,271.9 1147.9,271.8 1148.6,271.5 1149.3,267.1 1149.9,263.5 1150.6,262.8 1151.3,263.0 1151.9,264.5 1152.6,265.8 1153.3,261.9 1153.9,261.5 1154.6,257.8 1155.3,258.5 1155.9,253.5 1156.6,257.2 1157.3,262.8 1157.9,264.8 1158.6,263.1 1159.2,260.1 1159.9,261.1 1160.6,259.0 1161.2,256.4 1161.9,256.3 1162.6,261.0 1163.2,263.6 1163.9,265.1 1164.6,265.9 1165.2,264.7 1165.9,265.6 1166.6,261.6 1167.2,261.4 1167.9,258.3 1168.6,256.1 1169.2,255.9 1169.9,256.0 1170.6,252.1 1171.2,252.3 1171.9,251.6 1172.6,249.9 1173.2,249.3 1173.9,247.6 1174.6,246.0 1175.2,243.4 1175.9,239.4 1176.6,238.9 1177.2,239.5 1177.9,239.0 1178.6,241.6 1179.2,239.9 1179.9,239.0 1180.5,237.3 1181.2,233.2 1181.9,231.8 1182.5,233.4 1183.2,231.7 1183.9,228.0 1184.5,225.5 1185.2,221.5 1185.9,221.5 1186.5,223.7 1187.2,225.9 1187.9,226.6 1188.5,226.9 1189.2,227.3 1189.9,224.1 1190.5,224.4 1191.2,221.6 1191.9,221.2 1192.5,222.8 1193.2,221.7 1193.9,217.0 1194.5,217.1 1195.2,220.4 1195.9,222.3 1196.5,220.7 1197.2,221.1 1197.9,218.7 1198.5,220.5 1199.2,217.7 1199.9,216.1 1200.5,213.3 1201.2,211.3 1201.9,213.5 1202.5,214.7 1203.2,214.9 1203.8,217.0 1204.5,217.5 1205.2,222.2 1205.8,227.8 1206.5,227.1 1207.2,231.0 1207.8,230.7 1208.5,238.7 1209.2,243.5 1209.8,243.5 1210.5,239.9 1211.2,239.7 1211.8,241.6 1212.5,248.8 1213.2,251.6 1213.8,254.6 1214.5,256.5 1215.2,254.7 1215.8,254.2 1216.5,252.6 1217.2,254.3 1217.8,252.6 1218.5,254.2 1219.2,252.6 1219.8,251.8 1220.5,247.9 1221.2,246.0 1221.8,248.6 1222.5,252.8 1223.2,249.7 1223.8,247.5 1224.5,244.8 1225.1,249.4 1225.8,248.5 1226.5,251.5 1227.1,252.7 1227.8,254.5 1228.5,258.0 1229.1,256.3 1229.8,258.4 1230.5,259.9 1231.1,264.6 1231.8,263.1 1232.5,267.1 1233.1,267.8 1233.8,263.3 1234.5,267.4 1235.1,270.4 1235.8,266.7 1236.5,266.0 1237.1,262.2 1237.8,262.1 1238.5,260.5 1239.1,259.3 1239.8,254.1 1240.5,250.6 1241.1,246.7 1241.8,245.7 1242.5,247.0 1243.1,245.7 1243.8,246.7 1244.5,245.5 1245.1,245.5 1245.8,246.4 1246.5,242.5 1247.1,240.3 1247.8,237.3 1248.4,239.0 1249.1,239.6 1249.8,242.8 1250.4,245.1 1251.1,245.4 1251.8,246.0 1252.4,244.6 1253.1,247.3 1253.8,247.1 1254.4,247.9 1255.1,247.5 1255.8,254.0 1256.4,253.4 1257.1,255.4 1257.8,255.1 1258.4,258.4 1259.1,257.9 1259.8,260.4 1260.4,258.9 1261.1,260.0 1261.8,262.0 1262.4,263.2 1263.1,259.1 1263.8,256.6 1264.4,253.7 1265.1,247.0 1265.8,246.7 1266.4,249.1 1267.1,253.8 1267.8,252.6 1268.4,253.3 1269.1,253.5 1269.7,255.2 1270.4,252.5 1271.1,252.8 1271.7,257.1 1272.4,258.3 1273.1,258.3 1273.7,256.0 1274.4,250.5 1275.1,247.6 1275.7,249.8 1276.4,247.6 1277.1,247.4 1277.7,249.0 1278.4,249.9 1279.1,249.5 1279.7,249.0 1280.4,247.9 1281.1,247.0 1281.7,248.0 1282.4,248.3 1283.1,251.4 1283.7,247.8 1284.4,249.6 1285.1,249.8 1285.7,249.9 1286.4,249.2 1287.1,249.5 1287.7,251.2 1288.4,254.0 1289.1,253.6 1289.7,253.0 1290.4,254.1 1291.1,255.2 1291.7,253.3 1292.4,251.7 1293.0,248.8 1293.7,247.2 1294.4,246.0 1295.0,246.9 1295.7,246.5 1296.4,247.5 1297.0,249.2 1297.7,246.3 1298.4,246.1 1299.0,245.2 1299.7,242.1 1300.4,241.2 1301.0,240.1 1301.7,243.2 1302.4,243.4 1303.0,243.3 1303.7,245.8 1304.4,245.4 1305.0,247.9 1305.7,248.0 1306.4,247.1 1307.0,247.5 1307.7,255.9 1308.4,258.8 1309.0,259.1 1309.7,259.8 1310.4,258.6 1311.0,260.9 1311.7,263.3 1312.4,259.1 1313.0,255.0 1313.7,252.0 1314.3,250.9 1315.0,250.8 1315.7,252.5 1316.3,254.5 1317.0,253.8 1317.7,253.6 1318.3,255.7 1319.0,254.9 1319.7,255.3 1320.3,255.4 1321.0,258.4 1321.7,261.0 1322.3,260.3 1323.0,261.7 1323.7,257.8 1324.3,253.4 1325.0,251.7 1325.7,251.5 1326.3,248.9 1327.0,246.9 1327.7,248.2 1328.3,248.6 1329.0,250.0 1329.7,248.8 1330.3,248.2 1331.0,247.2 1331.7,245.5 1332.3,245.8 1333.0,248.7 1333.7,247.0 1334.3,243.8 1335.0,243.8 1335.6,240.0 1336.3,244.0 1337.0,240.8 1337.6,238.4 1338.3,235.8 1339.0,237.6 1339.6,239.0 1340.3,240.7 1341.0,241.6 1341.6,243.3 1342.3,238.9 1343.0,238.9 1343.6,241.6 1344.3,240.4 1345.0,241.0 1345.6,242.1 1346.3,244.1 1347.0,245.2 1347.6,250.7 1348.3,253.8 1349.0,257.7 1349.6,257.6 1350.3,258.2 1351.0,258.3 1351.6,262.8 1352.3,261.5 1353.0,260.5 1353.6,262.8 1354.3,265.0 1355.0,263.0 1355.6,262.0 1356.3,260.4 1357.0,260.4 1357.6,257.2 1358.3,255.5 1358.9,256.7 1359.6,258.0 1360.3,258.2 1360.9,258.7 1361.6,257.3 1362.3,259.4 1362.9,259.6 1363.6,262.8 1364.3,265.2 1364.9,263.7 1365.6,264.7 1366.3,267.1 1366.9,269.8 1367.6,271.6 1368.3,272.0 1368.9,272.2 1369.6,273.3 1370.3,272.4 1370.9,271.0 1371.6,272.3 1372.3,274.2 1372.9,275.0 1373.6,275.7 1374.3,274.8 1374.9,273.5 1375.6,275.1 1376.3,272.5 1376.9,271.1 1377.6,272.2 1378.3,272.4 1378.9,272.4 1379.6,269.5 1380.2,270.7 1380.9,271.8 1381.6,272.0 1382.2,271.7 1382.9,271.0 1383.6,273.1 1384.2,276.6 1384.9,278.9 1385.6,281.5 1386.2,281.9 1386.9,279.3 1387.6,279.2 1388.2,279.9 1388.9,280.3 1389.6,277.9 1390.2,281.0 1390.9,280.5 1391.6,280.3 1392.2,280.5 1392.9,282.8 1393.6,282.8 1394.2,282.4 1394.9,278.5 1395.6,278.3 1396.2,278.3 1396.9,278.7 1397.6,277.9 1398.2,279.2 1398.9,278.6 1399.6,276.9 1400.2,275.3 1400.9,277.5 1401.6,278.6 1402.2,277.6 1402.9,279.1 1403.5,278.9 1404.2,277.3 1404.9,275.0 1405.5,275.0 1406.2,276.6 1406.9,277.9 1407.5,277.1 1408.2,280.0 1408.9,282.7 1409.5,283.8 1410.2,284.2 1410.9,283.1 1411.5,283.3 1412.2,282.8 1412.9,282.6 1413.5,284.0 1414.2,284.7 1414.9,287.3 1415.5,286.8 1416.2,285.8 1416.9,286.0 1417.5,285.7 1418.2,287.0 1418.9,287.9 1419.5,288.2 1420.2,289.4 1420.9,290.0 1421.5,291.5 1422.2,292.8 1422.9,292.1 1423.5,290.9 1424.2,291.0 1424.8,290.6 1425.5,287.9 1426.2,289.0 1426.8,287.2 1427.5,288.4 1428.2,285.9 1428.8,286.5 1429.5,285.9 1430.2,284.7 1430.8,284.8 1431.5,284.7 1432.2,284.8 1432.8,285.0 1433.5,281.0 1434.2,278.2 1434.8,275.1 1435.5,275.1 1436.2,274.9 1436.8,274.4 1437.5,274.0 1438.2,272.5 1438.8,273.6 1439.5,272.3 1440.2,269.8 1440.8,269.8 1441.5,271.0 1442.2,270.5 1442.8,270.0 1443.5,269.5 1444.2,270.4 1444.8,270.7 1445.5,273.4 1446.2,273.8 1446.8,276.1 1447.5,273.6 1448.1,274.2 1448.8,273.7 1449.5,273.7 1450.1,272.7 1450.8,273.8 1451.5,274.0 1452.1,273.0 1452.8,272.6 1453.5,271.8 1454.1,271.8 1454.8,270.3 1455.5,269.7 1456.1,269.5 1456.8,268.8 1457.5,268.6 1458.1,267.5 1458.8,266.9 1459.5,268.8 1460.1,267.2 1460.8,267.7 1461.5,267.0 1462.1,266.9 1462.8,267.8 1463.5,266.1 1464.1,265.3 1464.8,264.0 1465.5,264.1 1466.1,264.7 1466.8,263.5 1467.5,264.3 1468.1,263.9 1468.8,265.0 1469.4,264.1 1470.1,262.2 1470.8,262.9 1471.4,262.4 1472.1,262.7 1472.8,262.1 1473.4,262.3 1474.1,261.5 1474.8,260.4 1475.4,261.0 1476.1,262.3 1476.8,261.9 1477.4,260.3 1478.1,260.5 1478.8,259.3 1479.4,259.9 1480.1,260.0 1480.8,258.3 1481.4,256.1 1482.1,256.5 1482.8,257.3 1483.4,257.4 1484.1,255.7 1484.8,255.3 1485.4,256.0 1486.1,256.8 1486.8,258.2 1487.4,258.5 1488.1,258.4 1488.8,258.8 1489.4,255.4 1490.1,255.4 1490.7,253.7 1491.4,253.2 1492.1,253.1 1492.7,252.0 1493.4,251.6 1494.1,251.9 1494.7,252.0 1495.4,252.4 1496.1,251.6 1496.7,252.9 1497.4,252.1 1498.1,254.5 1498.7,255.0 1499.4,256.9 1500.1,257.7 1500.7,256.0 1501.4,254.7 1502.1,255.7 1502.7,257.7 1503.4,259.1 1504.1,259.2 1504.7,258.8 1505.4,257.2 1506.1,256.9 1506.7,258.9 1507.4,259.4 1508.1,259.9 1508.7,258.6 1509.4,258.6 1510.1,257.2 1510.7,257.2 1511.4,258.1 1512.1,258.1 1512.7,258.3 1513.4,257.7 1514.0,257.9 1514.7,256.8 1515.4,256.4 1516.0,258.3 1516.7,257.7 1517.4,257.6 1518.0,256.2 1518.7,256.8 1519.4,256.3 1520.0,255.3 1520.7,253.6 1521.4,253.6 1522.0,253.6 1522.7,254.4 1523.4,254.5 1524.0,254.9 1524.7,256.2 1525.4,257.4 1526.0,257.3 1526.7,256.0 1527.4,254.9 1528.0,255.0 1528.7,254.5 1529.4,254.6 1530.0,255.3 1530.7,254.9 1531.4,253.9 1532.0,254.4 1532.7,254.7 1533.4,255.3 1534.0,256.5 1534.7,257.5 1535.3,257.0 1536.0,255.9 1536.7,254.2 1537.3,254.1 1538.0,254.0 1538.7,255.4 1539.3,256.3 1540.0,257.4 1540.7,257.9 1541.3,258.0 1542.0,258.0 1542.7,257.5 1543.3,257.1 1544.0,257.1 1544.7,257.3 1545.3,258.3 1546.0,258.9" fill="none" stroke="#ad1759" stroke-width="3.9" stroke-linejoin="round"/>
<path d="M881.0,302.2 881.7,304.2 882.3,304.0 883.0,304.0 883.7,308.0 884.3,310.0 885.0,312.1 885.7,311.1 886.3,312.9 887.0,310.6 887.7,309.2 888.3,312.6 889.0,318.8 889.7,324.2 890.3,329.4 891.0,329.2 891.7,330.2 892.3,335.1 893.0,341.6 893.6,342.4 894.3,344.3 895.0,341.9 895.6,340.5 896.3,339.6 897.0,342.4 897.6,341.7 898.3,344.3 899.0,343.8 899.6,341.3 900.3,341.9 901.0,339.2 901.6,334.5 902.3,331.3 903.0,334.2 903.6,334.7 904.3,336.3 905.0,336.6 905.6,334.5 906.3,333.6 907.0,323.6 907.6,320.8 908.3,322.0 909.0,326.0 909.6,332.5 910.3,339.2 911.0,341.5 911.6,341.8 912.3,340.6 913.0,341.7 913.6,337.1 914.3,333.2 914.9,331.0 915.6,330.1 916.3,325.7 916.9,325.7 917.6,321.3 918.3,321.9 918.9,322.8 919.6,318.5 920.3,324.4 920.9,328.5 921.6,331.4 922.3,336.2 922.9,343.8 923.6,346.3 924.3,345.3 924.9,343.1 925.6,343.3 926.3,342.0 926.9,346.2 927.6,344.4 928.3,340.8 928.9,337.8 929.6,331.7 930.3,327.6 930.9,323.6 931.6,321.8 932.3,321.9 932.9,318.4 933.6,319.7 934.3,318.2 934.9,318.0 935.6,321.4 936.3,319.8 936.9,323.6 937.6,323.6 938.2,327.7 938.9,324.8 939.6,324.6 940.2,323.0 940.9,321.0 941.6,319.8 942.2,316.9 942.9,316.1 943.6,314.4 944.2,315.9 944.9,310.1 945.6,310.3 946.2,308.6 946.9,307.3 947.6,303.5 948.2,305.6 948.9,303.7 949.6,306.4 950.2,308.1 950.9,311.9 951.6,315.8 952.2,319.6 952.9,317.2 953.6,315.1 954.2,312.4 954.9,314.2 955.6,310.6 956.2,307.3 956.9,306.5 957.6,307.9 958.2,310.0 958.9,312.2 959.5,314.8 960.2,316.7 960.9,315.7 961.5,318.7 962.2,319.9 962.9,319.0 963.5,318.4 964.2,316.8 964.9,318.0 965.5,324.1 966.2,331.4 966.9,333.2 967.5,338.0 968.2,341.1 968.9,340.5 969.5,338.9 970.2,335.5 970.9,332.8 971.5,329.6 972.2,328.4 972.9,325.4 973.5,326.5 974.2,324.6 974.9,322.6 975.5,325.6 976.2,330.4 976.9,335.9 977.5,335.8 978.2,331.9 978.9,332.9 979.5,333.1 980.2,333.7 980.8,333.0 981.5,335.8 982.2,333.7 982.8,336.3 983.5,333.7 984.2,334.4 984.8,329.8 985.5,328.7 986.2,331.2 986.8,328.3 987.5,324.7 988.2,329.6 988.8,331.8 989.5,333.7 990.2,340.1 990.8,337.7 991.5,337.3 992.2,337.2 992.8,339.8 993.5,339.7 994.2,343.4 994.8,347.1 995.5,348.3 996.2,351.0 996.8,348.1 997.5,348.4 998.2,344.8 998.8,345.0 999.5,345.6 1000.2,344.9 1000.8,338.3 1001.5,335.8 1002.2,337.6 1002.8,339.0 1003.5,341.7 1004.1,337.7 1004.8,338.7 1005.5,339.1 1006.1,336.2 1006.8,333.7 1007.5,333.4 1008.1,332.1 1008.8,329.0 1009.5,328.5 1010.1,329.5 1010.8,325.9 1011.5,324.2 1012.1,324.4 1012.8,320.2 1013.5,322.3 1014.1,321.2 1014.8,322.8 1015.5,322.6 1016.1,320.1 1016.8,316.4 1017.5,313.3 1018.1,313.5 1018.8,313.1 1019.5,312.6 1020.1,308.9 1020.8,308.2 1021.5,310.9 1022.1,309.3 1022.8,306.5 1023.5,308.1 1024.1,309.4 1024.8,312.1 1025.4,314.5 1026.1,314.9 1026.8,312.9 1027.4,309.8 1028.1,305.8 1028.8,303.9 1029.4,304.1 1030.1,307.3 1030.8,309.0 1031.4,304.6 1032.1,299.6 1032.8,296.0 1033.4,293.2 1034.1,290.6 1034.8,292.3 1035.4,291.3 1036.1,292.5 1036.8,295.0 1037.4,293.8 1038.1,294.6 1038.8,297.4 1039.4,297.3 1040.1,297.5 1040.8,296.5 1041.4,297.3 1042.1,300.8 1042.8,306.7 1043.4,311.0 1044.1,314.4 1044.8,321.3 1045.4,330.1 1046.1,333.5 1046.8,337.4 1047.4,340.1 1048.1,343.8 1048.7,347.9 1049.4,348.9 1050.1,354.1 1050.7,357.5 1051.4,361.6 1052.1,365.3 1052.7,365.1 1053.4,363.7 1054.1,360.4 1054.7,358.0 1055.4,358.7 1056.1,361.4 1056.7,365.4 1057.4,367.8 1058.1,369.9 1058.7,374.6 1059.4,376.8 1060.1,379.8 1060.7,379.8 1061.4,377.9 1062.1,376.1 1062.7,379.6 1063.4,378.4 1064.1,374.9 1064.7,373.3 1065.4,376.7 1066.1,379.0 1066.7,381.8 1067.4,386.0 1068.1,388.8 1068.7,389.9 1069.4,386.8 1070.0,390.4 1070.7,391.0 1071.4,395.0 1072.0,392.1 1072.7,392.4 1073.4,390.5 1074.0,389.6 1074.7,395.0 1075.4,400.1 1076.0,406.0 1076.7,408.6 1077.4,408.0 1078.0,408.9 1078.7,407.1 1079.4,405.5 1080.0,404.4 1080.7,402.4 1081.4,402.1 1082.0,395.9 1082.7,397.0 1083.4,394.7 1084.0,397.3 1084.7,399.6 1085.4,397.3 1086.0,396.9 1086.7,397.1 1087.4,392.3 1088.0,387.4 1088.7,383.7 1089.4,383.9 1090.0,388.0 1090.7,388.8 1091.4,392.6 1092.0,397.3 1092.7,402.1 1093.3,403.0 1094.0,401.0 1094.7,398.7 1095.3,397.5 1096.0,395.4 1096.7,393.2 1097.3,390.4 1098.0,393.9 1098.7,393.0 1099.3,394.9 1100.0,388.7 1100.7,384.4 1101.3,381.1 1102.0,383.0 1102.7,384.9 1103.3,382.3 1104.0,378.4 1104.7,381.0 1105.3,383.0 1106.0,381.7 1106.7,380.8 1107.3,380.9 1108.0,379.2 1108.7,377.8 1109.3,378.8 1110.0,379.7 1110.7,379.9 1111.3,381.4 1112.0,380.3 1112.7,377.7 1113.3,377.9 1114.0,372.3 1114.6,375.2 1115.3,375.4 1116.0,374.9 1116.6,372.8 1117.3,374.2 1118.0,372.0 1118.6,366.8 1119.3,362.0 1120.0,360.4 1120.6,359.7 1121.3,358.0 1122.0,355.5 1122.6,356.7 1123.3,357.1 1124.0,356.2 1124.6,356.9 1125.3,351.7 1126.0,352.8 1126.6,352.7 1127.3,355.0 1128.0,356.2 1128.6,355.3 1129.3,358.0 1130.0,360.7 1130.6,364.4 1131.3,368.3 1132.0,363.7 1132.6,361.9 1133.3,357.3 1134.0,354.6 1134.6,350.3 1135.3,348.5 1135.9,351.8 1136.6,354.9 1137.3,360.0 1137.9,362.4 1138.6,362.9 1139.3,363.1 1139.9,361.7 1140.6,363.3 1141.3,364.4 1141.9,363.9 1142.6,362.8 1143.3,365.1 1143.9,363.1 1144.6,364.0 1145.3,363.7 1145.9,367.2 1146.6,364.7 1147.3,361.8 1147.9,363.7 1148.6,369.1 1149.3,371.4 1149.9,369.9 1150.6,370.2 1151.3,373.7 1151.9,374.8 1152.6,377.1 1153.3,375.9 1153.9,370.3 1154.6,366.5 1155.3,364.6 1155.9,369.5 1156.6,369.5 1157.3,368.8 1157.9,368.9 1158.6,371.0 1159.2,370.4 1159.9,370.6 1160.6,370.3 1161.2,374.1 1161.9,378.6 1162.6,383.7 1163.2,383.8 1163.9,386.5 1164.6,383.0 1165.2,378.3 1165.9,375.0 1166.6,372.6 1167.2,370.6 1167.9,371.5 1168.6,372.9 1169.2,372.8 1169.9,370.8 1170.6,365.6 1171.2,367.6 1171.9,363.8 1172.6,362.6 1173.2,361.0 1173.9,358.9 1174.6,360.6 1175.2,359.7 1175.9,357.9 1176.6,356.6 1177.2,354.8 1177.9,351.1 1178.6,351.5 1179.2,349.3 1179.9,348.8 1180.5,349.9 1181.2,352.0 1181.9,354.4 1182.5,354.4 1183.2,354.4 1183.9,358.4 1184.5,358.8 1185.2,361.9 1185.9,364.4 1186.5,366.2 1187.2,366.0 1187.9,366.1 1188.5,366.3 1189.2,366.8 1189.9,372.6 1190.5,374.9 1191.2,375.1 1191.9,376.8 1192.5,379.2 1193.2,376.4 1193.9,376.0 1194.5,376.9 1195.2,374.7 1195.9,374.2 1196.5,368.0 1197.2,365.2 1197.9,362.3 1198.5,360.2 1199.2,359.6 1199.9,358.5 1200.5,355.9 1201.2,355.4 1201.9,355.3 1202.5,356.5 1203.2,356.1 1203.8,355.7 1204.5,353.2 1205.2,353.7 1205.8,354.1 1206.5,355.5 1207.2,359.3 1207.8,359.2 1208.5,360.3 1209.2,363.8 1209.8,365.2 1210.5,369.1 1211.2,368.3 1211.8,370.1 1212.5,366.9 1213.2,366.7 1213.8,370.8 1214.5,375.5 1215.2,378.5 1215.8,377.0 1216.5,380.0 1217.2,383.8 1217.8,381.1 1218.5,380.9 1219.2,374.9 1219.8,374.7 1220.5,373.5 1221.2,371.3 1221.8,369.6 1222.5,367.8 1223.2,367.6 1223.8,364.7 1224.5,369.2 1225.1,371.8 1225.8,371.0 1226.5,372.3 1227.1,374.5 1227.8,375.0 1228.5,373.8 1229.1,374.2 1229.8,376.8 1230.5,379.2 1231.1,381.9 1231.8,383.4 1232.5,382.2 1233.1,386.4 1233.8,388.8 1234.5,390.6 1235.1,393.1 1235.8,399.1 1236.5,398.3 1237.1,400.2 1237.8,406.9 1238.5,409.1 1239.1,407.9 1239.8,406.2 1240.5,406.6 1241.1,412.0 1241.8,410.5 1242.5,408.2 1243.1,406.4 1243.8,402.4 1244.5,395.4 1245.1,394.5 1245.8,397.4 1246.5,399.2 1247.1,403.0 1247.8,405.2 1248.4,405.3 1249.1,399.1 1249.8,400.1 1250.4,401.4 1251.1,402.5 1251.8,403.5 1252.4,402.6 1253.1,402.1 1253.8,402.5 1254.4,406.3 1255.1,405.6 1255.8,407.0 1256.4,405.2 1257.1,406.4 1257.8,406.7 1258.4,407.7 1259.1,409.4 1259.8,407.2 1260.4,403.8 1261.1,403.6 1261.8,405.8 1262.4,404.9 1263.1,404.6 1263.8,403.7 1264.4,405.9 1265.1,405.2 1265.8,402.2 1266.4,399.8 1267.1,400.1 1267.8,398.2 1268.4,399.0 1269.1,395.8 1269.7,397.5 1270.4,400.6 1271.1,400.3 1271.7,401.8 1272.4,402.8 1273.1,406.5 1273.7,408.2 1274.4,409.2 1275.1,406.2 1275.7,403.0 1276.4,402.6 1277.1,403.5 1277.7,403.0 1278.4,401.6 1279.1,401.7 1279.7,400.6 1280.4,401.8 1281.1,402.3 1281.7,402.0 1282.4,402.2 1283.1,399.7 1283.7,391.7 1284.4,391.6 1285.1,385.9 1285.7,384.4 1286.4,385.8 1287.1,386.1 1287.7,386.9 1288.4,387.9 1289.1,388.7 1289.7,387.5 1290.4,389.1 1291.1,387.9 1291.7,383.2 1292.4,382.3 1293.0,384.9 1293.7,386.5 1294.4,387.4 1295.0,390.3 1295.7,388.5 1296.4,388.6 1297.0,387.2 1297.7,388.6 1298.4,385.2 1299.0,384.8 1299.7,389.0 1300.4,390.5 1301.0,393.7 1301.7,391.5 1302.4,392.1 1303.0,394.8 1303.7,395.4 1304.4,393.9 1305.0,394.9 1305.7,394.7 1306.4,395.4 1307.0,396.2 1307.7,398.1 1308.4,400.9 1309.0,402.4 1309.7,400.6 1310.4,403.2 1311.0,404.3 1311.7,403.6 1312.4,404.4 1313.0,403.5 1313.7,402.2 1314.3,402.2 1315.0,398.0 1315.7,399.3 1316.3,400.3 1317.0,404.8 1317.7,406.6 1318.3,408.3 1319.0,410.7 1319.7,410.4 1320.3,412.7 1321.0,414.0 1321.7,416.2 1322.3,413.4 1323.0,411.7 1323.7,411.0 1324.3,408.6 1325.0,406.6 1325.7,403.2 1326.3,398.3 1327.0,394.0 1327.7,394.8 1328.3,396.8 1329.0,398.9 1329.7,396.4 1330.3,398.5 1331.0,399.4 1331.7,396.2 1332.3,394.3 1333.0,395.2 1333.7,393.7 1334.3,394.1 1335.0,394.4 1335.6,394.8 1336.3,397.7 1337.0,397.4 1337.6,397.9 1338.3,398.0 1339.0,397.3 1339.6,400.6 1340.3,401.6 1341.0,400.8 1341.6,401.1 1342.3,401.4 1343.0,400.1 1343.6,400.5 1344.3,400.6 1345.0,402.9 1345.6,402.8 1346.3,401.1 1347.0,399.9 1347.6,401.1 1348.3,400.7 1349.0,404.1 1349.6,404.9 1350.3,407.8 1351.0,407.1 1351.6,406.9 1352.3,403.4 1353.0,401.7 1353.6,403.7 1354.3,403.5 1355.0,403.7 1355.6,400.5 1356.3,399.8 1357.0,398.3 1357.6,395.9 1358.3,397.3 1358.9,396.2 1359.6,396.9 1360.3,396.3 1360.9,392.4 1361.6,391.7 1362.3,393.7 1362.9,396.3 1363.6,399.5 1364.3,399.7 1364.9,399.3 1365.6,399.0 1366.3,397.4 1366.9,399.0 1367.6,400.9 1368.3,401.0 1368.9,398.6 1369.6,398.3 1370.3,396.9 1370.9,399.1 1371.6,398.0 1372.3,398.2 1372.9,398.1 1373.6,398.3 1374.3,398.2 1374.9,397.7 1375.6,394.2 1376.3,398.4 1376.9,402.4 1377.6,406.0 1378.3,407.7 1378.9,409.9 1379.6,412.3 1380.2,413.5 1380.9,412.8 1381.6,414.5 1382.2,413.4 1382.9,413.4 1383.6,411.2 1384.2,409.4 1384.9,409.8 1385.6,412.3 1386.2,414.4 1386.9,412.9 1387.6,410.3 1388.2,411.6 1388.9,410.3 1389.6,409.5 1390.2,409.6 1390.9,409.5 1391.6,413.4 1392.2,415.9 1392.9,418.2 1393.6,417.9 1394.2,418.8 1394.9,416.3 1395.6,412.9 1396.2,411.1 1396.9,409.9 1397.6,410.1 1398.2,408.0 1398.9,405.8 1399.6,405.5 1400.2,402.4 1400.9,403.2 1401.6,402.3 1402.2,403.5 1402.9,399.8 1403.5,403.3 1404.2,403.6 1404.9,401.5 1405.5,401.6 1406.2,401.4 1406.9,401.7 1407.5,403.7 1408.2,402.7 1408.9,402.6 1409.5,402.2 1410.2,400.7 1410.9,401.0 1411.5,401.8 1412.2,400.0 1412.9,399.1 1413.5,399.0 1414.2,397.9 1414.9,394.9 1415.5,394.2 1416.2,392.8 1416.9,392.6 1417.5,391.4 1418.2,392.9 1418.9,390.2 1419.5,388.9 1420.2,386.9 1420.9,389.7 1421.5,393.4 1422.2,393.8 1422.9,394.8 1423.5,394.2 1424.2,391.2 1424.8,389.4 1425.5,389.1 1426.2,389.2 1426.8,387.5 1427.5,386.3 1428.2,386.1 1428.8,387.1 1429.5,387.4 1430.2,389.3 1430.8,390.6 1431.5,389.3 1432.2,391.9 1432.8,395.1 1433.5,396.2 1434.2,400.2 1434.8,400.2 1435.5,400.4 1436.2,399.2 1436.8,398.0 1437.5,400.2 1438.2,400.3 1438.8,400.7 1439.5,401.3 1440.2,404.1 1440.8,405.1 1441.5,405.7 1442.2,406.0 1442.8,407.3 1443.5,406.2 1444.2,407.8 1444.8,408.2 1445.5,409.0 1446.2,410.0 1446.8,412.6 1447.5,412.5 1448.1,414.1 1448.8,415.3 1449.5,415.4 1450.1,415.3 1450.8,416.0 1451.5,417.0 1452.1,417.8 1452.8,419.0 1453.5,418.6 1454.1,419.3 1454.8,418.7 1455.5,418.3 1456.1,417.1 1456.8,415.4 1457.5,414.6 1458.1,411.9 1458.8,410.1 1459.5,409.0 1460.1,409.4 1460.8,409.0 1461.5,411.3 1462.1,414.2 1462.8,412.9 1463.5,411.8 1464.1,409.1 1464.8,408.5 1465.5,408.7 1466.1,407.2 1466.8,407.5 1467.5,408.1 1468.1,408.9 1468.8,410.5 1469.4,410.3 1470.1,409.5 1470.8,409.7 1471.4,409.4 1472.1,409.3 1472.8,408.9 1473.4,408.7 1474.1,408.9 1474.8,408.0 1475.4,407.0 1476.1,405.6 1476.8,406.0 1477.4,409.1 1478.1,408.3 1478.8,405.8 1479.4,406.5 1480.1,405.5 1480.8,405.1 1481.4,404.3 1482.1,404.7 1482.8,404.7 1483.4,404.9 1484.1,403.7 1484.8,403.8 1485.4,404.4 1486.1,404.4 1486.8,404.5 1487.4,402.4 1488.1,402.1 1488.8,401.1 1489.4,403.3 1490.1,403.3 1490.7,405.1 1491.4,403.2 1492.1,400.1 1492.7,398.4 1493.4,398.9 1494.1,400.2 1494.7,399.6 1495.4,400.9 1496.1,400.6 1496.7,399.8 1497.4,398.6 1498.1,399.7 1498.7,399.8 1499.4,400.2 1500.1,399.2 1500.7,399.5 1501.4,399.4 1502.1,399.3 1502.7,397.3 1503.4,396.3 1504.1,395.9 1504.7,395.6 1505.4,395.7 1506.1,394.2 1506.7,394.6 1507.4,393.8 1508.1,392.7 1508.7,392.0 1509.4,391.1 1510.1,389.7 1510.7,390.1 1511.4,390.0 1512.1,388.8 1512.7,388.2 1513.4,389.6 1514.0,388.9 1514.7,389.4 1515.4,389.8 1516.0,389.4 1516.7,388.3 1517.4,387.7 1518.0,387.8 1518.7,387.5 1519.4,387.8 1520.0,388.8 1520.7,387.7 1521.4,388.4 1522.0,387.6 1522.7,385.9 1523.4,384.5 1524.0,385.0 1524.7,385.9 1525.4,386.2 1526.0,385.4 1526.7,384.9 1527.4,384.7 1528.0,383.4 1528.7,382.1 1529.4,382.5 1530.0,383.0 1530.7,383.0 1531.4,383.0 1532.0,383.6 1532.7,383.5 1533.4,383.0 1534.0,382.4 1534.7,382.3 1535.3,383.1 1536.0,383.0 1536.7,383.5 1537.3,383.9 1538.0,384.3 1538.7,384.3 1539.3,381.9 1540.0,382.7 1540.7,382.5 1541.3,382.7 1542.0,382.7 1542.7,382.7 1543.3,382.1 1544.0,381.8 1544.7,381.7 1545.3,381.6 1546.0,381.7" fill="none" stroke="#e13342" stroke-width="3.9" stroke-linejoin="round"/>
<path d="M881.0,264.7 881.7,267.0 882.3,266.1 883.0,265.0 883.7,266.8 884.3,270.0 885.0,273.0 885.7,274.3 886.3,274.6 887.0,278.4 887.7,276.3 888.3,275.8 889.0,276.6 889.7,278.1 890.3,281.3 891.0,281.6 891.7,281.8 892.3,278.0 893.0,275.0 893.6,268.3 894.3,267.2 895.0,267.4 895.6,269.5 896.3,269.5 897.0,271.7 897.6,273.3 898.3,271.7 899.0,272.3 899.6,278.9 900.3,282.7 901.0,281.7 901.6,275.5 902.3,274.1 903.0,270.8 903.6,271.4 904.3,271.6 905.0,276.1 905.6,273.8 906.3,271.9 907.0,266.8 907.6,261.6 908.3,262.2 909.0,261.2 909.6,266.8 910.3,265.9 911.0,262.6 911.6,264.0 912.3,260.5 913.0,258.7 913.6,258.2 914.3,258.2 914.9,261.4 915.6,266.0 916.3,266.3 916.9,268.6 917.6,270.6 918.3,270.8 918.9,270.0 919.6,272.5 920.3,271.1 920.9,271.2 921.6,270.9 922.3,268.9 922.9,269.0 923.6,267.0 924.3,266.3 924.9,264.7 925.6,262.7 926.3,259.6 926.9,259.0 927.6,257.9 928.3,254.5 928.9,255.5 929.6,255.5 930.3,253.4 930.9,254.5 931.6,253.2 932.3,252.5 932.9,250.5 933.6,254.2 934.3,255.5 934.9,256.4 935.6,252.3 936.3,249.0 936.9,249.3 937.6,248.2 938.2,247.7 938.9,251.0 939.6,255.3 940.2,256.8 940.9,261.4 941.6,255.7 942.2,252.4 942.9,247.9 943.6,249.2 944.2,252.1 944.9,251.4 945.6,253.2 946.2,254.5 946.9,253.1 947.6,249.0 948.2,249.4 948.9,254.5 949.6,257.0 950.2,254.5 950.9,253.0 951.6,254.1 952.2,255.1 952.9,259.4 953.6,264.9 954.2,271.8 954.9,276.6 955.6,273.9 956.2,267.5 956.9,262.6 957.6,257.6 958.2,255.0 958.9,252.5 959.5,249.9 960.2,248.6 960.9,245.0 961.5,244.8 962.2,245.4 962.9,244.1 963.5,248.5 964.2,250.4 964.9,250.7 965.5,249.1 966.2,244.2 966.9,243.4 967.5,245.2 968.2,241.6 968.9,241.0 969.5,239.2 970.2,238.2 970.9,237.2 971.5,237.3 972.2,234.7 972.9,233.4 973.5,230.1 974.2,227.4 974.9,226.0 975.5,223.8 976.2,224.9 976.9,226.3 977.5,228.5 978.2,224.6 978.9,222.9 979.5,221.6 980.2,219.9 980.8,216.0 981.5,213.1 982.2,209.2 982.8,209.0 983.5,205.1 984.2,201.3 984.8,197.1 985.5,194.4 986.2,194.3 986.8,193.6 987.5,191.8 988.2,188.4 988.8,187.2 989.5,188.9 990.2,190.4 990.8,194.4 991.5,199.9 992.2,208.2 992.8,212.4 993.5,211.7 994.2,213.4 994.8,210.9 995.5,208.8 996.2,207.0 996.8,210.2 997.5,210.2 998.2,205.7 998.8,199.0 999.5,194.0 1000.2,191.7 1000.8,197.4 1001.5,195.1 1002.2,194.0 1002.8,191.9 1003.5,191.0 1004.1,184.8 1004.8,186.7 1005.5,187.9 1006.1,189.3 1006.8,186.6 1007.5,187.6 1008.1,195.6 1008.8,200.7 1009.5,205.3 1010.1,204.8 1010.8,208.1 1011.5,211.3 1012.1,211.2 1012.8,216.0 1013.5,214.9 1014.1,214.1 1014.8,214.0 1015.5,210.0 1016.1,209.8 1016.8,212.5 1017.5,214.3 1018.1,217.5 1018.8,222.9 1019.5,222.0 1020.1,220.9 1020.8,220.2 1021.5,215.3 1022.1,217.9 1022.8,216.6 1023.5,215.9 1024.1,215.9 1024.8,216.5 1025.4,213.4 1026.1,206.3 1026.8,200.5 1027.4,198.0 1028.1,197.9 1028.8,196.0 1029.4,192.3 1030.1,189.2 1030.8,188.5 1031.4,181.1 1032.1,176.1 1032.8,174.9 1033.4,170.6 1034.1,168.9 1034.8,172.0 1035.4,178.3 1036.1,180.0 1036.8,182.7 1037.4,183.3 1038.1,185.2 1038.8,188.4 1039.4,188.8 1040.1,190.8 1040.8,191.0 1041.4,194.9 1042.1,193.5 1042.8,190.7 1043.4,190.5 1044.1,190.4 1044.8,189.4 1045.4,185.2 1046.1,183.4 1046.8,185.4 1047.4,188.3 1048.1,187.8 1048.7,187.6 1049.4,187.9 1050.1,191.3 1050.7,191.1 1051.4,190.4 1052.1,190.8 1052.7,192.4 1053.4,194.5 1054.1,194.8 1054.7,193.6 1055.4,197.2 1056.1,196.5 1056.7,191.4 1057.4,190.2 1058.1,187.3 1058.7,184.1 1059.4,183.4 1060.1,178.7 1060.7,176.3 1061.4,176.4 1062.1,176.1 1062.7,175.3 1063.4,174.4 1064.1,175.7 1064.7,176.3 1065.4,170.5 1066.1,169.5 1066.7,169.8 1067.4,171.8 1068.1,168.6 1068.7,167.3 1069.4,162.3 1070.0,161.7 1070.7,164.1 1071.4,162.2 1072.0,164.8 1072.7,167.3 1073.4,170.2 1074.0,169.9 1074.7,167.9 1075.4,169.1 1076.0,167.4 1076.7,167.4 1077.4,167.6 1078.0,165.7 1078.7,166.9 1079.4,166.6 1080.0,162.2 1080.7,159.4 1081.4,157.8 1082.0,157.8 1082.7,155.3 1083.4,156.1 1084.0,152.0 1084.7,150.0 1085.4,148.7 1086.0,148.3 1086.7,149.8 1087.4,151.5 1088.0,153.6 1088.7,157.3 1089.4,158.6 1090.0,157.4 1090.7,157.6 1091.4,156.0 1092.0,158.3 1092.7,161.2 1093.3,161.8 1094.0,163.1 1094.7,167.8 1095.3,168.4 1096.0,165.4 1096.7,162.4 1097.3,159.4 1098.0,160.0 1098.7,158.0 1099.3,163.9 1100.0,164.3 1100.7,163.4 1101.3,164.0 1102.0,164.4 1102.7,169.9 1103.3,176.3 1104.0,179.8 1104.7,181.7 1105.3,184.2 1106.0,182.8 1106.7,183.8 1107.3,182.4 1108.0,185.3 1108.7,177.4 1109.3,175.5 1110.0,174.4 1110.7,178.0 1111.3,175.1 1112.0,175.7 1112.7,178.7 1113.3,176.8 1114.0,178.3 1114.6,178.0 1115.3,179.8 1116.0,178.4 1116.6,178.2 1117.3,175.4 1118.0,173.4 1118.6,177.3 1119.3,177.4 1120.0,179.5 1120.6,178.7 1121.3,175.8 1122.0,174.4 1122.6,176.5 1123.3,179.2 1124.0,181.4 1124.6,181.4 1125.3,186.8 1126.0,183.7 1126.6,184.9 1127.3,184.5 1128.0,184.6 1128.6,185.9 1129.3,183.4 1130.0,185.4 1130.6,179.5 1131.3,179.9 1132.0,181.6 1132.6,183.5 1133.3,183.7 1134.0,185.5 1134.6,185.8 1135.3,185.8 1135.9,185.6 1136.6,186.0 1137.3,186.0 1137.9,186.6 1138.6,186.4 1139.3,183.4 1139.9,184.2 1140.6,185.2 1141.3,182.6 1141.9,187.8 1142.6,190.6 1143.3,195.2 1143.9,196.5 1144.6,193.0 1145.3,192.3 1145.9,187.4 1146.6,186.2 1147.3,186.4 1147.9,192.2 1148.6,196.4 1149.3,201.3 1149.9,207.6 1150.6,208.3 1151.3,211.0 1151.9,211.8 1152.6,211.2 1153.3,212.3 1153.9,212.9 1154.6,214.4 1155.3,216.9 1155.9,214.3 1156.6,211.0 1157.3,212.1 1157.9,217.5 1158.6,221.5 1159.2,221.6 1159.9,220.5 1160.6,222.1 1161.2,222.4 1161.9,222.4 1162.6,225.8 1163.2,232.4 1163.9,231.2 1164.6,231.5 1165.2,233.1 1165.9,233.4 1166.6,236.0 1167.2,233.8 1167.9,234.9 1168.6,236.2 1169.2,238.5 1169.9,238.7 1170.6,240.2 1171.2,241.6 1171.9,242.4 1172.6,244.1 1173.2,243.1 1173.9,246.1 1174.6,247.2 1175.2,248.9 1175.9,246.3 1176.6,247.3 1177.2,246.1 1177.9,245.9 1178.6,247.1 1179.2,244.3 1179.9,250.9 1180.5,254.5 1181.2,253.5 1181.9,252.7 1182.5,252.4 1183.2,251.7 1183.9,249.0 1184.5,248.4 1185.2,245.7 1185.9,243.7 1186.5,245.8 1187.2,242.7 1187.9,239.7 1188.5,242.2 1189.2,242.9 1189.9,244.3 1190.5,241.2 1191.2,240.8 1191.9,236.0 1192.5,234.9 1193.2,235.3 1193.9,238.9 1194.5,242.6 1195.2,242.8 1195.9,239.8 1196.5,235.0 1197.2,230.2 1197.9,231.1 1198.5,230.5 1199.2,226.9 1199.9,229.2 1200.5,231.3 1201.2,228.2 1201.9,228.1 1202.5,223.5 1203.2,224.0 1203.8,222.6 1204.5,222.4 1205.2,221.5 1205.8,219.5 1206.5,220.5 1207.2,218.9 1207.8,216.4 1208.5,217.5 1209.2,213.3 1209.8,212.9 1210.5,214.2 1211.2,214.8 1211.8,211.1 1212.5,208.9 1213.2,209.8 1213.8,207.1 1214.5,206.9 1215.2,206.1 1215.8,210.6 1216.5,211.6 1217.2,215.3 1217.8,219.6 1218.5,219.6 1219.2,216.1 1219.8,213.6 1220.5,210.2 1221.2,215.1 1221.8,211.9 1222.5,210.4 1223.2,210.4 1223.8,211.0 1224.5,213.1 1225.1,215.4 1225.8,215.0 1226.5,212.7 1227.1,207.5 1227.8,202.8 1228.5,201.4 1229.1,201.5 1229.8,203.1 1230.5,199.8 1231.1,199.2 1231.8,200.0 1232.5,200.7 1233.1,199.7 1233.8,199.9 1234.5,201.1 1235.1,203.9 1235.8,204.0 1236.5,205.0 1237.1,207.3 1237.8,209.3 1238.5,209.4 1239.1,212.5 1239.8,209.8 1240.5,210.9 1241.1,209.3 1241.8,212.8 1242.5,211.9 1243.1,211.9 1243.8,214.5 1244.5,213.8 1245.1,216.0 1245.8,215.0 1246.5,219.6 1247.1,215.9 1247.8,215.3 1248.4,217.0 1249.1,218.7 1249.8,218.5 1250.4,216.5 1251.1,216.9 1251.8,218.8 1252.4,224.5 1253.1,225.3 1253.8,226.6 1254.4,224.9 1255.1,224.3 1255.8,222.0 1256.4,224.1 1257.1,222.0 1257.8,224.3 1258.4,224.1 1259.1,219.3 1259.8,219.6 1260.4,216.4 1261.1,220.2 1261.8,217.8 1262.4,216.1 1263.1,211.4 1263.8,205.3 1264.4,202.4 1265.1,205.3 1265.8,204.8 1266.4,206.7 1267.1,206.4 1267.8,211.6 1268.4,212.6 1269.1,215.4 1269.7,216.2 1270.4,213.7 1271.1,211.1 1271.7,205.0 1272.4,201.3 1273.1,202.5 1273.7,202.3 1274.4,199.4 1275.1,201.3 1275.7,198.7 1276.4,197.6 1277.1,198.8 1277.7,200.7 1278.4,204.7 1279.1,207.1 1279.7,209.1 1280.4,208.9 1281.1,206.0 1281.7,202.0 1282.4,203.7 1283.1,200.7 1283.7,201.7 1284.4,198.1 1285.1,198.0 1285.7,189.2 1286.4,187.5 1287.1,184.2 1287.7,186.6 1288.4,187.5 1289.1,186.4 1289.7,186.2 1290.4,188.9 1291.1,189.6 1291.7,189.8 1292.4,190.8 1293.0,188.8 1293.7,192.3 1294.4,193.8 1295.0,187.4 1295.7,184.9 1296.4,184.3 1297.0,189.5 1297.7,190.2 1298.4,188.5 1299.0,191.3 1299.7,191.6 1300.4,190.3 1301.0,190.5 1301.7,187.0 1302.4,185.6 1303.0,186.2 1303.7,185.5 1304.4,184.1 1305.0,181.6 1305.7,184.2 1306.4,181.3 1307.0,177.9 1307.7,177.3 1308.4,175.7 1309.0,175.6 1309.7,175.9 1310.4,175.7 1311.0,174.0 1311.7,175.0 1312.4,179.3 1313.0,179.7 1313.7,184.7 1314.3,190.2 1315.0,191.2 1315.7,196.4 1316.3,197.7 1317.0,201.9 1317.7,203.3 1318.3,204.8 1319.0,202.5 1319.7,203.7 1320.3,203.0 1321.0,202.4 1321.7,199.9 1322.3,201.7 1323.0,208.8 1323.7,212.5 1324.3,215.6 1325.0,214.4 1325.7,213.3 1326.3,212.8 1327.0,212.4 1327.7,213.4 1328.3,212.8 1329.0,214.2 1329.7,214.5 1330.3,217.0 1331.0,218.5 1331.7,219.3 1332.3,216.5 1333.0,212.6 1333.7,211.7 1334.3,211.0 1335.0,211.2 1335.6,210.3 1336.3,214.5 1337.0,213.7 1337.6,213.6 1338.3,209.8 1339.0,205.6 1339.6,203.2 1340.3,202.1 1341.0,203.8 1341.6,199.3 1342.3,202.0 1343.0,205.3 1343.6,208.7 1344.3,210.4 1345.0,209.8 1345.6,209.0 1346.3,209.6 1347.0,206.5 1347.6,206.9 1348.3,207.3 1349.0,207.1 1349.6,209.3 1350.3,206.9 1351.0,203.1 1351.6,200.1 1352.3,197.3 1353.0,197.8 1353.6,197.0 1354.3,197.0 1355.0,200.2 1355.6,202.0 1356.3,199.3 1357.0,201.1 1357.6,199.9 1358.3,203.7 1358.9,203.0 1359.6,201.6 1360.3,204.1 1360.9,204.2 1361.6,203.7 1362.3,204.2 1362.9,207.7 1363.6,207.4 1364.3,205.9 1364.9,206.6 1365.6,204.3 1366.3,201.6 1366.9,198.5 1367.6,198.0 1368.3,196.6 1368.9,197.2 1369.6,198.5 1370.3,201.4 1370.9,197.8 1371.6,198.3 1372.3,198.4 1372.9,202.3 1373.6,204.7 1374.3,205.6 1374.9,205.4 1375.6,204.7 1376.3,202.4 1376.9,204.0 1377.6,203.3 1378.3,201.6 1378.9,199.9 1379.6,199.4 1380.2,201.4 1380.9,200.6 1381.6,200.5 1382.2,197.7 1382.9,197.4 1383.6,197.4 1384.2,197.2 1384.9,199.4 1385.6,199.6 1386.2,200.2 1386.9,201.4 1387.6,201.6 1388.2,201.7 1388.9,200.8 1389.6,201.4 1390.2,203.2 1390.9,206.5 1391.6,207.5 1392.2,210.7 1392.9,211.0 1393.6,211.6 1394.2,210.0 1394.9,209.7 1395.6,210.8 1396.2,209.7 1396.9,209.7 1397.6,208.5 1398.2,206.9 1398.9,205.4 1399.6,205.1 1400.2,204.8 1400.9,204.5 1401.6,207.3 1402.2,208.0 1402.9,207.2 1403.5,211.3 1404.2,214.7 1404.9,216.4 1405.5,217.3 1406.2,218.9 1406.9,221.0 1407.5,219.2 1408.2,221.0 1408.9,221.3 1409.5,222.8 1410.2,223.4 1410.9,224.1 1411.5,225.9 1412.2,228.5 1412.9,229.0 1413.5,231.1 1414.2,229.1 1414.9,229.2 1415.5,229.7 1416.2,229.7 1416.9,230.5 1417.5,227.7 1418.2,227.3 1418.9,228.2 1419.5,228.6 1420.2,227.2 1420.9,226.8 1421.5,226.8 1422.2,225.5 1422.9,227.8 1423.5,227.7 1424.2,227.0 1424.8,227.3 1425.5,226.5 1426.2,226.3 1426.8,226.5 1427.5,226.1 1428.2,228.0 1428.8,229.5 1429.5,232.6 1430.2,232.6 1430.8,234.4 1431.5,236.2 1432.2,237.5 1432.8,235.4 1433.5,234.9 1434.2,236.7 1434.8,238.8 1435.5,239.4 1436.2,240.1 1436.8,241.6 1437.5,241.0 1438.2,239.5 1438.8,241.3 1439.5,242.7 1440.2,244.2 1440.8,245.5 1441.5,249.2 1442.2,250.2 1442.8,250.3 1443.5,253.2 1444.2,252.7 1444.8,253.1 1445.5,254.0 1446.2,254.2 1446.8,253.8 1447.5,253.9 1448.1,251.9 1448.8,250.2 1449.5,250.1 1450.1,248.3 1450.8,249.7 1451.5,249.7 1452.1,249.1 1452.8,249.5 1453.5,249.6 1454.1,249.6 1454.8,249.5 1455.5,251.7 1456.1,253.4 1456.8,252.8 1457.5,254.6 1458.1,254.2 1458.8,255.0 1459.5,256.4 1460.1,258.8 1460.8,259.1 1461.5,259.7 1462.1,259.7 1462.8,258.8 1463.5,258.6 1464.1,260.1 1464.8,261.6 1465.5,262.2 1466.1,262.9 1466.8,263.7 1467.5,263.4 1468.1,263.5 1468.8,262.6 1469.4,261.5 1470.1,258.6 1470.8,256.8 1471.4,257.4 1472.1,258.0 1472.8,258.3 1473.4,259.2 1474.1,259.5 1474.8,259.8 1475.4,259.2 1476.1,259.7 1476.8,261.8 1477.4,260.9 1478.1,260.8 1478.8,261.0 1479.4,258.9 1480.1,256.6 1480.8,256.8 1481.4,257.4 1482.1,257.5 1482.8,259.3 1483.4,258.5 1484.1,260.3 1484.8,259.0 1485.4,257.1 1486.1,257.0 1486.8,257.1 1487.4,257.7 1488.1,257.8 1488.8,256.8 1489.4,255.0 1490.1,254.8 1490.7,254.9 1491.4,253.6 1492.1,254.0 1492.7,253.7 1493.4,253.3 1494.1,253.9 1494.7,254.0 1495.4,254.7 1496.1,255.9 1496.7,256.5 1497.4,257.6 1498.1,259.5 1498.7,258.7 1499.4,258.1 1500.1,257.6 1500.7,257.6 1501.4,258.4 1502.1,258.9 1502.7,258.2 1503.4,256.3 1504.1,256.9 1504.7,257.5 1505.4,257.8 1506.1,258.6 1506.7,260.3 1507.4,262.2 1508.1,262.0 1508.7,261.6 1509.4,260.7 1510.1,260.9 1510.7,260.8 1511.4,260.6 1512.1,259.5 1512.7,259.7 1513.4,261.1 1514.0,259.2 1514.7,260.8 1515.4,260.9 1516.0,260.6 1516.7,261.0 1517.4,261.3 1518.0,261.5 1518.7,262.3 1519.4,262.2 1520.0,262.1 1520.7,262.5 1521.4,263.1 1522.0,263.2 1522.7,262.4 1523.4,261.2 1524.0,261.3 1524.7,261.5 1525.4,262.0 1526.0,263.3 1526.7,263.9 1527.4,263.7 1528.0,264.5 1528.7,263.3 1529.4,264.6 1530.0,264.1 1530.7,264.5 1531.4,265.0 1532.0,264.2 1532.7,262.4 1533.4,261.6 1534.0,262.2 1534.7,261.2 1535.3,262.0 1536.0,263.4 1536.7,265.2 1537.3,265.7 1538.0,265.5 1538.7,265.0 1539.3,266.6 1540.0,267.6 1540.7,268.3 1541.3,268.5 1542.0,268.5 1542.7,266.5 1543.3,266.6 1544.0,266.5 1544.7,265.2 1545.3,266.2 1546.0,265.6" fill="none" stroke="#f37651" stroke-width="3.9" stroke-linejoin="round"/>
<path d="M881.0,198.6 881.7,196.3 882.3,195.2 883.0,191.7 883.7,193.7 884.3,193.9 885.0,195.6 885.7,192.1 886.3,190.9 887.0,188.7 887.7,188.0 888.3,184.9 889.0,180.4 889.7,176.5 890.3,173.1 891.0,172.6 891.7,170.4 892.3,169.1 893.0,163.0 893.6,161.5 894.3,159.8 895.0,157.6 895.6,155.8 896.3,157.8 897.0,160.3 897.6,165.4 898.3,164.6 899.0,164.8 899.6,169.2 900.3,177.2 901.0,181.1 901.6,186.1 902.3,190.4 903.0,191.4 903.6,192.9 904.3,191.3 905.0,189.6 905.6,191.8 906.3,198.2 907.0,206.0 907.6,210.3 908.3,213.1 909.0,211.4 909.6,206.5 910.3,202.8 911.0,203.9 911.6,203.7 912.3,210.3 913.0,213.7 913.6,215.6 914.3,221.7 914.9,226.7 915.6,231.3 916.3,230.8 916.9,231.4 917.6,232.5 918.3,235.6 918.9,240.8 919.6,245.5 920.3,245.2 920.9,247.9 921.6,249.9 922.3,248.0 922.9,243.5 923.6,235.3 924.3,230.5 924.9,224.9 925.6,221.8 926.3,221.1 926.9,220.5 927.6,218.8 928.3,213.8 928.9,207.7 929.6,204.6 930.3,206.0 930.9,207.5 931.6,210.4 932.3,212.7 932.9,213.2 933.6,217.8 934.3,221.1 934.9,216.5 935.6,210.8 936.3,211.5 936.9,209.7 937.6,210.5 938.2,208.6 938.9,211.2 939.6,210.4 940.2,208.6 940.9,205.8 941.6,210.6 942.2,218.9 942.9,219.1 943.6,217.9 944.2,215.1 944.9,210.9 945.6,206.4 946.2,202.2 946.9,204.0 947.6,204.9 948.2,205.4 948.9,208.4 949.6,207.0 950.2,212.5 950.9,213.6 951.6,215.7 952.2,220.1 952.9,221.7 953.6,223.0 954.2,222.9 954.9,226.4 955.6,231.2 956.2,231.7 956.9,234.9 957.6,237.7 958.2,239.2 958.9,238.7 959.5,240.7 960.2,244.1 960.9,242.9 961.5,239.5 962.2,237.8 962.9,237.4 963.5,240.3 964.2,244.4 964.9,248.5 965.5,249.8 966.2,252.3 966.9,252.1 967.5,250.0 968.2,247.0 968.9,251.0 969.5,248.5 970.2,252.4 970.9,257.1 971.5,258.2 972.2,256.7 972.9,256.1 973.5,255.3 974.2,255.9 974.9,257.7 975.5,256.7 976.2,255.7 976.9,253.8 977.5,255.3 978.2,255.3 978.9,252.4 979.5,250.7 980.2,253.5 980.8,253.0 981.5,255.2 982.2,260.2 982.8,262.5 983.5,269.4 984.2,273.4 984.8,276.8 985.5,281.1 986.2,282.8 986.8,286.4 987.5,283.3 988.2,280.8 988.8,275.1 989.5,271.7 990.2,270.1 990.8,270.0 991.5,272.3 992.2,268.1 992.8,265.7 993.5,260.3 994.2,258.7 994.8,260.6 995.5,259.4 996.2,259.5 996.8,261.8 997.5,262.2 998.2,262.2 998.8,259.3 999.5,258.7 1000.2,261.8 1000.8,259.3 1001.5,258.6 1002.2,256.8 1002.8,255.0 1003.5,256.7 1004.1,254.9 1004.8,257.5 1005.5,254.7 1006.1,255.9 1006.8,252.3 1007.5,252.2 1008.1,250.7 1008.8,253.8 1009.5,250.1 1010.1,247.9 1010.8,251.9 1011.5,253.6 1012.1,252.7 1012.8,249.5 1013.5,245.5 1014.1,243.9 1014.8,242.8 1015.5,242.9 1016.1,243.0 1016.8,244.4 1017.5,244.4 1018.1,241.5 1018.8,240.0 1019.5,242.5 1020.1,241.6 1020.8,243.9 1021.5,239.1 1022.1,238.8 1022.8,236.7 1023.5,237.8 1024.1,235.7 1024.8,233.1 1025.4,232.9 1026.1,228.9 1026.8,228.2 1027.4,229.2 1028.1,226.3 1028.8,225.5 1029.4,223.0 1030.1,222.7 1030.8,224.4 1031.4,226.9 1032.1,229.2 1032.8,227.4 1033.4,229.6 1034.1,229.4 1034.8,228.2 1035.4,231.7 1036.1,228.3 1036.8,228.2 1037.4,224.7 1038.1,221.5 1038.8,217.8 1039.4,213.7 1040.1,209.8 1040.8,208.4 1041.4,210.4 1042.1,210.5 1042.8,209.8 1043.4,209.6 1044.1,206.4 1044.8,202.0 1045.4,198.9 1046.1,202.4 1046.8,200.8 1047.4,201.3 1048.1,203.3 1048.7,202.1 1049.4,201.8 1050.1,197.4 1050.7,193.9 1051.4,191.0 1052.1,188.6 1052.7,191.5 1053.4,190.2 1054.1,190.6 1054.7,190.2 1055.4,192.0 1056.1,196.6 1056.7,195.7 1057.4,201.7 1058.1,203.4 1058.7,203.8 1059.4,200.0 1060.1,197.9 1060.7,194.2 1061.4,188.5 1062.1,191.8 1062.7,193.1 1063.4,193.2 1064.1,189.4 1064.7,190.2 1065.4,190.9 1066.1,189.2 1066.7,184.6 1067.4,183.7 1068.1,185.3 1068.7,185.6 1069.4,189.5 1070.0,187.2 1070.7,185.6 1071.4,179.5 1072.0,184.4 1072.7,189.8 1073.4,192.9 1074.0,191.6 1074.7,195.0 1075.4,194.5 1076.0,194.9 1076.7,194.2 1077.4,194.1 1078.0,194.8 1078.7,194.9 1079.4,199.5 1080.0,203.7 1080.7,207.1 1081.4,208.6 1082.0,208.1 1082.7,204.4 1083.4,204.2 1084.0,202.5 1084.7,201.8 1085.4,202.8 1086.0,203.6 1086.7,203.3 1087.4,208.3 1088.0,207.3 1088.7,207.9 1089.4,208.3 1090.0,207.4 1090.7,206.2 1091.4,199.4 1092.0,200.1 1092.7,205.4 1093.3,209.9 1094.0,211.2 1094.7,210.8 1095.3,211.0 1096.0,210.7 1096.7,207.1 1097.3,206.5 1098.0,208.2 1098.7,211.1 1099.3,214.8 1100.0,219.3 1100.7,219.3 1101.3,219.1 1102.0,214.1 1102.7,207.4 1103.3,206.8 1104.0,208.5 1104.7,207.8 1105.3,208.7 1106.0,210.1 1106.7,204.7 1107.3,209.6 1108.0,212.2 1108.7,212.5 1109.3,210.4 1110.0,206.4 1110.7,212.1 1111.3,209.9 1112.0,210.3 1112.7,206.1 1113.3,202.6 1114.0,201.6 1114.6,199.4 1115.3,199.0 1116.0,198.3 1116.6,200.0 1117.3,205.3 1118.0,207.8 1118.6,214.1 1119.3,215.2 1120.0,217.8 1120.6,220.5 1121.3,220.6 1122.0,222.0 1122.6,216.1 1123.3,211.8 1124.0,206.9 1124.6,208.5 1125.3,210.7 1126.0,208.9 1126.6,210.0 1127.3,206.4 1128.0,206.3 1128.6,210.1 1129.3,214.5 1130.0,221.8 1130.6,222.1 1131.3,222.2 1132.0,218.6 1132.6,215.0 1133.3,209.8 1134.0,206.4 1134.6,205.7 1135.3,204.4 1135.9,204.0 1136.6,201.3 1137.3,198.9 1137.9,195.1 1138.6,196.1 1139.3,197.8 1139.9,199.2 1140.6,199.8 1141.3,198.9 1141.9,197.8 1142.6,195.4 1143.3,193.7 1143.9,197.6 1144.6,201.6 1145.3,203.2 1145.9,206.2 1146.6,212.8 1147.3,218.5 1147.9,218.6 1148.6,221.8 1149.3,219.7 1149.9,221.5 1150.6,222.2 1151.3,228.9 1151.9,232.2 1152.6,233.6 1153.3,234.0 1153.9,232.9 1154.6,234.9 1155.3,236.1 1155.9,240.2 1156.6,240.8 1157.3,240.8 1157.9,240.0 1158.6,237.0 1159.2,233.6 1159.9,231.6 1160.6,234.1 1161.2,234.4 1161.9,234.9 1162.6,233.1 1163.2,232.5 1163.9,232.4 1164.6,233.5 1165.2,232.1 1165.9,230.6 1166.6,226.1 1167.2,224.4 1167.9,224.9 1168.6,226.5 1169.2,231.7 1169.9,230.1 1170.6,233.2 1171.2,234.0 1171.9,236.0 1172.6,238.4 1173.2,238.1 1173.9,239.6 1174.6,240.5 1175.2,236.7 1175.9,231.6 1176.6,228.2 1177.2,228.9 1177.9,228.8 1178.6,223.2 1179.2,223.5 1179.9,223.8 1180.5,224.7 1181.2,227.7 1181.9,227.4 1182.5,228.5 1183.2,232.9 1183.9,235.1 1184.5,236.2 1185.2,238.8 1185.9,238.7 1186.5,240.2 1187.2,237.5 1187.9,238.7 1188.5,239.6 1189.2,242.1 1189.9,244.5 1190.5,245.1 1191.2,248.5 1191.9,249.3 1192.5,250.0 1193.2,244.8 1193.9,243.2 1194.5,242.5 1195.2,246.7 1195.9,250.5 1196.5,251.2 1197.2,252.6 1197.9,252.2 1198.5,251.5 1199.2,249.1 1199.9,246.3 1200.5,249.1 1201.2,248.8 1201.9,251.4 1202.5,250.1 1203.2,251.4 1203.8,252.9 1204.5,252.0 1205.2,254.1 1205.8,250.4 1206.5,249.2 1207.2,242.2 1207.8,241.3 1208.5,240.8 1209.2,242.8 1209.8,249.2 1210.5,248.9 1211.2,250.8 1211.8,247.6 1212.5,246.6 1213.2,246.8 1213.8,247.7 1214.5,249.7 1215.2,250.7 1215.8,253.7 1216.5,254.8 1217.2,257.7 1217.8,257.0 1218.5,257.6 1219.2,254.5 1219.8,257.0 1220.5,259.9 1221.2,260.9 1221.8,262.0 1222.5,260.9 1223.2,261.2 1223.8,261.6 1224.5,262.9 1225.1,265.3 1225.8,266.3 1226.5,268.0 1227.1,270.6 1227.8,268.2 1228.5,270.0 1229.1,273.5 1229.8,274.9 1230.5,274.0 1231.1,274.9 1231.8,278.3 1232.5,281.3 1233.1,278.0 1233.8,278.5 1234.5,278.0 1235.1,279.3 1235.8,282.2 1236.5,285.6 1237.1,287.0 1237.8,284.4 1238.5,283.4 1239.1,280.9 1239.8,286.1 1240.5,285.2 1241.1,288.1 1241.8,290.2 1242.5,290.0 1243.1,288.4 1243.8,285.9 1244.5,285.5 1245.1,283.7 1245.8,285.7 1246.5,287.0 1247.1,288.8 1247.8,290.6 1248.4,293.6 1249.1,293.3 1249.8,293.6 1250.4,292.6 1251.1,290.4 1251.8,293.3 1252.4,296.2 1253.1,295.7 1253.8,290.5 1254.4,293.1 1255.1,295.9 1255.8,294.3 1256.4,293.5 1257.1,295.1 1257.8,291.8 1258.4,292.4 1259.1,292.5 1259.8,291.3 1260.4,293.1 1261.1,291.0 1261.8,293.6 1262.4,299.1 1263.1,293.9 1263.8,293.4 1264.4,294.6 1265.1,294.8 1265.8,292.3 1266.4,292.9 1267.1,292.7 1267.8,290.5 1268.4,292.0 1269.1,295.5 1269.7,299.8 1270.4,300.9 1271.1,298.4 1271.7,297.3 1272.4,294.0 1273.1,293.0 1273.7,294.7 1274.4,297.3 1275.1,300.1 1275.7,302.1 1276.4,299.8 1277.1,299.2 1277.7,299.2 1278.4,300.1 1279.1,299.2 1279.7,303.0 1280.4,305.4 1281.1,303.9 1281.7,304.1 1282.4,303.0 1283.1,302.1 1283.7,300.6 1284.4,297.8 1285.1,300.0 1285.7,299.9 1286.4,299.1 1287.1,296.0 1287.7,295.1 1288.4,293.2 1289.1,289.5 1289.7,289.2 1290.4,287.9 1291.1,284.2 1291.7,279.5 1292.4,281.2 1293.0,278.4 1293.7,276.6 1294.4,274.4 1295.0,277.6 1295.7,275.4 1296.4,277.9 1297.0,274.6 1297.7,276.3 1298.4,275.2 1299.0,269.9 1299.7,270.4 1300.4,269.8 1301.0,266.7 1301.7,267.4 1302.4,268.6 1303.0,271.2 1303.7,270.9 1304.4,271.8 1305.0,272.0 1305.7,272.0 1306.4,270.3 1307.0,267.5 1307.7,270.5 1308.4,270.2 1309.0,273.9 1309.7,277.3 1310.4,278.1 1311.0,275.8 1311.7,276.5 1312.4,278.8 1313.0,281.6 1313.7,283.9 1314.3,284.7 1315.0,283.3 1315.7,281.0 1316.3,286.9 1317.0,289.2 1317.7,287.6 1318.3,288.7 1319.0,291.0 1319.7,289.0 1320.3,289.5 1321.0,290.7 1321.7,293.7 1322.3,296.0 1323.0,296.2 1323.7,296.8 1324.3,297.3 1325.0,298.3 1325.7,301.7 1326.3,301.9 1327.0,304.0 1327.7,304.1 1328.3,303.1 1329.0,300.3 1329.7,301.3 1330.3,301.6 1331.0,300.3 1331.7,294.0 1332.3,290.7 1333.0,292.7 1333.7,291.1 1334.3,287.6 1335.0,286.7 1335.6,285.4 1336.3,285.4 1337.0,286.4 1337.6,286.9 1338.3,285.6 1339.0,285.1 1339.6,284.0 1340.3,284.9 1341.0,286.3 1341.6,286.8 1342.3,285.6 1343.0,280.9 1343.6,279.0 1344.3,273.5 1345.0,273.3 1345.6,273.4 1346.3,276.9 1347.0,280.0 1347.6,279.1 1348.3,274.5 1349.0,270.8 1349.6,268.9 1350.3,266.1 1351.0,265.3 1351.6,268.2 1352.3,269.7 1353.0,270.1 1353.6,273.7 1354.3,273.7 1355.0,275.4 1355.6,275.6 1356.3,272.9 1357.0,274.4 1357.6,274.6 1358.3,272.2 1358.9,271.4 1359.6,270.2 1360.3,267.5 1360.9,265.1 1361.6,265.7 1362.3,263.9 1362.9,261.7 1363.6,263.0 1364.3,265.3 1364.9,267.9 1365.6,267.0 1366.3,264.4 1366.9,266.0 1367.6,263.2 1368.3,263.2 1368.9,264.3 1369.6,269.5 1370.3,271.1 1370.9,270.4 1371.6,270.6 1372.3,272.0 1372.9,268.3 1373.6,266.1 1374.3,269.2 1374.9,270.7 1375.6,270.2 1376.3,268.0 1376.9,266.9 1377.6,263.4 1378.3,261.7 1378.9,262.8 1379.6,263.4 1380.2,265.5 1380.9,265.9 1381.6,265.0 1382.2,263.8 1382.9,260.9 1383.6,260.6 1384.2,260.8 1384.9,260.6 1385.6,258.8 1386.2,255.9 1386.9,257.0 1387.6,254.9 1388.2,255.5 1388.9,254.6 1389.6,257.0 1390.2,258.0 1390.9,259.5 1391.6,261.4 1392.2,262.7 1392.9,263.1 1393.6,263.7 1394.2,264.5 1394.9,263.3 1395.6,261.8 1396.2,260.3 1396.9,258.6 1397.6,257.2 1398.2,258.9 1398.9,257.9 1399.6,261.3 1400.2,261.9 1400.9,262.6 1401.6,262.7 1402.2,260.3 1402.9,260.4 1403.5,262.2 1404.2,263.0 1404.9,263.7 1405.5,263.0 1406.2,266.3 1406.9,268.3 1407.5,269.6 1408.2,270.2 1408.9,268.1 1409.5,269.4 1410.2,266.6 1410.9,265.7 1411.5,267.5 1412.2,267.6 1412.9,267.9 1413.5,266.2 1414.2,268.1 1414.9,269.1 1415.5,269.6 1416.2,271.8 1416.9,271.9 1417.5,272.7 1418.2,274.3 1418.9,276.4 1419.5,276.6 1420.2,275.8 1420.9,276.0 1421.5,278.5 1422.2,278.4 1422.9,279.3 1423.5,280.7 1424.2,281.5 1424.8,282.5 1425.5,281.1 1426.2,280.3 1426.8,281.6 1427.5,282.7 1428.2,284.3 1428.8,282.3 1429.5,282.2 1430.2,281.5 1430.8,281.4 1431.5,281.2 1432.2,281.4 1432.8,281.0 1433.5,280.2 1434.2,283.6 1434.8,283.6 1435.5,283.7 1436.2,282.9 1436.8,286.2 1437.5,283.7 1438.2,283.4 1438.8,283.2 1439.5,283.3 1440.2,282.0 1440.8,280.5 1441.5,283.7 1442.2,285.3 1442.8,285.6 1443.5,285.0 1444.2,285.0 1444.8,285.5 1445.5,284.2 1446.2,285.0 1446.8,285.1 1447.5,286.3 1448.1,287.4 1448.8,287.5 1449.5,290.3 1450.1,292.3 1450.8,291.7 1451.5,291.1 1452.1,291.3 1452.8,293.2 1453.5,295.4 1454.1,294.7 1454.8,294.8 1455.5,295.7 1456.1,296.2 1456.8,295.1 1457.5,294.9 1458.1,292.9 1458.8,294.5 1459.5,294.0 1460.1,291.9 1460.8,290.9 1461.5,290.5 1462.1,288.1 1462.8,285.8 1463.5,283.2 1464.1,282.3 1464.8,281.4 1465.5,281.9 1466.1,280.0 1466.8,277.5 1467.5,275.8 1468.1,275.5 1468.8,272.9 1469.4,272.5 1470.1,270.5 1470.8,268.6 1471.4,268.5 1472.1,270.6 1472.8,269.6 1473.4,269.5 1474.1,268.1 1474.8,267.9 1475.4,267.5 1476.1,267.0 1476.8,267.4 1477.4,267.6 1478.1,266.6 1478.8,265.0 1479.4,265.1 1480.1,266.1 1480.8,267.6 1481.4,266.9 1482.1,265.4 1482.8,262.7 1483.4,261.2 1484.1,261.2 1484.8,260.4 1485.4,260.6 1486.1,259.6 1486.8,258.1 1487.4,257.0 1488.1,254.9 1488.8,255.2 1489.4,257.5 1490.1,257.6 1490.7,257.3 1491.4,256.3 1492.1,254.4 1492.7,253.4 1493.4,251.2 1494.1,250.9 1494.7,250.1 1495.4,249.6 1496.1,249.9 1496.7,250.9 1497.4,251.4 1498.1,251.3 1498.7,251.7 1499.4,250.8 1500.1,250.6 1500.7,250.9 1501.4,251.2 1502.1,251.7 1502.7,250.2 1503.4,251.5 1504.1,252.4 1504.7,254.4 1505.4,255.2 1506.1,256.5 1506.7,256.0 1507.4,254.4 1508.1,254.3 1508.7,253.9 1509.4,253.5 1510.1,253.0 1510.7,253.2 1511.4,253.9 1512.1,255.8 1512.7,254.8 1513.4,255.6 1514.0,254.1 1514.7,253.3 1515.4,252.5 1516.0,251.6 1516.7,252.9 1517.4,252.4 1518.0,252.1 1518.7,252.5 1519.4,250.3 1520.0,248.8 1520.7,249.9 1521.4,249.8 1522.0,250.2 1522.7,250.1 1523.4,250.3 1524.0,251.8 1524.7,251.6 1525.4,251.4 1526.0,251.3 1526.7,251.0 1527.4,250.6 1528.0,250.5 1528.7,251.3 1529.4,252.0 1530.0,251.8 1530.7,251.2 1531.4,251.5 1532.0,251.7 1532.7,251.7 1533.4,251.7 1534.0,250.8 1534.7,250.5 1535.3,248.7 1536.0,249.5 1536.7,248.9 1537.3,248.8 1538.0,248.9 1538.7,249.2 1539.3,250.0 1540.0,251.3 1540.7,249.7 1541.3,248.4 1542.0,249.3 1542.7,249.2 1543.3,248.6 1544.0,248.1 1544.7,248.1 1545.3,248.5 1546.0,248.0" fill="none" stroke="#f6b48f" stroke-width="3.9" stroke-linejoin="round"/>
<rect x="32.25" y="125.35" width="82.8" height="391.2" fill="#fff" stroke="#2b2b30" stroke-width="2.5"/>
<path d="M34.6,125.1 34.6,126.6 34.6,128.1 34.6,129.6 34.6,131.1 34.6,132.6 34.6,134.1 34.6,135.6 34.6,137.1 34.6,138.6 34.6,140.1 34.6,141.6 34.6,143.1 34.6,144.6 34.6,146.1 34.6,147.6 34.6,149.1 34.6,150.6 34.6,152.1 34.6,153.6 34.6,155.1 34.6,156.6 34.6,158.1 34.6,159.6 34.6,161.1 34.6,162.6 34.6,164.1 34.6,165.6 34.6,167.1 34.6,168.6 34.6,170.1 34.6,171.6 34.6,173.1 34.6,174.6 34.6,176.1 34.6,177.6 34.6,179.1 34.6,180.6 34.6,182.1 34.6,183.6 34.6,185.1 34.6,186.6 34.6,188.1 34.6,189.6 34.6,191.1 34.6,192.6 34.6,194.1 34.6,195.6 34.6,197.1 34.6,198.6 34.6,200.1 34.6,201.6 34.6,203.1 34.7,204.6 34.7,206.1 34.8,207.6 34.9,209.1 35.0,210.6 35.2,212.1 35.5,213.6 35.8,215.1 36.4,216.6 37.0,218.1 37.9,219.6 39.1,221.1 40.5,222.6 42.3,224.1 44.6,225.6 47.2,227.1 50.4,228.6 54.0,230.1 58.1,231.6 62.7,233.1 67.7,234.6 73.0,236.1 78.5,237.6 84.0,239.1 89.4,240.6 94.5,242.1 99.1,243.6 103.0,245.1 106.1,246.6 108.2,248.1 109.3,249.6 109.2,251.1 108.1,252.6 105.9,254.1 102.8,255.6 98.8,257.1 94.2,258.6 89.0,260.1 83.6,261.6 78.1,263.1 72.6,264.6 67.4,266.1 62.4,267.6 57.9,269.1 53.8,270.6 50.1,272.1 47.0,273.6 44.4,275.1 42.2,276.6 40.4,278.1 39.0,279.6 37.9,281.1 37.0,282.6 36.3,284.1 35.8,285.6 35.5,287.1 35.2,288.6 35.0,290.1 34.9,291.6 34.8,293.1 34.7,294.6 34.7,296.1 34.6,297.6 34.6,299.1 34.6,300.6 34.6,302.1 34.6,303.6 34.6,305.1 34.6,306.6 34.6,308.1 34.6,309.6 34.6,311.1 34.6,312.6 34.6,314.1 34.6,315.6 34.6,317.1 34.6,318.6 34.6,320.1 34.6,321.6 34.6,323.1 34.6,324.6 34.6,326.1 34.6,327.6 34.6,329.1 34.6,330.6 34.6,332.1 34.6,333.6 34.6,335.1 34.6,336.6 34.6,338.1 34.6,339.6 34.6,341.1 34.6,342.6 34.7,344.1 34.7,345.6 34.8,347.1 34.9,348.6 35.0,350.1 35.2,351.6 35.5,353.1 35.9,354.6 36.4,356.1 37.1,357.6 38.0,359.1 39.2,360.6 40.6,362.1 42.5,363.6 44.7,365.1 47.4,366.6 50.6,368.1 54.3,369.6 58.4,371.1 63.1,372.6 68.1,374.1 73.4,375.6 78.9,377.1 84.4,378.6 89.8,380.1 94.8,381.6 99.4,383.1 103.2,384.6 106.3,386.1 108.3,387.6 109.3,389.1 109.2,390.6 108.0,392.1 105.7,393.6 102.5,395.1 98.5,396.6 93.8,398.1 88.7,399.6 83.3,401.1 77.8,402.6 72.3,404.1 67.0,405.6 62.1,407.1 57.6,408.6 53.5,410.1 49.9,411.6 46.8,413.1 44.2,414.6 42.1,416.1 40.3,417.6 38.9,419.1 37.8,420.6 36.9,422.1 36.3,423.6 35.8,425.1 35.4,426.6 35.2,428.1 35.0,429.6 34.9,431.1 34.8,432.6 34.7,434.1 34.7,435.6 34.6,437.1 34.6,438.6 34.6,440.1 34.6,441.6 34.6,443.1 34.6,444.6 34.6,446.1 34.6,447.6 34.6,449.1 34.6,450.6 34.6,452.1 34.6,453.6 34.6,455.1 34.6,456.6 34.6,458.1 34.6,459.6 34.6,461.1 34.6,462.6 34.6,464.1 34.6,465.6 34.6,467.1 34.6,468.6 34.6,470.1 34.6,471.6 34.6,473.1 34.6,474.6 34.6,476.1 34.6,477.6 34.6,479.1 34.6,480.6 34.6,482.1 34.6,483.6 34.6,485.1 34.6,486.6 34.6,488.1 34.6,489.6 34.6,491.1 34.6,492.6 34.6,494.1 34.6,495.6 34.6,497.1 34.6,498.6 34.6,500.1 34.6,501.6 34.6,503.1 34.6,504.6 34.6,506.1 34.6,507.6 34.6,509.1 34.6,510.6 34.6,512.1 34.6,513.6 34.6,515.1 34.6,516.6" fill="none" stroke="url(#g0)" stroke-width="4.3" stroke-linejoin="round"/>
<rect x="791.55" y="125.35" width="83.9" height="391.2" fill="#fff" stroke="#2b2b30" stroke-width="2.5"/>
<path d="M795.5,125.1 795.6,126.6 795.7,128.1 795.8,129.6 795.9,131.1 796.0,132.6 796.1,134.1 796.2,135.6 796.4,137.1 796.5,138.6 796.7,140.1 796.8,141.6 797.0,143.1 797.2,144.6 797.3,146.1 797.5,147.6 797.7,149.1 797.9,150.6 798.1,152.1 798.4,153.6 798.6,155.1 798.8,156.6 799.1,158.1 799.4,159.6 799.6,161.1 799.9,162.6 800.2,164.1 800.5,165.6 800.8,167.1 801.2,168.6 801.5,170.1 801.9,171.6 802.2,173.1 802.6,174.6 803.0,176.1 803.4,177.6 803.8,179.1 804.3,180.6 804.7,182.1 805.2,183.6 805.7,185.1 806.2,186.6 806.7,188.1 807.2,189.6 807.7,191.1 808.3,192.6 808.9,194.1 809.4,195.6 810.0,197.1 810.7,198.6 811.3,200.1 811.9,201.6 812.6,203.1 813.3,204.6 814.0,206.1 814.7,207.6 815.4,209.1 816.1,210.6 816.9,212.1 817.7,213.6 818.4,215.1 819.2,216.6 820.0,218.1 820.9,219.6 821.7,221.1 822.5,222.6 823.4,224.1 824.3,225.6 825.2,227.1 826.0,228.6 827.0,230.1 827.9,231.6 828.8,233.1 829.7,234.6 830.7,236.1 831.6,237.6 832.6,239.1 833.5,240.6 834.5,242.1 835.5,243.6 836.4,245.1 837.4,246.6 838.4,248.1 839.4,249.6 840.4,251.1 841.3,252.6 842.3,254.1 843.3,255.6 844.3,257.1 845.2,258.6 846.2,260.1 847.1,261.6 848.1,263.1 849.0,264.6 850.0,266.1 850.9,267.6 851.8,269.1 852.7,270.6 853.6,272.1 854.4,273.6 855.3,275.1 856.1,276.6 856.9,278.1 857.7,279.6 858.5,281.1 859.3,282.6 860.0,284.1 860.7,285.6 861.4,287.1 862.1,288.6 862.7,290.1 863.3,291.6 863.9,293.1 864.5,294.6 865.0,296.1 865.5,297.6 866.0,299.1 866.5,300.6 866.9,302.1 867.3,303.6 867.6,305.1 867.9,306.6 868.2,308.1 868.5,309.6 868.7,311.1 868.9,312.6 869.0,314.1 869.2,315.6 869.2,317.1 869.3,318.6 869.3,320.1 869.3,321.6 869.2,323.1 869.1,324.6 869.0,326.1 868.9,327.6 868.7,329.1 868.4,330.6 868.2,332.1 867.9,333.6 867.6,335.1 867.2,336.6 866.8,338.1 866.4,339.6 866.0,341.1 865.5,342.6 865.0,344.1 864.4,345.6 863.9,347.1 863.3,348.6 862.6,350.1 862.0,351.6 861.3,353.1 860.6,354.6 859.9,356.1 859.2,357.6 858.4,359.1 857.6,360.6 856.8,362.1 856.0,363.6 855.2,365.1 854.3,366.6 853.4,368.1 852.6,369.6 851.7,371.1 850.8,372.6 849.8,374.1 848.9,375.6 848.0,377.1 847.0,378.6 846.1,380.1 845.1,381.6 844.1,383.1 843.2,384.6 842.2,386.1 841.2,387.6 840.2,389.1 839.2,390.6 838.3,392.1 837.3,393.6 836.3,395.1 835.3,396.6 834.4,398.1 833.4,399.6 832.4,401.1 831.5,402.6 830.5,404.1 829.6,405.6 828.7,407.1 827.7,408.6 826.8,410.1 825.9,411.6 825.0,413.1 824.2,414.6 823.3,416.1 822.4,417.6 821.6,419.1 820.7,420.6 819.9,422.1 819.1,423.6 818.3,425.1 817.5,426.6 816.8,428.1 816.0,429.6 815.3,431.1 814.6,432.6 813.9,434.1 813.2,435.6 812.5,437.1 811.8,438.6 811.2,440.1 810.6,441.6 810.0,443.1 809.4,444.6 808.8,446.1 808.2,447.6 807.7,449.1 807.1,450.6 806.6,452.1 806.1,453.6 805.6,455.1 805.1,456.6 804.7,458.1 804.2,459.6 803.8,461.1 803.4,462.6 803.0,464.1 802.6,465.6 802.2,467.1 801.8,468.6 801.5,470.1 801.1,471.6 800.8,473.1 800.5,474.6 800.2,476.1 799.9,477.6 799.6,479.1 799.3,480.6 799.1,482.1 798.8,483.6 798.6,485.1 798.3,486.6 798.1,488.1 797.9,489.6 797.7,491.1 797.5,492.6 797.3,494.1 797.1,495.6 797.0,497.1 796.8,498.6 796.7,500.1 796.5,501.6 796.4,503.1 796.2,504.6 796.1,506.1 796.0,507.6 795.9,509.1 795.8,510.6 795.6,512.1 795.5,513.6 795.5,515.1 795.4,516.6" fill="none" stroke="url(#gT)" stroke-width="4.3" stroke-linejoin="round"/>
<rect x="1552.05" y="125.35" width="82.9" height="391.2" fill="#fff" stroke="#2b2b30" stroke-width="2.5"/>
<path d="M1554.4,125.1 1554.4,126.6 1554.4,128.1 1554.4,129.6 1554.4,131.1 1554.4,132.6 1554.4,134.1 1554.4,135.6 1554.4,137.1 1554.4,138.6 1554.4,140.1 1554.4,141.6 1554.4,143.1 1554.4,144.6 1554.4,146.1 1554.4,147.6 1554.4,149.1 1554.4,150.6 1554.4,152.1 1554.4,153.6 1554.4,155.1 1554.4,156.6 1554.4,158.1 1554.4,159.6 1554.4,161.1 1554.4,162.6 1554.4,164.1 1554.4,165.6 1554.4,167.1 1554.4,168.6 1554.4,170.1 1554.4,171.6 1554.4,173.1 1554.4,174.6 1554.4,176.1 1554.4,177.6 1554.4,179.1 1554.4,180.6 1554.4,182.1 1554.4,183.6 1554.4,185.1 1554.4,186.6 1554.4,188.1 1554.4,189.6 1554.4,191.1 1554.4,192.6 1554.4,194.1 1554.4,195.6 1554.4,197.1 1554.4,198.6 1554.4,200.1 1554.4,201.6 1554.4,203.1 1554.5,204.6 1554.5,206.1 1554.6,207.6 1554.7,209.1 1554.8,210.6 1555.0,212.1 1555.3,213.6 1555.6,215.1 1556.2,216.6 1556.8,218.1 1557.7,219.6 1558.9,221.1 1560.3,222.6 1562.1,224.1 1564.4,225.6 1567.0,227.1 1570.2,228.6 1573.8,230.1 1577.9,231.6 1582.5,233.1 1587.5,234.6 1592.8,236.1 1598.3,237.6 1603.8,239.1 1609.2,240.6 1614.3,242.1 1618.9,243.6 1622.8,245.1 1625.9,246.6 1628.0,248.1 1629.1,249.6 1629.0,251.1 1627.9,252.6 1625.7,254.1 1622.6,255.6 1618.6,257.1 1614.0,258.6 1608.8,260.1 1603.4,261.6 1597.9,263.1 1592.4,264.6 1587.2,266.1 1582.2,267.6 1577.7,269.1 1573.6,270.6 1569.9,272.1 1566.8,273.6 1564.2,275.1 1562.0,276.6 1560.2,278.1 1558.8,279.6 1557.7,281.1 1556.8,282.6 1556.1,284.1 1555.6,285.6 1555.3,287.1 1555.0,288.6 1554.8,290.1 1554.7,291.6 1554.6,293.1 1554.5,294.6 1554.5,296.1 1554.4,297.6 1554.4,299.1 1554.4,300.6 1554.4,302.1 1554.4,303.6 1554.4,305.1 1554.4,306.6 1554.4,308.1 1554.4,309.6 1554.4,311.1 1554.4,312.6 1554.4,314.1 1554.4,315.6 1554.4,317.1 1554.4,318.6 1554.4,320.1 1554.4,321.6 1554.4,323.1 1554.4,324.6 1554.4,326.1 1554.4,327.6 1554.4,329.1 1554.4,330.6 1554.4,332.1 1554.4,333.6 1554.4,335.1 1554.4,336.6 1554.4,338.1 1554.4,339.6 1554.4,341.1 1554.4,342.6 1554.5,344.1 1554.5,345.6 1554.6,347.1 1554.7,348.6 1554.8,350.1 1555.0,351.6 1555.3,353.1 1555.7,354.6 1556.2,356.1 1556.9,357.6 1557.8,359.1 1559.0,360.6 1560.4,362.1 1562.3,363.6 1564.5,365.1 1567.2,366.6 1570.4,368.1 1574.1,369.6 1578.2,371.1 1582.9,372.6 1587.9,374.1 1593.2,375.6 1598.7,377.1 1604.2,378.6 1609.6,380.1 1614.6,381.6 1619.2,383.1 1623.0,384.6 1626.1,386.1 1628.1,387.6 1629.1,389.1 1629.0,390.6 1627.8,392.1 1625.5,393.6 1622.3,395.1 1618.3,396.6 1613.6,398.1 1608.5,399.6 1603.1,401.1 1597.6,402.6 1592.1,404.1 1586.8,405.6 1581.9,407.1 1577.4,408.6 1573.3,410.1 1569.7,411.6 1566.6,413.1 1564.0,414.6 1561.9,416.1 1560.1,417.6 1558.7,419.1 1557.6,420.6 1556.7,422.1 1556.1,423.6 1555.6,425.1 1555.2,426.6 1555.0,428.1 1554.8,429.6 1554.7,431.1 1554.6,432.6 1554.5,434.1 1554.5,435.6 1554.4,437.1 1554.4,438.6 1554.4,440.1 1554.4,441.6 1554.4,443.1 1554.4,444.6 1554.4,446.1 1554.4,447.6 1554.4,449.1 1554.4,450.6 1554.4,452.1 1554.4,453.6 1554.4,455.1 1554.4,456.6 1554.4,458.1 1554.4,459.6 1554.4,461.1 1554.4,462.6 1554.4,464.1 1554.4,465.6 1554.4,467.1 1554.4,468.6 1554.4,470.1 1554.4,471.6 1554.4,473.1 1554.4,474.6 1554.4,476.1 1554.4,477.6 1554.4,479.1 1554.4,480.6 1554.4,482.1 1554.4,483.6 1554.4,485.1 1554.4,486.6 1554.4,488.1 1554.4,489.6 1554.4,491.1 1554.4,492.6 1554.4,494.1 1554.4,495.6 1554.4,497.1 1554.4,498.6 1554.4,500.1 1554.4,501.6 1554.4,503.1 1554.4,504.6 1554.4,506.1 1554.4,507.6 1554.4,509.1 1554.4,510.6 1554.4,512.1 1554.4,513.6 1554.4,515.1 1554.4,516.6" fill="none" stroke="url(#g1)" stroke-width="4.3" stroke-linejoin="round"/>
<path d="M116.5,406.0 l11,11 m0,-11 l-11,11" stroke="#35193e" stroke-width="4" fill="none"/>
<path d="M780.5,350.1 l11,11 m0,-11 l-11,11" stroke="#35193e" stroke-width="4" fill="none"/>
<path d="M116.5,387.3 l11,11 m0,-11 l-11,11" stroke="#701f57" stroke-width="4" fill="none"/>
<path d="M780.5,357.8 l11,11 m0,-11 l-11,11" stroke="#701f57" stroke-width="4" fill="none"/>
<path d="M116.5,370.8 l11,11 m0,-11 l-11,11" stroke="#ad1759" stroke-width="4" fill="none"/>
<path d="M780.5,356.4 l11,11 m0,-11 l-11,11" stroke="#ad1759" stroke-width="4" fill="none"/>
<path d="M116.5,258.7 l11,11 m0,-11 l-11,11" stroke="#e13342" stroke-width="4" fill="none"/>
<path d="M780.5,216.9 l11,11 m0,-11 l-11,11" stroke="#e13342" stroke-width="4" fill="none"/>
<path d="M116.5,241.7 l11,11 m0,-11 l-11,11" stroke="#f37651" stroke-width="4" fill="none"/>
<path d="M780.5,256.3 l11,11 m0,-11 l-11,11" stroke="#f37651" stroke-width="4" fill="none"/>
<path d="M116.5,223.1 l11,11 m0,-11 l-11,11" stroke="#f6b48f" stroke-width="4" fill="none"/>
<path d="M780.5,239.0 l11,11 m0,-11 l-11,11" stroke="#f6b48f" stroke-width="4" fill="none"/>
<path d="M875.5,438.1 l11,11 m0,-11 l-11,11" stroke="#35193e" stroke-width="4" fill="none"/>
<path d="M1540.5,391.7 l11,11 m0,-11 l-11,11" stroke="#35193e" stroke-width="4" fill="none"/>
<path d="M875.5,372.8 l11,11 m0,-11 l-11,11" stroke="#701f57" stroke-width="4" fill="none"/>
<path d="M1540.5,406.7 l11,11 m0,-11 l-11,11" stroke="#701f57" stroke-width="4" fill="none"/>
<path d="M875.5,327.6 l11,11 m0,-11 l-11,11" stroke="#ad1759" stroke-width="4" fill="none"/>
<path d="M1540.5,253.4 l11,11 m0,-11 l-11,11" stroke="#ad1759" stroke-width="4" fill="none"/>
<path d="M875.5,296.7 l11,11 m0,-11 l-11,11" stroke="#e13342" stroke-width="4" fill="none"/>
<path d="M1540.5,376.2 l11,11 m0,-11 l-11,11" stroke="#e13342" stroke-width="4" fill="none"/>
<path d="M875.5,259.2 l11,11 m0,-11 l-11,11" stroke="#f37651" stroke-width="4" fill="none"/>
<path d="M1540.5,260.1 l11,11 m0,-11 l-11,11" stroke="#f37651" stroke-width="4" fill="none"/>
<path d="M875.5,193.1 l11,11 m0,-11 l-11,11" stroke="#f6b48f" stroke-width="4" fill="none"/>
<path d="M1540.5,242.5 l11,11 m0,-11 l-11,11" stroke="#f6b48f" stroke-width="4" fill="none"/>
<rect x="133.5" y="137" width="494.5" height="42" rx="4" fill="#fff" fill-opacity="0.5" stroke="#ccc" stroke-opacity="0.5" stroke-width="1.2"/>
<path d="M142.5,156.4H192" stroke="#e13342" stroke-width="3.2"/>
<path d="M305,156.4H354" stroke="#fff" stroke-width="3.2"/>
<text x="210.3" y="164.4" class="dj">SDE</text>
<text x="372.3" y="164.4" class="dj" textLength="244.9" lengthAdjust="spacing">Probability Flow ODE</text>
<path d="M108.5,78.6H293" stroke="#000" stroke-width="3.6"/>
<path d="M611.5,78.6H780.3" stroke="#000" stroke-width="3.6"/><path d="M800.3,78.6 L769.3,68.3 Q776.3,75.1 777.8,78.6 Q776.3,82.1 769.3,88.9 Z"/>
<path d="M864.3,78.6H921" stroke="#000" stroke-width="3.6"/>
<path d="M1507,78.6H1543" stroke="#000" stroke-width="3.6"/><path d="M1563,78.6 L1532,68.3 Q1539,75.1 1540.5,78.6 Q1539,82.1 1532,88.9 Z"/>
<path d="M115.7,540.4H401.4" stroke="#000" stroke-width="3.6"/>
<path d="M493.2,540.4H768" stroke="#000" stroke-width="3.6"/><path d="M788,540.4 L757,530.1 Q764,536.9 765.5,540.4 Q764,543.9 757,550.7 Z"/>
<path d="M876.1,540.4H1162.6" stroke="#000" stroke-width="3.6"/>
<path d="M1254.2,540.4H1529.1" stroke="#000" stroke-width="3.6"/><path d="M1549.1,540.4 L1518.1,530.1 Q1525.1,536.9 1526.6,540.4 Q1525.1,543.9 1518.1,550.7 Z"/>
<circle cx="76.15" cy="79.3" r="31.8" fill="#fff" stroke="#000" stroke-width="1.5"/>
<circle cx="832.3" cy="79.3" r="31.8" fill="#fff" stroke="#000" stroke-width="1.5"/>
<circle cx="1594.9" cy="79.3" r="31.8" fill="#fff" stroke="#000" stroke-width="1.5"/>
<text x="48.6" y="39.7" class="hv" textLength="53.2" lengthAdjust="spacing">Data</text>
<text x="374.9" y="39.7" class="hv" textLength="150.1" lengthAdjust="spacing">Forward SDE</text>
<text x="806.8" y="39.7" class="hv" textLength="52.7" lengthAdjust="spacing">Prior</text>
<text x="1145.4" y="39.7" class="hv" textLength="151.4" lengthAdjust="spacing">Reverse SDE</text>
<text x="1567.4" y="39.7" class="hv" textLength="53.2" lengthAdjust="spacing">Data</text>
<text transform="matrix(1.009 0 0 1 307.8 86.5)" class="r" font-size="28.3">d</text>
<text transform="matrix(1.142 0 0 1 324.4 86.5)" class="i" font-size="28.3">x</text>
<text transform="matrix(1.400 0 0 1 347.5 86.5)" class="r" font-size="28.3">=</text>
<text transform="matrix(1.194 0 0 1 379.6 86.5)" class="i" font-size="28.3">f</text>
<text transform="matrix(0.737 0 0 1 395.7 87.9)" class="r" font-size="33.8">(</text>
<text transform="matrix(1.173 0 0 1 407.1 86.5)" class="i" font-size="28.3">x</text>
<text transform="matrix(0.949 0 0 1 423.5 86.5)" class="r" font-size="28.3">,</text>
<text transform="matrix(1.239 0 0 1 432.3 86.5)" class="i" font-size="28.3">t</text>
<text transform="matrix(0.795 0 0 1 444.4 87.9)" class="r" font-size="33.8">)</text>
<text transform="matrix(1.001 0 0 1 454.2 86.5)" class="r" font-size="28.3">d</text>
<text transform="matrix(1.266 0 0 1 468.8 86.5)" class="i" font-size="28.3">t</text>
<text transform="matrix(1.400 0 0 1 486.0 86.5)" class="r" font-size="28.3">+</text>
<text transform="matrix(0.969 0 0 1 515.5 86.5)" class="i" font-size="28.3">g</text>
<text transform="matrix(0.749 0 0 1 530.7 87.9)" class="r" font-size="33.8">(</text>
<text transform="matrix(1.294 0 0 1 539.3 86.5)" class="i" font-size="28.3">t</text>
<text transform="matrix(0.795 0 0 1 551.2 87.9)" class="r" font-size="33.8">)</text>
<text transform="matrix(1.009 0 0 1 561.0 86.5)" class="r" font-size="28.3">d</text>
<text transform="matrix(1.101 0 0 1 576.2 86.5)" class="i" font-size="28.3">w</text>
<text transform="matrix(1.009 0 0 1 935.4 86.5)" class="r" font-size="28.3">d</text>
<text transform="matrix(1.173 0 0 1 952.0 86.5)" class="i" font-size="28.3">x</text>
<text transform="matrix(1.400 0 0 1 974.9 86.5)" class="r" font-size="28.3">=</text>
<text transform="matrix(0.700 0 0 1 1007.7 91.4)" class="r" font-size="41.8">[</text>
<text transform="matrix(1.092 0 0 1 1017.7 86.5)" class="i" font-size="28.3">f</text>
<text transform="matrix(0.749 0 0 1 1032.1 87.9)" class="r" font-size="33.8">(</text>
<text transform="matrix(1.165 0 0 1 1044.1 86.5)" class="i" font-size="28.3">x</text>
<text transform="matrix(0.973 0 0 1 1059.9 86.5)" class="r" font-size="28.3">,</text>
<text transform="matrix(1.253 0 0 1 1068.4 86.5)" class="i" font-size="28.3">t</text>
<text transform="matrix(0.806 0 0 1 1080.1 87.9)" class="r" font-size="33.8">)</text>
<text transform="matrix(1.400 0 0 1 1099.2 86.5)" class="r" font-size="28.3">−</text>
<text transform="matrix(0.977 0 0 1 1128.0 86.5)" class="i" font-size="28.3">g</text>
<text transform="matrix(0.737 0 0 1 1155.3 87.9)" class="r" font-size="33.8">(</text>
<text transform="matrix(1.253 0 0 1 1164.4 86.5)" class="i" font-size="28.3">t</text>
<text transform="matrix(0.806 0 0 1 1176.1 87.9)" class="r" font-size="33.8">)</text>
<text transform="matrix(1.311 0 0 1 1187.1 86.3)" class="ds" font-size="26">∇</text>
<text transform="matrix(0.930 0 0 1 1229.4 86.5)" class="r" font-size="28.3">log</text>
<text transform="matrix(1.037 0 0 1 1269.2 86.5)" class="i" font-size="28.3">p</text>
<text transform="matrix(0.772 0 0 1 1294.9 87.9)" class="r" font-size="33.8">(</text>
<text transform="matrix(1.181 0 0 1 1306.4 86.5)" class="i" font-size="28.3">x</text>
<text transform="matrix(0.806 0 0 1 1322.1 87.9)" class="r" font-size="33.8">)</text>
<text transform="matrix(0.700 0 0 1 1332.6 91.4)" class="r" font-size="41.8">]</text>
<text transform="matrix(1.001 0 0 1 1349.6 86.5)" class="r" font-size="28.3">d</text>
<text transform="matrix(1.239 0 0 1 1363.9 86.5)" class="i" font-size="28.3">t</text>
<text transform="matrix(1.382 0 0 1 1381.9 86.5)" class="r" font-size="28.3">+</text>
<text transform="matrix(0.962 0 0 1 1411.0 86.5)" class="i" font-size="28.3">g</text>
<text transform="matrix(0.772 0 0 1 1424.9 87.9)" class="r" font-size="33.8">(</text>
<text transform="matrix(1.239 0 0 1 1434.1 86.5)" class="i" font-size="28.3">t</text>
<text transform="matrix(0.749 0 0 1 1446.2 87.9)" class="r" font-size="33.8">)</text>
<text transform="matrix(1.033 0 0 1 1455.7 86.5)" class="r" font-size="28.3">d</text>
<text transform="matrix(1.056 0 0 1 1472.3 86.5)" class="i" font-size="28.3">w</text>
<text transform="matrix(1.060 0 0 1 1141.1 76.3)" class="r" font-size="20">2</text>
<text transform="matrix(1.137 0 0 1 1211.1 91.3)" class="i" font-size="20">x</text>
<text transform="matrix(1.378 0 0 1 1282.8 91.3)" class="i" font-size="20">t</text>
<path d="M1476.5,69.3H1489.5" stroke="#000" stroke-width="1.2"/>
<text transform="matrix(1.024 0 0 1 50.2 87.6)" class="i" font-size="28.5" fill="#1a1a1a">x</text>
<text transform="matrix(0.700 0 0 1 66.6 88.5)" class="r" font-size="31.5" fill="#1a1a1a">(</text>
<text transform="matrix(1.007 0 0 1 74.8 88.0)" class="r" font-size="30.7" fill="#1a1a1a">0</text>
<text transform="matrix(0.700 0 0 1 91.1 88.5)" class="r" font-size="31.5" fill="#1a1a1a">)</text>
<text transform="matrix(1.024 0 0 1 1568.9 87.6)" class="i" font-size="28.5" fill="#1a1a1a">x</text>
<text transform="matrix(0.700 0 0 1 1585.3 88.5)" class="r" font-size="31.5" fill="#1a1a1a">(</text>
<text transform="matrix(1.007 0 0 1 1593.6 88.0)" class="r" font-size="30.7" fill="#1a1a1a">0</text>
<text transform="matrix(0.700 0 0 1 1609.9 88.5)" class="r" font-size="31.5" fill="#1a1a1a">)</text>
<text transform="matrix(1.056 0 0 1 801.9 87.6)" class="i" font-size="28.5" fill="#1a1a1a">x</text>
<text transform="matrix(0.700 0 0 1 818.7 88.5)" class="r" font-size="31.5" fill="#1a1a1a">(</text>
<text transform="matrix(1.152 0 0 1 826.7 87.6)" class="i" font-size="30" fill="#1a1a1a">T</text>
<text transform="matrix(0.700 0 0 1 851.2 88.5)" class="r" font-size="31.5" fill="#1a1a1a">)</text>
<text transform="matrix(0.956 0 0 1 43.7 548.9)" class="i" font-size="28.3">p</text><text transform="matrix(0.956 0 0 1 56.7 554.1)" class="r" font-size="19.5">0</text><text transform="matrix(0.822 0 0 1 71.0 550.0)" class="r" font-size="32.7">(</text><text transform="matrix(1.071 0 0 1 83.1 548.9)" class="i" font-size="28.3">x</text><text transform="matrix(0.833 0 0 1 97.4 550.0)" class="r" font-size="32.7">)</text>
<text transform="matrix(0.956 0 0 1 416.8 548.9)" class="i" font-size="28.3">p</text><text transform="matrix(1.400 0 0 1 429.3 554.1)" class="i" font-size="19.5">t</text><text transform="matrix(0.822 0 0 1 443.2 550.0)" class="r" font-size="32.7">(</text><text transform="matrix(1.071 0 0 1 455.3 548.9)" class="i" font-size="28.3">x</text><text transform="matrix(0.833 0 0 1 469.6 550.0)" class="r" font-size="32.7">)</text>
<text transform="matrix(0.956 0 0 1 799.9 548.9)" class="i" font-size="28.3">p</text><text transform="matrix(1.231 0 0 1 812.0 554.1)" class="i" font-size="19.5">T</text><text transform="matrix(0.822 0 0 1 832.5 550.0)" class="r" font-size="32.7">(</text><text transform="matrix(1.071 0 0 1 844.6 548.9)" class="i" font-size="28.3">x</text><text transform="matrix(0.833 0 0 1 858.9 550.0)" class="r" font-size="32.7">)</text>
<text transform="matrix(0.956 0 0 1 1178.1 548.9)" class="i" font-size="28.3">p</text><text transform="matrix(1.400 0 0 1 1190.6 554.1)" class="i" font-size="19.5">t</text><text transform="matrix(0.822 0 0 1 1204.5 550.0)" class="r" font-size="32.7">(</text><text transform="matrix(1.071 0 0 1 1216.6 548.9)" class="i" font-size="28.3">x</text><text transform="matrix(0.833 0 0 1 1230.9 550.0)" class="r" font-size="32.7">)</text>
<text transform="matrix(0.956 0 0 1 1562.8 548.9)" class="i" font-size="28.3">p</text><text transform="matrix(0.956 0 0 1 1575.8 554.1)" class="r" font-size="19.5">0</text><text transform="matrix(0.822 0 0 1 1590.1 550.0)" class="r" font-size="32.7">(</text><text transform="matrix(1.071 0 0 1 1602.2 548.9)" class="i" font-size="28.3">x</text><text transform="matrix(0.833 0 0 1 1616.5 550.0)" class="r" font-size="32.7">)</text>
<text transform="matrix(1.055 0 0 1 7.4 330.1)" class="i" font-size="28.3">x</text>
</svg>
</body></html>
